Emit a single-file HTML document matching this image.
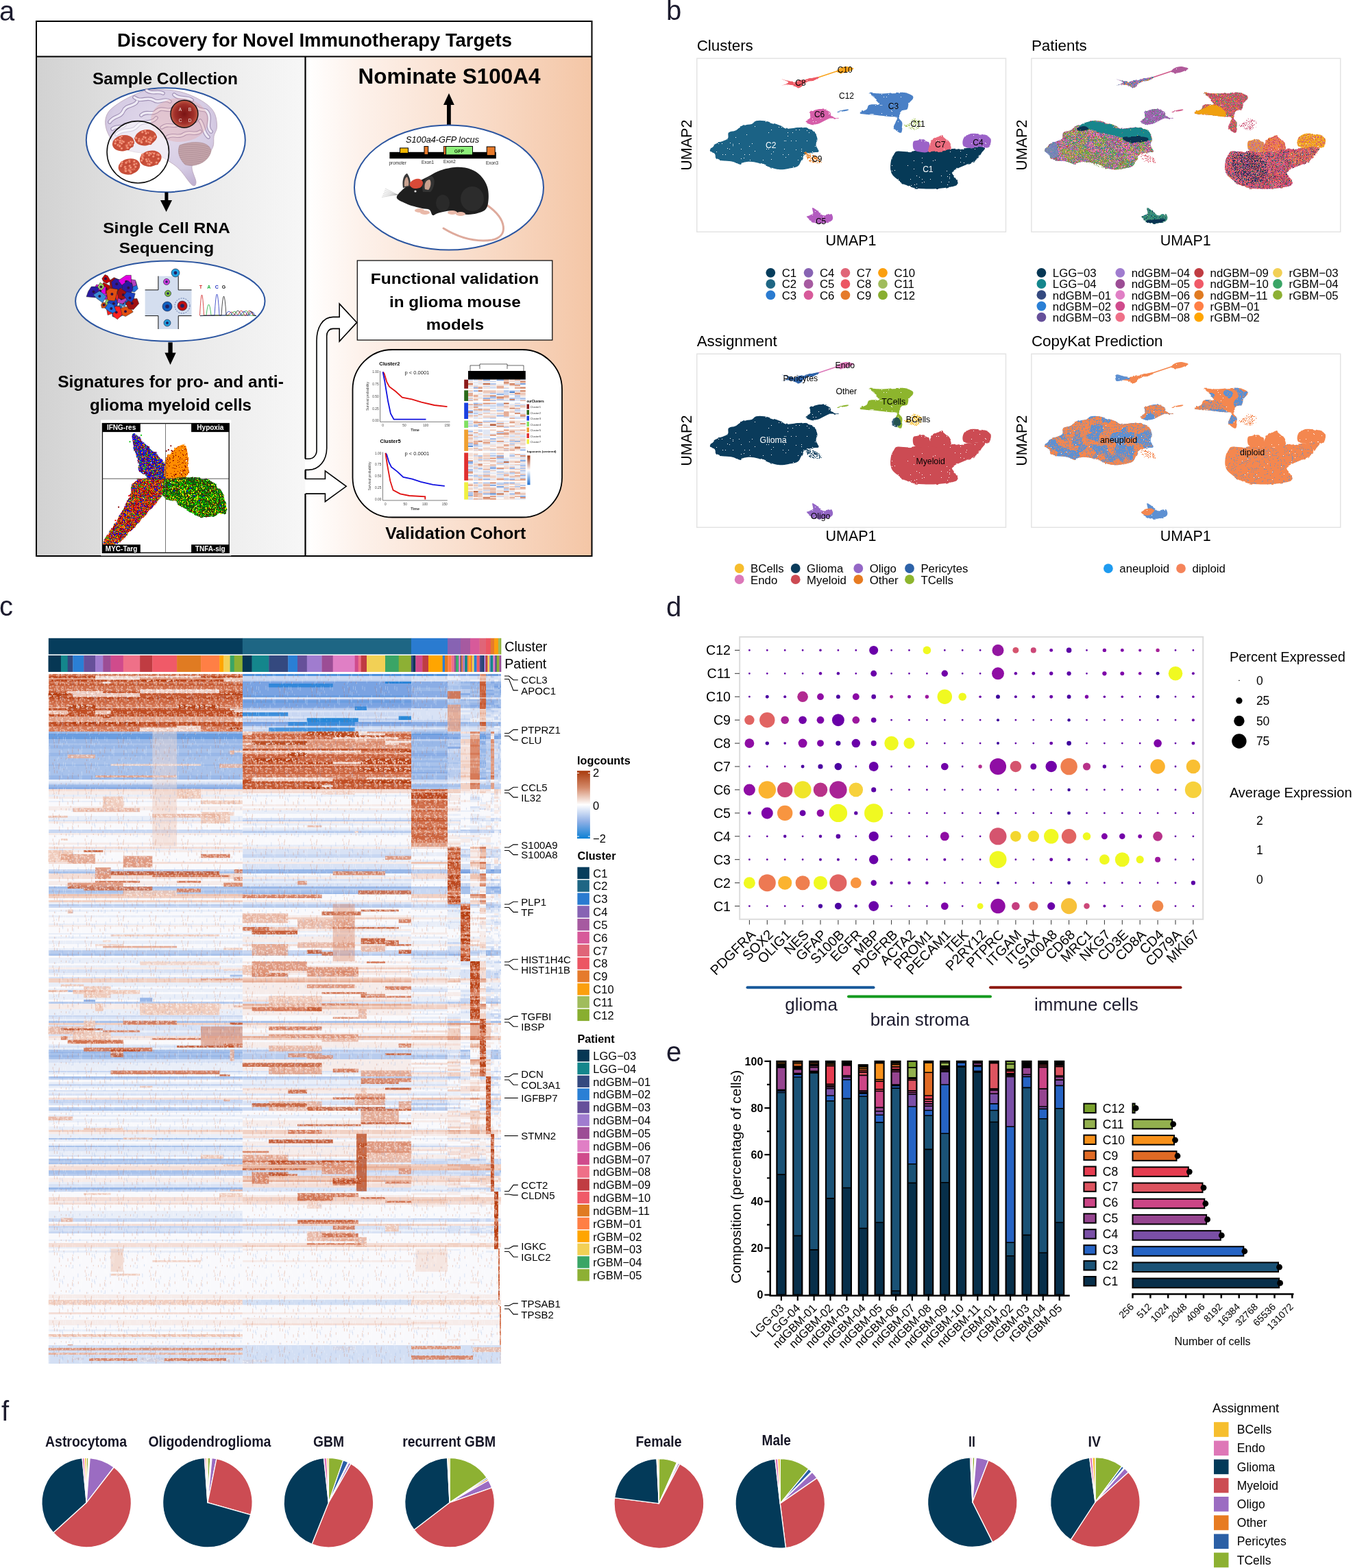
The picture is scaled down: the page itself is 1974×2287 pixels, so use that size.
<!DOCTYPE html>
<html><head><meta charset="utf-8"><title>Figure</title>
<style>
html,body{margin:0;padding:0;background:#fff;width:1974px;height:2287px;overflow:hidden}
svg{display:block;font-family:'Liberation Sans', Arial, Helvetica, sans-serif}
</style></head><body>
<svg xmlns="http://www.w3.org/2000/svg" width="1974" height="2287" viewBox="0 0 1974 2287">
<defs>
<linearGradient id="gL" x1="0" x2="1" y1="0" y2="0"><stop offset="0" stop-color="#d2d2d2"/><stop offset="0.45" stop-color="#e6e6e6"/><stop offset="1" stop-color="#f7f7f7"/></linearGradient>
<linearGradient id="gR" x1="0" x2="1" y1="0" y2="0"><stop offset="0" stop-color="#ffffff"/><stop offset="0.2" stop-color="#fdf1ea"/><stop offset="0.6" stop-color="#f9dcc9"/><stop offset="1" stop-color="#f4c6a6"/></linearGradient>
<radialGradient id="gTum" cx="0.5" cy="0.5" r="0.5"><stop offset="0" stop-color="#7a1414"/><stop offset="0.7" stop-color="#a1302a"/><stop offset="1" stop-color="#c25a45"/></radialGradient>
<radialGradient id="gBrain" cx="0.5" cy="0.4" r="0.65"><stop offset="0" stop-color="#e4dcec"/><stop offset="0.7" stop-color="#d6cce4"/><stop offset="1" stop-color="#bfb0d0"/></radialGradient>
<pattern id="pClus" width="6" height="6" patternUnits="userSpaceOnUse"><rect width="6" height="6" fill="#d9593f"/><circle cx="3" cy="3" r="1.6" fill="#f3a083"/></pattern>
</defs>
<text x="-1" y="30" font-size="40" fill="#1c1b2e">a</text>
<rect x="54" y="83" width="391.5" height="728" fill="url(#gL)"/>
<rect x="446" y="83" width="417" height="728" fill="url(#gR)"/>
<rect x="53" y="31" width="810.5" height="780" fill="none" stroke="#000" stroke-width="2"/>
<line x1="53" y1="82.5" x2="863.5" y2="82.5" stroke="#000" stroke-width="2"/>
<line x1="445.5" y1="82.5" x2="445.5" y2="669" stroke="#000" stroke-width="2.2"/>
<line x1="445.5" y1="720" x2="445.5" y2="811" stroke="#000" stroke-width="2.2"/>
<line x1="445.5" y1="685.5" x2="445.5" y2="698.5" stroke="#000" stroke-width="2.2"/>
<text x="459" y="67.5" font-size="27" text-anchor="middle" font-weight="bold" textLength="576" lengthAdjust="spacingAndGlyphs">Discovery for Novel Immunotherapy Targets</text>
<text x="241" y="122.8" font-size="24" text-anchor="middle" font-weight="bold" textLength="212" lengthAdjust="spacingAndGlyphs">Sample Collection</text>
<ellipse cx="241.8" cy="204.2" rx="116" ry="76" fill="#fff" stroke="#2b55a0" stroke-width="2"/>
<path d="M153.6 178.2C153.6 172.9 155.1 168 158 163.6C160.9 159.2 165.5 155.9 171.1 152C176.7 148.1 184.1 143.8 191.4 140.4C198.7 137 206.4 133.2 214.7 131.6C222.9 130 232.9 130.5 240.9 130.9C248.9 131.3 255.4 132 262.7 133.8C270 135.6 277.7 138.5 284.5 141.8C291.3 145.1 298.5 149.3 303.4 153.4C308.2 157.5 311.4 161.2 313.6 166.5C315.8 171.8 316.8 180.1 316.5 185.4C316.2 190.7 313.1 193.7 312.1 198.5C311.1 203.3 312.8 209.2 310.6 214.5C308.4 219.8 304.1 226 299 230.5C293.9 235 282.5 235.8 280.3 241.6C278.1 247.4 286 260.7 286 265.4C286 270.1 284.1 272.7 280.2 269.8C276.3 266.9 268.1 253.6 262.7 248C257.3 242.4 254.2 240.2 248.1 236.3C242 232.4 234.8 227.1 226.3 224.7C217.8 222.3 206.4 223.7 197.2 221.8C188 219.9 177.6 217.5 171.1 213.1C164.6 208.7 160.9 201.4 158 195.6C155.1 189.8 153.6 183.5 153.6 178.2Z" fill="url(#gBrain)" stroke="#b9a3b8" stroke-width="0.8"/>
<path d="M160 178 C166 168 176 172 180 162 C184 152 196 156 200 148" fill="none" stroke="#9f8fb4" stroke-width="5.6" stroke-linecap="round"/>
<path d="M170 196 C180 186 192 194 200 184 C208 174 220 182 228 172" fill="none" stroke="#9f8fb4" stroke-width="5.6" stroke-linecap="round"/>
<path d="M196 142 C206 150 214 140 224 146 C232 152 240 142 248 148" fill="none" stroke="#9f8fb4" stroke-width="5.6" stroke-linecap="round"/>
<path d="M228 162 C238 154 246 166 256 156 C262 150 270 156 276 150" fill="none" stroke="#9f8fb4" stroke-width="5.6" stroke-linecap="round"/>
<path d="M254 138 C262 146 272 140 280 146" fill="none" stroke="#9f8fb4" stroke-width="5.6" stroke-linecap="round"/>
<path d="M286 156 C294 164 300 156 304 166 C308 176 300 184 308 192" fill="none" stroke="#9f8fb4" stroke-width="5.6" stroke-linecap="round"/>
<path d="M292 176 C298 184 296 194 304 200" fill="none" stroke="#9f8fb4" stroke-width="5.6" stroke-linecap="round"/>
<path d="M206 168 C214 160 222 170 232 160" fill="none" stroke="#9f8fb4" stroke-width="5.6" stroke-linecap="round"/>
<path d="M180 206 C190 200 198 208 208 200" fill="none" stroke="#9f8fb4" stroke-width="5.6" stroke-linecap="round"/>
<path d="M236 186 C246 178 254 188 262 180 C270 172 278 182 286 176" fill="none" stroke="#9f8fb4" stroke-width="5.6" stroke-linecap="round"/>
<path d="M214 132 C222 138 230 132 238 136" fill="none" stroke="#9f8fb4" stroke-width="5.6" stroke-linecap="round"/>
<path d="M164 188 C170 182 176 188 182 182" fill="none" stroke="#9f8fb4" stroke-width="5.6" stroke-linecap="round"/>
<path d="M268 196 C276 190 284 198 292 192" fill="none" stroke="#9f8fb4" stroke-width="5.6" stroke-linecap="round"/>
<path d="M244 200 C252 194 260 202 268 196" fill="none" stroke="#9f8fb4" stroke-width="5.6" stroke-linecap="round"/>
<path d="M160 178 C166 168 176 172 180 162 C184 152 196 156 200 148" fill="none" stroke="#eeeaf5" stroke-width="3.4" stroke-linecap="round"/>
<path d="M170 196 C180 186 192 194 200 184 C208 174 220 182 228 172" fill="none" stroke="#eeeaf5" stroke-width="3.4" stroke-linecap="round"/>
<path d="M196 142 C206 150 214 140 224 146 C232 152 240 142 248 148" fill="none" stroke="#eeeaf5" stroke-width="3.4" stroke-linecap="round"/>
<path d="M228 162 C238 154 246 166 256 156 C262 150 270 156 276 150" fill="none" stroke="#eeeaf5" stroke-width="3.4" stroke-linecap="round"/>
<path d="M254 138 C262 146 272 140 280 146" fill="none" stroke="#eeeaf5" stroke-width="3.4" stroke-linecap="round"/>
<path d="M286 156 C294 164 300 156 304 166 C308 176 300 184 308 192" fill="none" stroke="#eeeaf5" stroke-width="3.4" stroke-linecap="round"/>
<path d="M292 176 C298 184 296 194 304 200" fill="none" stroke="#eeeaf5" stroke-width="3.4" stroke-linecap="round"/>
<path d="M206 168 C214 160 222 170 232 160" fill="none" stroke="#eeeaf5" stroke-width="3.4" stroke-linecap="round"/>
<path d="M180 206 C190 200 198 208 208 200" fill="none" stroke="#eeeaf5" stroke-width="3.4" stroke-linecap="round"/>
<path d="M236 186 C246 178 254 188 262 180 C270 172 278 182 286 176" fill="none" stroke="#eeeaf5" stroke-width="3.4" stroke-linecap="round"/>
<path d="M214 132 C222 138 230 132 238 136" fill="none" stroke="#eeeaf5" stroke-width="3.4" stroke-linecap="round"/>
<path d="M164 188 C170 182 176 188 182 182" fill="none" stroke="#eeeaf5" stroke-width="3.4" stroke-linecap="round"/>
<path d="M268 196 C276 190 284 198 292 192" fill="none" stroke="#eeeaf5" stroke-width="3.4" stroke-linecap="round"/>
<path d="M244 200 C252 194 260 202 268 196" fill="none" stroke="#eeeaf5" stroke-width="3.4" stroke-linecap="round"/>
<defs><clipPath id="cCb"><path d="M262 212 C280 205 305 205 308 220 C305 236 285 245 270 240 C262 232 258 222 262 212Z"/></clipPath></defs>
<path d="M262 212 C280 205 305 205 308 220 C305 236 285 245 270 240 C262 232 258 222 262 212Z" fill="#c4a4aa" stroke="#a98a92" stroke-width="0.6"/>
<g clip-path="url(#cCb)"><path d="M260 212 C280 209 296 211 310 216" fill="none" stroke="#a88890" stroke-width="0.6"/><path d="M260 215 C280 212 296 214 310 219" fill="none" stroke="#a88890" stroke-width="0.6"/><path d="M260 218 C280 215 296 217 310 222" fill="none" stroke="#a88890" stroke-width="0.6"/><path d="M260 221 C280 218 296 220 310 225" fill="none" stroke="#a88890" stroke-width="0.6"/><path d="M260 224 C280 221 296 223 310 228" fill="none" stroke="#a88890" stroke-width="0.6"/><path d="M260 227 C280 224 296 226 310 231" fill="none" stroke="#a88890" stroke-width="0.6"/><path d="M260 230 C280 227 296 229 310 234" fill="none" stroke="#a88890" stroke-width="0.6"/><path d="M260 233 C280 230 296 232 310 237" fill="none" stroke="#a88890" stroke-width="0.6"/><path d="M260 236 C280 233 296 235 310 240" fill="none" stroke="#a88890" stroke-width="0.6"/><path d="M260 239 C280 236 296 238 310 243" fill="none" stroke="#a88890" stroke-width="0.6"/><path d="M260 242 C280 239 296 241 310 246" fill="none" stroke="#a88890" stroke-width="0.6"/></g>
<ellipse cx="262" cy="175" rx="42" ry="32" fill="#e6a4a4" opacity="0.35"/>
<circle cx="268.9" cy="166.2" r="20" fill="url(#gTum)" stroke="#111" stroke-width="1.4"/>
<text x="263" y="162" font-size="6.5" text-anchor="middle" fill="#f4e6e0">A</text>
<text x="277" y="162" font-size="6.5" text-anchor="middle" fill="#f4e6e0">B</text>
<text x="263" y="178" font-size="6.5" text-anchor="middle" fill="#f4e6e0">C</text>
<text x="277" y="178" font-size="6.5" text-anchor="middle" fill="#f4e6e0">D</text>
<circle cx="201.3" cy="221.8" r="45.2" fill="#fff" fill-opacity="0.55" stroke="#111" stroke-width="1.6"/>
<defs><radialGradient id="gSph" cx="0.4" cy="0.35" r="0.6"><stop offset="0" stop-color="#f7c0a4"/><stop offset="0.5" stop-color="#e36a52"/><stop offset="1" stop-color="#b8402e"/></radialGradient></defs>
<ellipse cx="179.8" cy="208.7" rx="16" ry="11.5" fill="#c8503a" transform="rotate(-12 179.8 208.7)"/>
<ellipse cx="212.5" cy="200.7" rx="16" ry="11.5" fill="#c8503a" transform="rotate(-12 212.5 200.7)"/>
<ellipse cx="219.8" cy="231.2" rx="16" ry="11.5" fill="#c8503a" transform="rotate(-12 219.8 231.2)"/>
<ellipse cx="188.5" cy="242.9" rx="16" ry="11.5" fill="#c8503a" transform="rotate(-12 188.5 242.9)"/>
<circle cx="212.4" cy="191.6" r="2.6" fill="url(#gSph)"/>
<circle cx="208.3" cy="193.4" r="2.6" fill="url(#gSph)"/>
<circle cx="216.1" cy="194.5" r="2.6" fill="url(#gSph)"/>
<circle cx="213.6" cy="195.2" r="2.6" fill="url(#gSph)"/>
<circle cx="177.8" cy="199.5" r="2.6" fill="url(#gSph)"/>
<circle cx="226.4" cy="199.7" r="2.6" fill="url(#gSph)"/>
<circle cx="210.3" cy="200.7" r="2.6" fill="url(#gSph)"/>
<circle cx="219.7" cy="200.9" r="2.6" fill="url(#gSph)"/>
<circle cx="212.6" cy="201.6" r="2.6" fill="url(#gSph)"/>
<circle cx="198.9" cy="201.8" r="2.6" fill="url(#gSph)"/>
<circle cx="175.8" cy="201.8" r="2.6" fill="url(#gSph)"/>
<circle cx="219.7" cy="201.8" r="2.6" fill="url(#gSph)"/>
<circle cx="198.9" cy="202.1" r="2.6" fill="url(#gSph)"/>
<circle cx="225" cy="202.2" r="2.6" fill="url(#gSph)"/>
<circle cx="223.2" cy="202.6" r="2.6" fill="url(#gSph)"/>
<circle cx="221.5" cy="202.8" r="2.6" fill="url(#gSph)"/>
<circle cx="203.4" cy="203.6" r="2.6" fill="url(#gSph)"/>
<circle cx="217.6" cy="203.7" r="2.6" fill="url(#gSph)"/>
<circle cx="208.5" cy="203.8" r="2.6" fill="url(#gSph)"/>
<circle cx="220.8" cy="204.9" r="2.6" fill="url(#gSph)"/>
<circle cx="171.8" cy="205" r="2.6" fill="url(#gSph)"/>
<circle cx="214.4" cy="205.6" r="2.6" fill="url(#gSph)"/>
<circle cx="177.1" cy="205.6" r="2.6" fill="url(#gSph)"/>
<circle cx="206" cy="205.8" r="2.6" fill="url(#gSph)"/>
<circle cx="169.2" cy="205.9" r="2.6" fill="url(#gSph)"/>
<circle cx="175.7" cy="206" r="2.6" fill="url(#gSph)"/>
<circle cx="203.1" cy="206.1" r="2.6" fill="url(#gSph)"/>
<circle cx="178.8" cy="206.7" r="2.6" fill="url(#gSph)"/>
<circle cx="214.1" cy="206.8" r="2.6" fill="url(#gSph)"/>
<circle cx="206.3" cy="207" r="2.6" fill="url(#gSph)"/>
<circle cx="191.1" cy="207.6" r="2.6" fill="url(#gSph)"/>
<circle cx="180.8" cy="207.6" r="2.6" fill="url(#gSph)"/>
<circle cx="217.6" cy="207.8" r="2.6" fill="url(#gSph)"/>
<circle cx="193.4" cy="208" r="2.6" fill="url(#gSph)"/>
<circle cx="207" cy="208.3" r="2.6" fill="url(#gSph)"/>
<circle cx="175.6" cy="208.5" r="2.6" fill="url(#gSph)"/>
<circle cx="219.2" cy="208.6" r="2.6" fill="url(#gSph)"/>
<circle cx="188.4" cy="209.1" r="2.6" fill="url(#gSph)"/>
<circle cx="178" cy="209.8" r="2.6" fill="url(#gSph)"/>
<circle cx="168.6" cy="209.9" r="2.6" fill="url(#gSph)"/>
<circle cx="191.6" cy="211.8" r="2.6" fill="url(#gSph)"/>
<circle cx="192.2" cy="212.1" r="2.6" fill="url(#gSph)"/>
<circle cx="190.2" cy="212.3" r="2.6" fill="url(#gSph)"/>
<circle cx="172.5" cy="212.3" r="2.6" fill="url(#gSph)"/>
<circle cx="185" cy="212.7" r="2.6" fill="url(#gSph)"/>
<circle cx="186.7" cy="212.7" r="2.6" fill="url(#gSph)"/>
<circle cx="174.6" cy="213.2" r="2.6" fill="url(#gSph)"/>
<circle cx="185.5" cy="213.7" r="2.6" fill="url(#gSph)"/>
<circle cx="175.2" cy="213.9" r="2.6" fill="url(#gSph)"/>
<circle cx="185.8" cy="216.2" r="2.6" fill="url(#gSph)"/>
<circle cx="186.8" cy="216.4" r="2.6" fill="url(#gSph)"/>
<circle cx="177.9" cy="217.2" r="2.6" fill="url(#gSph)"/>
<circle cx="215.1" cy="224" r="2.6" fill="url(#gSph)"/>
<circle cx="218.9" cy="224.1" r="2.6" fill="url(#gSph)"/>
<circle cx="222.4" cy="224.2" r="2.6" fill="url(#gSph)"/>
<circle cx="225.3" cy="224.6" r="2.6" fill="url(#gSph)"/>
<circle cx="220.4" cy="225.1" r="2.6" fill="url(#gSph)"/>
<circle cx="230.5" cy="225.8" r="2.6" fill="url(#gSph)"/>
<circle cx="230.1" cy="226.4" r="2.6" fill="url(#gSph)"/>
<circle cx="208.5" cy="226.4" r="2.6" fill="url(#gSph)"/>
<circle cx="231.8" cy="226.7" r="2.6" fill="url(#gSph)"/>
<circle cx="218" cy="227" r="2.6" fill="url(#gSph)"/>
<circle cx="209.5" cy="228.4" r="2.6" fill="url(#gSph)"/>
<circle cx="224.2" cy="228.8" r="2.6" fill="url(#gSph)"/>
<circle cx="207.7" cy="229.4" r="2.6" fill="url(#gSph)"/>
<circle cx="208.2" cy="230.4" r="2.6" fill="url(#gSph)"/>
<circle cx="231.5" cy="232.1" r="2.6" fill="url(#gSph)"/>
<circle cx="208.8" cy="232.3" r="2.6" fill="url(#gSph)"/>
<circle cx="216.6" cy="233.2" r="2.6" fill="url(#gSph)"/>
<circle cx="213.8" cy="233.4" r="2.6" fill="url(#gSph)"/>
<circle cx="207.1" cy="234.9" r="2.6" fill="url(#gSph)"/>
<circle cx="189.2" cy="235.2" r="2.6" fill="url(#gSph)"/>
<circle cx="218.3" cy="235.9" r="2.6" fill="url(#gSph)"/>
<circle cx="214.9" cy="235.9" r="2.6" fill="url(#gSph)"/>
<circle cx="196.3" cy="236" r="2.6" fill="url(#gSph)"/>
<circle cx="189.1" cy="236.9" r="2.6" fill="url(#gSph)"/>
<circle cx="185.8" cy="237.2" r="2.6" fill="url(#gSph)"/>
<circle cx="178.4" cy="237.5" r="2.6" fill="url(#gSph)"/>
<circle cx="228.7" cy="237.8" r="2.6" fill="url(#gSph)"/>
<circle cx="221.1" cy="238" r="2.6" fill="url(#gSph)"/>
<circle cx="184.4" cy="238.1" r="2.6" fill="url(#gSph)"/>
<circle cx="199.1" cy="239.7" r="2.6" fill="url(#gSph)"/>
<circle cx="216.4" cy="239.8" r="2.6" fill="url(#gSph)"/>
<circle cx="217.4" cy="240.3" r="2.6" fill="url(#gSph)"/>
<circle cx="218.7" cy="240.4" r="2.6" fill="url(#gSph)"/>
<circle cx="196.3" cy="240.6" r="2.6" fill="url(#gSph)"/>
<circle cx="177.8" cy="241" r="2.6" fill="url(#gSph)"/>
<circle cx="189.7" cy="242.6" r="2.6" fill="url(#gSph)"/>
<circle cx="176.8" cy="242.8" r="2.6" fill="url(#gSph)"/>
<circle cx="198.1" cy="244.1" r="2.6" fill="url(#gSph)"/>
<circle cx="182.9" cy="244.3" r="2.6" fill="url(#gSph)"/>
<circle cx="191.1" cy="245.1" r="2.6" fill="url(#gSph)"/>
<circle cx="183.8" cy="246.8" r="2.6" fill="url(#gSph)"/>
<circle cx="183.8" cy="247.1" r="2.6" fill="url(#gSph)"/>
<circle cx="195.7" cy="247.8" r="2.6" fill="url(#gSph)"/>
<circle cx="189.1" cy="248.3" r="2.6" fill="url(#gSph)"/>
<circle cx="193.5" cy="248.4" r="2.6" fill="url(#gSph)"/>
<circle cx="191.3" cy="248.9" r="2.6" fill="url(#gSph)"/>
<circle cx="188.7" cy="249" r="2.6" fill="url(#gSph)"/>
<circle cx="188.5" cy="249.3" r="2.6" fill="url(#gSph)"/>
<circle cx="189.9" cy="249.8" r="2.6" fill="url(#gSph)"/>
<circle cx="183.3" cy="249.9" r="2.6" fill="url(#gSph)"/>
<circle cx="184" cy="250.2" r="2.6" fill="url(#gSph)"/>
<circle cx="191" cy="251.8" r="2.6" fill="url(#gSph)"/>
<rect x="240.4" y="280.5" width="5" height="13" fill="#000"/>
<path d="M234 292 251 292 242.6 309Z" fill="#000"/>
<text x="243" y="340.3" font-size="22" text-anchor="middle" font-weight="bold" textLength="185.5" lengthAdjust="spacingAndGlyphs">Single Cell RNA</text>
<text x="243" y="368.7" font-size="22" text-anchor="middle" font-weight="bold" textLength="138.4" lengthAdjust="spacingAndGlyphs">Sequencing</text>
<ellipse cx="248.3" cy="439.2" rx="138.2" ry="58.6" fill="#fff" stroke="#2b55a0" stroke-width="2"/>
<path d="M171.2 443 164.1 448.6 157.7 447 155.8 441.3 158.1 435.1 167.4 438.7Z" fill="#1a3fbf" stroke="#222" stroke-width="0.5"/>
<circle cx="162" cy="442.6" r="2" fill="#301040"/>
<path d="M180.8 459.1 171.6 463.7 164 461.6 163.5 455.8 166.8 444.5 177.8 447.3Z" fill="#1e6ee0" stroke="#222" stroke-width="0.5"/>
<circle cx="171.4" cy="456.4" r="2" fill="#301040"/>
<path d="M160.6 421.5 158.6 429.8 149.8 426.7 147 419 151.1 412 160.1 416.8Z" fill="#c00000" stroke="#222" stroke-width="0.5"/>
<circle cx="154.7" cy="421.3" r="2" fill="#301040"/>
<path d="M154.2 427.9 146.3 432.4 138.1 433.6 136.1 424.1 140.6 415 154.4 418.3Z" fill="#e000e0" stroke="#222" stroke-width="0.5"/>
<circle cx="146.1" cy="424.8" r="2" fill="#301040"/>
<path d="M188.4 426.3 182.5 434.2 171.7 428.3 173.1 421.3 177.5 413.5 188.7 417.6Z" fill="#7b2fbe" stroke="#222" stroke-width="0.5"/>
<circle cx="179.2" cy="423.4" r="2" fill="#301040"/>
<path d="M171.6 450.6 165.7 456.6 157.2 459.6 155.3 450.1 159.2 439.9 167.5 443.2Z" fill="#ff2020" stroke="#222" stroke-width="0.5"/>
<circle cx="162.8" cy="450.5" r="2" fill="#301040"/>
<path d="M144.1 429 139.3 433.9 126 432.8 128.8 424.9 133.3 418.1 143.7 418Z" fill="#2a1aa0" stroke="#222" stroke-width="0.5"/>
<circle cx="136.5" cy="425.5" r="2" fill="#301040"/>
<path d="M174.8 436.6 167.3 443.7 161.1 441 161.8 433.3 166.2 426 174.4 429.8Z" fill="#b040c0" stroke="#222" stroke-width="0.5"/>
<circle cx="166.9" cy="435.1" r="2" fill="#301040"/>
<path d="M155.5 446.1 153.8 449.1 148.5 449.2 147.5 444.7 149.6 440.9 154.1 441.7Z" fill="#e05010" stroke="#222" stroke-width="0.5"/>
<circle cx="151.5" cy="444.8" r="2" fill="#301040"/>
<path d="M190.7 418.8 186.7 422.5 178.4 422.9 179.2 416.7 183 414.1 188.5 414.1Z" fill="#9ad060" stroke="#222" stroke-width="0.5"/>
<circle cx="185.1" cy="418.1" r="2" fill="#301040"/>
<path d="M177.5 427.7 175 430.3 169.6 430 166.4 421.9 171.7 420.6 175.3 421.9Z" fill="#3a8ad8" stroke="#222" stroke-width="0.5"/>
<circle cx="172.5" cy="425.2" r="2" fill="#301040"/>
<path d="M178 414.9 171.7 426.3 160.8 420.4 160 409.2 166.4 404.7 174.5 408.6Z" fill="#a01010" stroke="#222" stroke-width="0.5"/>
<circle cx="170.2" cy="413.6" r="2" fill="#301040"/>
<path d="M191.1 439.4 185.4 444.8 175.3 441.1 177.4 435.4 180.6 431.5 187.1 430.5Z" fill="#1a3fbf" stroke="#222" stroke-width="0.5"/>
<circle cx="182.8" cy="436.4" r="2" fill="#301040"/>
<path d="M201.3 421.2 196.3 426 184.3 423.5 184.9 415.3 188.2 409.5 198.3 410.8Z" fill="#1e6ee0" stroke="#222" stroke-width="0.5"/>
<circle cx="192.2" cy="418.2" r="2" fill="#301040"/>
<path d="M194.2 434.9 188.9 436.1 181.1 438.9 181.2 428.7 185.4 421 191.6 426.5Z" fill="#c00000" stroke="#222" stroke-width="0.5"/>
<circle cx="186.5" cy="430.9" r="2" fill="#301040"/>
<path d="M162.6 434.1 159.1 438.2 152.7 436.4 153.2 429.6 155.5 427 160.8 426.7Z" fill="#e000e0" stroke="#222" stroke-width="0.5"/>
<circle cx="157.3" cy="431.3" r="2" fill="#301040"/>
<path d="M170.7 454.2 167.7 457.9 161 455 160.3 449.1 164.2 445.8 168.8 446.7Z" fill="#7b2fbe" stroke="#222" stroke-width="0.5"/>
<circle cx="165.8" cy="451.8" r="2" fill="#301040"/>
<path d="M177 435.8 169.1 444.9 161.3 442.6 156.4 431.8 162.9 426 172.5 428.4Z" fill="#ff2020" stroke="#222" stroke-width="0.5"/>
<circle cx="167.5" cy="435" r="2" fill="#301040"/>
<path d="M180.2 418.2 172.9 422.9 164.2 420.3 162.5 411.4 168.1 406.2 178.2 409Z" fill="#2a1aa0" stroke="#222" stroke-width="0.5"/>
<circle cx="170.2" cy="414.2" r="2" fill="#301040"/>
<path d="M199.2 416.2 191.3 418.9 187.2 419.2 185.1 413.5 187.2 407 197.6 408.5Z" fill="#b040c0" stroke="#222" stroke-width="0.5"/>
<circle cx="190.8" cy="413.7" r="2" fill="#301040"/>
<path d="M194.2 455.1 183.2 461.5 175.9 458.8 171.4 451.4 182.2 447.4 189.1 447.6Z" fill="#e05010" stroke="#222" stroke-width="0.5"/>
<circle cx="183" cy="454.3" r="2" fill="#301040"/>
<path d="M164.6 445.3 161.8 450.2 156.9 449 153.3 441.4 155.7 435.2 167.5 437.9Z" fill="#9ad060" stroke="#222" stroke-width="0.5"/>
<circle cx="160.1" cy="443.6" r="2" fill="#301040"/>
<path d="M183.7 444.1 181.7 447.1 173.7 446.1 175.1 441.7 178.9 436.4 182.4 439.7Z" fill="#3a8ad8" stroke="#222" stroke-width="0.5"/>
<circle cx="179.3" cy="442.3" r="2" fill="#301040"/>
<path d="M202.7 442.8 194.7 451.5 187.7 450.5 183.2 442.2 190.8 435.9 199.9 435.6Z" fill="#a01010" stroke="#222" stroke-width="0.5"/>
<circle cx="192.8" cy="442.5" r="2" fill="#301040"/>
<path d="M171.9 443.5 168.3 448 161.7 448.6 156.3 441.3 162.8 435.1 170.1 436.7Z" fill="#1a3fbf" stroke="#222" stroke-width="0.5"/>
<circle cx="165.9" cy="442.7" r="2" fill="#301040"/>
<path d="M187.2 437.5 184.2 440.4 178.6 437.7 177.1 433.4 180.1 429 185.6 431.3Z" fill="#1e6ee0" stroke="#222" stroke-width="0.5"/>
<circle cx="181.9" cy="435.5" r="2" fill="#301040"/>
<path d="M161.5 409.9 155.4 413.2 150.7 410.5 148.8 406.2 153.1 400.6 157 402.2Z" fill="#c00000" stroke="#222" stroke-width="0.5"/>
<circle cx="154" cy="406.6" r="2" fill="#301040"/>
<path d="M191.6 411.9 187.5 419 179.3 418 172.5 409.3 183.9 401.5 191.3 401.4Z" fill="#e000e0" stroke="#222" stroke-width="0.5"/>
<circle cx="184.2" cy="410.8" r="2" fill="#301040"/>
<path d="M165.4 450 161.4 453.2 157.7 451.6 156.3 448.5 159 445.5 162.6 445Z" fill="#7b2fbe" stroke="#222" stroke-width="0.5"/>
<circle cx="160.2" cy="449" r="2" fill="#301040"/>
<path d="M178.2 459 171.4 465.8 164.9 461.1 164.1 452.6 168.2 446.7 174.9 447Z" fill="#ff2020" stroke="#222" stroke-width="0.5"/>
<circle cx="169.7" cy="455.6" r="2" fill="#301040"/>
<path d="M193.8 422.6 189.7 428.8 178.2 426.4 178.2 415.8 186.5 409.3 193.2 414.8Z" fill="#2a1aa0" stroke="#222" stroke-width="0.5"/>
<circle cx="187.3" cy="419.8" r="2" fill="#301040"/>
<path d="M186.1 436.2 179 443.5 171 441.3 172.3 434.6 176 427.2 182.4 430.4Z" fill="#b040c0" stroke="#222" stroke-width="0.5"/>
<circle cx="177.1" cy="435.7" r="2" fill="#301040"/>
<path d="M170 429.9 167.5 439.1 157 437.9 155.1 424.7 160.3 420.3 171.8 421.9Z" fill="#e05010" stroke="#222" stroke-width="0.5"/>
<circle cx="163.4" cy="429.1" r="2" fill="#301040"/>
<path d="M152.2 418.9 148.1 423.6 144.5 421.3 142.4 418.4 146.1 412.1 151.2 415.3Z" fill="#9ad060" stroke="#222" stroke-width="0.5"/>
<circle cx="147.4" cy="418.6" r="2" fill="#301040"/>
<path d="M155.3 432.6 149.6 441.6 140.8 435 136 429.9 145 424.4 149.2 427Z" fill="#3a8ad8" stroke="#222" stroke-width="0.5"/>
<circle cx="145.3" cy="432" r="2" fill="#301040"/>
<path d="M188.4 430.7 180.1 436.5 172.9 435.2 171 425.9 175.5 420.1 183.8 425.8Z" fill="#a01010" stroke="#222" stroke-width="0.5"/>
<circle cx="179.8" cy="430" r="2" fill="#301040"/>
<path d="M195.4 435.3 191.9 440.9 185.3 437.5 180.6 430.9 185 425.4 197.2 428.1Z" fill="#1a3fbf" stroke="#222" stroke-width="0.5"/>
<circle cx="189.5" cy="434.4" r="2" fill="#301040"/>
<path d="M169.3 453.9 164.7 456.8 159.1 454.2 153.1 449.6 158.7 441.1 166.1 445Z" fill="#1e6ee0" stroke="#222" stroke-width="0.5"/>
<circle cx="162.3" cy="450.1" r="2" fill="#301040"/>
<path d="M230.9 402.7H260.2V422.9H279.5V460.6H260.2V480H230.9V460.6H211.6V422.9H230.9Z" fill="#d4deef"/>
<path d="M230.9 402.7V422.9H211.6M260.2 402.7V422.9H279.5M211.6 460.6H230.9V480M279.5 460.6H260.2V480" fill="none" stroke="#111" stroke-width="1"/>
<circle cx="243" cy="411" r="4.5" fill="#d040e0" stroke="#113" stroke-width="0.6"/><circle cx="243" cy="411" r="1.8" fill="#202060"/>
<circle cx="245" cy="428" r="4.5" fill="#80c040" stroke="#113" stroke-width="0.6"/><circle cx="245" cy="428" r="1.8" fill="#202060"/>
<circle cx="244" cy="447" r="7" fill="#1060c0" stroke="#113" stroke-width="0.6"/><circle cx="244" cy="447" r="2.8000000000000003" fill="#202060"/>
<circle cx="266" cy="446" r="7" fill="#c01010" stroke="#113" stroke-width="0.6"/><circle cx="266" cy="446" r="2.8000000000000003" fill="#202060"/>
<circle cx="244" cy="471" r="5" fill="#20a0e0" stroke="#113" stroke-width="0.6"/><circle cx="244" cy="471" r="2.0" fill="#202060"/>
<circle cx="256" cy="398" r="6" fill="#20a0e0" stroke="#113" stroke-width="0.6"/><circle cx="256" cy="398" r="2.4000000000000004" fill="#202060"/>
<circle cx="266" cy="446" r="11" fill="none" stroke="#2b4a90" stroke-width="0.7" stroke-dasharray="2 1.5"/>
<text x="293" y="420.5" font-size="7" text-anchor="middle" font-weight="bold" fill="#d02020">T</text>
<text x="304.7" y="420.5" font-size="7" text-anchor="middle" font-weight="bold" fill="#20b040">A</text>
<text x="316.4" y="420.5" font-size="7" text-anchor="middle" font-weight="bold" fill="#2030c0">C</text>
<text x="326.5" y="420.5" font-size="7" text-anchor="middle" font-weight="bold" fill="#222">G</text>
<path d="M292 460.6 L291.5 460 Q294.5 400 297.5 460 L333 460 Q338 450 343 460 L347 460 Q352 446 357 460 L359 460 Q364 446 369 460 L374 460.6" fill="none" stroke="#d02020" stroke-width="0.8"/>
<path d="M292 460.6 L301 460 Q304.5 428 308 460 L337 460 Q342 448 347 460 L354 460 Q359 446 364 460 L374 460.6" fill="none" stroke="#20b040" stroke-width="0.8"/>
<path d="M292 460.6 L313 460 Q316.5 398 320 460 L329 460 Q334 448 339 460 L351 460 Q356 448 361 460 L364 460 Q368 450 372 460 L374 460.6" fill="none" stroke="#2030c0" stroke-width="0.8"/>
<path d="M292 460.6 L323 460 Q326.5 404 330 460 L342 460 Q347 446 352 460 L362 460 Q366 448 370 460 L374 460.6" fill="none" stroke="#222" stroke-width="0.8"/>
<rect x="245.4" y="499.4" width="6.3" height="16" fill="#000"/>
<path d="M240.4 514.5 256.7 514.5 248.5 532.1Z" fill="#000"/>
<text x="249" y="564.9" font-size="23" text-anchor="middle" font-weight="bold" textLength="329.7" lengthAdjust="spacingAndGlyphs">Signatures for pro- and anti-</text>
<text x="249" y="598.8" font-size="23" text-anchor="middle" font-weight="bold" textLength="236" lengthAdjust="spacingAndGlyphs">glioma myeloid cells</text>
<rect x="147.2" y="612.5" width="190" height="198" fill="#fff"/>
<rect x="149.4" y="617.6" width="184.8" height="188.7" fill="#fff" stroke="#111" stroke-width="1.4"/>
<defs><filter id="aB" x="-5%" y="-5%" width="110%" height="110%" color-interpolation-filters="sRGB"><feTurbulence type="fractalNoise" baseFrequency="0.12" numOctaves="2" seed="3" result="t"/><feDisplacementMap in="SourceGraphic" in2="t" scale="5" xChannelSelector="R" yChannelSelector="G" result="d"/><feTurbulence type="fractalNoise" baseFrequency="0.35" numOctaves="1" seed="4" result="n"/><feColorMatrix in="n" type="matrix" values="0 0 0 0 0 0 0 0 0 0 0 0 0 0 0 1 0 0 0 0" result="r"/><feComponentTransfer in="r" result="m"><feFuncA type="discrete" tableValues="0 0 0 0 0 1 1 1 1 1 1 1 1 1 1 0 0 0 0 0"/></feComponentTransfer><feComposite in="d" in2="m" operator="in"/></filter><filter id="aM1" x="-5%" y="-5%" width="110%" height="110%" color-interpolation-filters="sRGB"><feTurbulence type="fractalNoise" baseFrequency="0.12" numOctaves="2" seed="3" result="t"/><feDisplacementMap in="SourceGraphic" in2="t" scale="5" xChannelSelector="R" yChannelSelector="G" result="d"/><feTurbulence type="fractalNoise" baseFrequency="0.35" numOctaves="1" seed="41" result="n"/><feColorMatrix in="n" type="matrix" values="0 0 0 0 0 0 0 0 0 0 0 0 0 0 0 1 0 0 0 0" result="r"/><feComponentTransfer in="r" result="m"><feFuncA type="discrete" tableValues="0 0 0 0 0 0 0 0 1 1 0 0 0 0 0 0 0 0 0 0"/></feComponentTransfer><feComposite in="d" in2="m" operator="in"/></filter><filter id="aS1" x="-5%" y="-5%" width="110%" height="110%" color-interpolation-filters="sRGB"><feTurbulence type="fractalNoise" baseFrequency="0.12" numOctaves="2" seed="3" result="t"/><feDisplacementMap in="SourceGraphic" in2="t" scale="5" xChannelSelector="R" yChannelSelector="G" result="d"/><feTurbulence type="fractalNoise" baseFrequency="0.35" numOctaves="1" seed="83" result="n"/><feColorMatrix in="n" type="matrix" values="0 0 0 0 0 0 0 0 0 0 0 0 0 0 0 1 0 0 0 0" result="r"/><feComponentTransfer in="r" result="m"><feFuncA type="discrete" tableValues="0 0 0 0 0 0 0 0 0 0 0 1 0 0 0 0 0 0 0 0"/></feComponentTransfer><feComposite in="d" in2="m" operator="in"/></filter><filter id="aM2" x="-5%" y="-5%" width="110%" height="110%" color-interpolation-filters="sRGB"><feTurbulence type="fractalNoise" baseFrequency="0.12" numOctaves="2" seed="3" result="t"/><feDisplacementMap in="SourceGraphic" in2="t" scale="5" xChannelSelector="R" yChannelSelector="G" result="d"/><feTurbulence type="fractalNoise" baseFrequency="0.35" numOctaves="1" seed="52" result="n"/><feColorMatrix in="n" type="matrix" values="0 0 0 0 0 0 0 0 0 0 0 0 0 0 0 1 0 0 0 0" result="r"/><feComponentTransfer in="r" result="m"><feFuncA type="discrete" tableValues="0 0 0 0 0 0 0 0 1 1 0 0 0 0 0 0 0 0 0 0"/></feComponentTransfer><feComposite in="d" in2="m" operator="in"/></filter><filter id="aS2" x="-5%" y="-5%" width="110%" height="110%" color-interpolation-filters="sRGB"><feTurbulence type="fractalNoise" baseFrequency="0.12" numOctaves="2" seed="3" result="t"/><feDisplacementMap in="SourceGraphic" in2="t" scale="5" xChannelSelector="R" yChannelSelector="G" result="d"/><feTurbulence type="fractalNoise" baseFrequency="0.35" numOctaves="1" seed="96" result="n"/><feColorMatrix in="n" type="matrix" values="0 0 0 0 0 0 0 0 0 0 0 0 0 0 0 1 0 0 0 0" result="r"/><feComponentTransfer in="r" result="m"><feFuncA type="discrete" tableValues="0 0 0 0 0 0 0 0 0 0 0 1 0 0 0 0 0 0 0 0"/></feComponentTransfer><feComposite in="d" in2="m" operator="in"/></filter><filter id="aM3" x="-5%" y="-5%" width="110%" height="110%" color-interpolation-filters="sRGB"><feTurbulence type="fractalNoise" baseFrequency="0.12" numOctaves="2" seed="3" result="t"/><feDisplacementMap in="SourceGraphic" in2="t" scale="5" xChannelSelector="R" yChannelSelector="G" result="d"/><feTurbulence type="fractalNoise" baseFrequency="0.35" numOctaves="1" seed="63" result="n"/><feColorMatrix in="n" type="matrix" values="0 0 0 0 0 0 0 0 0 0 0 0 0 0 0 1 0 0 0 0" result="r"/><feComponentTransfer in="r" result="m"><feFuncA type="discrete" tableValues="0 0 0 0 0 0 0 0 1 1 0 0 0 0 0 0 0 0 0 0"/></feComponentTransfer><feComposite in="d" in2="m" operator="in"/></filter><filter id="aS3" x="-5%" y="-5%" width="110%" height="110%" color-interpolation-filters="sRGB"><feTurbulence type="fractalNoise" baseFrequency="0.12" numOctaves="2" seed="3" result="t"/><feDisplacementMap in="SourceGraphic" in2="t" scale="5" xChannelSelector="R" yChannelSelector="G" result="d"/><feTurbulence type="fractalNoise" baseFrequency="0.35" numOctaves="1" seed="109" result="n"/><feColorMatrix in="n" type="matrix" values="0 0 0 0 0 0 0 0 0 0 0 0 0 0 0 1 0 0 0 0" result="r"/><feComponentTransfer in="r" result="m"><feFuncA type="discrete" tableValues="0 0 0 0 0 0 0 0 0 0 0 1 0 0 0 0 0 0 0 0"/></feComponentTransfer><feComposite in="d" in2="m" operator="in"/></filter><filter id="aM4" x="-5%" y="-5%" width="110%" height="110%" color-interpolation-filters="sRGB"><feTurbulence type="fractalNoise" baseFrequency="0.12" numOctaves="2" seed="3" result="t"/><feDisplacementMap in="SourceGraphic" in2="t" scale="5" xChannelSelector="R" yChannelSelector="G" result="d"/><feTurbulence type="fractalNoise" baseFrequency="0.35" numOctaves="1" seed="74" result="n"/><feColorMatrix in="n" type="matrix" values="0 0 0 0 0 0 0 0 0 0 0 0 0 0 0 1 0 0 0 0" result="r"/><feComponentTransfer in="r" result="m"><feFuncA type="discrete" tableValues="0 0 0 0 0 0 0 0 1 1 0 0 0 0 0 0 0 0 0 0"/></feComponentTransfer><feComposite in="d" in2="m" operator="in"/></filter><filter id="aS4" x="-5%" y="-5%" width="110%" height="110%" color-interpolation-filters="sRGB"><feTurbulence type="fractalNoise" baseFrequency="0.12" numOctaves="2" seed="3" result="t"/><feDisplacementMap in="SourceGraphic" in2="t" scale="5" xChannelSelector="R" yChannelSelector="G" result="d"/><feTurbulence type="fractalNoise" baseFrequency="0.35" numOctaves="1" seed="122" result="n"/><feColorMatrix in="n" type="matrix" values="0 0 0 0 0 0 0 0 0 0 0 0 0 0 0 1 0 0 0 0" result="r"/><feComponentTransfer in="r" result="m"><feFuncA type="discrete" tableValues="0 0 0 0 0 0 0 0 0 0 0 1 0 0 0 0 0 0 0 0"/></feComponentTransfer><feComposite in="d" in2="m" operator="in"/></filter><filter id="aM5" x="-5%" y="-5%" width="110%" height="110%" color-interpolation-filters="sRGB"><feTurbulence type="fractalNoise" baseFrequency="0.12" numOctaves="2" seed="3" result="t"/><feDisplacementMap in="SourceGraphic" in2="t" scale="5" xChannelSelector="R" yChannelSelector="G" result="d"/><feTurbulence type="fractalNoise" baseFrequency="0.35" numOctaves="1" seed="85" result="n"/><feColorMatrix in="n" type="matrix" values="0 0 0 0 0 0 0 0 0 0 0 0 0 0 0 1 0 0 0 0" result="r"/><feComponentTransfer in="r" result="m"><feFuncA type="discrete" tableValues="0 0 0 0 0 0 0 0 1 1 0 0 0 0 0 0 0 0 0 0"/></feComponentTransfer><feComposite in="d" in2="m" operator="in"/></filter><filter id="aS5" x="-5%" y="-5%" width="110%" height="110%" color-interpolation-filters="sRGB"><feTurbulence type="fractalNoise" baseFrequency="0.12" numOctaves="2" seed="3" result="t"/><feDisplacementMap in="SourceGraphic" in2="t" scale="5" xChannelSelector="R" yChannelSelector="G" result="d"/><feTurbulence type="fractalNoise" baseFrequency="0.35" numOctaves="1" seed="135" result="n"/><feColorMatrix in="n" type="matrix" values="0 0 0 0 0 0 0 0 0 0 0 0 0 0 0 1 0 0 0 0" result="r"/><feComponentTransfer in="r" result="m"><feFuncA type="discrete" tableValues="0 0 0 0 0 0 0 0 0 0 0 1 0 0 0 0 0 0 0 0"/></feComponentTransfer><feComposite in="d" in2="m" operator="in"/></filter><filter id="aM6" x="-5%" y="-5%" width="110%" height="110%" color-interpolation-filters="sRGB"><feTurbulence type="fractalNoise" baseFrequency="0.12" numOctaves="2" seed="3" result="t"/><feDisplacementMap in="SourceGraphic" in2="t" scale="5" xChannelSelector="R" yChannelSelector="G" result="d"/><feTurbulence type="fractalNoise" baseFrequency="0.35" numOctaves="1" seed="96" result="n"/><feColorMatrix in="n" type="matrix" values="0 0 0 0 0 0 0 0 0 0 0 0 0 0 0 1 0 0 0 0" result="r"/><feComponentTransfer in="r" result="m"><feFuncA type="discrete" tableValues="0 0 0 0 0 0 0 0 1 1 0 0 0 0 0 0 0 0 0 0"/></feComponentTransfer><feComposite in="d" in2="m" operator="in"/></filter><filter id="aS6" x="-5%" y="-5%" width="110%" height="110%" color-interpolation-filters="sRGB"><feTurbulence type="fractalNoise" baseFrequency="0.12" numOctaves="2" seed="3" result="t"/><feDisplacementMap in="SourceGraphic" in2="t" scale="5" xChannelSelector="R" yChannelSelector="G" result="d"/><feTurbulence type="fractalNoise" baseFrequency="0.35" numOctaves="1" seed="148" result="n"/><feColorMatrix in="n" type="matrix" values="0 0 0 0 0 0 0 0 0 0 0 0 0 0 0 1 0 0 0 0" result="r"/><feComponentTransfer in="r" result="m"><feFuncA type="discrete" tableValues="0 0 0 0 0 0 0 0 0 0 0 1 0 0 0 0 0 0 0 0"/></feComponentTransfer><feComposite in="d" in2="m" operator="in"/></filter></defs>
<path d="M150.5 794.3C150.5 790.7 156.9 781.6 161.4 773.6C165.9 765.6 172.8 755.4 177.7 746.3C182.6 737.2 187.5 726.7 190.8 719.1C194.1 711.5 188.9 704 197.3 700.5C205.7 697 233.9 695.2 241 698.3C248.1 701.4 243.2 712 239.9 719.1C236.6 726.2 226.9 734.5 221.3 740.9C215.7 747.2 211 751.8 206.1 757.2C201.2 762.7 197 768.1 191.9 773.6C186.8 779.1 180.6 786.4 175.5 790C170.4 793.6 165.6 794.7 161.4 795.4C157.2 796.1 150.5 797.9 150.5 794.3Z" fill="#d02418" filter="url(#aB)"/>
<path d="M150.5 794.3C150.5 790.7 156.9 781.6 161.4 773.6C165.9 765.6 172.8 755.4 177.7 746.3C182.6 737.2 187.5 726.7 190.8 719.1C194.1 711.5 188.9 704 197.3 700.5C205.7 697 233.9 695.2 241 698.3C248.1 701.4 243.2 712 239.9 719.1C236.6 726.2 226.9 734.5 221.3 740.9C215.7 747.2 211 751.8 206.1 757.2C201.2 762.7 197 768.1 191.9 773.6C186.8 779.1 180.6 786.4 175.5 790C170.4 793.6 165.6 794.7 161.4 795.4C157.2 796.1 150.5 797.9 150.5 794.3Z" fill="#0000ff" filter="url(#aM1)"/>
<path d="M150.5 794.3C150.5 790.7 156.9 781.6 161.4 773.6C165.9 765.6 172.8 755.4 177.7 746.3C182.6 737.2 187.5 726.7 190.8 719.1C194.1 711.5 188.9 704 197.3 700.5C205.7 697 233.9 695.2 241 698.3C248.1 701.4 243.2 712 239.9 719.1C236.6 726.2 226.9 734.5 221.3 740.9C215.7 747.2 211 751.8 206.1 757.2C201.2 762.7 197 768.1 191.9 773.6C186.8 779.1 180.6 786.4 175.5 790C170.4 793.6 165.6 794.7 161.4 795.4C157.2 796.1 150.5 797.9 150.5 794.3Z" fill="#ff8c00" filter="url(#aS2)"/>
<path d="M150.5 794.3C150.5 790.7 156.9 781.6 161.4 773.6C165.9 765.6 172.8 755.4 177.7 746.3C182.6 737.2 187.5 726.7 190.8 719.1C194.1 711.5 188.9 704 197.3 700.5C205.7 697 233.9 695.2 241 698.3C248.1 701.4 243.2 712 239.9 719.1C236.6 726.2 226.9 734.5 221.3 740.9C215.7 747.2 211 751.8 206.1 757.2C201.2 762.7 197 768.1 191.9 773.6C186.8 779.1 180.6 786.4 175.5 790C170.4 793.6 165.6 794.7 161.4 795.4C157.2 796.1 150.5 797.9 150.5 794.3Z" fill="#8b0000" filter="url(#aM3)"/>
<path d="M150.5 794.3C150.5 790.7 156.9 781.6 161.4 773.6C165.9 765.6 172.8 755.4 177.7 746.3C182.6 737.2 187.5 726.7 190.8 719.1C194.1 711.5 188.9 704 197.3 700.5C205.7 697 233.9 695.2 241 698.3C248.1 701.4 243.2 712 239.9 719.1C236.6 726.2 226.9 734.5 221.3 740.9C215.7 747.2 211 751.8 206.1 757.2C201.2 762.7 197 768.1 191.9 773.6C186.8 779.1 180.6 786.4 175.5 790C170.4 793.6 165.6 794.7 161.4 795.4C157.2 796.1 150.5 797.9 150.5 794.3Z" fill="#00d000" filter="url(#aS4)"/>
<path d="M150.5 794.3C150.5 790.7 156.9 781.6 161.4 773.6C165.9 765.6 172.8 755.4 177.7 746.3C182.6 737.2 187.5 726.7 190.8 719.1C194.1 711.5 188.9 704 197.3 700.5C205.7 697 233.9 695.2 241 698.3C248.1 701.4 243.2 712 239.9 719.1C236.6 726.2 226.9 734.5 221.3 740.9C215.7 747.2 211 751.8 206.1 757.2C201.2 762.7 197 768.1 191.9 773.6C186.8 779.1 180.6 786.4 175.5 790C170.4 793.6 165.6 794.7 161.4 795.4C157.2 796.1 150.5 797.9 150.5 794.3Z" fill="#ff8c00" filter="url(#aS5)"/>
<path d="M241 698.3C248.6 693.2 275.5 696.6 286.8 697.3C298.1 698 302.4 699.1 308.6 702.7C314.8 706.3 320.3 711.8 323.9 719.1C327.5 726.4 331.1 741.2 330.4 746.3C329.7 751.4 324.1 748.1 319.5 749.6C314.9 751.1 310.4 755.5 303.1 755C295.8 754.5 284.1 750.5 275.9 746.3C267.7 742.1 259.9 733 254.1 729.9C248.3 726.8 243.2 733.1 241 727.8C238.8 722.5 233.4 703.4 241 698.3Z" fill="#0c5c0c" filter="url(#aB)"/>
<path d="M241 698.3C248.6 693.2 275.5 696.6 286.8 697.3C298.1 698 302.4 699.1 308.6 702.7C314.8 706.3 320.3 711.8 323.9 719.1C327.5 726.4 331.1 741.2 330.4 746.3C329.7 751.4 324.1 748.1 319.5 749.6C314.9 751.1 310.4 755.5 303.1 755C295.8 754.5 284.1 750.5 275.9 746.3C267.7 742.1 259.9 733 254.1 729.9C248.3 726.8 243.2 733.1 241 727.8C238.8 722.5 233.4 703.4 241 698.3Z" fill="#00e000" filter="url(#aS1)"/>
<path d="M241 698.3C248.6 693.2 275.5 696.6 286.8 697.3C298.1 698 302.4 699.1 308.6 702.7C314.8 706.3 320.3 711.8 323.9 719.1C327.5 726.4 331.1 741.2 330.4 746.3C329.7 751.4 324.1 748.1 319.5 749.6C314.9 751.1 310.4 755.5 303.1 755C295.8 754.5 284.1 750.5 275.9 746.3C267.7 742.1 259.9 733 254.1 729.9C248.3 726.8 243.2 733.1 241 727.8C238.8 722.5 233.4 703.4 241 698.3Z" fill="#00e000" filter="url(#aS2)"/>
<path d="M241 698.3C248.6 693.2 275.5 696.6 286.8 697.3C298.1 698 302.4 699.1 308.6 702.7C314.8 706.3 320.3 711.8 323.9 719.1C327.5 726.4 331.1 741.2 330.4 746.3C329.7 751.4 324.1 748.1 319.5 749.6C314.9 751.1 310.4 755.5 303.1 755C295.8 754.5 284.1 750.5 275.9 746.3C267.7 742.1 259.9 733 254.1 729.9C248.3 726.8 243.2 733.1 241 727.8C238.8 722.5 233.4 703.4 241 698.3Z" fill="#ffff00" filter="url(#aS3)"/>
<path d="M241 698.3C248.6 693.2 275.5 696.6 286.8 697.3C298.1 698 302.4 699.1 308.6 702.7C314.8 706.3 320.3 711.8 323.9 719.1C327.5 726.4 331.1 741.2 330.4 746.3C329.7 751.4 324.1 748.1 319.5 749.6C314.9 751.1 310.4 755.5 303.1 755C295.8 754.5 284.1 750.5 275.9 746.3C267.7 742.1 259.9 733 254.1 729.9C248.3 726.8 243.2 733.1 241 727.8C238.8 722.5 233.4 703.4 241 698.3Z" fill="#8b0000" filter="url(#aS4)"/>
<path d="M188.1 750.3h0M195.3 732.5h0M205.4 716.4h0M184 748.9h0M209.1 699.4h0M195.9 728.9h0M179.6 785.9h0M176.6 759.2h0M195.6 760.7h0M203 720.5h0M203.4 738.4h0M193.7 732.2h0M178.8 768.8h0M179.8 766.8h0M161.7 773.5h0M263 674.9h0M252.8 665h0M255.3 655h0M255.1 653.8h0M252.7 664.1h0M260.5 675.9h0M253.5 671.5h0M255.5 662.3h0M263.8 669.9h0M252.8 680.6h0M262.8 677.2h0" stroke="#ff8c00" stroke-width="2.2" stroke-linecap="round" fill="none"/>
<path d="M175.9 771.4h0M178.7 775.4h0M196.1 709.7h0M196.2 723.8h0M195 739.6h0M213.3 714.3h0M173.1 739.7h0M213.3 734.8h0M186.8 753.4h0M198.6 749.7h0M162.2 784.9h0M176.1 754.9h0M182.8 750.3h0M180.4 749.3h0M221.8 679.7h0M226.5 680.9h0M209.7 651.7h0M203.6 637.9h0M211.9 663.5h0M195.8 646.5h0M231.1 673.6h0M215.8 666.1h0M229.8 669.7h0M259.1 693.1h0M261.2 665.8h0M271.7 688.5h0M268.9 679.9h0M245.8 656.2h0M252.2 674.6h0M252.2 658.7h0M242.7 657.8h0M259.9 684.9h0M270.5 704.3h0M253.8 668.8h0M258.8 660.4h0M249.3 650.3h0M261.3 687.2h0M250.4 657.3h0M256.4 662.6h0M269.5 683.7h0M257.7 661.8h0M267 692.2h0" stroke="#8b0000" stroke-width="2.2" stroke-linecap="round" fill="none"/>
<path d="M171 792.3h0M182.5 751.8h0M170.9 778.1h0M166.8 779.5h0M186.7 745h0M198.6 712.6h0M211.4 711.1h0M183.9 738.9h0M196.4 733.6h0M203.8 719.7h0M175.5 778.4h0M168.9 769.6h0M182.4 750.2h0M204.7 727.7h0M190.3 741.5h0M180.3 758.4h0M162.9 781.3h0M198 659.4h0M215.7 658.6h0M205.5 672.7h0M209 652h0M225.6 689.9h0M226.9 673.5h0M216.6 652.6h0M222 668.9h0M224.4 672.1h0M206.6 659.3h0M197.8 647.9h0M209.4 646h0M196.1 633.1h0M219.1 664.4h0M213.9 677.1h0M218.5 672.2h0M208.2 659h0M221.8 678.5h0M206.6 644.1h0M218.6 663.8h0M237.1 675h0M230.1 673.5h0M197.5 646.5h0M227.6 660.1h0M254.2 716h0M283.6 722.9h0M321.5 737.9h0M273.3 716.1h0M241.1 708.8h0M291 730h0M296.8 724h0M278.1 711.9h0M246.2 694.6h0M247.6 706.7h0" stroke="#0000ff" stroke-width="2.2" stroke-linecap="round" fill="none"/>
<path d="M190.6 738.3h0M199.3 732h0M199.1 713.9h0M205 714h0M200 733.9h0M168.5 759.2h0M198.9 740.6h0M185.6 760.5h0M170.3 772.8h0M197.1 741h0M188.2 723.2h0M208.8 708.3h0M177.9 757h0" stroke="#ff0000" stroke-width="2.2" stroke-linecap="round" fill="none"/>
<path d="M200.8 665.5h0M220.5 693h0M211.8 650.4h0M227.6 669h0M206.4 663.5h0M230.4 666.2h0M225.3 682.5h0M206 634.8h0M220.2 659.8h0M205.5 643.9h0M189.5 644.3h0" stroke="#00c000" stroke-width="2.2" stroke-linecap="round" fill="none"/>
<path d="M276.6 722.7h0M266.9 721.7h0M253.5 704.5h0M264.5 714.6h0M266 709.8h0M263.5 716.9h0M287.6 728.2h0M294.7 736h0M237.1 706h0M273.6 708.2h0M287.9 725.2h0M251.8 712.5h0M264.6 701.5h0M302.9 728.1h0M281.9 718.2h0M269.2 713.4h0M284.2 728.2h0M300.5 740.8h0M258.7 700.5h0M266.6 720.8h0M287 714.2h0M286.6 725.5h0M252.3 725.7h0M322.4 749.1h0M270.3 715.6h0" stroke="#ffff00" stroke-width="2.2" stroke-linecap="round" fill="none"/>
<path d="M297.2 725.7h0M297.9 733.5h0M279.3 705.4h0M276.3 715.2h0M287.4 707h0M276.7 703.1h0M291.1 724.2h0M286 725.7h0M255.8 701.4h0M318.1 748.5h0M284.9 734.2h0M253.6 727.2h0M303.7 736.9h0M299.6 738.1h0M266.9 710.2h0M258.4 707.2h0M259.3 729.4h0M264.1 706.6h0M291.8 725.5h0M297.5 731.1h0M277.7 713.9h0" stroke="#00e000" stroke-width="2.2" stroke-linecap="round" fill="none"/>
<path d="M260.2 715.7h0M306.6 734.2h0M302.9 739.2h0M293.9 743.5h0M310.4 727h0M308.2 724.3h0M306.9 730.1h0M247.6 705h0M317.1 735.9h0M303.9 721.3h0M252 717.4h0M282.3 709.8h0M297.4 732.8h0" stroke="#006400" stroke-width="2.2" stroke-linecap="round" fill="none"/>
<path d="M193 633.4C194.1 630.9 198.8 634.1 201.7 636.2C204.6 638.3 207.1 642.7 210.4 646C213.7 649.3 217.7 652.3 221.3 655.8C225 659.2 229.2 663.4 232.3 666.7C235.4 670 238.5 670.3 239.9 675.4C241.3 680.5 244.1 693.6 241 697.3C237.9 700.9 226.4 698 221.3 697.3C216.2 696.6 213.3 694.7 210.4 692.9C207.5 691.1 205.4 689.2 203.9 686.3C202.4 683.4 203.1 681.2 201.7 675.4C200.2 669.6 196.6 658.4 195.2 651.4C193.8 644.4 191.9 635.9 193 633.4Z" fill="#1010f0" filter="url(#aB)"/>
<path d="M193 633.4C194.1 630.9 198.8 634.1 201.7 636.2C204.6 638.3 207.1 642.7 210.4 646C213.7 649.3 217.7 652.3 221.3 655.8C225 659.2 229.2 663.4 232.3 666.7C235.4 670 238.5 670.3 239.9 675.4C241.3 680.5 244.1 693.6 241 697.3C237.9 700.9 226.4 698 221.3 697.3C216.2 696.6 213.3 694.7 210.4 692.9C207.5 691.1 205.4 689.2 203.9 686.3C202.4 683.4 203.1 681.2 201.7 675.4C200.2 669.6 196.6 658.4 195.2 651.4C193.8 644.4 191.9 635.9 193 633.4Z" fill="#8b0000" filter="url(#aM1)"/>
<path d="M193 633.4C194.1 630.9 198.8 634.1 201.7 636.2C204.6 638.3 207.1 642.7 210.4 646C213.7 649.3 217.7 652.3 221.3 655.8C225 659.2 229.2 663.4 232.3 666.7C235.4 670 238.5 670.3 239.9 675.4C241.3 680.5 244.1 693.6 241 697.3C237.9 700.9 226.4 698 221.3 697.3C216.2 696.6 213.3 694.7 210.4 692.9C207.5 691.1 205.4 689.2 203.9 686.3C202.4 683.4 203.1 681.2 201.7 675.4C200.2 669.6 196.6 658.4 195.2 651.4C193.8 644.4 191.9 635.9 193 633.4Z" fill="#00d000" filter="url(#aS2)"/>
<path d="M193 633.4C194.1 630.9 198.8 634.1 201.7 636.2C204.6 638.3 207.1 642.7 210.4 646C213.7 649.3 217.7 652.3 221.3 655.8C225 659.2 229.2 663.4 232.3 666.7C235.4 670 238.5 670.3 239.9 675.4C241.3 680.5 244.1 693.6 241 697.3C237.9 700.9 226.4 698 221.3 697.3C216.2 696.6 213.3 694.7 210.4 692.9C207.5 691.1 205.4 689.2 203.9 686.3C202.4 683.4 203.1 681.2 201.7 675.4C200.2 669.6 196.6 658.4 195.2 651.4C193.8 644.4 191.9 635.9 193 633.4Z" fill="#ff8c00" filter="url(#aS3)"/>
<path d="M241 671.1C242.3 665.1 245.7 664.4 248.6 661.3C251.5 658.2 255.1 654.7 258.4 652.5C261.7 650.3 265.8 647.7 268.2 648.2C270.6 648.8 271.5 651.3 272.6 655.8C273.7 660.3 274.8 668.8 274.8 675.4C274.8 682 276.1 691.5 272.6 695.1C269.2 698.8 259.4 696.9 254.1 697.3C248.8 697.7 243.2 701.7 241 697.3C238.8 692.9 239.7 677.1 241 671.1Z" fill="#ff8c00" filter="url(#aB)"/>
<path d="M241 671.1C242.3 665.1 245.7 664.4 248.6 661.3C251.5 658.2 255.1 654.7 258.4 652.5C261.7 650.3 265.8 647.7 268.2 648.2C270.6 648.8 271.5 651.3 272.6 655.8C273.7 660.3 274.8 668.8 274.8 675.4C274.8 682 276.1 691.5 272.6 695.1C269.2 698.8 259.4 696.9 254.1 697.3C248.8 697.7 243.2 701.7 241 697.3C238.8 692.9 239.7 677.1 241 671.1Z" fill="#8b0000" filter="url(#aS1)"/>
<path d="M241 671.1C242.3 665.1 245.7 664.4 248.6 661.3C251.5 658.2 255.1 654.7 258.4 652.5C261.7 650.3 265.8 647.7 268.2 648.2C270.6 648.8 271.5 651.3 272.6 655.8C273.7 660.3 274.8 668.8 274.8 675.4C274.8 682 276.1 691.5 272.6 695.1C269.2 698.8 259.4 696.9 254.1 697.3C248.8 697.7 243.2 701.7 241 697.3C238.8 692.9 239.7 677.1 241 671.1Z" fill="#ff8c00" filter="url(#aS2)"/>
<line x1="241.5" y1="617.6" x2="241.5" y2="806.3" stroke="#555" stroke-width="0.8"/>
<line x1="149.4" y1="698.2" x2="334.2" y2="698.2" stroke="#333" stroke-width="0.8"/>
<rect x="149.4" y="617.6" width="55.4" height="12.5" fill="#000"/>
<text x="177.1" y="627.4" font-size="10" text-anchor="middle" font-weight="bold" fill="#fff">IFNG-res</text>
<rect x="279.1" y="617.6" width="55.4" height="12.5" fill="#000"/>
<text x="306.8" y="627.4" font-size="10" text-anchor="middle" font-weight="bold" fill="#fff">Hypoxia</text>
<rect x="149.4" y="794.3" width="55.4" height="12.5" fill="#000"/>
<text x="177.1" y="804.1" font-size="10" text-anchor="middle" font-weight="bold" fill="#fff">MYC-Targ</text>
<rect x="279.1" y="794.3" width="55.4" height="12.5" fill="#000"/>
<text x="306.8" y="804.1" font-size="10" text-anchor="middle" font-weight="bold" fill="#fff">TNFA-sig</text>
<text x="655.6" y="122" font-size="31" text-anchor="middle" font-weight="bold" textLength="266" lengthAdjust="spacingAndGlyphs">Nominate S100A4</text>
<rect x="652" y="150" width="5.8" height="33" fill="#000"/>
<path d="M647 153 662.8 153 655 136Z" fill="#000"/>
<ellipse cx="655" cy="273.6" rx="138" ry="91" fill="#fff" stroke="#2b55a0" stroke-width="2"/>
<text x="645.5" y="207.9" font-size="12.3" text-anchor="middle" font-style="italic" textLength="107" lengthAdjust="spacingAndGlyphs">S100a4-GFP  locus</text>
<rect x="568.4" y="221.8" width="155.4" height="9.5" fill="#000"/>
<rect x="583.5" y="215.9" width="12" height="7.5" fill="#f5b800" stroke="#000" stroke-width="1"/>
<rect x="619" y="213.5" width="5.7" height="12" fill="#e87a2a" stroke="#000" stroke-width="1"/>
<rect x="647.3" y="213.5" width="3.2" height="12" fill="#e87a2a" stroke="#000" stroke-width="0.8"/>
<rect x="650.5" y="213.5" width="39" height="12.4" fill="#8ef07a" stroke="#000" stroke-width="1"/>
<text x="670" y="222.8" font-size="7" text-anchor="middle" font-weight="bold" fill="#1a3a10">GFP</text>
<rect x="710.2" y="214" width="12" height="12.7" fill="#e87a2a" stroke="#000" stroke-width="1"/>
<text x="567.6" y="239.8" font-size="6.3" fill="#222">promoter</text>
<text x="615.1" y="239" font-size="6.3" fill="#222">Exon1</text>
<text x="647" y="238.2" font-size="6.3" fill="#222">Exon2</text>
<text x="709.1" y="239.8" font-size="6.3" fill="#222">Exon3</text>
<path d="M711 299.5 C740 320 742 345 718 350 C690 354 665 344 647 333" fill="none" stroke="#deaa9c" stroke-width="3" stroke-linecap="round"/>
<path d="M578.8 288.4C578 285.2 583.5 280.4 586.7 277.2C589.9 274 593.4 271.7 597.9 269.3C602.4 266.9 609 265 613.8 262.9C618.6 260.8 621.8 258.9 626.6 256.5C631.4 254.1 635.9 250.6 642.5 248.5C649.1 246.4 659 244.1 666.4 243.8C673.8 243.5 681.2 244.8 687.1 246.9C693 249 697.5 252.2 701.5 256.5C705.5 260.8 709.1 266.5 711 272.4C712.9 278.2 713.1 286 712.6 291.6C712.1 297.2 711.6 302.4 707.9 305.9C704.2 309.3 695.9 311.2 690.3 312.3C684.7 313.4 679.7 313.1 674.4 312.3C669.1 311.5 664.4 307.8 658.5 307.5C652.6 307.2 643.8 309.6 639.3 310.7C634.8 311.8 633.5 314.7 631.4 313.9C629.3 313.1 629 307.5 626.6 305.9C624.2 304.3 620.7 305.1 617 304.3C613.3 303.5 608.5 302.4 604.3 301.1C600 299.8 595.8 298.5 591.5 296.4C587.2 294.3 579.6 291.6 578.8 288.4Z" fill="#1f1f1f"/>
<ellipse cx="689" cy="290" rx="17" ry="18" fill="#2c2c2c"/>
<ellipse cx="646" cy="296" rx="10" ry="12" fill="#2a2a2a"/>
<path d="M588 274 C586 262 590 254 594 253 C598 258 600 266 598 272Z" fill="#3a3a3a"/><path d="M590 272 C589 263 592 258 594 258 C596 262 597 267 596 271Z" fill="#c9a290"/>
<path d="M617 280 C614 268 620 257 630 257 C636 260 634 274 628 280Z" fill="#333"/><path d="M620 276 C618 268 622 262 627 262 C630 266 628 274 625 277Z" fill="#c9a290"/>
<path d="M598 267C598.8 265.3 601.7 263 604 262C606.3 261 609.8 260.3 612 261C614.2 261.7 616.7 264 617 266C617.3 268 616 271.5 614 273C612 274.5 607.5 275.2 605 275C602.5 274.8 600.2 273.3 599 272C597.8 270.7 597.2 268.7 598 267Z" fill="#d84a38"/>
<circle cx="606" cy="279" r="1.6" fill="#ddd"/>
<ellipse cx="612" cy="307" rx="7" ry="3" fill="#e9b9a9"/>
<ellipse cx="620" cy="310" rx="7" ry="3" fill="#e9b9a9"/>
<ellipse cx="660" cy="310" rx="7" ry="3" fill="#e9b9a9"/>
<ellipse cx="672" cy="312" rx="7" ry="3" fill="#e9b9a9"/>
<line x1="580" y1="284" x2="562" y2="275" stroke="#999" stroke-width="0.4"/>
<line x1="580" y1="284" x2="561" y2="277.5" stroke="#999" stroke-width="0.4"/>
<line x1="580" y1="284" x2="560" y2="280" stroke="#999" stroke-width="0.4"/>
<line x1="580" y1="284" x2="559" y2="282.5" stroke="#999" stroke-width="0.4"/>
<line x1="580" y1="284" x2="558" y2="285" stroke="#999" stroke-width="0.4"/>
<line x1="580" y1="284" x2="557" y2="287.5" stroke="#999" stroke-width="0.4"/>
<rect x="521.3" y="380" width="284.5" height="116" fill="#fff" stroke="#111" stroke-width="1.3"/>
<text x="663.5" y="414" font-size="22.5" text-anchor="middle" font-weight="bold" textLength="245.5" lengthAdjust="spacingAndGlyphs">Functional validation</text>
<text x="663.8" y="448" font-size="22.5" text-anchor="middle" font-weight="bold" textLength="191.8" lengthAdjust="spacingAndGlyphs">in glioma mouse</text>
<text x="664" y="480.7" font-size="22.5" text-anchor="middle" font-weight="bold" textLength="84.3" lengthAdjust="spacingAndGlyphs">models</text>
<path d="M445 669.2H450.4C457 669.2 462 664 462 657V497C462 479 470 462.4 486 462.4H495.2V443.1L520.6 470.4L495.2 497.9V479.4H486C480 479.4 476.7 484 476.7 490V653.8C476.7 671 466 685.4 450 685.4H445.8V698.5H474.4V686.9L505.2 709.3L474.4 731.7V720.1H445.8" fill="#fff" stroke="#000" stroke-width="1.6" stroke-linejoin="miter"/>
<rect x="514.5" y="510" width="305.5" height="244.5" rx="58" ry="58" fill="#fff" stroke="#000" stroke-width="1.8"/>
<text x="664.7" y="786" font-size="24" text-anchor="middle" font-weight="bold" textLength="205" lengthAdjust="spacingAndGlyphs">Validation Cohort</text>
<text x="553.3" y="533" font-size="7.5" font-weight="bold">Cluster2</text>
<text x="590.6" y="546" font-size="7.5" fill="#222">p &lt; 0.0001</text>
<path d="M554.6 541V615.3H656.5" fill="none" stroke="#444" stroke-width="0.7"/>
<text x="552.6" y="544.1" font-size="4.8" text-anchor="end" fill="#444">1.00</text>
<text x="552.6" y="561.9" font-size="4.8" text-anchor="end" fill="#444">0.75</text>
<text x="552.6" y="579.8" font-size="4.8" text-anchor="end" fill="#444">0.50</text>
<text x="552.6" y="597.6" font-size="4.8" text-anchor="end" fill="#444">0.25</text>
<text x="552.6" y="615.4" font-size="4.8" text-anchor="end" fill="#444">0.00</text>
<text x="558.6" y="622.3" font-size="4.8" text-anchor="middle" fill="#444">0</text>
<text x="589.9" y="622.3" font-size="4.8" text-anchor="middle" fill="#444">50</text>
<text x="621.2" y="622.3" font-size="4.8" text-anchor="middle" fill="#444">100</text>
<text x="652.5" y="622.3" font-size="4.8" text-anchor="middle" fill="#444">150</text>
<text x="605.5" y="629.3" font-size="5.5" text-anchor="middle" font-weight="bold" fill="#333">Time</text>
<text transform="translate(537.6 578.1) rotate(-90)" font-size="5" text-anchor="middle" fill="#444">Survival probability</text>
<path d="M558.6 542.5 560.5 544.6 564.2 556.8 568 563.9 577.4 571 586.8 579.6 600.9 582.4 614.9 586.7 633.7 591 652.5 593.1" fill="none" stroke="#e01010" stroke-width="1.8"/>
<path d="M558.6 542.5 561.4 556.8 566.1 585.3 569.9 603.1 574.6 611.7 621.5 611.7" fill="none" stroke="#1010e0" stroke-width="1.8"/>
<text x="554.6" y="645.5" font-size="7.5" font-weight="bold">Cluster5</text>
<text x="590.6" y="664.4" font-size="7.5" fill="#222">p &lt; 0.0001</text>
<path d="M558.4 659.4V729.9H652.8" fill="none" stroke="#444" stroke-width="0.7"/>
<text x="556.4" y="662.5" font-size="4.8" text-anchor="end" fill="#444">1.00</text>
<text x="556.4" y="679.4" font-size="4.8" text-anchor="end" fill="#444">0.75</text>
<text x="556.4" y="696.2" font-size="4.8" text-anchor="end" fill="#444">0.50</text>
<text x="556.4" y="713.1" font-size="4.8" text-anchor="end" fill="#444">0.25</text>
<text x="556.4" y="730" font-size="4.8" text-anchor="end" fill="#444">0.00</text>
<text x="562.4" y="736.9" font-size="4.8" text-anchor="middle" fill="#444">0</text>
<text x="591.2" y="736.9" font-size="4.8" text-anchor="middle" fill="#444">50</text>
<text x="620" y="736.9" font-size="4.8" text-anchor="middle" fill="#444">100</text>
<text x="648.8" y="736.9" font-size="4.8" text-anchor="middle" fill="#444">150</text>
<text x="605.6" y="743.9" font-size="5.5" text-anchor="middle" font-weight="bold" fill="#333">Time</text>
<text transform="translate(541.4 694.6) rotate(-90)" font-size="5" text-anchor="middle" fill="#444">Survival probability</text>
<path d="M562.4 660.9 564.1 662.9 567.6 674.4 571 681.1 579.7 687.9 588.3 696 601.3 698.7 614.2 702.8 631.5 706.8 648.8 708.8" fill="none" stroke="#1010e0" stroke-width="1.8"/>
<path d="M562.4 660.9 565 677.8 569.3 701.4 573.6 714.9 584 720.3 597 723 620.3 724.4 620.3 728.4" fill="none" stroke="#e01010" stroke-width="1.8"/>
<rect x="683" y="541" width="83.8" height="12.7" fill="#000"/>
<path d="M686 541V533H700V531H740V533H764V541M700 533V538M740 533V538" fill="none" stroke="#000" stroke-width="0.6"/>
<rect x="677.2" y="553.7" width="5.8" height="13.1" fill="#8b1a1a"/>
<rect x="677.2" y="569.3" width="5.8" height="15.6" fill="#2a6a1a"/>
<rect x="677.2" y="587.5" width="5.8" height="23.5" fill="#1a40e0"/>
<rect x="677.2" y="613.5" width="5.8" height="10.5" fill="#80e060"/>
<rect x="677.2" y="626.6" width="5.8" height="31.2" fill="#f0a030"/>
<rect x="677.2" y="660.4" width="5.8" height="40.4" fill="#e03030"/>
<rect x="677.2" y="703.4" width="5.8" height="25.2" fill="#f0f040"/>
<path d="M683 553.7h7v1.9h-7zM690 553.7h7.5v1.9h-7.5zM715 555.5h9v1.9h-9zM751 559.1h8v1.9h-8zM704 562.7h11v1.9h-11zM715 564.5h9v1.9h-9zM704 566.3h11v0.6h-11zM751 569.3h8v1.9h-8zM735 571.1h8v1.9h-8zM724 572.9h11v1.9h-11zM735 572.9h8v1.9h-8zM735 574.7h8v1.9h-8zM743 574.7h8v1.9h-8zM751 578.3h8v1.9h-8zM715 580.1h9v1.9h-9zM751 580.1h8v1.9h-8zM683 581.9h7v1.9h-7zM759 581.9h7.8v1.9h-7.8zM735 583.7h8v1.3h-8zM697.5 587.5h6.5v1.9h-6.5zM724 587.5h11v1.9h-11zM751 587.5h8v1.9h-8zM759 589.3h7.8v1.9h-7.8zM690 591.1h7.5v1.9h-7.5zM697.5 591.1h6.5v1.9h-6.5zM704 591.1h11v1.9h-11zM715 591.1h9v1.9h-9zM724 591.1h11v1.9h-11zM697.5 594.7h6.5v1.9h-6.5zM715 594.7h9v1.9h-9zM751 596.5h8v1.9h-8zM690 598.3h7.5v1.9h-7.5zM704 598.3h11v1.9h-11zM751 598.3h8v1.9h-8zM735 607.3h8v1.9h-8zM759 607.3h7.8v1.9h-7.8zM715 609.1h9v1.9h-9zM751 609.1h8v1.9h-8zM683 613.5h7v1.9h-7zM724 615.3h11v1.9h-11zM683 617.1h7v1.9h-7zM697.5 617.1h6.5v1.9h-6.5zM697.5 626.6h6.5v1.9h-6.5zM697.5 628.4h6.5v1.9h-6.5zM743 635.6h8v1.9h-8zM759 635.6h7.8v1.9h-7.8zM690 637.4h7.5v1.9h-7.5zM697.5 637.4h6.5v1.9h-6.5zM724 637.4h11v1.9h-11zM683 648.2h7v1.9h-7zM690 650h7.5v1.9h-7.5zM697.5 650h6.5v1.9h-6.5zM697.5 653.6h6.5v1.9h-6.5zM715 655.4h9v1.9h-9zM735 655.4h8v1.9h-8zM715 660.4h9v1.9h-9zM743 662.2h8v1.9h-8zM759 662.2h7.8v1.9h-7.8zM690 664h7.5v1.9h-7.5zM759 665.8h7.8v1.9h-7.8zM704 669.4h11v1.9h-11zM759 669.4h7.8v1.9h-7.8zM735 671.2h8v1.9h-8zM724 673h11v1.9h-11zM735 674.8h8v1.9h-8zM724 676.6h11v1.9h-11zM759 676.6h7.8v1.9h-7.8zM683 680.2h7v1.9h-7zM690 680.2h7.5v1.9h-7.5zM697.5 683.8h6.5v1.9h-6.5zM724 683.8h11v1.9h-11zM735 689.2h8v1.9h-8zM704 691h11v1.9h-11zM724 691h11v1.9h-11zM690 694.6h7.5v1.9h-7.5zM697.5 694.6h6.5v1.9h-6.5zM697.5 696.4h6.5v1.9h-6.5zM735 696.4h8v1.9h-8zM690 700h7.5v0.9h-7.5zM724 703.4h11v1.9h-11zM751 705.2h8v1.9h-8zM697.5 707h6.5v1.9h-6.5zM697.5 708.8h6.5v1.9h-6.5zM690 710.6h7.5v1.9h-7.5zM724 710.6h11v1.9h-11zM704 714.2h11v1.9h-11zM735 714.2h8v1.9h-8zM697.5 716h6.5v1.9h-6.5zM697.5 717.8h6.5v1.9h-6.5zM724 723.2h11v1.9h-11zM683 726.8h7v1.9h-7zM704 728.6h11v0.1h-11z" fill="#c8d6f0"/>
<path d="M697.5 553.7h6.5v1.9h-6.5zM735 555.5h8v1.9h-8zM759 557.3h7.8v1.9h-7.8zM735 559.1h8v1.9h-8zM683 560.9h7v1.9h-7zM690 562.7h7.5v1.9h-7.5zM683 566.3h7v0.6h-7zM724 566.3h11v0.6h-11zM683 569.3h7v1.9h-7zM704 569.3h11v1.9h-11zM715 569.3h9v1.9h-9zM704 571.1h11v1.9h-11zM715 571.1h9v1.9h-9zM759 572.9h7.8v1.9h-7.8zM751 574.7h8v1.9h-8zM759 574.7h7.8v1.9h-7.8zM683 580.1h7v1.9h-7zM735 591.1h8v1.9h-8zM759 591.1h7.8v1.9h-7.8zM735 592.9h8v1.9h-8zM759 592.9h7.8v1.9h-7.8zM715 598.3h9v1.9h-9zM743 600.1h8v1.9h-8zM704 601.9h11v1.9h-11zM724 601.9h11v1.9h-11zM704 607.3h11v1.9h-11zM715 607.3h9v1.9h-9zM697.5 610.9h6.5v0.2h-6.5zM724 610.9h11v0.2h-11zM690 613.5h7.5v1.9h-7.5zM743 613.5h8v1.9h-8zM704 615.3h11v1.9h-11zM715 617.1h9v1.9h-9zM735 620.7h8v1.9h-8zM697.5 622.5h6.5v1.6h-6.5zM704 622.5h11v1.6h-11zM715 626.6h9v1.9h-9zM743 626.6h8v1.9h-8zM751 626.6h8v1.9h-8zM743 630.2h8v1.9h-8zM697.5 632h6.5v1.9h-6.5zM751 632h8v1.9h-8zM690 635.6h7.5v1.9h-7.5zM735 635.6h8v1.9h-8zM683 637.4h7v1.9h-7zM683 639.2h7v1.9h-7zM704 641h11v1.9h-11zM743 641h8v1.9h-8zM759 641h7.8v1.9h-7.8zM704 646.4h11v1.9h-11zM759 646.4h7.8v1.9h-7.8zM743 648.2h8v1.9h-8zM735 650h8v1.9h-8zM759 651.8h7.8v1.9h-7.8zM683 653.6h7v1.9h-7zM704 653.6h11v1.9h-11zM715 653.6h9v1.9h-9zM743 653.6h8v1.9h-8zM715 657.2h9v0.7h-9zM724 657.2h11v0.7h-11zM743 657.2h8v0.7h-8zM724 660.4h11v1.9h-11zM690 662.2h7.5v1.9h-7.5zM704 664h11v1.9h-11zM697.5 665.8h6.5v1.9h-6.5zM697.5 667.6h6.5v1.9h-6.5zM704 667.6h11v1.9h-11zM697.5 671.2h6.5v1.9h-6.5zM704 671.2h11v1.9h-11zM743 673h8v1.9h-8zM724 674.8h11v1.9h-11zM690 676.6h7.5v1.9h-7.5zM715 676.6h9v1.9h-9zM751 676.6h8v1.9h-8zM683 678.4h7v1.9h-7zM704 678.4h11v1.9h-11zM715 678.4h9v1.9h-9zM743 680.2h8v1.9h-8zM690 682h7.5v1.9h-7.5zM735 682h8v1.9h-8zM751 683.8h8v1.9h-8zM715 685.6h9v1.9h-9zM751 687.4h8v1.9h-8zM735 691h8v1.9h-8zM759 691h7.8v1.9h-7.8zM697.5 692.8h6.5v1.9h-6.5zM704 694.6h11v1.9h-11zM715 694.6h9v1.9h-9zM751 694.6h8v1.9h-8zM724 696.4h11v1.9h-11zM683 700h7v0.9h-7zM697.5 700h6.5v0.9h-6.5zM735 700h8v0.9h-8zM697.5 703.4h6.5v1.9h-6.5zM683 705.2h7v1.9h-7zM704 705.2h11v1.9h-11zM735 705.2h8v1.9h-8zM743 705.2h8v1.9h-8zM690 707h7.5v1.9h-7.5zM743 708.8h8v1.9h-8zM704 710.6h11v1.9h-11zM715 710.6h9v1.9h-9zM683 712.4h7v1.9h-7zM697.5 712.4h6.5v1.9h-6.5zM704 712.4h11v1.9h-11zM751 712.4h8v1.9h-8zM759 712.4h7.8v1.9h-7.8zM715 714.2h9v1.9h-9zM683 716h7v1.9h-7zM715 716h9v1.9h-9zM704 717.8h11v1.9h-11zM697.5 721.4h6.5v1.9h-6.5zM683 723.2h7v1.9h-7zM697.5 723.2h6.5v1.9h-6.5zM697.5 726.8h6.5v1.9h-6.5zM690 728.6h7.5v0.1h-7.5z" fill="#ecc7b8"/>
<path d="M704 553.7h11v1.9h-11zM724 553.7h11v1.9h-11zM759 559.1h7.8v1.9h-7.8zM724 574.7h11v1.9h-11zM751 642.8h8v1.9h-8zM759 671.2h7.8v1.9h-7.8zM683 673h7v1.9h-7zM715 682h9v1.9h-9zM715 707h9v1.9h-9zM724 708.8h11v1.9h-11zM683 721.4h7v1.9h-7zM759 723.2h7.8v1.9h-7.8zM697.5 728.6h6.5v0.1h-6.5z" fill="#7aa2e0"/>
<path d="M715 553.7h9v1.9h-9zM690 555.5h7.5v1.9h-7.5zM724 555.5h11v1.9h-11zM715 557.3h9v1.9h-9zM724 557.3h11v1.9h-11zM743 557.3h8v1.9h-8zM690 559.1h7.5v1.9h-7.5zM724 559.1h11v1.9h-11zM697.5 560.9h6.5v1.9h-6.5zM759 560.9h7.8v1.9h-7.8zM735 562.7h8v1.9h-8zM743 562.7h8v1.9h-8zM759 562.7h7.8v1.9h-7.8zM683 564.5h7v1.9h-7zM743 564.5h8v1.9h-8zM743 566.3h8v0.6h-8zM690 571.1h7.5v1.9h-7.5zM697.5 571.1h6.5v1.9h-6.5zM690 572.9h7.5v1.9h-7.5zM715 574.7h9v1.9h-9zM697.5 576.5h6.5v1.9h-6.5zM724 576.5h11v1.9h-11zM743 576.5h8v1.9h-8zM743 578.3h8v1.9h-8zM759 578.3h7.8v1.9h-7.8zM697.5 581.9h6.5v1.9h-6.5zM697.5 583.7h6.5v1.3h-6.5zM683 587.5h7v1.9h-7zM743 587.5h8v1.9h-8zM759 587.5h7.8v1.9h-7.8zM735 589.3h8v1.9h-8zM697.5 592.9h6.5v1.9h-6.5zM704 592.9h11v1.9h-11zM751 592.9h8v1.9h-8zM759 594.7h7.8v1.9h-7.8zM683 596.5h7v1.9h-7zM715 596.5h9v1.9h-9zM735 596.5h8v1.9h-8zM743 596.5h8v1.9h-8zM759 596.5h7.8v1.9h-7.8zM735 598.3h8v1.9h-8zM715 600.1h9v1.9h-9zM724 600.1h11v1.9h-11zM759 600.1h7.8v1.9h-7.8zM743 601.9h8v1.9h-8zM704 603.7h11v1.9h-11zM743 603.7h8v1.9h-8zM751 603.7h8v1.9h-8zM751 605.5h8v1.9h-8zM697.5 607.3h6.5v1.9h-6.5zM724 607.3h11v1.9h-11zM683 609.1h7v1.9h-7zM724 609.1h11v1.9h-11zM735 609.1h8v1.9h-8zM683 610.9h7v0.2h-7zM697.5 613.5h6.5v1.9h-6.5zM715 615.3h9v1.9h-9zM735 615.3h8v1.9h-8zM759 615.3h7.8v1.9h-7.8zM704 617.1h11v1.9h-11zM743 617.1h8v1.9h-8zM735 618.9h8v1.9h-8zM743 618.9h8v1.9h-8zM697.5 620.7h6.5v1.9h-6.5zM683 622.5h7v1.6h-7zM690 622.5h7.5v1.6h-7.5zM759 622.5h7.8v1.6h-7.8zM724 626.6h11v1.9h-11zM690 628.4h7.5v1.9h-7.5zM715 628.4h9v1.9h-9zM735 628.4h8v1.9h-8zM759 628.4h7.8v1.9h-7.8zM697.5 630.2h6.5v1.9h-6.5zM715 630.2h9v1.9h-9zM724 633.8h11v1.9h-11zM715 635.6h9v1.9h-9zM715 637.4h9v1.9h-9zM697.5 639.2h6.5v1.9h-6.5zM704 639.2h11v1.9h-11zM724 641h11v1.9h-11zM735 641h8v1.9h-8zM697.5 644.6h6.5v1.9h-6.5zM715 644.6h9v1.9h-9zM735 646.4h8v1.9h-8zM724 648.2h11v1.9h-11zM751 648.2h8v1.9h-8zM704 650h11v1.9h-11zM759 650h7.8v1.9h-7.8zM683 651.8h7v1.9h-7zM697.5 651.8h6.5v1.9h-6.5zM715 651.8h9v1.9h-9zM735 651.8h8v1.9h-8zM751 655.4h8v1.9h-8zM683 657.2h7v0.7h-7zM697.5 660.4h6.5v1.9h-6.5zM735 660.4h8v1.9h-8zM751 660.4h8v1.9h-8zM759 660.4h7.8v1.9h-7.8zM697.5 662.2h6.5v1.9h-6.5zM735 662.2h8v1.9h-8zM735 664h8v1.9h-8zM751 664h8v1.9h-8zM683 665.8h7v1.9h-7zM715 665.8h9v1.9h-9zM735 665.8h8v1.9h-8zM683 669.4h7v1.9h-7zM715 669.4h9v1.9h-9zM743 669.4h8v1.9h-8zM751 669.4h8v1.9h-8zM697.5 673h6.5v1.9h-6.5zM704 673h11v1.9h-11zM715 674.8h9v1.9h-9zM743 674.8h8v1.9h-8zM751 674.8h8v1.9h-8zM704 676.6h11v1.9h-11zM724 678.4h11v1.9h-11zM697.5 680.2h6.5v1.9h-6.5zM724 680.2h11v1.9h-11zM751 680.2h8v1.9h-8zM683 682h7v1.9h-7zM735 683.8h8v1.9h-8zM697.5 685.6h6.5v1.9h-6.5zM724 685.6h11v1.9h-11zM735 685.6h8v1.9h-8zM743 685.6h8v1.9h-8zM751 685.6h8v1.9h-8zM715 687.4h9v1.9h-9zM690 689.2h7.5v1.9h-7.5zM697.5 689.2h6.5v1.9h-6.5zM683 691h7v1.9h-7zM715 691h9v1.9h-9zM751 691h8v1.9h-8zM683 694.6h7v1.9h-7zM735 694.6h8v1.9h-8zM759 694.6h7.8v1.9h-7.8zM683 703.4h7v1.9h-7zM759 705.2h7.8v1.9h-7.8zM743 707h8v1.9h-8zM683 708.8h7v1.9h-7zM715 708.8h9v1.9h-9zM759 708.8h7.8v1.9h-7.8zM697.5 710.6h6.5v1.9h-6.5zM724 712.4h11v1.9h-11zM683 714.2h7v1.9h-7zM690 714.2h7.5v1.9h-7.5zM751 714.2h8v1.9h-8zM759 714.2h7.8v1.9h-7.8zM751 716h8v1.9h-8zM759 716h7.8v1.9h-7.8zM735 717.8h8v1.9h-8zM743 717.8h8v1.9h-8zM704 721.4h11v1.9h-11zM751 721.4h8v1.9h-8zM690 725h7.5v1.9h-7.5zM724 725h11v1.9h-11zM751 725h8v1.9h-8zM724 726.8h11v1.9h-11zM735 728.6h8v0.1h-8zM751 728.6h8v0.1h-8z" fill="#faf8f8"/>
<path d="M735 553.7h8v1.9h-8zM751 553.7h8v1.9h-8zM743 560.9h8v1.9h-8zM724 562.7h11v1.9h-11zM724 564.5h11v1.9h-11zM751 564.5h8v1.9h-8zM751 566.3h8v0.6h-8zM759 566.3h7.8v0.6h-7.8zM683 572.9h7v1.9h-7zM683 574.7h7v1.9h-7zM683 576.5h7v1.9h-7zM704 576.5h11v1.9h-11zM735 576.5h8v1.9h-8zM735 578.3h8v1.9h-8zM724 580.1h11v1.9h-11zM690 581.9h7.5v1.9h-7.5zM704 581.9h11v1.9h-11zM683 583.7h7v1.3h-7zM759 583.7h7.8v1.3h-7.8zM715 587.5h9v1.9h-9zM683 589.3h7v1.9h-7zM697.5 589.3h6.5v1.9h-6.5zM751 594.7h8v1.9h-8zM690 596.5h7.5v1.9h-7.5zM704 596.5h11v1.9h-11zM735 600.1h8v1.9h-8zM735 601.9h8v1.9h-8zM697.5 603.7h6.5v1.9h-6.5zM735 603.7h8v1.9h-8zM759 603.7h7.8v1.9h-7.8zM683 605.5h7v1.9h-7zM690 605.5h7.5v1.9h-7.5zM735 605.5h8v1.9h-8zM743 609.1h8v1.9h-8zM735 610.9h8v0.2h-8zM724 617.1h11v1.9h-11zM743 620.7h8v1.9h-8zM759 626.6h7.8v1.9h-7.8zM724 628.4h11v1.9h-11zM690 630.2h7.5v1.9h-7.5zM735 630.2h8v1.9h-8zM690 642.8h7.5v1.9h-7.5zM683 644.6h7v1.9h-7zM690 644.6h7.5v1.9h-7.5zM724 651.8h11v1.9h-11zM690 653.6h7.5v1.9h-7.5zM735 653.6h8v1.9h-8zM751 653.6h8v1.9h-8zM697.5 655.4h6.5v1.9h-6.5zM743 655.4h8v1.9h-8zM690 657.2h7.5v0.7h-7.5zM751 662.2h8v1.9h-8zM715 671.2h9v1.9h-9zM751 673h8v1.9h-8zM697.5 678.4h6.5v1.9h-6.5zM704 683.8h11v1.9h-11zM743 687.4h8v1.9h-8zM683 689.2h7v1.9h-7zM751 689.2h8v1.9h-8zM704 692.8h11v1.9h-11zM735 692.8h8v1.9h-8zM751 692.8h8v1.9h-8zM743 694.6h8v1.9h-8zM683 698.2h7v1.9h-7zM697.5 698.2h6.5v1.9h-6.5zM743 700h8v0.9h-8zM751 700h8v0.9h-8zM759 700h7.8v0.9h-7.8zM683 707h7v1.9h-7zM704 707h11v1.9h-11zM735 710.6h8v1.9h-8zM715 712.4h9v1.9h-9zM690 717.8h7.5v1.9h-7.5zM715 717.8h9v1.9h-9zM690 719.6h7.5v1.9h-7.5zM697.5 719.6h6.5v1.9h-6.5zM751 719.6h8v1.9h-8zM759 719.6h7.8v1.9h-7.8zM690 721.4h7.5v1.9h-7.5zM690 723.2h7.5v1.9h-7.5zM751 723.2h8v1.9h-8zM743 725h8v1.9h-8zM690 726.8h7.5v1.9h-7.5zM704 726.8h11v1.9h-11zM724 728.6h11v0.1h-11zM743 728.6h8v0.1h-8z" fill="#e5ae98"/>
<path d="M743 553.7h8v1.9h-8zM683 555.5h7v1.9h-7zM704 555.5h11v1.9h-11zM743 555.5h8v1.9h-8zM683 557.3h7v1.9h-7zM697.5 557.3h6.5v1.9h-6.5zM751 557.3h8v1.9h-8zM704 560.9h11v1.9h-11zM715 560.9h9v1.9h-9zM724 560.9h11v1.9h-11zM697.5 562.7h6.5v1.9h-6.5zM751 562.7h8v1.9h-8zM704 564.5h11v1.9h-11zM735 564.5h8v1.9h-8zM724 569.3h11v1.9h-11zM724 571.1h11v1.9h-11zM751 571.1h8v1.9h-8zM759 571.1h7.8v1.9h-7.8zM704 572.9h11v1.9h-11zM743 572.9h8v1.9h-8zM690 574.7h7.5v1.9h-7.5zM697.5 574.7h6.5v1.9h-6.5zM759 576.5h7.8v1.9h-7.8zM690 578.3h7.5v1.9h-7.5zM704 578.3h11v1.9h-11zM690 580.1h7.5v1.9h-7.5zM697.5 580.1h6.5v1.9h-6.5zM735 580.1h8v1.9h-8zM715 581.9h9v1.9h-9zM690 583.7h7.5v1.3h-7.5zM724 583.7h11v1.3h-11zM751 589.3h8v1.9h-8zM743 591.1h8v1.9h-8zM683 592.9h7v1.9h-7zM724 592.9h11v1.9h-11zM743 592.9h8v1.9h-8zM683 594.7h7v1.9h-7zM690 594.7h7.5v1.9h-7.5zM704 594.7h11v1.9h-11zM735 594.7h8v1.9h-8zM724 596.5h11v1.9h-11zM697.5 598.3h6.5v1.9h-6.5zM743 598.3h8v1.9h-8zM715 601.9h9v1.9h-9zM724 603.7h11v1.9h-11zM704 605.5h11v1.9h-11zM715 605.5h9v1.9h-9zM743 605.5h8v1.9h-8zM683 607.3h7v1.9h-7zM697.5 609.1h6.5v1.9h-6.5zM759 609.1h7.8v1.9h-7.8zM704 610.9h11v0.2h-11zM759 610.9h7.8v0.2h-7.8zM724 613.5h11v1.9h-11zM751 613.5h8v1.9h-8zM751 615.3h8v1.9h-8zM690 617.1h7.5v1.9h-7.5zM735 617.1h8v1.9h-8zM751 617.1h8v1.9h-8zM683 618.9h7v1.9h-7zM704 618.9h11v1.9h-11zM751 618.9h8v1.9h-8zM759 620.7h7.8v1.9h-7.8zM715 622.5h9v1.6h-9zM724 622.5h11v1.6h-11zM751 622.5h8v1.6h-8zM690 626.6h7.5v1.9h-7.5zM683 630.2h7v1.9h-7zM751 630.2h8v1.9h-8zM759 630.2h7.8v1.9h-7.8zM743 632h8v1.9h-8zM759 632h7.8v1.9h-7.8zM697.5 633.8h6.5v1.9h-6.5zM704 633.8h11v1.9h-11zM735 633.8h8v1.9h-8zM683 635.6h7v1.9h-7zM724 635.6h11v1.9h-11zM751 635.6h8v1.9h-8zM735 637.4h8v1.9h-8zM743 637.4h8v1.9h-8zM751 637.4h8v1.9h-8zM759 637.4h7.8v1.9h-7.8zM724 639.2h11v1.9h-11zM759 639.2h7.8v1.9h-7.8zM683 641h7v1.9h-7zM690 641h7.5v1.9h-7.5zM715 641h9v1.9h-9zM751 641h8v1.9h-8zM683 642.8h7v1.9h-7zM704 642.8h11v1.9h-11zM759 642.8h7.8v1.9h-7.8zM735 644.6h8v1.9h-8zM743 644.6h8v1.9h-8zM751 644.6h8v1.9h-8zM759 644.6h7.8v1.9h-7.8zM724 646.4h11v1.9h-11zM751 646.4h8v1.9h-8zM715 648.2h9v1.9h-9zM759 648.2h7.8v1.9h-7.8zM715 650h9v1.9h-9zM724 650h11v1.9h-11zM751 650h8v1.9h-8zM690 651.8h7.5v1.9h-7.5zM704 651.8h11v1.9h-11zM743 651.8h8v1.9h-8zM724 653.6h11v1.9h-11zM683 655.4h7v1.9h-7zM704 655.4h11v1.9h-11zM724 655.4h11v1.9h-11zM697.5 657.2h6.5v0.7h-6.5zM751 657.2h8v0.7h-8zM683 660.4h7v1.9h-7zM690 660.4h7.5v1.9h-7.5zM704 660.4h11v1.9h-11zM743 660.4h8v1.9h-8zM683 662.2h7v1.9h-7zM704 662.2h11v1.9h-11zM724 662.2h11v1.9h-11zM683 664h7v1.9h-7zM690 665.8h7.5v1.9h-7.5zM704 665.8h11v1.9h-11zM743 665.8h8v1.9h-8zM751 665.8h8v1.9h-8zM683 667.6h7v1.9h-7zM690 667.6h7.5v1.9h-7.5zM759 667.6h7.8v1.9h-7.8zM690 669.4h7.5v1.9h-7.5zM743 671.2h8v1.9h-8zM751 671.2h8v1.9h-8zM715 673h9v1.9h-9zM759 673h7.8v1.9h-7.8zM690 674.8h7.5v1.9h-7.5zM704 674.8h11v1.9h-11zM743 676.6h8v1.9h-8zM690 678.4h7.5v1.9h-7.5zM735 678.4h8v1.9h-8zM704 680.2h11v1.9h-11zM735 680.2h8v1.9h-8zM759 680.2h7.8v1.9h-7.8zM704 682h11v1.9h-11zM743 683.8h8v1.9h-8zM759 683.8h7.8v1.9h-7.8zM735 687.4h8v1.9h-8zM704 689.2h11v1.9h-11zM724 689.2h11v1.9h-11zM690 691h7.5v1.9h-7.5zM715 692.8h9v1.9h-9zM743 692.8h8v1.9h-8zM683 696.4h7v1.9h-7zM690 696.4h7.5v1.9h-7.5zM715 696.4h9v1.9h-9zM690 698.2h7.5v1.9h-7.5zM751 698.2h8v1.9h-8zM704 700h11v0.9h-11zM715 700h9v0.9h-9zM724 700h11v0.9h-11zM751 703.4h8v1.9h-8zM759 703.4h7.8v1.9h-7.8zM690 705.2h7.5v1.9h-7.5zM724 707h11v1.9h-11zM735 707h8v1.9h-8zM751 707h8v1.9h-8zM690 708.8h7.5v1.9h-7.5zM704 708.8h11v1.9h-11zM683 710.6h7v1.9h-7zM743 710.6h8v1.9h-8zM751 710.6h8v1.9h-8zM690 712.4h7.5v1.9h-7.5zM697.5 714.2h6.5v1.9h-6.5zM724 714.2h11v1.9h-11zM743 714.2h8v1.9h-8zM704 716h11v1.9h-11zM724 716h11v1.9h-11zM759 717.8h7.8v1.9h-7.8zM735 719.6h8v1.9h-8zM724 721.4h11v1.9h-11zM743 721.4h8v1.9h-8zM704 723.2h11v1.9h-11zM735 723.2h8v1.9h-8zM743 723.2h8v1.9h-8zM697.5 725h6.5v1.9h-6.5zM715 725h9v1.9h-9zM735 725h8v1.9h-8zM735 726.8h8v1.9h-8zM743 726.8h8v1.9h-8zM715 728.6h9v0.1h-9z" fill="#f3e0d8"/>
<path d="M759 553.7h7.8v1.9h-7.8zM697.5 555.5h6.5v1.9h-6.5zM751 555.5h8v1.9h-8zM690 557.3h7.5v1.9h-7.5zM704 557.3h11v1.9h-11zM697.5 559.1h6.5v1.9h-6.5zM690 560.9h7.5v1.9h-7.5zM735 560.9h8v1.9h-8zM683 562.7h7v1.9h-7zM715 562.7h9v1.9h-9zM715 566.3h9v0.6h-9zM683 571.1h7v1.9h-7zM697.5 572.9h6.5v1.9h-6.5zM704 574.7h11v1.9h-11zM683 578.3h7v1.9h-7zM697.5 578.3h6.5v1.9h-6.5zM735 581.9h8v1.9h-8zM751 581.9h8v1.9h-8zM751 583.7h8v1.3h-8zM704 589.3h11v1.9h-11zM715 589.3h9v1.9h-9zM743 589.3h8v1.9h-8zM683 591.1h7v1.9h-7zM715 592.9h9v1.9h-9zM724 594.7h11v1.9h-11zM759 598.3h7.8v1.9h-7.8zM690 600.1h7.5v1.9h-7.5zM697.5 600.1h6.5v1.9h-6.5zM704 600.1h11v1.9h-11zM751 600.1h8v1.9h-8zM697.5 601.9h6.5v1.9h-6.5zM759 601.9h7.8v1.9h-7.8zM683 603.7h7v1.9h-7zM690 603.7h7.5v1.9h-7.5zM715 603.7h9v1.9h-9zM697.5 605.5h6.5v1.9h-6.5zM690 607.3h7.5v1.9h-7.5zM743 607.3h8v1.9h-8zM751 607.3h8v1.9h-8zM690 609.1h7.5v1.9h-7.5zM704 609.1h11v1.9h-11zM743 610.9h8v0.2h-8zM735 613.5h8v1.9h-8zM759 613.5h7.8v1.9h-7.8zM683 615.3h7v1.9h-7zM724 618.9h11v1.9h-11zM759 618.9h7.8v1.9h-7.8zM704 620.7h11v1.9h-11zM715 620.7h9v1.9h-9zM751 620.7h8v1.9h-8zM743 622.5h8v1.6h-8zM683 626.6h7v1.9h-7zM704 626.6h11v1.9h-11zM704 628.4h11v1.9h-11zM751 628.4h8v1.9h-8zM704 630.2h11v1.9h-11zM683 632h7v1.9h-7zM690 632h7.5v1.9h-7.5zM704 632h11v1.9h-11zM715 632h9v1.9h-9zM690 633.8h7.5v1.9h-7.5zM743 633.8h8v1.9h-8zM751 633.8h8v1.9h-8zM759 633.8h7.8v1.9h-7.8zM697.5 635.6h6.5v1.9h-6.5zM704 635.6h11v1.9h-11zM704 637.4h11v1.9h-11zM690 639.2h7.5v1.9h-7.5zM735 639.2h8v1.9h-8zM743 639.2h8v1.9h-8zM751 639.2h8v1.9h-8zM697.5 641h6.5v1.9h-6.5zM735 642.8h8v1.9h-8zM724 644.6h11v1.9h-11zM697.5 646.4h6.5v1.9h-6.5zM715 646.4h9v1.9h-9zM697.5 648.2h6.5v1.9h-6.5zM704 648.2h11v1.9h-11zM743 650h8v1.9h-8zM759 653.6h7.8v1.9h-7.8zM690 655.4h7.5v1.9h-7.5zM704 657.2h11v0.7h-11zM759 657.2h7.8v0.7h-7.8zM715 662.2h9v1.9h-9zM735 667.6h8v1.9h-8zM743 667.6h8v1.9h-8zM751 667.6h8v1.9h-8zM724 669.4h11v1.9h-11zM735 669.4h8v1.9h-8zM690 671.2h7.5v1.9h-7.5zM724 671.2h11v1.9h-11zM690 673h7.5v1.9h-7.5zM697.5 674.8h6.5v1.9h-6.5zM759 674.8h7.8v1.9h-7.8zM683 676.6h7v1.9h-7zM735 676.6h8v1.9h-8zM743 678.4h8v1.9h-8zM751 678.4h8v1.9h-8zM751 682h8v1.9h-8zM690 683.8h7.5v1.9h-7.5zM715 683.8h9v1.9h-9zM690 685.6h7.5v1.9h-7.5zM704 685.6h11v1.9h-11zM690 687.4h7.5v1.9h-7.5zM697.5 687.4h6.5v1.9h-6.5zM759 687.4h7.8v1.9h-7.8zM715 689.2h9v1.9h-9zM759 689.2h7.8v1.9h-7.8zM697.5 691h6.5v1.9h-6.5zM743 691h8v1.9h-8zM724 692.8h11v1.9h-11zM724 694.6h11v1.9h-11zM704 696.4h11v1.9h-11zM743 696.4h8v1.9h-8zM751 696.4h8v1.9h-8zM715 698.2h9v1.9h-9zM697.5 705.2h6.5v1.9h-6.5zM715 705.2h9v1.9h-9zM735 708.8h8v1.9h-8zM743 716h8v1.9h-8zM724 717.8h11v1.9h-11zM715 721.4h9v1.9h-9zM735 721.4h8v1.9h-8zM759 721.4h7.8v1.9h-7.8zM683 725h7v1.9h-7zM751 726.8h8v1.9h-8zM759 726.8h7.8v1.9h-7.8zM683 728.6h7v0.1h-7zM759 728.6h7.8v0.1h-7.8z" fill="#e1e7f4"/>
<path d="M759 555.5h7.8v1.9h-7.8zM735 557.3h8v1.9h-8zM683 559.1h7v1.9h-7zM743 559.1h8v1.9h-8zM759 564.5h7.8v1.9h-7.8zM697.5 566.3h6.5v0.6h-6.5zM759 569.3h7.8v1.9h-7.8zM751 572.9h8v1.9h-8zM715 576.5h9v1.9h-9zM724 578.3h11v1.9h-11zM743 594.7h8v1.9h-8zM751 601.9h8v1.9h-8zM759 605.5h7.8v1.9h-7.8zM724 620.7h11v1.9h-11zM697.5 642.8h6.5v1.9h-6.5zM697.5 676.6h6.5v1.9h-6.5zM683 687.4h7v1.9h-7zM715 703.4h9v1.9h-9zM704 725h11v1.9h-11z" fill="#d18262"/>
<path d="M704 559.1h11v1.9h-11zM697.5 569.3h6.5v1.9h-6.5zM743 581.9h8v1.9h-8zM735 587.5h8v1.9h-8zM683 600.1h7v1.9h-7zM751 651.8h8v1.9h-8zM735 673h8v1.9h-8zM690 716h7.5v1.9h-7.5zM724 719.6h11v1.9h-11z" fill="#c46e4b"/>
<path d="M715 559.1h9v1.9h-9zM735 566.3h8v0.6h-8zM735 569.3h8v1.9h-8zM743 569.3h8v1.9h-8zM715 572.9h9v1.9h-9zM751 576.5h8v1.9h-8zM743 580.1h8v1.9h-8zM759 580.1h7.8v1.9h-7.8zM724 581.9h11v1.9h-11zM743 583.7h8v1.3h-8zM724 589.3h11v1.9h-11zM751 591.1h8v1.9h-8zM724 598.3h11v1.9h-11zM683 601.9h7v1.9h-7zM690 601.9h7.5v1.9h-7.5zM690 610.9h7.5v0.2h-7.5zM704 613.5h11v1.9h-11zM690 618.9h7.5v1.9h-7.5zM683 620.7h7v1.9h-7zM735 622.5h8v1.6h-8zM724 630.2h11v1.9h-11zM715 642.8h9v1.9h-9zM743 642.8h8v1.9h-8zM743 646.4h8v1.9h-8zM697.5 664h6.5v1.9h-6.5zM715 664h9v1.9h-9zM743 664h8v1.9h-8zM697.5 669.4h6.5v1.9h-6.5zM715 680.2h9v1.9h-9zM697.5 682h6.5v1.9h-6.5zM759 682h7.8v1.9h-7.8zM683 683.8h7v1.9h-7zM683 685.6h7v1.9h-7zM759 685.6h7.8v1.9h-7.8zM704 687.4h11v1.9h-11zM724 687.4h11v1.9h-11zM743 689.2h8v1.9h-8zM683 692.8h7v1.9h-7zM690 692.8h7.5v1.9h-7.5zM759 696.4h7.8v1.9h-7.8zM735 698.2h8v1.9h-8zM704 703.4h11v1.9h-11zM724 705.2h11v1.9h-11zM759 707h7.8v1.9h-7.8zM751 708.8h8v1.9h-8zM735 712.4h8v1.9h-8zM683 717.8h7v1.9h-7zM683 719.6h7v1.9h-7z" fill="#afc5ec"/>
<path d="M751 560.9h8v1.9h-8zM697.5 564.5h6.5v1.9h-6.5zM690 566.3h7.5v0.6h-7.5zM690 576.5h7.5v1.9h-7.5zM704 583.7h11v1.3h-11zM704 587.5h11v1.9h-11zM690 589.3h7.5v1.9h-7.5zM690 592.9h7.5v1.9h-7.5zM697.5 596.5h6.5v1.9h-6.5zM751 610.9h8v0.2h-8zM690 615.3h7.5v1.9h-7.5zM697.5 615.3h6.5v1.9h-6.5zM743 615.3h8v1.9h-8zM759 617.1h7.8v1.9h-7.8zM697.5 618.9h6.5v1.9h-6.5zM735 626.6h8v1.9h-8zM743 628.4h8v1.9h-8zM724 632h11v1.9h-11zM735 632h8v1.9h-8zM683 633.8h7v1.9h-7zM715 633.8h9v1.9h-9zM724 642.8h11v1.9h-11zM704 644.6h11v1.9h-11zM690 646.4h7.5v1.9h-7.5zM735 648.2h8v1.9h-8zM735 657.2h8v0.7h-8zM759 664h7.8v1.9h-7.8zM724 665.8h11v1.9h-11zM715 667.6h9v1.9h-9zM683 671.2h7v1.9h-7zM724 682h11v1.9h-11zM724 698.2h11v1.9h-11zM759 698.2h7.8v1.9h-7.8zM759 710.6h7.8v1.9h-7.8zM743 712.4h8v1.9h-8zM735 716h8v1.9h-8zM751 717.8h8v1.9h-8zM715 723.2h9v1.9h-9zM759 725h7.8v1.9h-7.8zM715 726.8h9v1.9h-9z" fill="#de9678"/>
<path d="M690 564.5h7.5v1.9h-7.5zM690 569.3h7.5v1.9h-7.5zM715 578.3h9v1.9h-9zM704 580.1h11v1.9h-11zM715 583.7h9v1.3h-9zM690 587.5h7.5v1.9h-7.5zM683 598.3h7v1.9h-7zM724 605.5h11v1.9h-11zM715 610.9h9v0.2h-9zM715 613.5h9v1.9h-9zM690 620.7h7.5v1.9h-7.5zM683 628.4h7v1.9h-7zM715 639.2h9v1.9h-9zM683 646.4h7v1.9h-7zM690 648.2h7.5v1.9h-7.5zM759 655.4h7.8v1.9h-7.8zM724 664h11v1.9h-11zM724 667.6h11v1.9h-11zM683 674.8h7v1.9h-7zM759 678.4h7.8v1.9h-7.8zM743 682h8v1.9h-8zM759 692.8h7.8v1.9h-7.8zM704 698.2h11v1.9h-11zM743 698.2h8v1.9h-8zM690 703.4h7.5v1.9h-7.5zM735 703.4h8v1.9h-8zM743 703.4h8v1.9h-8zM704 719.6h11v1.9h-11zM743 719.6h8v1.9h-8z" fill="#96b4e8"/>
<path d="M743 571.1h8v1.9h-8z" fill="#4480d0"/>
<path d="M715 618.9h9v1.9h-9z" fill="#aa461e"/>
<path d="M683 650h7v1.9h-7zM715 719.6h9v1.9h-9z" fill="#5f91d8"/>
<line x1="690.5" y1="553.7" x2="690.5" y2="728.6" stroke="#fff" stroke-width="0.8"/>
<line x1="704.3" y1="553.7" x2="704.3" y2="728.6" stroke="#fff" stroke-width="0.8"/>
<line x1="724.2" y1="553.7" x2="724.2" y2="728.6" stroke="#fff" stroke-width="0.8"/>
<line x1="743" y1="553.7" x2="743" y2="728.6" stroke="#fff" stroke-width="0.8"/>
<text x="768.5" y="587" font-size="4.5" font-weight="bold">ourClusters</text>
<rect x="768.5" y="589.5" width="3.5" height="7" fill="#8b1a1a"/>
<text x="773.5" y="595" font-size="4.2" fill="#333">Cluster1</text>
<rect x="768.5" y="598" width="3.5" height="7" fill="#2a6a1a"/>
<text x="773.5" y="603.5" font-size="4.2" fill="#333">Cluster2</text>
<rect x="768.5" y="606.5" width="3.5" height="7" fill="#1a40e0"/>
<text x="773.5" y="612" font-size="4.2" fill="#333">Cluster3</text>
<rect x="768.5" y="615" width="3.5" height="7" fill="#80e060"/>
<text x="773.5" y="620.5" font-size="4.2" fill="#333">Cluster4</text>
<rect x="768.5" y="623.5" width="3.5" height="7" fill="#f0a030"/>
<text x="773.5" y="629" font-size="4.2" fill="#333">Cluster5</text>
<rect x="768.5" y="632" width="3.5" height="7" fill="#e03030"/>
<text x="773.5" y="637.5" font-size="4.2" fill="#333">Cluster6</text>
<rect x="768.5" y="640.5" width="3.5" height="7" fill="#f0f040"/>
<text x="773.5" y="646" font-size="4.2" fill="#333">Cluster7</text>
<text x="769" y="660" font-size="4.3" font-weight="bold">logcounts (centered)</text>
<defs><linearGradient id="gLC" x1="0" y1="0" x2="0" y2="1"><stop offset="0" stop-color="#a0300a"/><stop offset="0.5" stop-color="#fff"/><stop offset="1" stop-color="#2070d0"/></linearGradient></defs>
<rect x="769.3" y="664.4" width="4.2" height="42.8" fill="url(#gLC)"/>
<text x="972" y="29" font-size="40" fill="#1c1b2e">b</text>
<defs><path id="sC2" d="M1036.8 219.8C1036.7 217.5 1040.1 213.1 1042.2 211.1C1044.3 209.1 1046.4 209.2 1049.6 207.7C1052.8 206.2 1059.4 204.7 1061.6 202.3C1063.8 200 1061.2 195.6 1063 193.6C1064.8 191.6 1068.8 192.1 1072.4 190.3C1076 188.5 1080.5 184.5 1084.5 182.9C1088.5 181.3 1093.4 182 1096.5 180.9C1099.6 179.8 1100.1 177 1103.2 176.2C1106.3 175.4 1110.8 175.5 1115.3 176.2C1119.8 176.9 1126.1 179 1130.1 180.2C1134.1 181.4 1136.8 182.4 1139.5 183.6C1142.2 184.8 1143.3 187 1146.2 187.6C1149.1 188.2 1152.5 187.2 1157 186.9C1161.5 186.6 1168.5 185.3 1173 185.6C1177.5 185.9 1180.9 187.2 1183.8 188.9C1186.7 190.6 1189 193.1 1190.5 195.6C1192 198.1 1192.5 201 1192.5 203.7C1192.5 206.4 1190.2 208.8 1190.5 211.7C1190.8 214.6 1195.4 219.3 1194.5 221.1C1193.6 222.9 1188.4 221.8 1185.1 222.5C1181.8 223.2 1177.1 223.2 1174.4 225.2C1171.7 227.2 1170.8 231.7 1169 234.6C1167.2 237.5 1166.8 240.7 1163.7 242.6C1160.6 244.5 1154.7 245.2 1150.2 246C1145.7 246.8 1141.3 247.6 1136.8 247.3C1132.3 247 1127.9 245.4 1123.4 244C1118.9 242.6 1114.5 239.9 1110 238.6C1105.5 237.2 1101 236.1 1096.5 235.9C1092 235.7 1085.8 236.5 1083.1 237.2C1080.4 237.9 1082.6 240.1 1080.4 239.9C1078.2 239.7 1073.7 236.8 1069.7 235.9C1065.7 235 1060.3 235.3 1056.3 234.6C1052.3 233.9 1047.8 233.5 1045.5 231.9C1043.2 230.3 1044.2 227.2 1042.8 225.2C1041.3 223.2 1036.9 222.2 1036.8 219.8Z"/><path id="sC1" d="M1304 225.7C1305.4 223.6 1305.2 221.4 1308.9 220.7C1312.6 220 1321.2 221.6 1326.1 221.4C1331 221.2 1333.3 219.6 1338.4 219.5C1343.5 219.4 1350.7 220.9 1356.9 220.7C1363.1 220.5 1369.2 218.8 1375.4 218.3C1381.6 217.8 1387.7 218.1 1393.8 217.7C1399.9 217.3 1407.2 216.3 1412.3 215.8C1417.4 215.3 1420.5 214.6 1424.6 214.6C1428.7 214.6 1435.7 214.4 1436.9 215.8C1438.1 217.2 1433.7 220.7 1432 223.2C1430.3 225.7 1429.3 228.3 1427 230.6C1424.7 232.8 1421.9 234.8 1418.4 236.7C1414.9 238.5 1410 240 1406.1 241.7C1402.2 243.3 1397.9 245 1395 246.6C1392.1 248.2 1389.3 249.7 1388.9 251.5C1388.5 253.3 1391.2 255 1392.6 257.7C1394 260.4 1398.3 265.1 1397.5 267.5C1396.7 269.9 1392.4 271.2 1387.7 272.4C1383 273.6 1375.4 274.4 1369.2 274.9C1363 275.4 1356.9 275.7 1350.7 275.5C1344.5 275.3 1337.4 274.8 1332.3 273.7C1327.2 272.6 1323.9 270.8 1320 268.7C1316.1 266.6 1312 263.8 1308.9 261.3C1305.8 258.9 1303.1 256.6 1301.5 254C1299.9 251.3 1299.3 248.9 1299.1 245.4C1298.9 241.9 1299.5 236.3 1300.3 233C1301.1 229.7 1302.6 227.8 1304 225.7Z"/><path id="sC7" d="M1354.4 220.7C1353.6 218.3 1356.7 210.3 1358.1 207.2C1359.5 204.1 1360.5 203.9 1363 202.3C1365.5 200.7 1370.4 197.6 1372.9 197.4C1375.4 197.2 1375.8 199.3 1377.8 201.1C1379.8 202.9 1383.5 205.8 1385.2 208.4C1386.9 211.1 1388.3 215.2 1387.7 217C1387.1 218.8 1385.6 218.8 1381.5 219.5C1377.4 220.2 1367.5 221.2 1363 221.4C1358.5 221.6 1355.2 223.1 1354.4 220.7Z"/><path id="sC4a" d="M1332.3 207.2C1333.1 204.9 1335.7 205.3 1338.4 204.7C1341.1 204.1 1345.4 202.9 1348.3 203.5C1351.2 204.1 1354.7 205.5 1355.7 208.4C1356.7 211.3 1356.2 218.4 1354.4 220.7C1352.6 223 1348.1 222.4 1344.6 222C1341.1 221.6 1335.5 220.8 1333.5 218.3C1331.5 215.8 1331.5 209.5 1332.3 207.2Z"/><path id="sC4" d="M1406.1 203.5C1407.1 200.8 1409.2 197.5 1412.3 196.1C1415.4 194.7 1420.1 194.7 1424.6 194.9C1429.1 195.1 1435.8 196 1439.3 197.4C1442.8 198.8 1444.7 201.1 1445.5 203.5C1446.3 205.9 1445.7 210 1444.3 212.1C1442.9 214.2 1440.2 215.4 1436.9 215.8C1433.6 216.2 1428.7 214.6 1424.6 214.6C1420.5 214.6 1415.4 216.2 1412.3 215.8C1409.2 215.4 1407.1 214.2 1406.1 212.1C1405.1 210 1405.1 206.2 1406.1 203.5Z"/><path id="sC3" d="M1268.9 135.8C1272 135.5 1283.4 136.6 1289.2 136.5C1295 136.4 1298.9 135.4 1304 135.2C1309.1 135 1315.5 134.5 1320 135.2C1324.5 135.9 1329.1 137.9 1331.1 139.5C1333 141.1 1332.5 142.7 1331.7 144.5C1330.9 146.3 1327.4 148.2 1326.1 150.6C1324.8 153 1325.3 157.3 1323.7 159.2C1322.1 161 1318.3 159.6 1316.3 161.7C1314.2 163.8 1311.4 168.6 1311.4 171.5C1311.4 174.4 1315.7 175.8 1316.3 178.9C1316.9 182 1315.7 187.5 1315.1 190C1314.5 192.5 1314.4 194.3 1312.6 193.7C1310.8 193.1 1305 188.8 1304 186.3C1303 183.8 1305.6 181.4 1306.4 178.9C1307.2 176.4 1310.1 172.9 1308.9 171.5C1307.7 170.1 1304.4 170.9 1299.1 170.3C1293.8 169.7 1284.3 168.6 1276.9 167.8C1269.5 167 1256.8 166.8 1254.8 165.4C1252.8 164 1262.3 161.2 1264.6 159.2C1266.8 157.1 1265.2 154.5 1268.3 153.1C1271.4 151.7 1282.7 153.1 1283.1 150.6C1283.5 148.1 1273.2 140.8 1270.8 138.3C1268.4 135.8 1265.8 136.1 1268.9 135.8Z"/><path id="sC8" d="M1140.5 115.5C1140.2 115 1146 117 1149 117.6C1152 118.2 1154.1 119.2 1158.5 119C1162.9 118.8 1170.8 117.5 1175.6 116.6C1180.3 115.6 1183.8 114 1187 113.3C1190.2 112.6 1193.7 112 1194.7 112.3C1195.7 112.6 1194.1 114.2 1192.8 115.2C1191.5 116.2 1189.9 117.6 1187 118.5C1184.1 119.4 1178.4 119.1 1175.6 120.4C1172.8 121.7 1171.6 124.8 1169.9 126.1C1168.2 127.4 1166.8 128.2 1165.2 128C1163.6 127.8 1163.1 126 1160.4 125.2C1157.7 124.4 1152.3 123.4 1149 123.3C1145.7 123.2 1140.2 125.2 1140.5 124.7C1140.8 124.2 1150.9 121.9 1150.9 120.4C1150.9 118.9 1140.8 116 1140.5 115.5Z"/><path id="sC10" d="M1220.3 104.3C1220.6 103.3 1222.7 100.7 1225.1 99.5C1227.5 98.3 1231.3 97.1 1234.6 97.1C1237.9 97.1 1243.7 98.6 1245 99.5C1246.3 100.4 1244.6 101.3 1242.2 102.4C1239.8 103.5 1234 105.7 1230.8 106.2C1227.6 106.8 1225 106 1223.2 105.7C1221.5 105.4 1220 105.3 1220.3 104.3Z"/><path id="sC6" d="M1182.3 163.2C1183.2 161.8 1186.2 160.3 1188.9 159.4C1191.6 158.5 1195.6 157.7 1198.5 158C1201.4 158.3 1203.9 160.1 1206.1 161.3C1208.3 162.5 1210.7 163.8 1211.8 165.1C1212.9 166.4 1210.7 167.6 1212.7 168.9C1214.8 170.2 1224.4 172.1 1224.1 172.7C1223.8 173.3 1214.4 172.1 1210.8 172.7C1207.2 173.3 1205 175.2 1202.3 176.5C1199.6 177.8 1197.2 179.5 1194.7 180.3C1192.2 181.1 1190.2 181.8 1187 181.3C1183.8 180.8 1176.5 178.8 1175.6 177.5C1174.6 176.2 1180 175.3 1181.3 173.7C1182.6 172.1 1183 169.8 1183.2 168C1183.4 166.2 1181.3 164.6 1182.3 163.2Z"/><path id="sC5" d="M1176.9 316C1177.4 315.1 1180.4 314.8 1182 314.1C1183.6 313.4 1185.8 313.4 1186.3 311.6C1186.8 309.8 1184.7 304.6 1185.1 303.5C1185.5 302.4 1187.2 303.8 1188.9 304.7C1190.6 305.6 1193.1 307.5 1195.1 309.1C1197.1 310.7 1198.3 313.5 1200.8 314.1C1203.3 314.7 1208.1 313.2 1210.2 312.9C1212.3 312.6 1212.5 311.5 1213.3 312.3C1214.1 313.1 1215.3 316.2 1215.2 317.9C1215.1 319.6 1214.4 321.1 1212.7 322.3C1211 323.6 1207.7 324.7 1205.2 325.4C1202.7 326.1 1200.1 326.7 1197.6 326.7C1195.1 326.7 1192.5 326.1 1190.1 325.4C1187.7 324.7 1185.1 323.3 1183.2 322.3C1181.3 321.3 1179.8 320.2 1178.8 319.2C1177.8 318.1 1176.4 316.9 1176.9 316Z"/><path id="sC11" d="M1320 183C1319.3 181.5 1324 180.7 1326 179C1328 177.3 1330 173.8 1332 173C1334 172.2 1335.8 173.2 1338 174C1340.2 174.8 1344 176 1345 178C1346 180 1345.2 184 1344 186C1342.8 188 1340.3 189.7 1338 190C1335.7 190.3 1333 189.2 1330 188C1327 186.8 1320.7 184.5 1320 183Z"/><path id="sC9" d="M1174 221C1174.7 219.7 1179 222.7 1182 224C1185 225.3 1189.1 227 1192 229C1194.9 231 1198.8 234.5 1199.5 236C1200.2 237.5 1198.2 238 1196 238C1193.8 238 1189 237 1186 236C1183 235 1180 234.5 1178 232C1176 229.5 1173.3 222.3 1174 221Z"/><path id="sC3s" d="M1222 163C1223.2 162.4 1227.4 161.1 1230 160.5C1232.6 159.9 1236.3 159.4 1237.5 159.5C1238.7 159.6 1238.4 160.5 1237 161C1235.6 161.5 1231.4 162 1229 162.5C1226.6 163 1223.7 163.9 1222.5 164C1221.3 164.1 1220.8 163.6 1222 163Z"/><path id="sLine" d="M1192 113.5L1222 103.5" stroke-width="1.6"/><filter id="fB" x="-5%" y="-10%" width="110%" height="120%" color-interpolation-filters="sRGB"><feTurbulence type="fractalNoise" baseFrequency="0.09" numOctaves="2" seed="7" result="t"/><feDisplacementMap in="SourceGraphic" in2="t" scale="3.5" xChannelSelector="R" yChannelSelector="G" result="d"/><feTurbulence type="fractalNoise" baseFrequency="0.75" numOctaves="1" seed="2" result="n"/><feColorMatrix in="n" type="matrix" values="0 0 0 0 0 0 0 0 0 0 0 0 0 0 0 1 0 0 0 0" result="r"/><feComponentTransfer in="r" result="m"><feFuncA type="discrete" tableValues="0 0 0 0 0 1 1 1 1 1 1 1 1 1 1 0 0 0 0 0"/></feComponentTransfer><feComposite in="d" in2="m" operator="in" result="c1"/></filter><filter id="fM1" x="-5%" y="-10%" width="110%" height="120%" color-interpolation-filters="sRGB"><feTurbulence type="fractalNoise" baseFrequency="0.09" numOctaves="2" seed="7" result="t"/><feDisplacementMap in="SourceGraphic" in2="t" scale="3.5" xChannelSelector="R" yChannelSelector="G" result="d"/><feTurbulence type="fractalNoise" baseFrequency="0.75" numOctaves="1" seed="27" result="n"/><feColorMatrix in="n" type="matrix" values="0 0 0 0 0 0 0 0 0 0 0 0 0 0 0 1 0 0 0 0" result="r"/><feComponentTransfer in="r" result="m"><feFuncA type="discrete" tableValues="0 0 0 0 0 0 0 0 1 1 0 0 0 0 0 0 0 0 0 0"/></feComponentTransfer><feComposite in="d" in2="m" operator="in" result="c1"/></filter><filter id="fS1" x="-5%" y="-10%" width="110%" height="120%" color-interpolation-filters="sRGB"><feTurbulence type="fractalNoise" baseFrequency="0.09" numOctaves="2" seed="7" result="t"/><feDisplacementMap in="SourceGraphic" in2="t" scale="3.5" xChannelSelector="R" yChannelSelector="G" result="d"/><feTurbulence type="fractalNoise" baseFrequency="0.75" numOctaves="1" seed="95" result="n"/><feColorMatrix in="n" type="matrix" values="0 0 0 0 0 0 0 0 0 0 0 0 0 0 0 1 0 0 0 0" result="r"/><feComponentTransfer in="r" result="m"><feFuncA type="discrete" tableValues="0 0 0 0 0 0 0 0 0 0 0 1 0 0 0 0 0 0 0 0"/></feComponentTransfer><feComposite in="d" in2="m" operator="in" result="c1"/></filter><filter id="fT1" x="-5%" y="-10%" width="110%" height="120%" color-interpolation-filters="sRGB"><feTurbulence type="fractalNoise" baseFrequency="0.09" numOctaves="2" seed="7" result="t"/><feDisplacementMap in="SourceGraphic" in2="t" scale="3.5" xChannelSelector="R" yChannelSelector="G" result="d"/><feTurbulence type="fractalNoise" baseFrequency="0.75" numOctaves="1" seed="143" result="n"/><feColorMatrix in="n" type="matrix" values="0 0 0 0 0 0 0 0 0 0 0 0 0 0 0 1 0 0 0 0" result="r"/><feComponentTransfer in="r" result="m"><feFuncA type="discrete" tableValues="0 0 0 0 0 0 1 0 0 0 0 0 0 0 0 0 0 0 0 0"/></feComponentTransfer><feComposite in="d" in2="m" operator="in" result="c1"/></filter><filter id="fL1" x="-5%" y="-10%" width="110%" height="120%" color-interpolation-filters="sRGB"><feTurbulence type="fractalNoise" baseFrequency="0.09" numOctaves="2" seed="7" result="t"/><feDisplacementMap in="SourceGraphic" in2="t" scale="3.5" xChannelSelector="R" yChannelSelector="G" result="d"/><feTurbulence type="fractalNoise" baseFrequency="0.06" numOctaves="2" seed="209" result="n"/><feColorMatrix in="n" type="matrix" values="0 0 0 0 0 0 0 0 0 0 0 0 0 0 0 1 0 0 0 0" result="r"/><feComponentTransfer in="r" result="m"><feFuncA type="discrete" tableValues="0 0 0 0 0 0 0 0 0 0 0 1 1 1 1 1 1 1 1 1"/></feComponentTransfer><feComposite in="d" in2="m" operator="in" result="c1"/><feTurbulence type="fractalNoise" baseFrequency="0.8" numOctaves="1" seed="210" result="n2"/><feColorMatrix in="n2" type="matrix" values="0 0 0 0 0 0 0 0 0 0 0 0 0 0 0 1 0 0 0 0" result="r2"/><feComponentTransfer in="r2" result="m2"><feFuncA type="discrete" tableValues="0 0 0 0 0 0 0 1 1 1 1 1 1 1 1 1 1 1 1 1"/></feComponentTransfer><feComposite in="c1" in2="m2" operator="in"/></filter><filter id="fK1" x="-5%" y="-10%" width="110%" height="120%" color-interpolation-filters="sRGB"><feTurbulence type="fractalNoise" baseFrequency="0.09" numOctaves="2" seed="7" result="t"/><feDisplacementMap in="SourceGraphic" in2="t" scale="3.5" xChannelSelector="R" yChannelSelector="G" result="d"/><feTurbulence type="fractalNoise" baseFrequency="0.05" numOctaves="2" seed="269" result="n"/><feColorMatrix in="n" type="matrix" values="0 0 0 0 0 0 0 0 0 0 0 0 0 0 0 1 0 0 0 0" result="r"/><feComponentTransfer in="r" result="m"><feFuncA type="discrete" tableValues="0 0 0 0 0 0 0 0 0 0 1 1 1 1 1 1 1 1 1 1"/></feComponentTransfer><feComposite in="d" in2="m" operator="in" result="c1"/><feTurbulence type="fractalNoise" baseFrequency="0.8" numOctaves="1" seed="270" result="n2"/><feColorMatrix in="n2" type="matrix" values="0 0 0 0 0 0 0 0 0 0 0 0 0 0 0 1 0 0 0 0" result="r2"/><feComponentTransfer in="r2" result="m2"><feFuncA type="discrete" tableValues="0 0 0 0 0 0 0 0 1 1 1 1 1 1 1 1 1 1 1 1"/></feComponentTransfer><feComposite in="c1" in2="m2" operator="in"/></filter><filter id="fM2" x="-5%" y="-10%" width="110%" height="120%" color-interpolation-filters="sRGB"><feTurbulence type="fractalNoise" baseFrequency="0.09" numOctaves="2" seed="7" result="t"/><feDisplacementMap in="SourceGraphic" in2="t" scale="3.5" xChannelSelector="R" yChannelSelector="G" result="d"/><feTurbulence type="fractalNoise" baseFrequency="0.75" numOctaves="1" seed="34" result="n"/><feColorMatrix in="n" type="matrix" values="0 0 0 0 0 0 0 0 0 0 0 0 0 0 0 1 0 0 0 0" result="r"/><feComponentTransfer in="r" result="m"><feFuncA type="discrete" tableValues="0 0 0 0 0 0 0 0 1 1 0 0 0 0 0 0 0 0 0 0"/></feComponentTransfer><feComposite in="d" in2="m" operator="in" result="c1"/></filter><filter id="fS2" x="-5%" y="-10%" width="110%" height="120%" color-interpolation-filters="sRGB"><feTurbulence type="fractalNoise" baseFrequency="0.09" numOctaves="2" seed="7" result="t"/><feDisplacementMap in="SourceGraphic" in2="t" scale="3.5" xChannelSelector="R" yChannelSelector="G" result="d"/><feTurbulence type="fractalNoise" baseFrequency="0.75" numOctaves="1" seed="100" result="n"/><feColorMatrix in="n" type="matrix" values="0 0 0 0 0 0 0 0 0 0 0 0 0 0 0 1 0 0 0 0" result="r"/><feComponentTransfer in="r" result="m"><feFuncA type="discrete" tableValues="0 0 0 0 0 0 0 0 0 0 0 1 0 0 0 0 0 0 0 0"/></feComponentTransfer><feComposite in="d" in2="m" operator="in" result="c1"/></filter><filter id="fT2" x="-5%" y="-10%" width="110%" height="120%" color-interpolation-filters="sRGB"><feTurbulence type="fractalNoise" baseFrequency="0.09" numOctaves="2" seed="7" result="t"/><feDisplacementMap in="SourceGraphic" in2="t" scale="3.5" xChannelSelector="R" yChannelSelector="G" result="d"/><feTurbulence type="fractalNoise" baseFrequency="0.75" numOctaves="1" seed="146" result="n"/><feColorMatrix in="n" type="matrix" values="0 0 0 0 0 0 0 0 0 0 0 0 0 0 0 1 0 0 0 0" result="r"/><feComponentTransfer in="r" result="m"><feFuncA type="discrete" tableValues="0 0 0 0 0 0 1 0 0 0 0 0 0 0 0 0 0 0 0 0"/></feComponentTransfer><feComposite in="d" in2="m" operator="in" result="c1"/></filter><filter id="fL2" x="-5%" y="-10%" width="110%" height="120%" color-interpolation-filters="sRGB"><feTurbulence type="fractalNoise" baseFrequency="0.09" numOctaves="2" seed="7" result="t"/><feDisplacementMap in="SourceGraphic" in2="t" scale="3.5" xChannelSelector="R" yChannelSelector="G" result="d"/><feTurbulence type="fractalNoise" baseFrequency="0.06" numOctaves="2" seed="218" result="n"/><feColorMatrix in="n" type="matrix" values="0 0 0 0 0 0 0 0 0 0 0 0 0 0 0 1 0 0 0 0" result="r"/><feComponentTransfer in="r" result="m"><feFuncA type="discrete" tableValues="0 0 0 0 0 0 0 0 0 0 0 1 1 1 1 1 1 1 1 1"/></feComponentTransfer><feComposite in="d" in2="m" operator="in" result="c1"/><feTurbulence type="fractalNoise" baseFrequency="0.8" numOctaves="1" seed="219" result="n2"/><feColorMatrix in="n2" type="matrix" values="0 0 0 0 0 0 0 0 0 0 0 0 0 0 0 1 0 0 0 0" result="r2"/><feComponentTransfer in="r2" result="m2"><feFuncA type="discrete" tableValues="0 0 0 0 0 0 0 1 1 1 1 1 1 1 1 1 1 1 1 1"/></feComponentTransfer><feComposite in="c1" in2="m2" operator="in"/></filter><filter id="fK2" x="-5%" y="-10%" width="110%" height="120%" color-interpolation-filters="sRGB"><feTurbulence type="fractalNoise" baseFrequency="0.09" numOctaves="2" seed="7" result="t"/><feDisplacementMap in="SourceGraphic" in2="t" scale="3.5" xChannelSelector="R" yChannelSelector="G" result="d"/><feTurbulence type="fractalNoise" baseFrequency="0.05" numOctaves="2" seed="278" result="n"/><feColorMatrix in="n" type="matrix" values="0 0 0 0 0 0 0 0 0 0 0 0 0 0 0 1 0 0 0 0" result="r"/><feComponentTransfer in="r" result="m"><feFuncA type="discrete" tableValues="0 0 0 0 0 0 0 0 0 0 1 1 1 1 1 1 1 1 1 1"/></feComponentTransfer><feComposite in="d" in2="m" operator="in" result="c1"/><feTurbulence type="fractalNoise" baseFrequency="0.8" numOctaves="1" seed="279" result="n2"/><feColorMatrix in="n2" type="matrix" values="0 0 0 0 0 0 0 0 0 0 0 0 0 0 0 1 0 0 0 0" result="r2"/><feComponentTransfer in="r2" result="m2"><feFuncA type="discrete" tableValues="0 0 0 0 0 0 0 0 1 1 1 1 1 1 1 1 1 1 1 1"/></feComponentTransfer><feComposite in="c1" in2="m2" operator="in"/></filter><filter id="fM3" x="-5%" y="-10%" width="110%" height="120%" color-interpolation-filters="sRGB"><feTurbulence type="fractalNoise" baseFrequency="0.09" numOctaves="2" seed="7" result="t"/><feDisplacementMap in="SourceGraphic" in2="t" scale="3.5" xChannelSelector="R" yChannelSelector="G" result="d"/><feTurbulence type="fractalNoise" baseFrequency="0.75" numOctaves="1" seed="41" result="n"/><feColorMatrix in="n" type="matrix" values="0 0 0 0 0 0 0 0 0 0 0 0 0 0 0 1 0 0 0 0" result="r"/><feComponentTransfer in="r" result="m"><feFuncA type="discrete" tableValues="0 0 0 0 0 0 0 0 1 1 0 0 0 0 0 0 0 0 0 0"/></feComponentTransfer><feComposite in="d" in2="m" operator="in" result="c1"/></filter><filter id="fS3" x="-5%" y="-10%" width="110%" height="120%" color-interpolation-filters="sRGB"><feTurbulence type="fractalNoise" baseFrequency="0.09" numOctaves="2" seed="7" result="t"/><feDisplacementMap in="SourceGraphic" in2="t" scale="3.5" xChannelSelector="R" yChannelSelector="G" result="d"/><feTurbulence type="fractalNoise" baseFrequency="0.75" numOctaves="1" seed="105" result="n"/><feColorMatrix in="n" type="matrix" values="0 0 0 0 0 0 0 0 0 0 0 0 0 0 0 1 0 0 0 0" result="r"/><feComponentTransfer in="r" result="m"><feFuncA type="discrete" tableValues="0 0 0 0 0 0 0 0 0 0 0 1 0 0 0 0 0 0 0 0"/></feComponentTransfer><feComposite in="d" in2="m" operator="in" result="c1"/></filter><filter id="fT3" x="-5%" y="-10%" width="110%" height="120%" color-interpolation-filters="sRGB"><feTurbulence type="fractalNoise" baseFrequency="0.09" numOctaves="2" seed="7" result="t"/><feDisplacementMap in="SourceGraphic" in2="t" scale="3.5" xChannelSelector="R" yChannelSelector="G" result="d"/><feTurbulence type="fractalNoise" baseFrequency="0.75" numOctaves="1" seed="149" result="n"/><feColorMatrix in="n" type="matrix" values="0 0 0 0 0 0 0 0 0 0 0 0 0 0 0 1 0 0 0 0" result="r"/><feComponentTransfer in="r" result="m"><feFuncA type="discrete" tableValues="0 0 0 0 0 0 1 0 0 0 0 0 0 0 0 0 0 0 0 0"/></feComponentTransfer><feComposite in="d" in2="m" operator="in" result="c1"/></filter><filter id="fL3" x="-5%" y="-10%" width="110%" height="120%" color-interpolation-filters="sRGB"><feTurbulence type="fractalNoise" baseFrequency="0.09" numOctaves="2" seed="7" result="t"/><feDisplacementMap in="SourceGraphic" in2="t" scale="3.5" xChannelSelector="R" yChannelSelector="G" result="d"/><feTurbulence type="fractalNoise" baseFrequency="0.06" numOctaves="2" seed="227" result="n"/><feColorMatrix in="n" type="matrix" values="0 0 0 0 0 0 0 0 0 0 0 0 0 0 0 1 0 0 0 0" result="r"/><feComponentTransfer in="r" result="m"><feFuncA type="discrete" tableValues="0 0 0 0 0 0 0 0 0 0 0 1 1 1 1 1 1 1 1 1"/></feComponentTransfer><feComposite in="d" in2="m" operator="in" result="c1"/><feTurbulence type="fractalNoise" baseFrequency="0.8" numOctaves="1" seed="228" result="n2"/><feColorMatrix in="n2" type="matrix" values="0 0 0 0 0 0 0 0 0 0 0 0 0 0 0 1 0 0 0 0" result="r2"/><feComponentTransfer in="r2" result="m2"><feFuncA type="discrete" tableValues="0 0 0 0 0 0 0 1 1 1 1 1 1 1 1 1 1 1 1 1"/></feComponentTransfer><feComposite in="c1" in2="m2" operator="in"/></filter><filter id="fK3" x="-5%" y="-10%" width="110%" height="120%" color-interpolation-filters="sRGB"><feTurbulence type="fractalNoise" baseFrequency="0.09" numOctaves="2" seed="7" result="t"/><feDisplacementMap in="SourceGraphic" in2="t" scale="3.5" xChannelSelector="R" yChannelSelector="G" result="d"/><feTurbulence type="fractalNoise" baseFrequency="0.05" numOctaves="2" seed="287" result="n"/><feColorMatrix in="n" type="matrix" values="0 0 0 0 0 0 0 0 0 0 0 0 0 0 0 1 0 0 0 0" result="r"/><feComponentTransfer in="r" result="m"><feFuncA type="discrete" tableValues="0 0 0 0 0 0 0 0 0 0 1 1 1 1 1 1 1 1 1 1"/></feComponentTransfer><feComposite in="d" in2="m" operator="in" result="c1"/><feTurbulence type="fractalNoise" baseFrequency="0.8" numOctaves="1" seed="288" result="n2"/><feColorMatrix in="n2" type="matrix" values="0 0 0 0 0 0 0 0 0 0 0 0 0 0 0 1 0 0 0 0" result="r2"/><feComponentTransfer in="r2" result="m2"><feFuncA type="discrete" tableValues="0 0 0 0 0 0 0 0 1 1 1 1 1 1 1 1 1 1 1 1"/></feComponentTransfer><feComposite in="c1" in2="m2" operator="in"/></filter><filter id="fM4" x="-5%" y="-10%" width="110%" height="120%" color-interpolation-filters="sRGB"><feTurbulence type="fractalNoise" baseFrequency="0.09" numOctaves="2" seed="7" result="t"/><feDisplacementMap in="SourceGraphic" in2="t" scale="3.5" xChannelSelector="R" yChannelSelector="G" result="d"/><feTurbulence type="fractalNoise" baseFrequency="0.75" numOctaves="1" seed="48" result="n"/><feColorMatrix in="n" type="matrix" values="0 0 0 0 0 0 0 0 0 0 0 0 0 0 0 1 0 0 0 0" result="r"/><feComponentTransfer in="r" result="m"><feFuncA type="discrete" tableValues="0 0 0 0 0 0 0 0 1 1 0 0 0 0 0 0 0 0 0 0"/></feComponentTransfer><feComposite in="d" in2="m" operator="in" result="c1"/></filter><filter id="fS4" x="-5%" y="-10%" width="110%" height="120%" color-interpolation-filters="sRGB"><feTurbulence type="fractalNoise" baseFrequency="0.09" numOctaves="2" seed="7" result="t"/><feDisplacementMap in="SourceGraphic" in2="t" scale="3.5" xChannelSelector="R" yChannelSelector="G" result="d"/><feTurbulence type="fractalNoise" baseFrequency="0.75" numOctaves="1" seed="110" result="n"/><feColorMatrix in="n" type="matrix" values="0 0 0 0 0 0 0 0 0 0 0 0 0 0 0 1 0 0 0 0" result="r"/><feComponentTransfer in="r" result="m"><feFuncA type="discrete" tableValues="0 0 0 0 0 0 0 0 0 0 0 1 0 0 0 0 0 0 0 0"/></feComponentTransfer><feComposite in="d" in2="m" operator="in" result="c1"/></filter><filter id="fT4" x="-5%" y="-10%" width="110%" height="120%" color-interpolation-filters="sRGB"><feTurbulence type="fractalNoise" baseFrequency="0.09" numOctaves="2" seed="7" result="t"/><feDisplacementMap in="SourceGraphic" in2="t" scale="3.5" xChannelSelector="R" yChannelSelector="G" result="d"/><feTurbulence type="fractalNoise" baseFrequency="0.75" numOctaves="1" seed="152" result="n"/><feColorMatrix in="n" type="matrix" values="0 0 0 0 0 0 0 0 0 0 0 0 0 0 0 1 0 0 0 0" result="r"/><feComponentTransfer in="r" result="m"><feFuncA type="discrete" tableValues="0 0 0 0 0 0 1 0 0 0 0 0 0 0 0 0 0 0 0 0"/></feComponentTransfer><feComposite in="d" in2="m" operator="in" result="c1"/></filter><filter id="fL4" x="-5%" y="-10%" width="110%" height="120%" color-interpolation-filters="sRGB"><feTurbulence type="fractalNoise" baseFrequency="0.09" numOctaves="2" seed="7" result="t"/><feDisplacementMap in="SourceGraphic" in2="t" scale="3.5" xChannelSelector="R" yChannelSelector="G" result="d"/><feTurbulence type="fractalNoise" baseFrequency="0.06" numOctaves="2" seed="236" result="n"/><feColorMatrix in="n" type="matrix" values="0 0 0 0 0 0 0 0 0 0 0 0 0 0 0 1 0 0 0 0" result="r"/><feComponentTransfer in="r" result="m"><feFuncA type="discrete" tableValues="0 0 0 0 0 0 0 0 0 0 0 1 1 1 1 1 1 1 1 1"/></feComponentTransfer><feComposite in="d" in2="m" operator="in" result="c1"/><feTurbulence type="fractalNoise" baseFrequency="0.8" numOctaves="1" seed="237" result="n2"/><feColorMatrix in="n2" type="matrix" values="0 0 0 0 0 0 0 0 0 0 0 0 0 0 0 1 0 0 0 0" result="r2"/><feComponentTransfer in="r2" result="m2"><feFuncA type="discrete" tableValues="0 0 0 0 0 0 0 1 1 1 1 1 1 1 1 1 1 1 1 1"/></feComponentTransfer><feComposite in="c1" in2="m2" operator="in"/></filter><filter id="fK4" x="-5%" y="-10%" width="110%" height="120%" color-interpolation-filters="sRGB"><feTurbulence type="fractalNoise" baseFrequency="0.09" numOctaves="2" seed="7" result="t"/><feDisplacementMap in="SourceGraphic" in2="t" scale="3.5" xChannelSelector="R" yChannelSelector="G" result="d"/><feTurbulence type="fractalNoise" baseFrequency="0.05" numOctaves="2" seed="296" result="n"/><feColorMatrix in="n" type="matrix" values="0 0 0 0 0 0 0 0 0 0 0 0 0 0 0 1 0 0 0 0" result="r"/><feComponentTransfer in="r" result="m"><feFuncA type="discrete" tableValues="0 0 0 0 0 0 0 0 0 0 1 1 1 1 1 1 1 1 1 1"/></feComponentTransfer><feComposite in="d" in2="m" operator="in" result="c1"/><feTurbulence type="fractalNoise" baseFrequency="0.8" numOctaves="1" seed="297" result="n2"/><feColorMatrix in="n2" type="matrix" values="0 0 0 0 0 0 0 0 0 0 0 0 0 0 0 1 0 0 0 0" result="r2"/><feComponentTransfer in="r2" result="m2"><feFuncA type="discrete" tableValues="0 0 0 0 0 0 0 0 1 1 1 1 1 1 1 1 1 1 1 1"/></feComponentTransfer><feComposite in="c1" in2="m2" operator="in"/></filter><filter id="fM5" x="-5%" y="-10%" width="110%" height="120%" color-interpolation-filters="sRGB"><feTurbulence type="fractalNoise" baseFrequency="0.09" numOctaves="2" seed="7" result="t"/><feDisplacementMap in="SourceGraphic" in2="t" scale="3.5" xChannelSelector="R" yChannelSelector="G" result="d"/><feTurbulence type="fractalNoise" baseFrequency="0.75" numOctaves="1" seed="55" result="n"/><feColorMatrix in="n" type="matrix" values="0 0 0 0 0 0 0 0 0 0 0 0 0 0 0 1 0 0 0 0" result="r"/><feComponentTransfer in="r" result="m"><feFuncA type="discrete" tableValues="0 0 0 0 0 0 0 0 1 1 0 0 0 0 0 0 0 0 0 0"/></feComponentTransfer><feComposite in="d" in2="m" operator="in" result="c1"/></filter><filter id="fS5" x="-5%" y="-10%" width="110%" height="120%" color-interpolation-filters="sRGB"><feTurbulence type="fractalNoise" baseFrequency="0.09" numOctaves="2" seed="7" result="t"/><feDisplacementMap in="SourceGraphic" in2="t" scale="3.5" xChannelSelector="R" yChannelSelector="G" result="d"/><feTurbulence type="fractalNoise" baseFrequency="0.75" numOctaves="1" seed="115" result="n"/><feColorMatrix in="n" type="matrix" values="0 0 0 0 0 0 0 0 0 0 0 0 0 0 0 1 0 0 0 0" result="r"/><feComponentTransfer in="r" result="m"><feFuncA type="discrete" tableValues="0 0 0 0 0 0 0 0 0 0 0 1 0 0 0 0 0 0 0 0"/></feComponentTransfer><feComposite in="d" in2="m" operator="in" result="c1"/></filter><filter id="fT5" x="-5%" y="-10%" width="110%" height="120%" color-interpolation-filters="sRGB"><feTurbulence type="fractalNoise" baseFrequency="0.09" numOctaves="2" seed="7" result="t"/><feDisplacementMap in="SourceGraphic" in2="t" scale="3.5" xChannelSelector="R" yChannelSelector="G" result="d"/><feTurbulence type="fractalNoise" baseFrequency="0.75" numOctaves="1" seed="155" result="n"/><feColorMatrix in="n" type="matrix" values="0 0 0 0 0 0 0 0 0 0 0 0 0 0 0 1 0 0 0 0" result="r"/><feComponentTransfer in="r" result="m"><feFuncA type="discrete" tableValues="0 0 0 0 0 0 1 0 0 0 0 0 0 0 0 0 0 0 0 0"/></feComponentTransfer><feComposite in="d" in2="m" operator="in" result="c1"/></filter><filter id="fL5" x="-5%" y="-10%" width="110%" height="120%" color-interpolation-filters="sRGB"><feTurbulence type="fractalNoise" baseFrequency="0.09" numOctaves="2" seed="7" result="t"/><feDisplacementMap in="SourceGraphic" in2="t" scale="3.5" xChannelSelector="R" yChannelSelector="G" result="d"/><feTurbulence type="fractalNoise" baseFrequency="0.06" numOctaves="2" seed="245" result="n"/><feColorMatrix in="n" type="matrix" values="0 0 0 0 0 0 0 0 0 0 0 0 0 0 0 1 0 0 0 0" result="r"/><feComponentTransfer in="r" result="m"><feFuncA type="discrete" tableValues="0 0 0 0 0 0 0 0 0 0 0 1 1 1 1 1 1 1 1 1"/></feComponentTransfer><feComposite in="d" in2="m" operator="in" result="c1"/><feTurbulence type="fractalNoise" baseFrequency="0.8" numOctaves="1" seed="246" result="n2"/><feColorMatrix in="n2" type="matrix" values="0 0 0 0 0 0 0 0 0 0 0 0 0 0 0 1 0 0 0 0" result="r2"/><feComponentTransfer in="r2" result="m2"><feFuncA type="discrete" tableValues="0 0 0 0 0 0 0 1 1 1 1 1 1 1 1 1 1 1 1 1"/></feComponentTransfer><feComposite in="c1" in2="m2" operator="in"/></filter><filter id="fK5" x="-5%" y="-10%" width="110%" height="120%" color-interpolation-filters="sRGB"><feTurbulence type="fractalNoise" baseFrequency="0.09" numOctaves="2" seed="7" result="t"/><feDisplacementMap in="SourceGraphic" in2="t" scale="3.5" xChannelSelector="R" yChannelSelector="G" result="d"/><feTurbulence type="fractalNoise" baseFrequency="0.05" numOctaves="2" seed="305" result="n"/><feColorMatrix in="n" type="matrix" values="0 0 0 0 0 0 0 0 0 0 0 0 0 0 0 1 0 0 0 0" result="r"/><feComponentTransfer in="r" result="m"><feFuncA type="discrete" tableValues="0 0 0 0 0 0 0 0 0 0 1 1 1 1 1 1 1 1 1 1"/></feComponentTransfer><feComposite in="d" in2="m" operator="in" result="c1"/><feTurbulence type="fractalNoise" baseFrequency="0.8" numOctaves="1" seed="306" result="n2"/><feColorMatrix in="n2" type="matrix" values="0 0 0 0 0 0 0 0 0 0 0 0 0 0 0 1 0 0 0 0" result="r2"/><feComponentTransfer in="r2" result="m2"><feFuncA type="discrete" tableValues="0 0 0 0 0 0 0 0 1 1 1 1 1 1 1 1 1 1 1 1"/></feComponentTransfer><feComposite in="c1" in2="m2" operator="in"/></filter><filter id="fM6" x="-5%" y="-10%" width="110%" height="120%" color-interpolation-filters="sRGB"><feTurbulence type="fractalNoise" baseFrequency="0.09" numOctaves="2" seed="7" result="t"/><feDisplacementMap in="SourceGraphic" in2="t" scale="3.5" xChannelSelector="R" yChannelSelector="G" result="d"/><feTurbulence type="fractalNoise" baseFrequency="0.75" numOctaves="1" seed="62" result="n"/><feColorMatrix in="n" type="matrix" values="0 0 0 0 0 0 0 0 0 0 0 0 0 0 0 1 0 0 0 0" result="r"/><feComponentTransfer in="r" result="m"><feFuncA type="discrete" tableValues="0 0 0 0 0 0 0 0 1 1 0 0 0 0 0 0 0 0 0 0"/></feComponentTransfer><feComposite in="d" in2="m" operator="in" result="c1"/></filter><filter id="fS6" x="-5%" y="-10%" width="110%" height="120%" color-interpolation-filters="sRGB"><feTurbulence type="fractalNoise" baseFrequency="0.09" numOctaves="2" seed="7" result="t"/><feDisplacementMap in="SourceGraphic" in2="t" scale="3.5" xChannelSelector="R" yChannelSelector="G" result="d"/><feTurbulence type="fractalNoise" baseFrequency="0.75" numOctaves="1" seed="120" result="n"/><feColorMatrix in="n" type="matrix" values="0 0 0 0 0 0 0 0 0 0 0 0 0 0 0 1 0 0 0 0" result="r"/><feComponentTransfer in="r" result="m"><feFuncA type="discrete" tableValues="0 0 0 0 0 0 0 0 0 0 0 1 0 0 0 0 0 0 0 0"/></feComponentTransfer><feComposite in="d" in2="m" operator="in" result="c1"/></filter><filter id="fT6" x="-5%" y="-10%" width="110%" height="120%" color-interpolation-filters="sRGB"><feTurbulence type="fractalNoise" baseFrequency="0.09" numOctaves="2" seed="7" result="t"/><feDisplacementMap in="SourceGraphic" in2="t" scale="3.5" xChannelSelector="R" yChannelSelector="G" result="d"/><feTurbulence type="fractalNoise" baseFrequency="0.75" numOctaves="1" seed="158" result="n"/><feColorMatrix in="n" type="matrix" values="0 0 0 0 0 0 0 0 0 0 0 0 0 0 0 1 0 0 0 0" result="r"/><feComponentTransfer in="r" result="m"><feFuncA type="discrete" tableValues="0 0 0 0 0 0 1 0 0 0 0 0 0 0 0 0 0 0 0 0"/></feComponentTransfer><feComposite in="d" in2="m" operator="in" result="c1"/></filter><filter id="fL6" x="-5%" y="-10%" width="110%" height="120%" color-interpolation-filters="sRGB"><feTurbulence type="fractalNoise" baseFrequency="0.09" numOctaves="2" seed="7" result="t"/><feDisplacementMap in="SourceGraphic" in2="t" scale="3.5" xChannelSelector="R" yChannelSelector="G" result="d"/><feTurbulence type="fractalNoise" baseFrequency="0.06" numOctaves="2" seed="254" result="n"/><feColorMatrix in="n" type="matrix" values="0 0 0 0 0 0 0 0 0 0 0 0 0 0 0 1 0 0 0 0" result="r"/><feComponentTransfer in="r" result="m"><feFuncA type="discrete" tableValues="0 0 0 0 0 0 0 0 0 0 0 1 1 1 1 1 1 1 1 1"/></feComponentTransfer><feComposite in="d" in2="m" operator="in" result="c1"/><feTurbulence type="fractalNoise" baseFrequency="0.8" numOctaves="1" seed="255" result="n2"/><feColorMatrix in="n2" type="matrix" values="0 0 0 0 0 0 0 0 0 0 0 0 0 0 0 1 0 0 0 0" result="r2"/><feComponentTransfer in="r2" result="m2"><feFuncA type="discrete" tableValues="0 0 0 0 0 0 0 1 1 1 1 1 1 1 1 1 1 1 1 1"/></feComponentTransfer><feComposite in="c1" in2="m2" operator="in"/></filter><filter id="fK6" x="-5%" y="-10%" width="110%" height="120%" color-interpolation-filters="sRGB"><feTurbulence type="fractalNoise" baseFrequency="0.09" numOctaves="2" seed="7" result="t"/><feDisplacementMap in="SourceGraphic" in2="t" scale="3.5" xChannelSelector="R" yChannelSelector="G" result="d"/><feTurbulence type="fractalNoise" baseFrequency="0.05" numOctaves="2" seed="314" result="n"/><feColorMatrix in="n" type="matrix" values="0 0 0 0 0 0 0 0 0 0 0 0 0 0 0 1 0 0 0 0" result="r"/><feComponentTransfer in="r" result="m"><feFuncA type="discrete" tableValues="0 0 0 0 0 0 0 0 0 0 1 1 1 1 1 1 1 1 1 1"/></feComponentTransfer><feComposite in="d" in2="m" operator="in" result="c1"/><feTurbulence type="fractalNoise" baseFrequency="0.8" numOctaves="1" seed="315" result="n2"/><feColorMatrix in="n2" type="matrix" values="0 0 0 0 0 0 0 0 0 0 0 0 0 0 0 1 0 0 0 0" result="r2"/><feComponentTransfer in="r2" result="m2"><feFuncA type="discrete" tableValues="0 0 0 0 0 0 0 0 1 1 1 1 1 1 1 1 1 1 1 1"/></feComponentTransfer><feComposite in="c1" in2="m2" operator="in"/></filter><filter id="fM7" x="-5%" y="-10%" width="110%" height="120%" color-interpolation-filters="sRGB"><feTurbulence type="fractalNoise" baseFrequency="0.09" numOctaves="2" seed="7" result="t"/><feDisplacementMap in="SourceGraphic" in2="t" scale="3.5" xChannelSelector="R" yChannelSelector="G" result="d"/><feTurbulence type="fractalNoise" baseFrequency="0.75" numOctaves="1" seed="69" result="n"/><feColorMatrix in="n" type="matrix" values="0 0 0 0 0 0 0 0 0 0 0 0 0 0 0 1 0 0 0 0" result="r"/><feComponentTransfer in="r" result="m"><feFuncA type="discrete" tableValues="0 0 0 0 0 0 0 0 1 1 0 0 0 0 0 0 0 0 0 0"/></feComponentTransfer><feComposite in="d" in2="m" operator="in" result="c1"/></filter><filter id="fS7" x="-5%" y="-10%" width="110%" height="120%" color-interpolation-filters="sRGB"><feTurbulence type="fractalNoise" baseFrequency="0.09" numOctaves="2" seed="7" result="t"/><feDisplacementMap in="SourceGraphic" in2="t" scale="3.5" xChannelSelector="R" yChannelSelector="G" result="d"/><feTurbulence type="fractalNoise" baseFrequency="0.75" numOctaves="1" seed="125" result="n"/><feColorMatrix in="n" type="matrix" values="0 0 0 0 0 0 0 0 0 0 0 0 0 0 0 1 0 0 0 0" result="r"/><feComponentTransfer in="r" result="m"><feFuncA type="discrete" tableValues="0 0 0 0 0 0 0 0 0 0 0 1 0 0 0 0 0 0 0 0"/></feComponentTransfer><feComposite in="d" in2="m" operator="in" result="c1"/></filter><filter id="fT7" x="-5%" y="-10%" width="110%" height="120%" color-interpolation-filters="sRGB"><feTurbulence type="fractalNoise" baseFrequency="0.09" numOctaves="2" seed="7" result="t"/><feDisplacementMap in="SourceGraphic" in2="t" scale="3.5" xChannelSelector="R" yChannelSelector="G" result="d"/><feTurbulence type="fractalNoise" baseFrequency="0.75" numOctaves="1" seed="161" result="n"/><feColorMatrix in="n" type="matrix" values="0 0 0 0 0 0 0 0 0 0 0 0 0 0 0 1 0 0 0 0" result="r"/><feComponentTransfer in="r" result="m"><feFuncA type="discrete" tableValues="0 0 0 0 0 0 1 0 0 0 0 0 0 0 0 0 0 0 0 0"/></feComponentTransfer><feComposite in="d" in2="m" operator="in" result="c1"/></filter><filter id="fL7" x="-5%" y="-10%" width="110%" height="120%" color-interpolation-filters="sRGB"><feTurbulence type="fractalNoise" baseFrequency="0.09" numOctaves="2" seed="7" result="t"/><feDisplacementMap in="SourceGraphic" in2="t" scale="3.5" xChannelSelector="R" yChannelSelector="G" result="d"/><feTurbulence type="fractalNoise" baseFrequency="0.06" numOctaves="2" seed="263" result="n"/><feColorMatrix in="n" type="matrix" values="0 0 0 0 0 0 0 0 0 0 0 0 0 0 0 1 0 0 0 0" result="r"/><feComponentTransfer in="r" result="m"><feFuncA type="discrete" tableValues="0 0 0 0 0 0 0 0 0 0 0 1 1 1 1 1 1 1 1 1"/></feComponentTransfer><feComposite in="d" in2="m" operator="in" result="c1"/><feTurbulence type="fractalNoise" baseFrequency="0.8" numOctaves="1" seed="264" result="n2"/><feColorMatrix in="n2" type="matrix" values="0 0 0 0 0 0 0 0 0 0 0 0 0 0 0 1 0 0 0 0" result="r2"/><feComponentTransfer in="r2" result="m2"><feFuncA type="discrete" tableValues="0 0 0 0 0 0 0 1 1 1 1 1 1 1 1 1 1 1 1 1"/></feComponentTransfer><feComposite in="c1" in2="m2" operator="in"/></filter><filter id="fK7" x="-5%" y="-10%" width="110%" height="120%" color-interpolation-filters="sRGB"><feTurbulence type="fractalNoise" baseFrequency="0.09" numOctaves="2" seed="7" result="t"/><feDisplacementMap in="SourceGraphic" in2="t" scale="3.5" xChannelSelector="R" yChannelSelector="G" result="d"/><feTurbulence type="fractalNoise" baseFrequency="0.05" numOctaves="2" seed="323" result="n"/><feColorMatrix in="n" type="matrix" values="0 0 0 0 0 0 0 0 0 0 0 0 0 0 0 1 0 0 0 0" result="r"/><feComponentTransfer in="r" result="m"><feFuncA type="discrete" tableValues="0 0 0 0 0 0 0 0 0 0 1 1 1 1 1 1 1 1 1 1"/></feComponentTransfer><feComposite in="d" in2="m" operator="in" result="c1"/><feTurbulence type="fractalNoise" baseFrequency="0.8" numOctaves="1" seed="324" result="n2"/><feColorMatrix in="n2" type="matrix" values="0 0 0 0 0 0 0 0 0 0 0 0 0 0 0 1 0 0 0 0" result="r2"/><feComponentTransfer in="r2" result="m2"><feFuncA type="discrete" tableValues="0 0 0 0 0 0 0 0 1 1 1 1 1 1 1 1 1 1 1 1"/></feComponentTransfer><feComposite in="c1" in2="m2" operator="in"/></filter><filter id="fM8" x="-5%" y="-10%" width="110%" height="120%" color-interpolation-filters="sRGB"><feTurbulence type="fractalNoise" baseFrequency="0.09" numOctaves="2" seed="7" result="t"/><feDisplacementMap in="SourceGraphic" in2="t" scale="3.5" xChannelSelector="R" yChannelSelector="G" result="d"/><feTurbulence type="fractalNoise" baseFrequency="0.75" numOctaves="1" seed="76" result="n"/><feColorMatrix in="n" type="matrix" values="0 0 0 0 0 0 0 0 0 0 0 0 0 0 0 1 0 0 0 0" result="r"/><feComponentTransfer in="r" result="m"><feFuncA type="discrete" tableValues="0 0 0 0 0 0 0 0 1 1 0 0 0 0 0 0 0 0 0 0"/></feComponentTransfer><feComposite in="d" in2="m" operator="in" result="c1"/></filter><filter id="fS8" x="-5%" y="-10%" width="110%" height="120%" color-interpolation-filters="sRGB"><feTurbulence type="fractalNoise" baseFrequency="0.09" numOctaves="2" seed="7" result="t"/><feDisplacementMap in="SourceGraphic" in2="t" scale="3.5" xChannelSelector="R" yChannelSelector="G" result="d"/><feTurbulence type="fractalNoise" baseFrequency="0.75" numOctaves="1" seed="130" result="n"/><feColorMatrix in="n" type="matrix" values="0 0 0 0 0 0 0 0 0 0 0 0 0 0 0 1 0 0 0 0" result="r"/><feComponentTransfer in="r" result="m"><feFuncA type="discrete" tableValues="0 0 0 0 0 0 0 0 0 0 0 1 0 0 0 0 0 0 0 0"/></feComponentTransfer><feComposite in="d" in2="m" operator="in" result="c1"/></filter><filter id="fT8" x="-5%" y="-10%" width="110%" height="120%" color-interpolation-filters="sRGB"><feTurbulence type="fractalNoise" baseFrequency="0.09" numOctaves="2" seed="7" result="t"/><feDisplacementMap in="SourceGraphic" in2="t" scale="3.5" xChannelSelector="R" yChannelSelector="G" result="d"/><feTurbulence type="fractalNoise" baseFrequency="0.75" numOctaves="1" seed="164" result="n"/><feColorMatrix in="n" type="matrix" values="0 0 0 0 0 0 0 0 0 0 0 0 0 0 0 1 0 0 0 0" result="r"/><feComponentTransfer in="r" result="m"><feFuncA type="discrete" tableValues="0 0 0 0 0 0 1 0 0 0 0 0 0 0 0 0 0 0 0 0"/></feComponentTransfer><feComposite in="d" in2="m" operator="in" result="c1"/></filter><filter id="fL8" x="-5%" y="-10%" width="110%" height="120%" color-interpolation-filters="sRGB"><feTurbulence type="fractalNoise" baseFrequency="0.09" numOctaves="2" seed="7" result="t"/><feDisplacementMap in="SourceGraphic" in2="t" scale="3.5" xChannelSelector="R" yChannelSelector="G" result="d"/><feTurbulence type="fractalNoise" baseFrequency="0.06" numOctaves="2" seed="272" result="n"/><feColorMatrix in="n" type="matrix" values="0 0 0 0 0 0 0 0 0 0 0 0 0 0 0 1 0 0 0 0" result="r"/><feComponentTransfer in="r" result="m"><feFuncA type="discrete" tableValues="0 0 0 0 0 0 0 0 0 0 0 1 1 1 1 1 1 1 1 1"/></feComponentTransfer><feComposite in="d" in2="m" operator="in" result="c1"/><feTurbulence type="fractalNoise" baseFrequency="0.8" numOctaves="1" seed="273" result="n2"/><feColorMatrix in="n2" type="matrix" values="0 0 0 0 0 0 0 0 0 0 0 0 0 0 0 1 0 0 0 0" result="r2"/><feComponentTransfer in="r2" result="m2"><feFuncA type="discrete" tableValues="0 0 0 0 0 0 0 1 1 1 1 1 1 1 1 1 1 1 1 1"/></feComponentTransfer><feComposite in="c1" in2="m2" operator="in"/></filter><filter id="fK8" x="-5%" y="-10%" width="110%" height="120%" color-interpolation-filters="sRGB"><feTurbulence type="fractalNoise" baseFrequency="0.09" numOctaves="2" seed="7" result="t"/><feDisplacementMap in="SourceGraphic" in2="t" scale="3.5" xChannelSelector="R" yChannelSelector="G" result="d"/><feTurbulence type="fractalNoise" baseFrequency="0.05" numOctaves="2" seed="332" result="n"/><feColorMatrix in="n" type="matrix" values="0 0 0 0 0 0 0 0 0 0 0 0 0 0 0 1 0 0 0 0" result="r"/><feComponentTransfer in="r" result="m"><feFuncA type="discrete" tableValues="0 0 0 0 0 0 0 0 0 0 1 1 1 1 1 1 1 1 1 1"/></feComponentTransfer><feComposite in="d" in2="m" operator="in" result="c1"/><feTurbulence type="fractalNoise" baseFrequency="0.8" numOctaves="1" seed="333" result="n2"/><feColorMatrix in="n2" type="matrix" values="0 0 0 0 0 0 0 0 0 0 0 0 0 0 0 1 0 0 0 0" result="r2"/><feComponentTransfer in="r2" result="m2"><feFuncA type="discrete" tableValues="0 0 0 0 0 0 0 0 1 1 1 1 1 1 1 1 1 1 1 1"/></feComponentTransfer><feComposite in="c1" in2="m2" operator="in"/></filter><filter id="fM9" x="-5%" y="-10%" width="110%" height="120%" color-interpolation-filters="sRGB"><feTurbulence type="fractalNoise" baseFrequency="0.09" numOctaves="2" seed="7" result="t"/><feDisplacementMap in="SourceGraphic" in2="t" scale="3.5" xChannelSelector="R" yChannelSelector="G" result="d"/><feTurbulence type="fractalNoise" baseFrequency="0.75" numOctaves="1" seed="83" result="n"/><feColorMatrix in="n" type="matrix" values="0 0 0 0 0 0 0 0 0 0 0 0 0 0 0 1 0 0 0 0" result="r"/><feComponentTransfer in="r" result="m"><feFuncA type="discrete" tableValues="0 0 0 0 0 0 0 0 1 1 0 0 0 0 0 0 0 0 0 0"/></feComponentTransfer><feComposite in="d" in2="m" operator="in" result="c1"/></filter><filter id="fS9" x="-5%" y="-10%" width="110%" height="120%" color-interpolation-filters="sRGB"><feTurbulence type="fractalNoise" baseFrequency="0.09" numOctaves="2" seed="7" result="t"/><feDisplacementMap in="SourceGraphic" in2="t" scale="3.5" xChannelSelector="R" yChannelSelector="G" result="d"/><feTurbulence type="fractalNoise" baseFrequency="0.75" numOctaves="1" seed="135" result="n"/><feColorMatrix in="n" type="matrix" values="0 0 0 0 0 0 0 0 0 0 0 0 0 0 0 1 0 0 0 0" result="r"/><feComponentTransfer in="r" result="m"><feFuncA type="discrete" tableValues="0 0 0 0 0 0 0 0 0 0 0 1 0 0 0 0 0 0 0 0"/></feComponentTransfer><feComposite in="d" in2="m" operator="in" result="c1"/></filter><filter id="fT9" x="-5%" y="-10%" width="110%" height="120%" color-interpolation-filters="sRGB"><feTurbulence type="fractalNoise" baseFrequency="0.09" numOctaves="2" seed="7" result="t"/><feDisplacementMap in="SourceGraphic" in2="t" scale="3.5" xChannelSelector="R" yChannelSelector="G" result="d"/><feTurbulence type="fractalNoise" baseFrequency="0.75" numOctaves="1" seed="167" result="n"/><feColorMatrix in="n" type="matrix" values="0 0 0 0 0 0 0 0 0 0 0 0 0 0 0 1 0 0 0 0" result="r"/><feComponentTransfer in="r" result="m"><feFuncA type="discrete" tableValues="0 0 0 0 0 0 1 0 0 0 0 0 0 0 0 0 0 0 0 0"/></feComponentTransfer><feComposite in="d" in2="m" operator="in" result="c1"/></filter><filter id="fL9" x="-5%" y="-10%" width="110%" height="120%" color-interpolation-filters="sRGB"><feTurbulence type="fractalNoise" baseFrequency="0.09" numOctaves="2" seed="7" result="t"/><feDisplacementMap in="SourceGraphic" in2="t" scale="3.5" xChannelSelector="R" yChannelSelector="G" result="d"/><feTurbulence type="fractalNoise" baseFrequency="0.06" numOctaves="2" seed="281" result="n"/><feColorMatrix in="n" type="matrix" values="0 0 0 0 0 0 0 0 0 0 0 0 0 0 0 1 0 0 0 0" result="r"/><feComponentTransfer in="r" result="m"><feFuncA type="discrete" tableValues="0 0 0 0 0 0 0 0 0 0 0 1 1 1 1 1 1 1 1 1"/></feComponentTransfer><feComposite in="d" in2="m" operator="in" result="c1"/><feTurbulence type="fractalNoise" baseFrequency="0.8" numOctaves="1" seed="282" result="n2"/><feColorMatrix in="n2" type="matrix" values="0 0 0 0 0 0 0 0 0 0 0 0 0 0 0 1 0 0 0 0" result="r2"/><feComponentTransfer in="r2" result="m2"><feFuncA type="discrete" tableValues="0 0 0 0 0 0 0 1 1 1 1 1 1 1 1 1 1 1 1 1"/></feComponentTransfer><feComposite in="c1" in2="m2" operator="in"/></filter><filter id="fK9" x="-5%" y="-10%" width="110%" height="120%" color-interpolation-filters="sRGB"><feTurbulence type="fractalNoise" baseFrequency="0.09" numOctaves="2" seed="7" result="t"/><feDisplacementMap in="SourceGraphic" in2="t" scale="3.5" xChannelSelector="R" yChannelSelector="G" result="d"/><feTurbulence type="fractalNoise" baseFrequency="0.05" numOctaves="2" seed="341" result="n"/><feColorMatrix in="n" type="matrix" values="0 0 0 0 0 0 0 0 0 0 0 0 0 0 0 1 0 0 0 0" result="r"/><feComponentTransfer in="r" result="m"><feFuncA type="discrete" tableValues="0 0 0 0 0 0 0 0 0 0 1 1 1 1 1 1 1 1 1 1"/></feComponentTransfer><feComposite in="d" in2="m" operator="in" result="c1"/><feTurbulence type="fractalNoise" baseFrequency="0.8" numOctaves="1" seed="342" result="n2"/><feColorMatrix in="n2" type="matrix" values="0 0 0 0 0 0 0 0 0 0 0 0 0 0 0 1 0 0 0 0" result="r2"/><feComponentTransfer in="r2" result="m2"><feFuncA type="discrete" tableValues="0 0 0 0 0 0 0 0 1 1 1 1 1 1 1 1 1 1 1 1"/></feComponentTransfer><feComposite in="c1" in2="m2" operator="in"/></filter></defs>
<rect x="1016.7" y="85.2" width="450.8" height="253" fill="#fff" stroke="#e2e2e2" stroke-width="1.4"/>
<text x="1241.5" y="357.7" font-size="21.5" text-anchor="middle">UMAP1</text>
<text transform="translate(1009.4 211.7) rotate(-90)" font-size="21.5" text-anchor="middle">UMAP2</text>
<rect x="1504.9" y="85.2" width="450.8" height="253" fill="#fff" stroke="#e2e2e2" stroke-width="1.4"/>
<text x="1729.7" y="357.7" font-size="21.5" text-anchor="middle">UMAP1</text>
<text transform="translate(1497.6 211.7) rotate(-90)" font-size="21.5" text-anchor="middle">UMAP2</text>
<rect x="1016.7" y="516.2" width="450.8" height="253" fill="#fff" stroke="#e2e2e2" stroke-width="1.4"/>
<text x="1241.5" y="788.7" font-size="21.5" text-anchor="middle">UMAP1</text>
<text transform="translate(1009.4 642.7) rotate(-90)" font-size="21.5" text-anchor="middle">UMAP2</text>
<rect x="1504.9" y="516.2" width="450.8" height="253" fill="#fff" stroke="#e2e2e2" stroke-width="1.4"/>
<text x="1729.7" y="788.7" font-size="21.5" text-anchor="middle">UMAP1</text>
<text transform="translate(1497.6 642.7) rotate(-90)" font-size="21.5" text-anchor="middle">UMAP2</text>
<text x="1016.7" y="74" font-size="22.4">Clusters</text>
<text x="1504.9" y="74" font-size="22.4">Patients</text>
<text x="1016.7" y="505.4" font-size="22.4">Assignment</text>
<text x="1504.9" y="505.4" font-size="22.4">CopyKat Prediction</text>
<g>
<use href="#sLine" stroke="#f9a41c"/>
<use href="#sC2" fill="#1b6285" filter="url(#fB)"/>
<use href="#sC1" fill="#063a57" filter="url(#fB)"/>
<use href="#sC3" fill="#4a80c6" filter="url(#fB)"/>
<use href="#sC4a" fill="#9b62c8" filter="url(#fB)"/>
<use href="#sC4" fill="#9b62c8" filter="url(#fB)"/>
<use href="#sC7" fill="#ea6b7d" filter="url(#fB)"/>
<use href="#sC8" fill="#ee5b66" filter="url(#fB)"/>
<use href="#sC10" fill="#f9a41c" filter="url(#fB)"/>
<use href="#sC6" fill="#d65ea9" filter="url(#fB)"/>
<use href="#sC5" fill="#b35bbf" filter="url(#fB)"/>
<use href="#sC3s" fill="#4a80c6" filter="url(#fB)"/>
<use href="#sC11" fill="#a6c45f" filter="url(#fM1)"/>
<use href="#sC9" fill="#ea8020" filter="url(#fM2)"/>
<use href="#sC9" fill="#ea8020" filter="url(#fM3)"/>
<text x="1232.7" y="105.5" font-size="12" text-anchor="middle">C10</text>
<text x="1168" y="124.5" font-size="12" text-anchor="middle">C8</text>
<text x="1235" y="143.5" font-size="12" text-anchor="middle">C12</text>
<text x="1195.6" y="171.2" font-size="12" text-anchor="middle">C6</text>
<text x="1303.4" y="159" font-size="12" text-anchor="middle">C3</text>
<text x="1339" y="185" font-size="12" text-anchor="middle">C11</text>
<text x="1371.7" y="214.5" font-size="12" text-anchor="middle">C7</text>
<text x="1427" y="212" font-size="12" text-anchor="middle">C4</text>
<text x="1353.8" y="250.8" font-size="12" text-anchor="middle" fill="#fff">C1</text>
<text x="1124.7" y="216" font-size="12" text-anchor="middle" fill="#fff">C2</text>
<text x="1191.8" y="236.2" font-size="12" text-anchor="middle">C9</text>
<text x="1197.6" y="326.5" font-size="12" text-anchor="middle">C5</text>
</g>
<g transform="translate(488.2 0)">
<use href="#sLine" stroke="#d05a8a"/>
<use href="#sC2" fill="#a25aa9" filter="url(#fB)"/>
<use href="#sC2" fill="#5aa060" filter="url(#fL1)"/>
<use href="#sC2" fill="#d870b8" filter="url(#fL2)"/>
<use href="#sC2" fill="#8db034" filter="url(#fL3)"/>
<use href="#sC2" fill="#3aa566" filter="url(#fS1)"/>
<use href="#sC2" fill="#e07fc5" filter="url(#fS2)"/>
<use href="#sC2" fill="#8db034" filter="url(#fS3)"/>
<use href="#sC2" fill="#9c4d95" filter="url(#fS4)"/>
<use href="#sC2" fill="#c03c42" filter="url(#fS5)"/>
<use href="#sC2" fill="#3aa566" filter="url(#fS6)"/>
<use href="#sC2" fill="#e07fc5" filter="url(#fS7)"/>
<use href="#sC2" fill="#f2d055" filter="url(#fT1)"/>
<use href="#sC2" fill="#2a7fd5" filter="url(#fT2)"/>
<use href="#sC2" fill="#ef7088" filter="url(#fT3)"/>
<path d="M1103 177C1110.5 176.3 1122.8 179.2 1130 181C1137.2 182.8 1139 187.2 1146 188C1153 188.8 1165.3 185.7 1172 186C1178.7 186.3 1182.8 187.7 1186 190C1189.2 192.3 1190.7 197.3 1191 200C1191.3 202.7 1193.2 205.5 1188 206C1182.8 206.5 1169.7 204.7 1160 203C1150.3 201.3 1140 198.5 1130 196C1120 193.5 1107.5 189.8 1100 188C1092.5 186.2 1084.5 186.8 1085 185C1085.5 183.2 1095.5 177.7 1103 177Z" fill="#17868c" filter="url(#fB)"/>
<path d="M1150 200C1153 199 1164 198.8 1170 199C1176 199.2 1183.7 199.7 1186 201C1188.3 202.3 1187.5 205.8 1184 207C1180.5 208.2 1170.3 208.3 1165 208C1159.7 207.7 1154.5 206.3 1152 205C1149.5 203.7 1147 201 1150 200Z" fill="#0a3352" filter="url(#fB)"/>
<path d="M1084 186C1085.7 185 1091.3 183.7 1094 184C1096.7 184.3 1100.3 186.8 1100 188C1099.7 189.2 1094.7 190.7 1092 191C1089.3 191.3 1085.3 190.8 1084 190C1082.7 189.2 1082.3 187 1084 186Z" fill="#0a3352" filter="url(#fB)"/>
<path d="M1037 220C1037.2 217.2 1041.5 213 1044 211C1046.5 209 1050 206.2 1052 208C1054 209.8 1056.3 218 1056 222C1055.7 226 1052.2 231 1050 232C1047.8 233 1045.2 230 1043 228C1040.8 226 1036.8 222.8 1037 220Z" fill="#6f86c4" filter="url(#fB)" opacity="0.8"/>
<path d="M1080 225C1084.7 223 1100 221.5 1110 222C1120 222.5 1131.7 225.7 1140 228C1148.3 230.3 1158.3 233 1160 236C1161.7 239 1155.8 244.3 1150 246C1144.2 247.7 1133.3 247.3 1125 246C1116.7 244.7 1107.2 240 1100 238C1092.8 236 1085.3 236.2 1082 234C1078.7 231.8 1075.3 227 1080 225Z" fill="#7a9a50" filter="url(#fM1)" opacity="0.9"/>
<path d="M1060 215C1063.7 212 1075 208.8 1080 210C1085 211.2 1090.8 218.3 1090 222C1089.2 225.7 1080.3 231 1075 232C1069.7 233 1060.5 230.8 1058 228C1055.5 225.2 1056.3 218 1060 215Z" fill="#b8b040" filter="url(#fS1)" opacity="0.8"/>
<use href="#sC1" fill="#cd4f6e" filter="url(#fB)"/>
<use href="#sC1" fill="#e8687e" filter="url(#fL1)"/>
<use href="#sC1" fill="#b04060" filter="url(#fL2)"/>
<use href="#sC1" fill="#ef7088" filter="url(#fS1)"/>
<use href="#sC1" fill="#063754" filter="url(#fS2)"/>
<use href="#sC1" fill="#f05a68" filter="url(#fS3)"/>
<use href="#sC1" fill="#c03c42" filter="url(#fS4)"/>
<use href="#sC1" fill="#ff7f45" filter="url(#fS5)"/>
<use href="#sC1" fill="#d04b8c" filter="url(#fS6)"/>
<use href="#sC1" fill="#a07ccf" filter="url(#fT1)"/>
<use href="#sC1" fill="#34497f" filter="url(#fT2)"/>
<use href="#sC1" fill="#3aa566" filter="url(#fT3)"/>
<path d="M1312 228C1315.7 223.3 1327.7 223.3 1335 224C1342.3 224.7 1351.5 227.7 1356 232C1360.5 236.3 1363 244.3 1362 250C1361 255.7 1355.7 263.3 1350 266C1344.3 268.7 1334.2 268.3 1328 266C1321.8 263.7 1315.7 258.3 1313 252C1310.3 245.7 1308.3 232.7 1312 228Z" fill="#1c2f55" filter="url(#fM1)" opacity="0.9"/>
<path d="M1395 222C1399.7 219 1413.2 216.8 1420 216C1426.8 215.2 1435 214.3 1436 217C1437 219.7 1431.2 228.2 1426 232C1420.8 235.8 1410.7 239.7 1405 240C1399.3 240.3 1393.7 237 1392 234C1390.3 231 1390.3 225 1395 222Z" fill="#ef8a4a" filter="url(#fM3)" opacity="0.8"/>
<use href="#sC3" fill="#c8536e" filter="url(#fB)"/>
<use href="#sC3" fill="#ffa500" filter="url(#fS1)"/>
<use href="#sC3" fill="#d04b8c" filter="url(#fS2)"/>
<use href="#sC3" fill="#ef7088" filter="url(#fS3)"/>
<use href="#sC3" fill="#c03c42" filter="url(#fS4)"/>
<use href="#sC3" fill="#3aa566" filter="url(#fS5)"/>
<path d="M1255 165.4C1252.7 163.9 1261.5 161.2 1266 159C1270.5 156.8 1277 151.8 1282 152C1287 152.2 1293 157 1296 160C1299 163 1302.7 168.7 1300 170C1297.3 171.3 1287.5 168.8 1280 168C1272.5 167.2 1257.3 166.9 1255 165.4Z" fill="#f0a010" filter="url(#fB)"/>
<use href="#sC4" fill="#f0a42a" filter="url(#fB)"/>
<use href="#sC4" fill="#ffa500" filter="url(#fS1)"/>
<use href="#sC4" fill="#e07b22" filter="url(#fS2)"/>
<use href="#sC4" fill="#f2d055" filter="url(#fS3)"/>
<use href="#sC4" fill="#d04b8c" filter="url(#fS4)"/>
<use href="#sC4a" fill="#e28a50" filter="url(#fB)"/>
<use href="#sC4a" fill="#d04b8c" filter="url(#fS1)"/>
<use href="#sC4a" fill="#ffa500" filter="url(#fS2)"/>
<use href="#sC4a" fill="#a07ccf" filter="url(#fS3)"/>
<use href="#sC7" fill="#e97c5a" filter="url(#fB)"/>
<use href="#sC7" fill="#ffa500" filter="url(#fS1)"/>
<use href="#sC7" fill="#d04b8c" filter="url(#fS2)"/>
<use href="#sC7" fill="#ef7088" filter="url(#fS3)"/>
<use href="#sC7" fill="#c03c42" filter="url(#fS4)"/>
<use href="#sC8" fill="#9a78b8" filter="url(#fB)"/>
<use href="#sC8" fill="#2a7fd5" filter="url(#fS1)"/>
<use href="#sC8" fill="#ffa500" filter="url(#fS2)"/>
<use href="#sC8" fill="#d04b8c" filter="url(#fS3)"/>
<use href="#sC8" fill="#14868c" filter="url(#fS4)"/>
<use href="#sC10" fill="#b05a9a" filter="url(#fB)"/>
<use href="#sC6" fill="#a064b0" filter="url(#fB)"/>
<use href="#sC6" fill="#3aa566" filter="url(#fS1)"/>
<use href="#sC6" fill="#9c4d95" filter="url(#fS2)"/>
<use href="#sC6" fill="#a07ccf" filter="url(#fS3)"/>
<use href="#sC5" fill="#3f8a78" filter="url(#fB)"/>
<use href="#sC5" fill="#14868c" filter="url(#fS1)"/>
<use href="#sC5" fill="#3aa566" filter="url(#fS2)"/>
<use href="#sC5" fill="#063754" filter="url(#fS3)"/>
<path d="M1185 321C1187.3 320.3 1195.5 320.2 1200 320C1204.5 319.8 1211.2 319.1 1212 320C1212.8 320.9 1207.8 324.4 1205 325.5C1202.2 326.6 1198.2 326.8 1195 326.5C1191.8 326.2 1187.7 324.9 1186 324C1184.3 323.1 1182.7 321.7 1185 321Z" fill="#0a3352" filter="url(#fB)"/>
<use href="#sC11" fill="#d06080" filter="url(#fM4)"/>
<use href="#sC9" fill="#e07080" filter="url(#fM5)"/>
<use href="#sC3s" fill="#d05a8a" filter="url(#fB)"/>
</g>
<g transform="translate(0 431)">
<use href="#sLine" stroke="#dc77b8"/>
<use href="#sC2" fill="#0a3b5b" filter="url(#fB)"/>
<use href="#sC1" fill="#cc4b53" filter="url(#fB)"/>
<use href="#sC3" fill="#8db52d" filter="url(#fB)"/>
<use href="#sC4a" fill="#cc4b53" filter="url(#fB)"/>
<use href="#sC4" fill="#cc4b53" filter="url(#fB)"/>
<use href="#sC7" fill="#cc4b53" filter="url(#fB)"/>
<use href="#sC8" fill="#2d62a8" filter="url(#fB)"/>
<use href="#sC10" fill="#dc77b8" filter="url(#fB)"/>
<use href="#sC6" fill="#0a3b5b" filter="url(#fB)"/>
<use href="#sC5" fill="#9467c6" filter="url(#fB)"/>
<use href="#sC3s" fill="#8db52d" filter="url(#fB)"/>
<use href="#sC9" fill="#0a3b5b" filter="url(#fM2)"/>
<use href="#sC9" fill="#0a3b5b" filter="url(#fM3)"/>
<use href="#sC11" fill="#f6bd2d" filter="url(#fM1)"/>
<use href="#sC11" fill="#f6bd2d" filter="url(#fM4)"/>
<path d="M1302 180C1303.3 178.3 1308 177 1310 178C1312 179 1314.3 183.7 1314 186C1313.7 188.3 1310 191.7 1308 192C1306 192.3 1303 190 1302 188C1301 186 1300.7 181.7 1302 180Z" fill="#0a3b5b" filter="url(#fB)" opacity="0.8"/>
</g>
<text x="1232.8" y="536.7" font-size="12.3" text-anchor="middle">Endo</text>
<text x="1167.9" y="555.6" font-size="12.3" text-anchor="middle">Pericytes</text>
<text x="1234.8" y="574.8" font-size="12.3" text-anchor="middle">Other</text>
<text x="1303.7" y="589.6" font-size="12.3" text-anchor="middle">TCells</text>
<text x="1339.5" y="615.8" font-size="12.3" text-anchor="middle">BCells</text>
<text x="1128.1" y="646.3" font-size="12.3" text-anchor="middle" fill="#fff">Glioma</text>
<text x="1357.6" y="677.4" font-size="12.3" text-anchor="middle">Myeloid</text>
<text x="1197" y="757.4" font-size="12.3" text-anchor="middle">Oligo</text>
<g transform="translate(488.2 431)">
<use href="#sLine" stroke="#f4874f"/>
<use href="#sC2" fill="#5d90d2" filter="url(#fB)"/>
<use href="#sC2" fill="#f4874f" filter="url(#fK1)"/>
<use href="#sC2" fill="#f4874f" filter="url(#fS1)"/>
<path d="M1090 228C1091.7 225.7 1110 225.3 1120 226C1130 226.7 1143.3 229 1150 232C1156.7 235 1162.3 241.5 1160 244C1157.7 246.5 1144.3 247.7 1136 247C1127.7 246.3 1117.7 243.2 1110 240C1102.3 236.8 1088.3 230.3 1090 228Z" fill="#f4874f" filter="url(#fM4)" opacity="0.6"/>
<path d="M1060 205C1062.5 201.2 1073.3 195.8 1080 195C1086.7 194.2 1098.3 196.7 1100 200C1101.7 203.3 1095.8 212 1090 215C1084.2 218 1070 219.7 1065 218C1060 216.3 1057.5 208.8 1060 205Z" fill="#f4874f" filter="url(#fM5)" opacity="0.6"/>
<use href="#sC1" fill="#f4874f" filter="url(#fB)"/>
<use href="#sC1" fill="#5d90d2" filter="url(#fT1)"/>
<use href="#sC4a" fill="#f4874f" filter="url(#fB)"/>
<use href="#sC4" fill="#f4874f" filter="url(#fB)"/>
<use href="#sC7" fill="#f4874f" filter="url(#fB)"/>
<use href="#sC3" fill="#f4874f" filter="url(#fB)"/>
<use href="#sC10" fill="#f4874f" filter="url(#fB)"/>
<use href="#sC8" fill="#f4874f" filter="url(#fB)"/>
<path d="M1255 165.4C1252.7 163.9 1261.5 161.2 1266 159C1270.5 156.8 1277 151.8 1282 152C1287 152.2 1293 157 1296 160C1299 163 1302.7 168.7 1300 170C1297.3 171.3 1287.5 168.8 1280 168C1272.5 167.2 1257.3 166.9 1255 165.4Z" fill="#5d90d2" filter="url(#fM6)" opacity="0.8"/>
<use href="#sC3" fill="#5d90d2" filter="url(#fL1)"/>
<path d="M1140.5 115.5C1142.4 114.4 1148.8 117.2 1152 118C1155.2 118.8 1160 119.2 1160 120C1160 120.8 1155.2 122.2 1152 123C1148.8 123.8 1142.4 126 1140.5 124.7C1138.6 123.5 1138.6 116.6 1140.5 115.5Z" fill="#5d90d2" filter="url(#fB)"/>
<use href="#sC6" fill="#5d90d2" filter="url(#fB)"/>
<use href="#sC6" fill="#f4874f" filter="url(#fK1)"/>
<use href="#sC5" fill="#5d90d2" filter="url(#fB)"/>
<path d="M1177 316C1178 314.5 1182.8 311.7 1186 311C1189.2 310.3 1195.3 310.5 1196 312C1196.7 313.5 1192.7 318.7 1190 320C1187.3 321.3 1182.2 320.7 1180 320C1177.8 319.3 1176 317.5 1177 316Z" fill="#f4874f" filter="url(#fB)"/>
<use href="#sC11" fill="#f4874f" filter="url(#fM4)"/>
<use href="#sC9" fill="#f4874f" filter="url(#fM5)"/>
<use href="#sC3s" fill="#f4874f" filter="url(#fB)"/>
</g>
<text x="1632" y="645.7" font-size="12.5" text-anchor="middle">aneuploid</text>
<text x="1827.1" y="664.4" font-size="12.5" text-anchor="middle">diploid</text>
<circle cx="1124.3" cy="397.8" r="6.9" fill="#063d5c"/>
<text x="1140.7" y="404.1" font-size="16.8">C1</text>
<circle cx="1124.3" cy="414.1" r="6.9" fill="#1e6684"/>
<text x="1140.7" y="420.4" font-size="16.8">C2</text>
<circle cx="1124.3" cy="430.4" r="6.9" fill="#2a7bd0"/>
<text x="1140.7" y="436.7" font-size="16.8">C3</text>
<circle cx="1179.6" cy="397.8" r="6.9" fill="#8763b3"/>
<text x="1196" y="404.1" font-size="16.8">C4</text>
<circle cx="1179.6" cy="414.1" r="6.9" fill="#a65aa0"/>
<text x="1196" y="420.4" font-size="16.8">C5</text>
<circle cx="1179.6" cy="430.4" r="6.9" fill="#d75a9a"/>
<text x="1196" y="436.7" font-size="16.8">C6</text>
<circle cx="1233.4" cy="397.8" r="6.9" fill="#e06578"/>
<text x="1249.8" y="404.1" font-size="16.8">C7</text>
<circle cx="1233.4" cy="414.1" r="6.9" fill="#ec5663"/>
<text x="1249.8" y="420.4" font-size="16.8">C8</text>
<circle cx="1233.4" cy="430.4" r="6.9" fill="#e57b2c"/>
<text x="1249.8" y="436.7" font-size="16.8">C9</text>
<circle cx="1288" cy="397.8" r="6.9" fill="#fb9f0e"/>
<text x="1304.4" y="404.1" font-size="16.8">C10</text>
<circle cx="1288" cy="414.1" r="6.9" fill="#a0bc5c"/>
<text x="1304.4" y="420.4" font-size="16.8">C11</text>
<circle cx="1288" cy="430.4" r="6.9" fill="#88ae30"/>
<text x="1304.4" y="436.7" font-size="16.8">C12</text>
<circle cx="1519.4" cy="397.8" r="6.9" fill="#063754"/>
<text x="1535.8" y="404.1" font-size="16.8">LGG−03</text>
<circle cx="1519.4" cy="414" r="6.9" fill="#14868c"/>
<text x="1535.8" y="420.3" font-size="16.8">LGG−04</text>
<circle cx="1519.4" cy="430.2" r="6.9" fill="#34497f"/>
<text x="1535.8" y="436.5" font-size="16.8">ndGBM−01</text>
<circle cx="1519.4" cy="446.5" r="6.9" fill="#2a7fd5"/>
<text x="1535.8" y="452.8" font-size="16.8">ndGBM−02</text>
<circle cx="1519.4" cy="462.7" r="6.9" fill="#66509a"/>
<text x="1535.8" y="469" font-size="16.8">ndGBM−03</text>
<circle cx="1634.3" cy="397.8" r="6.9" fill="#a07ccf"/>
<text x="1650.7" y="404.1" font-size="16.8">ndGBM−04</text>
<circle cx="1634.3" cy="414" r="6.9" fill="#9c4d95"/>
<text x="1650.7" y="420.3" font-size="16.8">ndGBM−05</text>
<circle cx="1634.3" cy="430.2" r="6.9" fill="#e07fc5"/>
<text x="1650.7" y="436.5" font-size="16.8">ndGBM−06</text>
<circle cx="1634.3" cy="446.5" r="6.9" fill="#d04b8c"/>
<text x="1650.7" y="452.8" font-size="16.8">ndGBM−07</text>
<circle cx="1634.3" cy="462.7" r="6.9" fill="#ef7088"/>
<text x="1650.7" y="469" font-size="16.8">ndGBM−08</text>
<circle cx="1749.2" cy="397.8" r="6.9" fill="#c03c42"/>
<text x="1765.6" y="404.1" font-size="16.8">ndGBM−09</text>
<circle cx="1749.2" cy="414" r="6.9" fill="#f05a68"/>
<text x="1765.6" y="420.3" font-size="16.8">ndGBM−10</text>
<circle cx="1749.2" cy="430.2" r="6.9" fill="#e07b22"/>
<text x="1765.6" y="436.5" font-size="16.8">ndGBM−11</text>
<circle cx="1749.2" cy="446.5" r="6.9" fill="#ff7f45"/>
<text x="1765.6" y="452.8" font-size="16.8">rGBM−01</text>
<circle cx="1749.2" cy="462.7" r="6.9" fill="#ffa500"/>
<text x="1765.6" y="469" font-size="16.8">rGBM−02</text>
<circle cx="1864" cy="397.8" r="6.9" fill="#f2d055"/>
<text x="1880.4" y="404.1" font-size="16.8">rGBM−03</text>
<circle cx="1864" cy="414" r="6.9" fill="#3aa566"/>
<text x="1880.4" y="420.3" font-size="16.8">rGBM−04</text>
<circle cx="1864" cy="430.2" r="6.9" fill="#8db034"/>
<text x="1880.4" y="436.5" font-size="16.8">rGBM−05</text>
<circle cx="1078.7" cy="829" r="6.9" fill="#f6bd2d"/>
<text x="1095.1" y="835.3" font-size="16.8">BCells</text>
<circle cx="1078.7" cy="845.2" r="6.9" fill="#dc77b8"/>
<text x="1095.1" y="851.5" font-size="16.8">Endo</text>
<circle cx="1160.7" cy="829" r="6.9" fill="#0a3b5b"/>
<text x="1177.1" y="835.3" font-size="16.8">Glioma</text>
<circle cx="1160.7" cy="845.2" r="6.9" fill="#cc4b53"/>
<text x="1177.1" y="851.5" font-size="16.8">Myeloid</text>
<circle cx="1252.3" cy="829" r="6.9" fill="#9467c6"/>
<text x="1268.7" y="835.3" font-size="16.8">Oligo</text>
<circle cx="1252.3" cy="845.2" r="6.9" fill="#e77b21"/>
<text x="1268.7" y="851.5" font-size="16.8">Other</text>
<circle cx="1327" cy="829" r="6.9" fill="#2d62a8"/>
<text x="1343.4" y="835.3" font-size="16.8">Pericytes</text>
<circle cx="1327" cy="845.2" r="6.9" fill="#8db52d"/>
<text x="1343.4" y="851.5" font-size="16.8">TCells</text>
<circle cx="1616.9" cy="829.1" r="6.9" fill="#1e9bf0"/>
<text x="1633.3" y="835.4" font-size="16.8">aneuploid</text>
<circle cx="1723" cy="829.1" r="6.9" fill="#f5845a"/>
<text x="1739.4" y="835.4" font-size="16.8">diploid</text>
<text x="-1" y="897.8" font-size="40" fill="#1c1b2e">c</text>
<rect x="70.8" y="930.8" width="283.3" height="23.6" fill="#063d5c"/>
<rect x="353.8" y="930.8" width="246.4" height="23.6" fill="#1e6684"/>
<rect x="599.9" y="930.8" width="53.4" height="23.6" fill="#2a7bd0"/>
<rect x="653" y="930.8" width="19.3" height="23.6" fill="#8763b3"/>
<rect x="672" y="930.8" width="14.3" height="23.6" fill="#a65aa0"/>
<rect x="686" y="930.8" width="13.9" height="23.6" fill="#d75a9a"/>
<rect x="699.6" y="930.8" width="9.7" height="23.6" fill="#e06578"/>
<rect x="709" y="930.8" width="7.1" height="23.6" fill="#ec5663"/>
<rect x="715.8" y="930.8" width="5.5" height="23.6" fill="#e57b2c"/>
<rect x="721" y="930.8" width="6.2" height="23.6" fill="#fb9f0e"/>
<rect x="726.9" y="930.8" width="2.8" height="23.6" fill="#a0bc5c"/>
<rect x="729.4" y="930.8" width="1.9" height="23.6" fill="#88ae30"/>
<rect x="70.5" y="956" width="18.7" height="24" fill="#063754"/>
<rect x="88.9" y="956" width="10.1" height="24" fill="#14868c"/>
<rect x="98.7" y="956" width="7.9" height="24" fill="#34497f"/>
<rect x="106.3" y="956" width="16.2" height="24" fill="#2a7fd5"/>
<rect x="122.2" y="956" width="17.1" height="24" fill="#66509a"/>
<rect x="139" y="956" width="11.5" height="24" fill="#a07ccf"/>
<rect x="150.2" y="956" width="11.7" height="24" fill="#9c4d95"/>
<rect x="161.6" y="956" width="18.5" height="24" fill="#d04b8c"/>
<rect x="179.8" y="956" width="24.6" height="24" fill="#ef7088"/>
<rect x="204.1" y="956" width="18.5" height="24" fill="#c03c42"/>
<rect x="222.3" y="956" width="36.1" height="24" fill="#f05a68"/>
<rect x="258.1" y="956" width="35.3" height="24" fill="#e07b22"/>
<rect x="293.1" y="956" width="27.4" height="24" fill="#ff7f45"/>
<rect x="320.2" y="956" width="6.4" height="24" fill="#ffa500"/>
<rect x="326.3" y="956" width="9.6" height="24" fill="#f2d055"/>
<rect x="335.6" y="956" width="6.4" height="24" fill="#3aa566"/>
<rect x="341.7" y="956" width="12.4" height="24" fill="#8db034"/>
<rect x="353.8" y="956" width="14.1" height="24" fill="#063754"/>
<rect x="367.6" y="956" width="24.9" height="24" fill="#14868c"/>
<rect x="392.2" y="956" width="28.4" height="24" fill="#34497f"/>
<rect x="420.3" y="956" width="14" height="24" fill="#2a7fd5"/>
<rect x="434" y="956" width="14.1" height="24" fill="#66509a"/>
<rect x="447.8" y="956" width="22" height="24" fill="#a07ccf"/>
<rect x="469.5" y="956" width="16.5" height="24" fill="#9c4d95"/>
<rect x="485.7" y="956" width="32.3" height="24" fill="#e07fc5"/>
<rect x="517.7" y="956" width="5.3" height="24" fill="#d04b8c"/>
<rect x="522.7" y="956" width="4.2" height="24" fill="#ef7088"/>
<rect x="526.6" y="956" width="8.7" height="24" fill="#c03c42"/>
<rect x="535" y="956" width="27.3" height="24" fill="#f2d055"/>
<rect x="562" y="956" width="20" height="24" fill="#3aa566"/>
<rect x="581.7" y="956" width="18.5" height="24" fill="#8db034"/>
<rect x="599.9" y="956" width="3.4" height="24" fill="#34497f"/>
<rect x="603" y="956" width="3.6" height="24" fill="#063754"/>
<rect x="606.3" y="956" width="10.2" height="24" fill="#d04b8c"/>
<rect x="616.2" y="956" width="9.1" height="24" fill="#c03c42"/>
<rect x="625" y="956" width="21" height="24" fill="#ffa500"/>
<rect x="645.7" y="956" width="3.6" height="24" fill="#2a7fd5"/>
<rect x="649" y="956" width="4.3" height="24" fill="#e07b22"/>
<rect x="653" y="956" width="1.7" height="24" fill="#ff7f45"/>
<rect x="654.5" y="956" width="4.2" height="24" fill="#ff7f45"/>
<rect x="658.5" y="956" width="4.2" height="24" fill="#ef7088"/>
<rect x="662.5" y="956" width="2.7" height="24" fill="#9c4d95"/>
<rect x="665" y="956" width="2.7" height="24" fill="#3aa566"/>
<rect x="667.5" y="956" width="1.7" height="24" fill="#3aa566"/>
<rect x="669" y="956" width="3.2" height="24" fill="#e07fc5"/>
<rect x="672" y="956" width="1.4" height="24" fill="#063754"/>
<rect x="673.2" y="956" width="2.2" height="24" fill="#ff7f45"/>
<rect x="675.2" y="956" width="1.4" height="24" fill="#66509a"/>
<rect x="676.4" y="956" width="1.7" height="24" fill="#e07fc5"/>
<rect x="677.9" y="956" width="4.2" height="24" fill="#14868c"/>
<rect x="681.9" y="956" width="2.7" height="24" fill="#ff7f45"/>
<rect x="684.4" y="956" width="3.2" height="24" fill="#ffa500"/>
<rect x="687.4" y="956" width="1.4" height="24" fill="#c03c42"/>
<rect x="688.6" y="956" width="3.2" height="24" fill="#f2d055"/>
<rect x="691.6" y="956" width="4.2" height="24" fill="#2a7fd5"/>
<rect x="695.6" y="956" width="4.2" height="24" fill="#f05a68"/>
<rect x="699.6" y="956" width="1.4" height="24" fill="#66509a"/>
<rect x="700.8" y="956" width="4.2" height="24" fill="#34497f"/>
<rect x="704.8" y="956" width="1.4" height="24" fill="#063754"/>
<rect x="706" y="956" width="2.7" height="24" fill="#a07ccf"/>
<rect x="708.5" y="956" width="3.2" height="24" fill="#c03c42"/>
<rect x="711.5" y="956" width="2.7" height="24" fill="#f2d055"/>
<rect x="714" y="956" width="1.7" height="24" fill="#a07ccf"/>
<rect x="715.5" y="956" width="4.2" height="24" fill="#14868c"/>
<rect x="719.5" y="956" width="2.7" height="24" fill="#e07fc5"/>
<rect x="722" y="956" width="1.4" height="24" fill="#9c4d95"/>
<rect x="723.2" y="956" width="1.7" height="24" fill="#34497f"/>
<rect x="724.7" y="956" width="1.4" height="24" fill="#8db034"/>
<rect x="725.9" y="956" width="2.7" height="24" fill="#8db034"/>
<rect x="728.4" y="956" width="2.7" height="24" fill="#9c4d95"/>
<rect x="730.9" y="956" width="0.3" height="24" fill="#66509a"/>
<text x="736.3" y="949.9" font-size="19.6">Cluster</text>
<text x="736.3" y="974.8" font-size="19.6">Patient</text>
<g shape-rendering="crispEdges"><path d="M353.8 983h299.2v3h-299.2z" fill="#4c92de"/><path d="M709 983h17.9v3h-17.9zM729.4 983h1.6v3h-1.6zM353.8 1013.7h246.1v3h-246.1zM353.8 1022.1h246.1v3h-246.1zM70.8 1069.6h283v3h-283zM599.9 1069.6h53.1v3h-53.1zM70.8 1072.4h283v3h-283zM699.6 1072.4h9.4v3h-9.4zM70.8 1075.2h283v3h-283zM699.6 1075.2h9.4v3h-9.4z" fill="#6a9de0"/><path d="M672 983h27.6v3h-27.6zM726.9 983h2.5v3h-2.5zM353.8 994.2h246.1v3h-246.1zM353.8 997h246.1v3h-246.1zM353.8 999.8h246.1v3h-246.1zM721 999.8h5.9v3h-5.9zM729.4 999.8h1.6v3h-1.6zM353.8 1002.6h246.1v3h-246.1zM726.9 1002.6h2.5v3h-2.5zM353.8 1005.4h246.1v3h-246.1zM353.8 1008.1h246.1v3h-246.1zM353.8 1010.9h246.1v3h-246.1zM353.8 1019.3h246.1v3h-246.1zM353.8 1024.9h246.1v3h-246.1zM353.8 1027.7h246.1v3h-246.1zM353.8 1052.9h246.1v3h-246.1zM699.6 1069.6h9.4v3h-9.4zM599.9 1072.4h53.1v3h-53.1zM721 1072.4h5.9v3h-5.9zM729.4 1072.4h1.6v3h-1.6zM599.9 1075.2h72.1v3h-72.1zM721 1075.2h5.9v3h-5.9zM715.8 1268h5.2v3h-5.2zM672 1270.8h14v3h-14z" fill="#7aa3e2"/><path d="M653 983h19v3h-19zM599.9 994.2h53.1v3h-53.1zM686 994.2h13.6v3h-13.6zM715.8 994.2h5.2v3h-5.2zM599.9 997h53.1v3h-53.1zM721 997h5.9v3h-5.9zM729.4 997h1.6v3h-1.6zM599.9 999.8h53.1v3h-53.1zM709 1005.4h12v3h-12zM729.4 1005.4h1.6v3h-1.6zM599.9 1008.1h53.1v3h-53.1zM729.4 1008.1h1.6v3h-1.6zM599.9 1010.9h53.1v3h-53.1zM672 1010.9h14v3h-14zM709 1010.9h12v3h-12zM599.9 1013.7h53.1v3h-53.1zM709 1019.3h6.8v3h-6.8zM599.9 1022.1h53.1v3h-53.1zM715.8 1022.1h5.2v3h-5.2zM599.9 1024.9h53.1v3h-53.1zM709 1024.9h12v3h-12zM599.9 1027.7h53.1v3h-53.1zM686 1027.7h13.6v3h-13.6zM721 1027.7h5.9v3h-5.9zM353.8 1030.5h299.2v3h-299.2zM726.9 1030.5h2.5v3h-2.5zM599.9 1052.9h53.1v3h-53.1zM726.9 1052.9h4.1v3h-4.1zM353.8 1055.7h299.2v3h-299.2zM726.9 1055.7h2.5v3h-2.5zM653 1069.6h19v3h-19zM709 1069.6h6.8v3h-6.8zM726.9 1069.6h4.1v3h-4.1zM653 1072.4h19v3h-19zM726.9 1072.4h2.5v3h-2.5zM709 1075.2h6.8v3h-6.8zM726.9 1075.2h4.1v3h-4.1zM699.6 1080.8h9.4v3h-9.4zM699.6 1083.6h9.4v3h-9.4zM653 1089.2h19v3h-19zM599.9 1097.6h53.1v3h-53.1zM599.9 1100.4h53.1v3h-53.1zM699.6 1111.5h9.4v3h-9.4zM599.9 1125.5h53.1v3h-53.1zM699.6 1133.9h9.4v3h-9.4zM70.8 1147.9h283v3h-283zM672 1268h14v3h-14zM729.4 1268h1.6v3h-1.6zM709 1270.8h12v3h-12zM729.4 1270.8h1.6v3h-1.6zM715.8 1293.2h13.6v3h-13.6z" fill="#8aade5"/><path d="M672 994.2h14v3h-14zM721 994.2h10v3h-10zM686 997h13.6v3h-13.6zM709 997h12v3h-12zM726.9 997h2.5v3h-2.5zM672 999.8h27.6v3h-27.6zM709 999.8h12v3h-12zM599.9 1002.6h53.1v3h-53.1zM672 1002.6h27.6v3h-27.6zM721 1002.6h5.9v3h-5.9zM729.4 1002.6h1.6v3h-1.6zM599.9 1005.4h53.1v3h-53.1zM686 1008.1h13.6v3h-13.6zM709 1008.1h20.4v3h-20.4zM653 1010.9h19v3h-19zM726.9 1010.9h4.1v3h-4.1zM686 1013.7h13.6v3h-13.6zM709 1013.7h6.8v3h-6.8zM721 1013.7h10v3h-10zM599.9 1019.3h53.1v3h-53.1zM672 1019.3h27.6v3h-27.6zM715.8 1019.3h15.2v3h-15.2zM709 1022.1h6.8v3h-6.8zM721 1022.1h10v3h-10zM686 1024.9h13.6v3h-13.6zM729.4 1024.9h1.6v3h-1.6zM672 1027.7h14v3h-14zM715.8 1027.7h5.2v3h-5.2zM726.9 1027.7h2.5v3h-2.5zM686 1030.5h13.6v3h-13.6zM709 1030.5h6.8v3h-6.8zM721 1030.5h5.9v3h-5.9zM729.4 1030.5h1.6v3h-1.6zM672 1052.9h14v3h-14zM709 1052.9h12v3h-12zM709 1055.7h17.9v3h-17.9zM729.4 1055.7h1.6v3h-1.6zM70.8 1066.8h283v3h-283zM599.9 1066.8h53.1v3h-53.1zM709 1072.4h6.8v3h-6.8zM70.8 1078h283v3h-283zM70.8 1080.8h283v3h-283zM599.9 1080.8h53.1v3h-53.1zM599.9 1083.6h53.1v3h-53.1zM70.8 1086.4h283v3h-283zM599.9 1086.4h53.1v3h-53.1zM70.8 1089.2h283v3h-283zM699.6 1092h9.4v3h-9.4zM599.9 1094.8h53.1v3h-53.1zM699.6 1094.8h9.4v3h-9.4zM70.8 1097.6h283v3h-283zM70.8 1100.4h283v3h-283zM699.6 1100.4h9.4v3h-9.4zM599.9 1103.2h53.1v3h-53.1zM599.9 1108.8h53.1v3h-53.1zM699.6 1108.8h9.4v3h-9.4zM70.8 1114.3h283v3h-283zM699.6 1114.3h9.4v3h-9.4zM599.9 1117.1h53.1v3h-53.1zM699.6 1117.1h9.4v3h-9.4zM599.9 1122.7h53.1v3h-53.1zM699.6 1125.5h9.4v3h-9.4zM70.8 1131.1h283v3h-283zM599.9 1131.1h53.1v3h-53.1zM70.8 1133.9h283v3h-283zM599.9 1133.9h53.1v3h-53.1zM70.8 1145.1h283v3h-283zM599.9 1145.1h53.1v3h-53.1zM353.8 1268h246.1v3h-246.1zM709 1268h6.8v3h-6.8zM721 1268h8.4v3h-8.4zM353.8 1270.8h246.1v3h-246.1zM721 1270.8h8.4v3h-8.4zM353.8 1293.2h246.1v3h-246.1zM672 1293.2h14v3h-14zM709 1293.2h6.8v3h-6.8zM715.8 1296h5.2v3h-5.2zM729.4 1296h1.6v3h-1.6zM721 1298.8h10v3h-10zM353.8 1301.6h246.1v3h-246.1zM709 1301.6h6.8v3h-6.8zM653 1318.3h19v3h-19zM709 1385.4h6.8v3h-6.8zM709 1388.2h6.8v3h-6.8zM653 1391h19v3h-19zM709 1391h6.8v3h-6.8zM729.4 1488.8h1.6v3h-1.6zM70.8 1533.5h283v3h-283zM70.8 1539.1h283v3h-283zM70.8 1731.9h283v3h-283z" fill="#99b8e8"/><path d="M709 994.2h6.8v3h-6.8zM672 997h14v3h-14zM653 999.8h19v3h-19zM726.9 999.8h2.5v3h-2.5zM653 1002.6h19v3h-19zM709 1002.6h12v3h-12zM686 1005.4h13.6v3h-13.6zM721 1005.4h8.4v3h-8.4zM686 1010.9h13.6v3h-13.6zM721 1010.9h5.9v3h-5.9zM653 1013.7h33v3h-33zM715.8 1013.7h5.2v3h-5.2zM672 1022.1h27.6v3h-27.6zM653 1024.9h33v3h-33zM721 1024.9h8.4v3h-8.4zM709 1027.7h6.8v3h-6.8zM729.4 1027.7h1.6v3h-1.6zM653 1030.5h33v3h-33zM715.8 1030.5h5.2v3h-5.2zM686 1052.9h13.6v3h-13.6zM721 1052.9h5.9v3h-5.9zM653 1055.7h46.6v3h-46.6zM699.6 1066.8h9.4v3h-9.4zM721 1069.6h5.9v3h-5.9zM699.6 1078h9.4v3h-9.4zM70.8 1083.6h283v3h-283zM653 1083.6h19v3h-19zM729.4 1083.6h1.6v3h-1.6zM699.6 1086.4h9.4v3h-9.4zM599.9 1089.2h53.1v3h-53.1zM699.6 1089.2h9.4v3h-9.4zM726.9 1089.2h2.5v3h-2.5zM70.8 1092h283v3h-283zM599.9 1092h53.1v3h-53.1zM709 1092h6.8v3h-6.8zM70.8 1094.8h283v3h-283zM699.6 1097.6h9.4v3h-9.4zM70.8 1103.2h283v3h-283zM699.6 1103.2h9.4v3h-9.4zM70.8 1106h283v3h-283zM599.9 1106h53.1v3h-53.1zM699.6 1106h9.4v3h-9.4zM70.8 1108.8h283v3h-283zM70.8 1111.5h283v3h-283zM599.9 1111.5h72.1v3h-72.1zM599.9 1114.3h53.1v3h-53.1zM70.8 1117.1h283v3h-283zM726.9 1117.1h2.5v3h-2.5zM70.8 1119.9h283v3h-283zM599.9 1119.9h53.1v3h-53.1zM709 1119.9h6.8v3h-6.8zM70.8 1122.7h283v3h-283zM699.6 1122.7h9.4v3h-9.4zM70.8 1125.5h283v3h-283zM709 1125.5h6.8v3h-6.8zM70.8 1128.3h283v3h-283zM599.9 1128.3h53.1v3h-53.1zM699.6 1128.3h9.4v3h-9.4zM699.6 1131.1h16.2v3h-16.2zM709 1133.9h6.8v3h-6.8zM599.9 1142.3h53.1v3h-53.1zM653 1145.1h19v3h-19zM699.6 1145.1h16.2v3h-16.2zM599.9 1147.9h53.1v3h-53.1zM699.6 1147.9h16.2v3h-16.2zM70.8 1270.8h283v3h-283zM70.8 1293.2h283v3h-283zM729.4 1293.2h1.6v3h-1.6zM672 1296h14v3h-14zM709 1296h6.8v3h-6.8zM721 1296h5.9v3h-5.9zM70.8 1298.8h529.1v3h-529.1zM672 1298.8h14v3h-14zM709 1298.8h6.8v3h-6.8zM672 1301.6h14v3h-14zM715.8 1301.6h5.2v3h-5.2zM726.9 1301.6h4.1v3h-4.1zM709 1318.3h6.8v3h-6.8zM715.8 1321.1h5.2v3h-5.2zM726.9 1321.1h2.5v3h-2.5zM715.8 1385.4h11.1v3h-11.1zM729.4 1385.4h1.6v3h-1.6zM721 1388.2h10v3h-10zM70.8 1391h283v3h-283zM599.9 1391h53.1v3h-53.1zM715.8 1391h13.6v3h-13.6zM709 1460.8h17.9v3h-17.9zM70.8 1488.8h529.1v3h-529.1zM653 1488.8h19v3h-19zM715.8 1488.8h13.6v3h-13.6zM70.8 1530.7h283v3h-283zM672 1530.7h14v3h-14zM721 1530.7h5.9v3h-5.9zM70.8 1536.3h283v3h-283zM599.9 1539.1h53.1v3h-53.1zM672 1539.1h14v3h-14zM721 1539.1h5.9v3h-5.9zM70.8 1541.9h283v3h-283zM721 1541.9h5.9v3h-5.9zM729.4 1541.9h1.6v3h-1.6zM70.8 1569.8h283v3h-283zM70.8 1617.3h283v3h-283zM729.4 1617.3h1.6v3h-1.6zM70.8 1659.3h283v3h-283zM70.8 1670.4h283v3h-283zM70.8 1690h283v3h-283zM70.8 1695.6h283v3h-283zM70.8 1706.8h283v3h-283zM729.4 1706.8h1.6v3h-1.6zM70.8 1709.6h283v3h-283z" fill="#a8c2eb"/><path d="M353.8 991.4h246.1v3h-246.1zM653 994.2h19v3h-19zM653 997h19v3h-19zM653 1005.4h33v3h-33zM653 1008.1h33v3h-33zM653 1019.3h19v3h-19zM653 1022.1h19v3h-19zM653 1027.7h19v3h-19zM353.8 1033.3h246.1v3h-246.1zM709 1033.3h6.8v3h-6.8zM715.8 1036.1h5.2v3h-5.2zM353.8 1047.3h246.1v3h-246.1zM653 1052.9h19v3h-19zM599.9 1058.5h53.1v3h-53.1zM715.8 1058.5h5.2v3h-5.2zM599.9 1064h53.1v3h-53.1zM653 1066.8h19v3h-19zM709 1066.8h6.8v3h-6.8zM599.9 1078h72.1v3h-72.1zM709 1078h6.8v3h-6.8zM653 1080.8h19v3h-19zM721 1080.8h5.9v3h-5.9zM729.4 1080.8h1.6v3h-1.6zM709 1083.6h6.8v3h-6.8zM726.9 1083.6h2.5v3h-2.5zM653 1086.4h19v3h-19zM709 1086.4h6.8v3h-6.8zM726.9 1086.4h2.5v3h-2.5zM709 1089.2h6.8v3h-6.8zM729.4 1092h1.6v3h-1.6zM709 1094.8h6.8v3h-6.8zM653 1097.6h19v3h-19zM709 1097.6h6.8v3h-6.8zM726.9 1097.6h2.5v3h-2.5zM653 1100.4h19v3h-19zM709 1100.4h6.8v3h-6.8zM726.9 1100.4h2.5v3h-2.5zM653 1103.2h19v3h-19zM709 1103.2h6.8v3h-6.8zM726.9 1103.2h2.5v3h-2.5zM653 1106h19v3h-19zM709 1106h6.8v3h-6.8zM653 1108.8h19v3h-19zM729.4 1108.8h1.6v3h-1.6zM709 1111.5h6.8v3h-6.8zM721 1111.5h5.9v3h-5.9zM653 1114.3h19v3h-19zM709 1114.3h6.8v3h-6.8zM726.9 1114.3h2.5v3h-2.5zM653 1117.1h19v3h-19zM709 1117.1h6.8v3h-6.8zM699.6 1119.9h9.4v3h-9.4zM726.9 1119.9h4.1v3h-4.1zM653 1122.7h19v3h-19zM721 1122.7h5.9v3h-5.9zM653 1125.5h19v3h-19zM726.9 1125.5h2.5v3h-2.5zM653 1128.3h19v3h-19zM709 1128.3h6.8v3h-6.8zM721 1128.3h5.9v3h-5.9zM653 1131.1h19v3h-19zM721 1131.1h5.9v3h-5.9zM729.4 1131.1h1.6v3h-1.6zM70.8 1142.3h283v3h-283zM653 1142.3h19v3h-19zM699.6 1142.3h9.4v3h-9.4zM653 1147.9h19v3h-19zM721 1147.9h8.4v3h-8.4zM353.8 1195.4h246.1v3h-246.1zM672 1209.4h27.6v3h-27.6zM729.4 1209.4h1.6v3h-1.6zM353.8 1212.1h246.1v3h-246.1zM686 1212.1h13.6v3h-13.6zM715.8 1212.1h5.2v3h-5.2zM729.4 1212.1h1.6v3h-1.6zM672 1245.7h14v3h-14zM709 1248.5h6.8v3h-6.8zM709 1259.7h6.8v3h-6.8zM599.9 1268h53.1v3h-53.1zM599.9 1270.8h53.1v3h-53.1zM686 1270.8h13.6v3h-13.6zM715.8 1282h5.2v3h-5.2zM599.9 1293.2h53.1v3h-53.1zM70.8 1296h529.1v3h-529.1zM726.9 1296h2.5v3h-2.5zM715.8 1298.8h5.2v3h-5.2zM70.8 1301.6h283v3h-283zM721 1301.6h5.9v3h-5.9zM70.8 1318.3h529.1v3h-529.1zM686 1318.3h13.6v3h-13.6zM715.8 1318.3h15.2v3h-15.2zM353.8 1321.1h246.1v3h-246.1zM653 1321.1h19v3h-19zM709 1321.1h6.8v3h-6.8zM729.4 1321.1h1.6v3h-1.6zM70.8 1385.4h283v3h-283zM726.9 1385.4h2.5v3h-2.5zM70.8 1388.2h283v3h-283zM599.9 1388.2h72.1v3h-72.1zM686 1388.2h13.6v3h-13.6zM715.8 1388.2h5.2v3h-5.2zM353.8 1391h246.1v3h-246.1zM729.4 1391h1.6v3h-1.6zM729.4 1402.2h1.6v3h-1.6zM729.4 1413.3h1.6v3h-1.6zM721 1418.9h5.9v3h-5.9zM70.8 1460.8h283v3h-283zM653 1460.8h33v3h-33zM726.9 1460.8h4.1v3h-4.1zM726.9 1480.4h2.5v3h-2.5zM672 1488.8h14v3h-14zM353.8 1530.7h246.1v3h-246.1zM715.8 1530.7h5.2v3h-5.2zM715.8 1533.5h15.2v3h-15.2zM353.8 1536.3h246.1v3h-246.1zM715.8 1536.3h13.6v3h-13.6zM353.8 1539.1h246.1v3h-246.1zM715.8 1539.1h5.2v3h-5.2zM726.9 1539.1h4.1v3h-4.1zM353.8 1541.9h299.2v3h-299.2zM672 1541.9h14v3h-14zM715.8 1541.9h5.2v3h-5.2zM726.9 1541.9h2.5v3h-2.5zM353.8 1569.8h246.1v3h-246.1zM653 1569.8h19v3h-19zM715.8 1569.8h11.1v3h-11.1zM715.8 1595h5.2v3h-5.2zM729.4 1603.4h1.6v3h-1.6zM599.9 1609h53.1v3h-53.1zM70.8 1614.5h283v3h-283zM599.9 1614.5h53.1v3h-53.1zM715.8 1614.5h5.2v3h-5.2zM729.4 1614.5h1.6v3h-1.6zM599.9 1617.3h53.1v3h-53.1zM729.4 1670.4h1.6v3h-1.6zM686 1690h13.6v3h-13.6zM729.4 1690h1.6v3h-1.6zM70.8 1692.8h283v3h-283zM721 1709.6h8.4v3h-8.4zM70.8 1712.3h283v3h-283zM686 1712.3h13.6v3h-13.6zM709 1712.3h6.8v3h-6.8zM721 1712.3h8.4v3h-8.4zM726.9 1731.9h2.5v3h-2.5z" fill="#b8ccee"/><path d="M353.8 985.8h246.1v3h-246.1zM715.8 985.8h5.2v3h-5.2zM353.8 988.6h246.1v3h-246.1zM729.4 988.6h1.6v3h-1.6zM653 991.4h19v3h-19zM715.8 991.4h5.2v3h-5.2zM729.4 991.4h1.6v3h-1.6zM709 1016.5h6.8v3h-6.8zM726.9 1016.5h2.5v3h-2.5zM653 1036.1h19v3h-19zM709 1036.1h6.8v3h-6.8zM721 1036.1h5.9v3h-5.9zM353.8 1038.9h246.1v3h-246.1zM715.8 1038.9h5.2v3h-5.2zM729.4 1038.9h1.6v3h-1.6zM353.8 1041.7h246.1v3h-246.1zM709 1041.7h6.8v3h-6.8zM726.9 1041.7h2.5v3h-2.5zM721 1044.5h5.9v3h-5.9zM653 1047.3h33v3h-33zM721 1047.3h5.9v3h-5.9zM729.4 1047.3h1.6v3h-1.6zM353.8 1050.1h299.2v3h-299.2zM353.8 1058.5h246.1v3h-246.1zM672 1058.5h27.6v3h-27.6zM709 1058.5h6.8v3h-6.8zM729.4 1058.5h1.6v3h-1.6zM653 1061.2h19v3h-19zM726.9 1061.2h2.5v3h-2.5zM353.8 1064h246.1v3h-246.1zM709 1064h6.8v3h-6.8zM729.4 1064h1.6v3h-1.6zM726.9 1066.8h4.1v3h-4.1zM672 1072.4h14v3h-14zM721 1078h10v3h-10zM709 1080.8h6.8v3h-6.8zM726.9 1080.8h2.5v3h-2.5zM721 1086.4h5.9v3h-5.9zM721 1089.2h5.9v3h-5.9zM729.4 1089.2h1.6v3h-1.6zM653 1092h19v3h-19zM726.9 1092h2.5v3h-2.5zM653 1094.8h19v3h-19zM726.9 1094.8h4.1v3h-4.1zM721 1097.6h5.9v3h-5.9zM721 1106h10v3h-10zM709 1108.8h6.8v3h-6.8zM721 1108.8h8.4v3h-8.4zM726.9 1111.5h4.1v3h-4.1zM721 1114.3h5.9v3h-5.9zM729.4 1114.3h1.6v3h-1.6zM721 1117.1h5.9v3h-5.9zM729.4 1117.1h1.6v3h-1.6zM653 1119.9h19v3h-19zM709 1122.7h6.8v3h-6.8zM726.9 1122.7h4.1v3h-4.1zM721 1125.5h5.9v3h-5.9zM729.4 1125.5h1.6v3h-1.6zM726.9 1128.3h4.1v3h-4.1zM726.9 1131.1h2.5v3h-2.5zM653 1133.9h19v3h-19zM721 1133.9h10v3h-10zM599.9 1136.7h53.1v3h-53.1zM709 1139.5h6.8v3h-6.8zM709 1142.3h6.8v3h-6.8zM721 1142.3h10v3h-10zM721 1145.1h10v3h-10zM729.4 1147.9h1.6v3h-1.6zM686 1192.6h13.6v3h-13.6zM715.8 1192.6h5.2v3h-5.2zM715.8 1195.4h5.2v3h-5.2zM729.4 1195.4h1.6v3h-1.6zM70.8 1209.4h283v3h-283zM699.6 1209.4h21.4v3h-21.4zM726.9 1209.4h2.5v3h-2.5zM70.8 1212.1h283v3h-283zM653 1212.1h33v3h-33zM699.6 1212.1h16.2v3h-16.2zM672 1237.3h14v3h-14zM709 1237.3h6.8v3h-6.8zM726.9 1237.3h2.5v3h-2.5zM715.8 1240.1h15.2v3h-15.2zM353.8 1245.7h246.1v3h-246.1zM715.8 1245.7h5.2v3h-5.2zM726.9 1245.7h2.5v3h-2.5zM353.8 1248.5h246.1v3h-246.1zM672 1248.5h14v3h-14zM715.8 1248.5h11.1v3h-11.1zM726.9 1259.7h4.1v3h-4.1zM709 1262.4h6.8v3h-6.8zM721 1262.4h8.4v3h-8.4zM709 1265.2h6.8v3h-6.8zM721 1265.2h8.4v3h-8.4zM70.8 1268h283v3h-283zM686 1268h13.6v3h-13.6zM721 1282h10v3h-10zM672 1287.6h14v3h-14zM715.8 1287.6h5.2v3h-5.2zM726.9 1287.6h2.5v3h-2.5zM672 1290.4h14v3h-14zM721 1290.4h8.4v3h-8.4zM599.9 1296h53.1v3h-53.1zM599.9 1298.8h53.1v3h-53.1zM599.9 1301.6h53.1v3h-53.1zM672 1315.5h14v3h-14zM709 1315.5h12v3h-12zM599.9 1318.3h53.1v3h-53.1zM70.8 1321.1h283v3h-283zM599.9 1321.1h53.1v3h-53.1zM721 1321.1h5.9v3h-5.9zM709 1323.9h6.8v3h-6.8zM721 1343.5h5.9v3h-5.9zM653 1374.2h19v3h-19zM726.9 1379.8h2.5v3h-2.5zM715.8 1382.6h5.2v3h-5.2zM353.8 1385.4h318.2v3h-318.2zM686 1385.4h23v3h-23zM353.8 1388.2h246.1v3h-246.1zM686 1391h13.6v3h-13.6zM721 1402.2h8.4v3h-8.4zM709 1416.1h6.8v3h-6.8zM726.9 1416.1h2.5v3h-2.5zM709 1418.9h6.8v3h-6.8zM709 1421.7h6.8v3h-6.8zM721 1421.7h5.9v3h-5.9zM709 1424.5h6.8v3h-6.8zM721 1424.5h8.4v3h-8.4zM709 1441.3h12v3h-12zM729.4 1441.3h1.6v3h-1.6zM709 1444.1h6.8v3h-6.8zM672 1455.3h14v3h-14zM709 1455.3h20.4v3h-20.4zM672 1458.1h14v3h-14zM709 1458.1h17.9v3h-17.9zM729.4 1458.1h1.6v3h-1.6zM599.9 1460.8h53.1v3h-53.1zM715.8 1477.6h13.6v3h-13.6zM70.8 1480.4h283v3h-283zM715.8 1480.4h5.2v3h-5.2zM729.4 1480.4h1.6v3h-1.6zM721 1483.2h8.4v3h-8.4zM599.9 1488.8h53.1v3h-53.1zM709 1488.8h6.8v3h-6.8zM599.9 1530.7h53.1v3h-53.1zM726.9 1530.7h4.1v3h-4.1zM353.8 1533.5h246.1v3h-246.1zM672 1533.5h14v3h-14zM599.9 1536.3h53.1v3h-53.1zM672 1536.3h14v3h-14zM729.4 1536.3h1.6v3h-1.6zM653 1539.1h19v3h-19zM70.8 1561.5h283v3h-283zM721 1561.5h5.9v3h-5.9zM729.4 1561.5h1.6v3h-1.6zM599.9 1569.8h53.1v3h-53.1zM699.6 1569.8h9.4v3h-9.4zM726.9 1569.8h4.1v3h-4.1zM70.8 1572.6h529.1v3h-529.1zM721 1572.6h10v3h-10zM70.8 1581h283v3h-283zM715.8 1581h5.2v3h-5.2zM721 1595h8.4v3h-8.4zM70.8 1603.4h283v3h-283zM599.9 1603.4h53.1v3h-53.1zM721 1603.4h5.9v3h-5.9zM70.8 1606.2h283v3h-283zM715.8 1606.2h5.2v3h-5.2zM726.9 1606.2h2.5v3h-2.5zM715.8 1609h5.2v3h-5.2zM726.9 1609h2.5v3h-2.5zM353.8 1614.5h246.1v3h-246.1zM653 1614.5h19v3h-19zM699.6 1614.5h9.4v3h-9.4zM721 1614.5h8.4v3h-8.4zM353.8 1617.3h246.1v3h-246.1zM699.6 1617.3h9.4v3h-9.4zM721 1617.3h8.4v3h-8.4zM686 1659.3h13.6v3h-13.6zM721 1659.3h10v3h-10zM599.9 1670.4h53.1v3h-53.1zM686 1670.4h13.6v3h-13.6zM709 1670.4h6.8v3h-6.8zM721 1670.4h5.9v3h-5.9zM653 1690h19v3h-19zM699.6 1690h9.4v3h-9.4zM721 1690h5.9v3h-5.9zM599.9 1692.8h53.1v3h-53.1zM721 1692.8h5.9v3h-5.9zM729.4 1692.8h1.6v3h-1.6zM599.9 1695.6h53.1v3h-53.1zM709 1695.6h6.8v3h-6.8zM721 1695.6h5.9v3h-5.9zM729.4 1695.6h1.6v3h-1.6zM353.8 1706.8h299.2v3h-299.2zM686 1706.8h29.8v3h-29.8zM721 1706.8h8.4v3h-8.4zM599.9 1709.6h109.1v3h-109.1zM729.4 1709.6h1.6v3h-1.6zM672 1712.3h14v3h-14zM699.6 1712.3h9.4v3h-9.4zM672 1731.9h43.8v3h-43.8zM721 1731.9h5.9v3h-5.9zM70.8 1734.7h283v3h-283zM729.4 1734.7h1.6v3h-1.6zM70.8 1776.6h283v3h-283zM599.9 1776.6h72.1v3h-72.1zM686 1776.6h13.6v3h-13.6zM709 1776.6h6.8v3h-6.8zM726.9 1776.6h2.5v3h-2.5zM70.8 1779.4h283v3h-283zM653 1779.4h46.6v3h-46.6zM709 1779.4h12v3h-12zM726.9 1779.4h2.5v3h-2.5zM70.8 1787.8h283v3h-283zM70.8 1796.2h283v3h-283zM686 1796.2h13.6v3h-13.6zM715.8 1796.2h5.2v3h-5.2zM729.4 1796.2h1.6v3h-1.6z" fill="#c8d7f2"/><path d="M599.9 985.8h53.1v3h-53.1zM672 985.8h27.6v3h-27.6zM709 985.8h6.8v3h-6.8zM721 985.8h10v3h-10zM599.9 988.6h53.1v3h-53.1zM672 988.6h27.6v3h-27.6zM709 988.6h20.4v3h-20.4zM599.9 991.4h53.1v3h-53.1zM672 991.4h14v3h-14zM709 991.4h6.8v3h-6.8zM726.9 991.4h2.5v3h-2.5zM353.8 1016.5h332.2v3h-332.2zM715.8 1016.5h11.1v3h-11.1zM729.4 1016.5h1.6v3h-1.6zM599.9 1033.3h72.1v3h-72.1zM686 1033.3h13.6v3h-13.6zM715.8 1033.3h15.2v3h-15.2zM353.8 1036.1h299.2v3h-299.2zM672 1036.1h27.6v3h-27.6zM726.9 1036.1h4.1v3h-4.1zM599.9 1038.9h53.1v3h-53.1zM686 1038.9h13.6v3h-13.6zM709 1038.9h6.8v3h-6.8zM721 1038.9h8.4v3h-8.4zM599.9 1041.7h53.1v3h-53.1zM672 1041.7h27.6v3h-27.6zM715.8 1041.7h5.2v3h-5.2zM729.4 1041.7h1.6v3h-1.6zM353.8 1044.5h299.2v3h-299.2zM672 1044.5h27.6v3h-27.6zM709 1044.5h12v3h-12zM729.4 1044.5h1.6v3h-1.6zM599.9 1047.3h53.1v3h-53.1zM726.9 1047.3h2.5v3h-2.5zM672 1050.1h14v3h-14zM709 1050.1h6.8v3h-6.8zM729.4 1050.1h1.6v3h-1.6zM653 1058.5h19v3h-19zM353.8 1061.2h299.2v3h-299.2zM672 1061.2h27.6v3h-27.6zM709 1061.2h17.9v3h-17.9zM729.4 1061.2h1.6v3h-1.6zM672 1064h27.6v3h-27.6zM715.8 1064h5.2v3h-5.2zM726.9 1064h2.5v3h-2.5zM721 1066.8h5.9v3h-5.9zM672 1069.6h14v3h-14zM672 1075.2h14v3h-14zM721 1083.6h5.9v3h-5.9zM729.4 1086.4h1.6v3h-1.6zM721 1092h5.9v3h-5.9zM721 1094.8h5.9v3h-5.9zM729.4 1097.6h1.6v3h-1.6zM721 1100.4h5.9v3h-5.9zM729.4 1100.4h1.6v3h-1.6zM721 1103.2h5.9v3h-5.9zM729.4 1103.2h1.6v3h-1.6zM721 1119.9h5.9v3h-5.9zM653 1136.7h19v3h-19zM709 1136.7h6.8v3h-6.8zM726.9 1136.7h4.1v3h-4.1zM70.8 1139.5h283v3h-283zM599.9 1139.5h53.1v3h-53.1zM699.6 1139.5h9.4v3h-9.4zM721 1139.5h5.9v3h-5.9zM715.8 1156.3h5.2v3h-5.2zM686 1161.8h13.6v3h-13.6zM686 1164.6h13.6v3h-13.6zM686 1175.8h13.6v3h-13.6zM699.6 1178.6h9.4v3h-9.4zM353.8 1192.6h246.1v3h-246.1zM699.6 1192.6h9.4v3h-9.4zM721 1192.6h10v3h-10zM70.8 1195.4h283v3h-283zM653 1195.4h19v3h-19zM686 1195.4h29.8v3h-29.8zM726.9 1195.4h2.5v3h-2.5zM353.8 1209.4h246.1v3h-246.1zM653 1209.4h19v3h-19zM721 1209.4h5.9v3h-5.9zM726.9 1212.1h2.5v3h-2.5zM353.8 1237.3h246.1v3h-246.1zM715.8 1237.3h11.1v3h-11.1zM729.4 1237.3h1.6v3h-1.6zM353.8 1240.1h246.1v3h-246.1zM672 1240.1h14v3h-14zM709 1240.1h6.8v3h-6.8zM353.8 1242.9h246.1v3h-246.1zM672 1242.9h14v3h-14zM709 1242.9h17.9v3h-17.9zM729.4 1242.9h1.6v3h-1.6zM709 1245.7h6.8v3h-6.8zM721 1245.7h5.9v3h-5.9zM729.4 1245.7h1.6v3h-1.6zM726.9 1248.5h4.1v3h-4.1zM726.9 1251.3h2.5v3h-2.5zM353.8 1259.7h246.1v3h-246.1zM672 1259.7h14v3h-14zM715.8 1259.7h5.2v3h-5.2zM353.8 1262.4h246.1v3h-246.1zM672 1262.4h14v3h-14zM729.4 1262.4h1.6v3h-1.6zM353.8 1265.2h246.1v3h-246.1zM672 1265.2h14v3h-14zM729.4 1265.2h1.6v3h-1.6zM353.8 1282h246.1v3h-246.1zM672 1282h14v3h-14zM709 1282h6.8v3h-6.8zM729.4 1284.8h1.6v3h-1.6zM353.8 1287.6h246.1v3h-246.1zM709 1287.6h6.8v3h-6.8zM721 1287.6h5.9v3h-5.9zM729.4 1287.6h1.6v3h-1.6zM353.8 1290.4h246.1v3h-246.1zM709 1290.4h12v3h-12zM729.4 1290.4h1.6v3h-1.6zM686 1293.2h13.6v3h-13.6zM686 1296h13.6v3h-13.6zM686 1301.6h13.6v3h-13.6zM353.8 1315.5h246.1v3h-246.1zM721 1315.5h10v3h-10zM686 1321.1h13.6v3h-13.6zM715.8 1323.9h13.6v3h-13.6zM653 1326.7h19v3h-19zM715.8 1326.7h5.2v3h-5.2zM726.9 1326.7h2.5v3h-2.5zM715.8 1335.1h11.1v3h-11.1zM715.8 1340.7h5.2v3h-5.2zM653 1343.5h19v3h-19zM726.9 1343.5h4.1v3h-4.1zM709 1346.3h6.8v3h-6.8zM721 1346.3h10v3h-10zM709 1357.5h6.8v3h-6.8zM715.8 1371.4h5.2v3h-5.2zM729.4 1371.4h1.6v3h-1.6zM709 1374.2h12v3h-12zM726.9 1374.2h2.5v3h-2.5zM653 1379.8h19v3h-19zM709 1379.8h12v3h-12zM729.4 1379.8h1.6v3h-1.6zM653 1382.6h19v3h-19zM726.9 1382.6h2.5v3h-2.5zM699.6 1388.2h9.4v3h-9.4zM729.4 1393.8h1.6v3h-1.6zM599.9 1396.6h53.1v3h-53.1zM672 1402.2h14v3h-14zM709 1402.2h6.8v3h-6.8zM672 1405h14v3h-14zM715.8 1407.8h5.2v3h-5.2zM70.8 1413.3h283v3h-283zM599.9 1413.3h53.1v3h-53.1zM672 1413.3h14v3h-14zM709 1413.3h6.8v3h-6.8zM726.9 1413.3h2.5v3h-2.5zM70.8 1416.1h283v3h-283zM672 1416.1h14v3h-14zM715.8 1416.1h11.1v3h-11.1zM729.4 1416.1h1.6v3h-1.6zM672 1418.9h14v3h-14zM715.8 1418.9h5.2v3h-5.2zM726.9 1418.9h4.1v3h-4.1zM672 1421.7h14v3h-14zM715.8 1421.7h5.2v3h-5.2zM726.9 1421.7h2.5v3h-2.5zM70.8 1424.5h283v3h-283zM672 1424.5h14v3h-14zM715.8 1424.5h5.2v3h-5.2zM729.4 1432.9h1.6v3h-1.6zM726.9 1435.7h2.5v3h-2.5zM709 1438.5h6.8v3h-6.8zM599.9 1441.3h53.1v3h-53.1zM721 1441.3h8.4v3h-8.4zM599.9 1444.1h53.1v3h-53.1zM672 1444.1h14v3h-14zM715.8 1444.1h15.2v3h-15.2zM672 1449.7h14v3h-14zM709 1452.5h6.8v3h-6.8zM721 1452.5h5.9v3h-5.9zM729.4 1455.3h1.6v3h-1.6zM353.8 1460.8h246.1v3h-246.1zM721 1472h5.9v3h-5.9zM729.4 1472h1.6v3h-1.6zM672 1474.8h14v3h-14zM709 1477.6h6.8v3h-6.8zM729.4 1477.6h1.6v3h-1.6zM709 1480.4h6.8v3h-6.8zM70.8 1483.2h283v3h-283zM653 1483.2h19v3h-19zM709 1483.2h12v3h-12zM729.4 1483.2h1.6v3h-1.6zM70.8 1494.4h283v3h-283zM70.8 1497.2h283v3h-283zM70.8 1500h283v3h-283zM70.8 1505.6h283v3h-283zM70.8 1508.4h283v3h-283zM70.8 1525.1h283v3h-283zM653 1530.7h19v3h-19zM709 1530.7h6.8v3h-6.8zM599.9 1533.5h72.1v3h-72.1zM709 1533.5h6.8v3h-6.8zM709 1536.3h6.8v3h-6.8zM653 1541.9h19v3h-19zM709 1541.9h6.8v3h-6.8zM70.8 1544.7h283v3h-283zM70.8 1547.5h283v3h-283zM353.8 1561.5h299.2v3h-299.2zM672 1561.5h14v3h-14zM715.8 1561.5h5.2v3h-5.2zM726.9 1561.5h2.5v3h-2.5zM672 1569.8h14v3h-14zM599.9 1572.6h86.1v3h-86.1zM699.6 1572.6h9.4v3h-9.4zM715.8 1572.6h5.2v3h-5.2zM721 1578.2h5.9v3h-5.9zM353.8 1581h299.2v3h-299.2zM721 1581h8.4v3h-8.4zM70.8 1589.4h283v3h-283zM70.8 1595h582.2v3h-582.2zM672 1595h14v3h-14zM729.4 1595h1.6v3h-1.6zM715.8 1603.4h5.2v3h-5.2zM726.9 1603.4h2.5v3h-2.5zM353.8 1606.2h299.2v3h-299.2zM721 1606.2h5.9v3h-5.9zM729.4 1606.2h1.6v3h-1.6zM70.8 1609h529.1v3h-529.1zM653 1609h19v3h-19zM699.6 1609h9.4v3h-9.4zM721 1609h5.9v3h-5.9zM686 1617.3h13.6v3h-13.6zM715.8 1617.3h5.2v3h-5.2zM721 1622.9h5.9v3h-5.9zM653 1659.3h33v3h-33zM709 1659.3h6.8v3h-6.8zM353.8 1670.4h246.1v3h-246.1zM653 1670.4h33v3h-33zM726.9 1670.4h2.5v3h-2.5zM70.8 1673.2h283v3h-283zM70.8 1676h283v3h-283zM70.8 1684.4h283v3h-283zM353.8 1690h299.2v3h-299.2zM726.9 1690h2.5v3h-2.5zM353.8 1692.8h246.1v3h-246.1zM653 1692.8h56v3h-56zM726.9 1692.8h2.5v3h-2.5zM653 1695.6h56v3h-56zM726.9 1695.6h2.5v3h-2.5zM653 1706.8h33v3h-33zM353.8 1709.6h246.1v3h-246.1zM353.8 1712.3h318.2v3h-318.2zM729.4 1712.3h1.6v3h-1.6zM70.8 1726.3h283v3h-283zM70.8 1729.1h283v3h-283zM353.8 1731.9h246.1v3h-246.1zM653 1731.9h19v3h-19zM729.4 1731.9h1.6v3h-1.6zM353.8 1734.7h318.2v3h-318.2zM709 1734.7h6.8v3h-6.8zM721 1734.7h8.4v3h-8.4zM353.8 1776.6h246.1v3h-246.1zM672 1776.6h14v3h-14zM699.6 1776.6h9.4v3h-9.4zM715.8 1776.6h5.2v3h-5.2zM729.4 1776.6h1.6v3h-1.6zM353.8 1779.4h299.2v3h-299.2zM699.6 1779.4h9.4v3h-9.4zM729.4 1779.4h1.6v3h-1.6zM353.8 1787.8h246.1v3h-246.1zM653 1787.8h19v3h-19zM686 1787.8h13.6v3h-13.6zM709 1787.8h12v3h-12zM726.9 1787.8h4.1v3h-4.1zM70.8 1790.6h638.2v3h-638.2zM726.9 1790.6h4.1v3h-4.1zM70.8 1793.4h283v3h-283zM653 1793.4h19v3h-19zM686 1793.4h13.6v3h-13.6zM709 1793.4h6.8v3h-6.8zM729.4 1793.4h1.6v3h-1.6zM353.8 1796.2h332.2v3h-332.2zM699.6 1796.2h16.2v3h-16.2zM726.9 1796.2h2.5v3h-2.5z" fill="#d8e2f5"/><path d="M653 985.8h19v3h-19zM653 988.6h19v3h-19zM686 991.4h13.6v3h-13.6zM721 991.4h5.9v3h-5.9zM686 1016.5h13.6v3h-13.6zM672 1033.3h14v3h-14zM653 1038.9h33v3h-33zM653 1041.7h19v3h-19zM721 1041.7h5.9v3h-5.9zM653 1044.5h19v3h-19zM726.9 1044.5h2.5v3h-2.5zM686 1047.3h13.6v3h-13.6zM709 1047.3h12v3h-12zM653 1050.1h19v3h-19zM686 1050.1h13.6v3h-13.6zM715.8 1050.1h13.6v3h-13.6zM721 1058.5h8.4v3h-8.4zM653 1064h19v3h-19zM721 1064h5.9v3h-5.9zM70.8 1136.7h283v3h-283zM699.6 1136.7h9.4v3h-9.4zM721 1136.7h5.9v3h-5.9zM653 1139.5h19v3h-19zM726.9 1139.5h2.5v3h-2.5zM70.8 1159.1h529.1v3h-529.1zM686 1159.1h13.6v3h-13.6zM715.8 1161.8h5.2v3h-5.2zM715.8 1164.6h5.2v3h-5.2zM726.9 1164.6h2.5v3h-2.5zM70.8 1167.4h283v3h-283zM686 1167.4h13.6v3h-13.6zM709 1167.4h12v3h-12zM699.6 1170.2h9.4v3h-9.4zM729.4 1170.2h1.6v3h-1.6zM699.6 1175.8h9.4v3h-9.4zM729.4 1175.8h1.6v3h-1.6zM686 1178.6h13.6v3h-13.6zM715.8 1178.6h5.2v3h-5.2zM353.8 1181.4h246.1v3h-246.1zM672 1181.4h27.6v3h-27.6zM715.8 1181.4h5.2v3h-5.2zM729.4 1181.4h1.6v3h-1.6zM353.8 1184.2h246.1v3h-246.1zM729.4 1184.2h1.6v3h-1.6zM653 1187h19v3h-19zM686 1187h13.6v3h-13.6zM715.8 1187h5.2v3h-5.2zM70.8 1189.8h283v3h-283zM686 1189.8h23v3h-23zM70.8 1192.6h283v3h-283zM653 1192.6h33v3h-33zM709 1192.6h6.8v3h-6.8zM721 1195.4h5.9v3h-5.9zM686 1198.2h13.6v3h-13.6zM709 1198.2h6.8v3h-6.8zM353.8 1201h246.1v3h-246.1zM653 1201h19v3h-19zM709 1201h6.8v3h-6.8zM721 1201h5.9v3h-5.9zM672 1203.8h37v3h-37zM715.8 1203.8h5.2v3h-5.2zM353.8 1206.6h246.1v3h-246.1zM686 1206.6h13.6v3h-13.6zM715.8 1206.6h5.2v3h-5.2zM721 1212.1h5.9v3h-5.9zM353.8 1214.9h246.1v3h-246.1zM686 1214.9h29.8v3h-29.8zM672 1220.5h27.6v3h-27.6zM726.9 1220.5h2.5v3h-2.5zM686 1223.3h13.6v3h-13.6zM729.4 1226.1h1.6v3h-1.6zM699.6 1228.9h21.4v3h-21.4zM353.8 1231.7h246.1v3h-246.1zM672 1231.7h14v3h-14zM70.8 1237.3h283v3h-283zM599.9 1242.9h53.1v3h-53.1zM726.9 1242.9h2.5v3h-2.5zM599.9 1245.7h53.1v3h-53.1zM353.8 1251.3h246.1v3h-246.1zM672 1251.3h14v3h-14zM729.4 1251.3h1.6v3h-1.6zM353.8 1254.1h299.2v3h-299.2zM672 1254.1h14v3h-14zM726.9 1254.1h2.5v3h-2.5zM599.9 1259.7h53.1v3h-53.1zM721 1259.7h5.9v3h-5.9zM715.8 1262.4h5.2v3h-5.2zM715.8 1265.2h5.2v3h-5.2zM699.6 1270.8h9.4v3h-9.4zM353.8 1276.4h246.1v3h-246.1zM672 1276.4h14v3h-14zM672 1279.2h14v3h-14zM709 1279.2h6.8v3h-6.8zM729.4 1279.2h1.6v3h-1.6zM599.9 1282h53.1v3h-53.1zM353.8 1284.8h246.1v3h-246.1zM715.8 1284.8h5.2v3h-5.2zM699.6 1293.2h9.4v3h-9.4zM686 1298.8h13.6v3h-13.6zM721 1304.4h5.9v3h-5.9zM721 1307.2h5.9v3h-5.9zM672 1310h14v3h-14zM709 1310h6.8v3h-6.8zM721 1310h10v3h-10zM672 1312.7h14v3h-14zM726.9 1312.7h4.1v3h-4.1zM70.8 1315.5h283v3h-283zM599.9 1315.5h53.1v3h-53.1zM699.6 1321.1h9.4v3h-9.4zM599.9 1323.9h72.1v3h-72.1zM729.4 1323.9h1.6v3h-1.6zM70.8 1326.7h283v3h-283zM709 1326.7h6.8v3h-6.8zM721 1326.7h5.9v3h-5.9zM729.4 1326.7h1.6v3h-1.6zM653 1329.5h19v3h-19zM686 1329.5h13.6v3h-13.6zM709 1329.5h20.4v3h-20.4zM653 1332.3h19v3h-19zM726.9 1332.3h4.1v3h-4.1zM70.8 1335.1h283v3h-283zM599.9 1335.1h72.1v3h-72.1zM709 1335.1h6.8v3h-6.8zM726.9 1335.1h4.1v3h-4.1zM653 1340.7h19v3h-19zM709 1340.7h6.8v3h-6.8zM721 1340.7h10v3h-10zM599.9 1343.5h53.1v3h-53.1zM709 1343.5h12v3h-12zM70.8 1346.3h283v3h-283zM599.9 1346.3h72.1v3h-72.1zM715.8 1346.3h5.2v3h-5.2zM353.8 1349.1h318.2v3h-318.2zM721 1349.1h5.9v3h-5.9zM729.4 1349.1h1.6v3h-1.6zM653 1351.9h19v3h-19zM709 1351.9h12v3h-12zM721 1354.7h5.9v3h-5.9zM353.8 1357.5h246.1v3h-246.1zM726.9 1357.5h2.5v3h-2.5zM70.8 1360.2h283v3h-283zM721 1360.2h8.4v3h-8.4zM353.8 1363h246.1v3h-246.1zM726.9 1363h4.1v3h-4.1zM70.8 1365.8h283v3h-283zM599.9 1365.8h53.1v3h-53.1zM686 1365.8h13.6v3h-13.6zM709 1365.8h6.8v3h-6.8zM726.9 1365.8h2.5v3h-2.5zM653 1368.6h19v3h-19zM709 1368.6h12v3h-12zM729.4 1368.6h1.6v3h-1.6zM70.8 1371.4h283v3h-283zM599.9 1371.4h72.1v3h-72.1zM709 1371.4h6.8v3h-6.8zM721 1371.4h8.4v3h-8.4zM70.8 1374.2h582.2v3h-582.2zM721 1374.2h5.9v3h-5.9zM729.4 1374.2h1.6v3h-1.6zM686 1379.8h13.6v3h-13.6zM70.8 1382.6h283v3h-283zM686 1382.6h13.6v3h-13.6zM709 1382.6h6.8v3h-6.8zM721 1382.6h5.9v3h-5.9zM729.4 1382.6h1.6v3h-1.6zM699.6 1391h9.4v3h-9.4zM599.9 1393.8h72.1v3h-72.1zM70.8 1396.6h283v3h-283zM653 1396.6h19v3h-19zM686 1396.6h13.6v3h-13.6zM709 1396.6h6.8v3h-6.8zM729.4 1396.6h1.6v3h-1.6zM70.8 1399.4h283v3h-283zM599.9 1399.4h72.1v3h-72.1zM686 1399.4h43.4v3h-43.4zM70.8 1402.2h283v3h-283zM599.9 1402.2h53.1v3h-53.1zM715.8 1402.2h5.2v3h-5.2zM709 1405h20.4v3h-20.4zM70.8 1407.8h283v3h-283zM599.9 1407.8h86.1v3h-86.1zM709 1407.8h6.8v3h-6.8zM721 1407.8h10v3h-10zM721 1410.5h10v3h-10zM653 1413.3h19v3h-19zM715.8 1413.3h11.1v3h-11.1zM653 1416.1h19v3h-19zM70.8 1418.9h283v3h-283zM599.9 1418.9h72.1v3h-72.1zM599.9 1421.7h72.1v3h-72.1zM729.4 1421.7h1.6v3h-1.6zM729.4 1424.5h1.6v3h-1.6zM70.8 1432.9h283v3h-283zM672 1432.9h14v3h-14zM709 1432.9h20.4v3h-20.4zM70.8 1435.7h283v3h-283zM715.8 1435.7h11.1v3h-11.1zM599.9 1438.5h53.1v3h-53.1zM715.8 1438.5h11.1v3h-11.1zM729.4 1438.5h1.6v3h-1.6zM70.8 1441.3h283v3h-283zM653 1441.3h33v3h-33zM70.8 1444.1h283v3h-283zM672 1446.9h14v3h-14zM709 1446.9h6.8v3h-6.8zM721 1446.9h5.9v3h-5.9zM729.4 1446.9h1.6v3h-1.6zM70.8 1449.7h283v3h-283zM715.8 1449.7h5.2v3h-5.2zM729.4 1449.7h1.6v3h-1.6zM70.8 1452.5h283v3h-283zM599.9 1452.5h53.1v3h-53.1zM672 1452.5h14v3h-14zM726.9 1452.5h4.1v3h-4.1zM70.8 1455.3h283v3h-283zM599.9 1455.3h53.1v3h-53.1zM599.9 1458.1h72.1v3h-72.1zM726.9 1458.1h2.5v3h-2.5zM70.8 1472h283v3h-283zM599.9 1472h53.1v3h-53.1zM672 1472h14v3h-14zM715.8 1472h5.2v3h-5.2zM726.9 1472h2.5v3h-2.5zM70.8 1474.8h283v3h-283zM709 1474.8h6.8v3h-6.8zM729.4 1474.8h1.6v3h-1.6zM70.8 1477.6h283v3h-283zM599.9 1477.6h86.1v3h-86.1zM653 1480.4h33v3h-33zM721 1480.4h5.9v3h-5.9zM599.9 1483.2h53.1v3h-53.1zM672 1483.2h14v3h-14zM70.8 1486h283v3h-283zM726.9 1486h2.5v3h-2.5zM686 1488.8h13.6v3h-13.6zM721 1494.4h5.9v3h-5.9zM70.8 1502.8h283v3h-283zM672 1505.6h14v3h-14zM721 1505.6h5.9v3h-5.9zM353.8 1508.4h246.1v3h-246.1zM729.4 1516.7h1.6v3h-1.6zM672 1519.5h14v3h-14zM70.8 1522.3h283v3h-283zM672 1525.1h14v3h-14zM70.8 1527.9h582.2v3h-582.2zM726.9 1527.9h2.5v3h-2.5zM653 1536.3h19v3h-19zM709 1539.1h6.8v3h-6.8zM686 1541.9h13.6v3h-13.6zM715.8 1544.7h5.2v3h-5.2zM70.8 1550.3h283v3h-283zM715.8 1550.3h5.2v3h-5.2zM726.9 1550.3h2.5v3h-2.5zM70.8 1553.1h283v3h-283zM70.8 1555.9h283v3h-283zM672 1555.9h14v3h-14zM721 1555.9h5.9v3h-5.9zM729.4 1555.9h1.6v3h-1.6zM70.8 1558.7h283v3h-283zM721 1558.7h5.9v3h-5.9zM653 1561.5h19v3h-19zM709 1561.5h6.8v3h-6.8zM70.8 1564.2h529.1v3h-529.1zM715.8 1564.2h5.2v3h-5.2zM729.4 1564.2h1.6v3h-1.6zM686 1569.8h13.6v3h-13.6zM353.8 1575.4h246.1v3h-246.1zM715.8 1575.4h5.2v3h-5.2zM70.8 1578.2h582.2v3h-582.2zM653 1581h19v3h-19zM729.4 1581h1.6v3h-1.6zM70.8 1583.8h529.1v3h-529.1zM599.9 1586.6h53.1v3h-53.1zM726.9 1589.4h4.1v3h-4.1zM70.8 1592.2h283v3h-283zM599.9 1592.2h72.1v3h-72.1zM715.8 1592.2h5.2v3h-5.2zM729.4 1592.2h1.6v3h-1.6zM653 1595h19v3h-19zM686 1595h13.6v3h-13.6zM721 1597.8h5.9v3h-5.9zM353.8 1603.4h246.1v3h-246.1zM653 1603.4h33v3h-33zM699.6 1603.4h9.4v3h-9.4zM653 1606.2h19v3h-19zM699.6 1606.2h9.4v3h-9.4zM672 1609h14v3h-14zM729.4 1609h1.6v3h-1.6zM599.9 1611.8h53.1v3h-53.1zM672 1614.5h14v3h-14zM653 1617.3h33v3h-33zM70.8 1620.1h283v3h-283zM715.8 1620.1h5.2v3h-5.2zM726.9 1620.1h2.5v3h-2.5zM715.8 1622.9h5.2v3h-5.2zM70.8 1625.7h529.1v3h-529.1zM353.8 1628.5h246.1v3h-246.1zM70.8 1631.3h283v3h-283zM70.8 1634.1h283v3h-283zM729.4 1634.1h1.6v3h-1.6zM726.9 1636.9h2.5v3h-2.5zM70.8 1642.5h529.1v3h-529.1zM726.9 1642.5h4.1v3h-4.1zM70.8 1645.3h283v3h-283zM599.9 1645.3h53.1v3h-53.1zM70.8 1653.7h283v3h-283zM70.8 1656.5h283v3h-283zM729.4 1656.5h1.6v3h-1.6zM353.8 1659.3h299.2v3h-299.2zM699.6 1659.3h9.4v3h-9.4zM70.8 1662h283v3h-283zM70.8 1667.6h283v3h-283zM599.9 1667.6h53.1v3h-53.1zM699.6 1670.4h9.4v3h-9.4zM70.8 1678.8h283v3h-283zM729.4 1678.8h1.6v3h-1.6zM70.8 1681.6h283v3h-283zM599.9 1681.6h53.1v3h-53.1zM699.6 1687.2h9.4v3h-9.4zM672 1690h14v3h-14zM709 1690h6.8v3h-6.8zM709 1692.8h6.8v3h-6.8zM353.8 1695.6h246.1v3h-246.1zM709 1709.6h6.8v3h-6.8zM70.8 1723.5h283v3h-283zM721 1726.3h10v3h-10zM599.9 1729.1h53.1v3h-53.1zM726.9 1729.1h2.5v3h-2.5zM599.9 1731.9h53.1v3h-53.1zM672 1734.7h37v3h-37zM726.9 1740.3h2.5v3h-2.5zM70.8 1765.4h283v3h-283zM70.8 1768.2h283v3h-283zM70.8 1771h283v3h-283zM70.8 1773.8h283v3h-283zM599.9 1787.8h53.1v3h-53.1zM672 1787.8h14v3h-14zM699.6 1787.8h9.4v3h-9.4zM709 1790.6h12v3h-12zM353.8 1793.4h299.2v3h-299.2zM672 1793.4h14v3h-14zM699.6 1793.4h9.4v3h-9.4zM715.8 1793.4h5.2v3h-5.2zM726.9 1793.4h2.5v3h-2.5zM70.8 1807.4h283v3h-283zM70.8 1818.5h283v3h-283zM653 1821.3h19v3h-19zM70.8 1824.1h283v3h-283zM709 1824.1h12v3h-12zM726.9 1916.3h2.5v3h-2.5zM721 1919.1h5.9v3h-5.9zM70.8 1938.7h283v3h-283zM715.8 1944.3h5.2v3h-5.2zM70.8 1949.9h283v3h-283zM672 1975h14v3h-14z" fill="#e9eef8"/><path d="M715.8 1136.7h5.2v3h-5.2zM672 1139.5h14v3h-14zM729.4 1139.5h1.6v3h-1.6zM715.8 1150.7h5.2v3h-5.2zM353.8 1156.3h246.1v3h-246.1zM653 1156.3h62.8v3h-62.8zM726.9 1156.3h2.5v3h-2.5zM672 1159.1h14v3h-14zM699.6 1159.1h21.4v3h-21.4zM726.9 1159.1h4.1v3h-4.1zM353.8 1161.8h246.1v3h-246.1zM672 1161.8h14v3h-14zM699.6 1161.8h16.2v3h-16.2zM729.4 1161.8h1.6v3h-1.6zM70.8 1164.6h529.1v3h-529.1zM672 1164.6h14v3h-14zM699.6 1164.6h16.2v3h-16.2zM721 1164.6h5.9v3h-5.9zM729.4 1164.6h1.6v3h-1.6zM353.8 1167.4h246.1v3h-246.1zM653 1167.4h19v3h-19zM699.6 1167.4h9.4v3h-9.4zM726.9 1167.4h2.5v3h-2.5zM70.8 1170.2h529.1v3h-529.1zM672 1170.2h27.6v3h-27.6zM709 1170.2h20.4v3h-20.4zM70.8 1173h283v3h-283zM653 1173h46.6v3h-46.6zM715.8 1173h5.2v3h-5.2zM726.9 1173h2.5v3h-2.5zM353.8 1175.8h246.1v3h-246.1zM672 1175.8h14v3h-14zM715.8 1175.8h5.2v3h-5.2zM672 1178.6h14v3h-14zM721 1178.6h5.9v3h-5.9zM70.8 1181.4h283v3h-283zM699.6 1181.4h16.2v3h-16.2zM70.8 1184.2h283v3h-283zM653 1184.2h68v3h-68zM726.9 1184.2h2.5v3h-2.5zM70.8 1187h529.1v3h-529.1zM672 1187h14v3h-14zM699.6 1187h16.2v3h-16.2zM721 1187h10v3h-10zM353.8 1189.8h246.1v3h-246.1zM653 1189.8h33v3h-33zM715.8 1189.8h13.6v3h-13.6zM672 1195.4h14v3h-14zM672 1198.2h14v3h-14zM699.6 1198.2h9.4v3h-9.4zM715.8 1198.2h5.2v3h-5.2zM726.9 1198.2h4.1v3h-4.1zM70.8 1201h283v3h-283zM672 1201h37v3h-37zM715.8 1201h5.2v3h-5.2zM726.9 1201h4.1v3h-4.1zM70.8 1203.8h529.1v3h-529.1zM653 1203.8h19v3h-19zM721 1203.8h10v3h-10zM70.8 1206.6h283v3h-283zM653 1206.6h33v3h-33zM709 1206.6h6.8v3h-6.8zM721 1206.6h10v3h-10zM653 1214.9h33v3h-33zM715.8 1214.9h13.6v3h-13.6zM70.8 1217.7h529.1v3h-529.1zM699.6 1217.7h31.4v3h-31.4zM70.8 1220.5h529.1v3h-529.1zM715.8 1220.5h11.1v3h-11.1zM729.4 1220.5h1.6v3h-1.6zM70.8 1223.3h529.1v3h-529.1zM653 1223.3h19v3h-19zM699.6 1223.3h9.4v3h-9.4zM715.8 1223.3h15.2v3h-15.2zM70.8 1226.1h529.1v3h-529.1zM686 1226.1h23v3h-23zM715.8 1226.1h11.1v3h-11.1zM353.8 1228.9h246.1v3h-246.1zM672 1228.9h27.6v3h-27.6zM721 1228.9h8.4v3h-8.4zM70.8 1231.7h283v3h-283zM686 1231.7h13.6v3h-13.6zM715.8 1231.7h15.2v3h-15.2zM672 1234.5h14v3h-14zM729.4 1234.5h1.6v3h-1.6zM599.9 1237.3h53.1v3h-53.1zM599.9 1240.1h53.1v3h-53.1zM70.8 1242.9h283v3h-283zM70.8 1245.7h283v3h-283zM70.8 1248.5h283v3h-283zM599.9 1248.5h53.1v3h-53.1zM70.8 1251.3h283v3h-283zM599.9 1251.3h53.1v3h-53.1zM686 1251.3h13.6v3h-13.6zM709 1251.3h12v3h-12zM70.8 1254.1h283v3h-283zM709 1254.1h12v3h-12zM729.4 1254.1h1.6v3h-1.6zM672 1256.9h14v3h-14zM715.8 1256.9h5.2v3h-5.2zM726.9 1256.9h2.5v3h-2.5zM70.8 1259.7h283v3h-283zM70.8 1262.4h283v3h-283zM599.9 1262.4h53.1v3h-53.1zM70.8 1265.2h283v3h-283zM699.6 1268h9.4v3h-9.4zM353.8 1273.6h246.1v3h-246.1zM672 1273.6h14v3h-14zM709 1273.6h6.8v3h-6.8zM721 1273.6h10v3h-10zM709 1276.4h17.9v3h-17.9zM729.4 1276.4h1.6v3h-1.6zM715.8 1279.2h5.2v3h-5.2zM70.8 1282h283v3h-283zM599.9 1284.8h53.1v3h-53.1zM672 1284.8h27.6v3h-27.6zM709 1284.8h6.8v3h-6.8zM721 1284.8h8.4v3h-8.4zM599.9 1287.6h53.1v3h-53.1zM70.8 1290.4h283v3h-283zM599.9 1290.4h53.1v3h-53.1zM699.6 1301.6h9.4v3h-9.4zM353.8 1304.4h246.1v3h-246.1zM672 1304.4h14v3h-14zM709 1304.4h6.8v3h-6.8zM353.8 1307.2h246.1v3h-246.1zM672 1307.2h14v3h-14zM70.8 1310h582.2v3h-582.2zM686 1310h13.6v3h-13.6zM715.8 1310h5.2v3h-5.2zM709 1312.7h17.9v3h-17.9zM699.6 1318.3h9.4v3h-9.4zM70.8 1323.9h529.1v3h-529.1zM686 1323.9h13.6v3h-13.6zM353.8 1326.7h299.2v3h-299.2zM686 1326.7h13.6v3h-13.6zM70.8 1329.5h582.2v3h-582.2zM729.4 1329.5h1.6v3h-1.6zM70.8 1332.3h582.2v3h-582.2zM686 1332.3h35v3h-35zM686 1335.1h23v3h-23zM70.8 1337.9h283v3h-283zM709 1337.9h6.8v3h-6.8zM721 1337.9h5.9v3h-5.9zM729.4 1337.9h1.6v3h-1.6zM70.8 1340.7h582.2v3h-582.2zM686 1340.7h13.6v3h-13.6zM70.8 1343.5h529.1v3h-529.1zM686 1343.5h13.6v3h-13.6zM353.8 1346.3h246.1v3h-246.1zM686 1349.1h13.6v3h-13.6zM709 1349.1h12v3h-12zM726.9 1349.1h2.5v3h-2.5zM70.8 1351.9h582.2v3h-582.2zM686 1351.9h13.6v3h-13.6zM726.9 1351.9h4.1v3h-4.1zM70.8 1354.7h283v3h-283zM599.9 1354.7h72.1v3h-72.1zM686 1354.7h35v3h-35zM726.9 1354.7h2.5v3h-2.5zM70.8 1357.5h283v3h-283zM599.9 1357.5h72.1v3h-72.1zM715.8 1357.5h11.1v3h-11.1zM729.4 1357.5h1.6v3h-1.6zM353.8 1360.2h246.1v3h-246.1zM653 1360.2h19v3h-19zM686 1360.2h13.6v3h-13.6zM709 1360.2h12v3h-12zM729.4 1360.2h1.6v3h-1.6zM70.8 1363h283v3h-283zM599.9 1363h72.1v3h-72.1zM686 1363h13.6v3h-13.6zM709 1363h17.9v3h-17.9zM653 1365.8h19v3h-19zM715.8 1365.8h11.1v3h-11.1zM729.4 1365.8h1.6v3h-1.6zM70.8 1368.6h283v3h-283zM599.9 1368.6h53.1v3h-53.1zM721 1368.6h8.4v3h-8.4zM686 1374.2h13.6v3h-13.6zM70.8 1377h283v3h-283zM709 1377h12v3h-12zM726.9 1377h4.1v3h-4.1zM70.8 1379.8h582.2v3h-582.2zM721 1379.8h5.9v3h-5.9zM353.8 1382.6h299.2v3h-299.2zM70.8 1393.8h529.1v3h-529.1zM686 1393.8h13.6v3h-13.6zM709 1393.8h6.8v3h-6.8zM721 1393.8h8.4v3h-8.4zM353.8 1396.6h246.1v3h-246.1zM699.6 1396.6h9.4v3h-9.4zM715.8 1396.6h13.6v3h-13.6zM353.8 1399.4h246.1v3h-246.1zM729.4 1399.4h1.6v3h-1.6zM653 1402.2h19v3h-19zM70.8 1405h601.2v3h-601.2zM729.4 1405h1.6v3h-1.6zM672 1410.5h14v3h-14zM709 1410.5h12v3h-12zM353.8 1413.3h246.1v3h-246.1zM599.9 1416.1h53.1v3h-53.1zM70.8 1421.7h529.1v3h-529.1zM653 1424.5h19v3h-19zM653 1432.9h19v3h-19zM599.9 1435.7h86.1v3h-86.1zM709 1435.7h6.8v3h-6.8zM729.4 1435.7h1.6v3h-1.6zM70.8 1438.5h283v3h-283zM653 1438.5h33v3h-33zM699.6 1438.5h9.4v3h-9.4zM726.9 1438.5h2.5v3h-2.5zM653 1444.1h19v3h-19zM70.8 1446.9h283v3h-283zM599.9 1446.9h53.1v3h-53.1zM726.9 1446.9h2.5v3h-2.5zM353.8 1449.7h246.1v3h-246.1zM699.6 1449.7h9.4v3h-9.4zM721 1449.7h5.9v3h-5.9zM653 1452.5h19v3h-19zM715.8 1452.5h5.2v3h-5.2zM653 1455.3h19v3h-19zM70.8 1458.1h283v3h-283zM699.6 1460.8h9.4v3h-9.4zM709 1463.6h6.8v3h-6.8zM709 1466.4h6.8v3h-6.8zM721 1469.2h5.9v3h-5.9zM653 1472h19v3h-19zM709 1472h6.8v3h-6.8zM599.9 1474.8h72.1v3h-72.1zM715.8 1474.8h13.6v3h-13.6zM353.8 1480.4h299.2v3h-299.2zM353.8 1483.2h246.1v3h-246.1zM353.8 1486h299.2v3h-299.2zM672 1486h14v3h-14zM715.8 1486h11.1v3h-11.1zM729.4 1486h1.6v3h-1.6zM672 1494.4h14v3h-14zM715.8 1494.4h5.2v3h-5.2zM726.9 1494.4h4.1v3h-4.1zM599.9 1497.2h53.1v3h-53.1zM715.8 1497.2h5.2v3h-5.2zM726.9 1497.2h2.5v3h-2.5zM353.8 1500h299.2v3h-299.2zM672 1500h14v3h-14zM715.8 1500h5.2v3h-5.2zM726.9 1500h2.5v3h-2.5zM353.8 1502.8h246.1v3h-246.1zM672 1502.8h14v3h-14zM726.9 1502.8h2.5v3h-2.5zM599.9 1505.6h53.1v3h-53.1zM715.8 1505.6h5.2v3h-5.2zM729.4 1505.6h1.6v3h-1.6zM672 1508.4h14v3h-14zM715.8 1508.4h15.2v3h-15.2zM70.8 1516.7h582.2v3h-582.2zM672 1516.7h14v3h-14zM709 1516.7h17.9v3h-17.9zM70.8 1519.5h283v3h-283zM721 1519.5h5.9v3h-5.9zM672 1522.3h14v3h-14zM715.8 1522.3h15.2v3h-15.2zM715.8 1525.1h13.6v3h-13.6zM672 1527.9h14v3h-14zM709 1527.9h17.9v3h-17.9zM729.4 1527.9h1.6v3h-1.6zM686 1530.7h13.6v3h-13.6zM686 1533.5h13.6v3h-13.6zM686 1536.3h13.6v3h-13.6zM686 1539.1h13.6v3h-13.6zM599.9 1544.7h53.1v3h-53.1zM672 1544.7h14v3h-14zM721 1544.7h10v3h-10zM599.9 1547.5h53.1v3h-53.1zM672 1547.5h14v3h-14zM721 1547.5h10v3h-10zM721 1550.3h5.9v3h-5.9zM599.9 1553.1h53.1v3h-53.1zM672 1553.1h14v3h-14zM715.8 1553.1h11.1v3h-11.1zM729.4 1553.1h1.6v3h-1.6zM686 1555.9h13.6v3h-13.6zM715.8 1555.9h5.2v3h-5.2zM726.9 1555.9h2.5v3h-2.5zM599.9 1558.7h53.1v3h-53.1zM672 1558.7h14v3h-14zM715.8 1558.7h5.2v3h-5.2zM726.9 1558.7h4.1v3h-4.1zM721 1564.2h8.4v3h-8.4zM70.8 1567h529.1v3h-529.1zM721 1567h5.9v3h-5.9zM729.4 1567h1.6v3h-1.6zM686 1572.6h13.6v3h-13.6zM70.8 1575.4h283v3h-283zM653 1575.4h19v3h-19zM721 1575.4h5.9v3h-5.9zM729.4 1575.4h1.6v3h-1.6zM653 1578.2h19v3h-19zM726.9 1578.2h4.1v3h-4.1zM672 1581h14v3h-14zM699.6 1581h9.4v3h-9.4zM721 1583.8h5.9v3h-5.9zM729.4 1583.8h1.6v3h-1.6zM70.8 1586.6h283v3h-283zM653 1586.6h19v3h-19zM715.8 1586.6h15.2v3h-15.2zM599.9 1589.4h53.1v3h-53.1zM715.8 1589.4h11.1v3h-11.1zM686 1592.2h23v3h-23zM721 1592.2h5.9v3h-5.9zM699.6 1595h9.4v3h-9.4zM70.8 1597.8h582.2v3h-582.2zM672 1597.8h27.6v3h-27.6zM715.8 1597.8h5.2v3h-5.2zM726.9 1597.8h2.5v3h-2.5zM686 1603.4h13.6v3h-13.6zM672 1606.2h27.6v3h-27.6zM686 1609h13.6v3h-13.6zM70.8 1611.8h529.1v3h-529.1zM653 1611.8h33v3h-33zM699.6 1611.8h9.4v3h-9.4zM721 1611.8h10v3h-10zM686 1614.5h13.6v3h-13.6zM353.8 1620.1h299.2v3h-299.2zM70.8 1622.9h529.1v3h-529.1zM726.9 1622.9h2.5v3h-2.5zM715.8 1625.7h5.2v3h-5.2zM726.9 1625.7h2.5v3h-2.5zM70.8 1628.5h283v3h-283zM715.8 1628.5h11.1v3h-11.1zM729.4 1628.5h1.6v3h-1.6zM353.8 1631.3h299.2v3h-299.2zM672 1631.3h14v3h-14zM721 1631.3h8.4v3h-8.4zM672 1634.1h14v3h-14zM699.6 1634.1h9.4v3h-9.4zM715.8 1634.1h13.6v3h-13.6zM70.8 1636.9h283v3h-283zM599.9 1636.9h53.1v3h-53.1zM699.6 1636.9h9.4v3h-9.4zM715.8 1636.9h11.1v3h-11.1zM729.4 1636.9h1.6v3h-1.6zM70.8 1639.7h283v3h-283zM599.9 1639.7h53.1v3h-53.1zM715.8 1639.7h11.1v3h-11.1zM599.9 1642.5h53.1v3h-53.1zM721 1642.5h5.9v3h-5.9zM353.8 1645.3h246.1v3h-246.1zM653 1645.3h33v3h-33zM721 1645.3h10v3h-10zM726.9 1653.7h4.1v3h-4.1zM599.9 1656.5h53.1v3h-53.1zM726.9 1656.5h2.5v3h-2.5zM353.8 1662h299.2v3h-299.2zM672 1662h14v3h-14zM699.6 1662h16.2v3h-16.2zM721 1662h10v3h-10zM70.8 1664.8h283v3h-283zM599.9 1664.8h72.1v3h-72.1zM686 1664.8h13.6v3h-13.6zM709 1664.8h6.8v3h-6.8zM721 1664.8h10v3h-10zM653 1667.6h33v3h-33zM721 1667.6h10v3h-10zM721 1673.2h10v3h-10zM721 1676h8.4v3h-8.4zM599.9 1678.8h53.1v3h-53.1zM709 1681.6h6.8v3h-6.8zM721 1681.6h10v3h-10zM653 1684.4h19v3h-19zM699.6 1684.4h9.4v3h-9.4zM729.4 1684.4h1.6v3h-1.6zM70.8 1687.2h529.1v3h-529.1zM709 1687.2h6.8v3h-6.8zM721 1687.2h5.9v3h-5.9zM70.8 1715.1h283v3h-283zM672 1723.5h14v3h-14zM721 1723.5h5.9v3h-5.9zM729.4 1723.5h1.6v3h-1.6zM686 1726.3h13.6v3h-13.6zM709 1726.3h6.8v3h-6.8zM729.4 1729.1h1.6v3h-1.6zM70.8 1737.5h582.2v3h-582.2zM672 1737.5h27.6v3h-27.6zM709 1737.5h12v3h-12zM726.9 1737.5h4.1v3h-4.1zM70.8 1740.3h529.1v3h-529.1zM672 1740.3h37v3h-37zM729.4 1740.3h1.6v3h-1.6zM70.8 1743.1h283v3h-283zM599.9 1743.1h72.1v3h-72.1zM699.6 1743.1h21.4v3h-21.4zM726.9 1743.1h4.1v3h-4.1zM70.8 1757.1h529.1v3h-529.1zM653 1757.1h46.6v3h-46.6zM709 1757.1h12v3h-12zM726.9 1757.1h4.1v3h-4.1zM70.8 1759.9h650.2v3h-650.2zM726.9 1759.9h4.1v3h-4.1zM70.8 1762.7h650.2v3h-650.2zM726.9 1762.7h4.1v3h-4.1zM353.8 1765.4h367.2v3h-367.2zM726.9 1765.4h4.1v3h-4.1zM353.8 1768.2h332.2v3h-332.2zM699.6 1768.2h9.4v3h-9.4zM715.8 1768.2h5.2v3h-5.2zM726.9 1768.2h4.1v3h-4.1zM353.8 1771h367.2v3h-367.2zM726.9 1771h4.1v3h-4.1zM353.8 1773.8h367.2v3h-367.2zM726.9 1773.8h4.1v3h-4.1zM70.8 1782.2h650.2v3h-650.2zM726.9 1782.2h4.1v3h-4.1zM70.8 1799h615.2v3h-615.2zM699.6 1799h21.4v3h-21.4zM726.9 1799h4.1v3h-4.1zM70.8 1801.8h628.8v3h-628.8zM709 1801.8h12v3h-12zM726.9 1801.8h4.1v3h-4.1zM70.8 1804.6h650.2v3h-650.2zM726.9 1804.6h4.1v3h-4.1zM353.8 1807.4h367.2v3h-367.2zM726.9 1807.4h4.1v3h-4.1zM70.8 1810.2h650.2v3h-650.2zM726.9 1810.2h4.1v3h-4.1zM353.8 1818.5h355.2v3h-355.2zM715.8 1818.5h5.2v3h-5.2zM726.9 1818.5h4.1v3h-4.1zM70.8 1821.3h283v3h-283zM599.9 1821.3h53.1v3h-53.1zM672 1821.3h54.9v3h-54.9zM729.4 1821.3h1.6v3h-1.6zM353.8 1824.1h355.2v3h-355.2zM721 1824.1h5.9v3h-5.9zM729.4 1824.1h1.6v3h-1.6zM70.8 1826.9h529.1v3h-529.1zM653 1826.9h73.9v3h-73.9zM729.4 1826.9h1.6v3h-1.6zM70.8 1829.7h656.1v3h-656.1zM729.4 1829.7h1.6v3h-1.6zM70.8 1832.5h656.1v3h-656.1zM729.4 1832.5h1.6v3h-1.6zM70.8 1835.3h656.1v3h-656.1zM729.4 1835.3h1.6v3h-1.6zM70.8 1838.1h283v3h-283zM599.9 1838.1h127v3h-127zM729.4 1838.1h1.6v3h-1.6zM70.8 1840.9h656.1v3h-656.1zM729.4 1840.9h1.6v3h-1.6zM70.8 1843.7h656.1v3h-656.1zM729.4 1843.7h1.6v3h-1.6zM70.8 1846.5h656.1v3h-656.1zM729.4 1846.5h1.6v3h-1.6zM70.8 1849.3h656.1v3h-656.1zM729.4 1849.3h1.6v3h-1.6zM70.8 1852.1h656.1v3h-656.1zM729.4 1852.1h1.6v3h-1.6zM70.8 1854.9h656.1v3h-656.1zM729.4 1854.9h1.6v3h-1.6zM70.8 1857.7h656.1v3h-656.1zM729.4 1857.7h1.6v3h-1.6zM70.8 1860.5h656.1v3h-656.1zM729.4 1860.5h1.6v3h-1.6zM70.8 1863.2h656.1v3h-656.1zM729.4 1863.2h1.6v3h-1.6zM70.8 1866h656.1v3h-656.1zM729.4 1866h1.6v3h-1.6zM70.8 1868.8h615.2v3h-615.2zM699.6 1868.8h27.3v3h-27.3zM729.4 1868.8h1.6v3h-1.6zM70.8 1871.6h656.1v3h-656.1zM729.4 1871.6h1.6v3h-1.6zM70.8 1874.4h656.1v3h-656.1zM729.4 1874.4h1.6v3h-1.6zM70.8 1877.2h656.1v3h-656.1zM729.4 1877.2h1.6v3h-1.6zM70.8 1880h656.1v3h-656.1zM729.4 1880h1.6v3h-1.6zM70.8 1882.8h529.1v3h-529.1zM653 1882.8h73.9v3h-73.9zM729.4 1882.8h1.6v3h-1.6zM70.8 1885.6h582.2v3h-582.2zM672 1885.6h54.9v3h-54.9zM729.4 1885.6h1.6v3h-1.6zM70.8 1894h656.1v3h-656.1zM729.4 1894h1.6v3h-1.6zM70.8 1896.8h656.1v3h-656.1zM729.4 1896.8h1.6v3h-1.6zM70.8 1899.6h656.1v3h-656.1zM729.4 1899.6h1.6v3h-1.6zM70.8 1902.4h656.1v3h-656.1zM729.4 1902.4h1.6v3h-1.6zM70.8 1905.2h658.6v3h-658.6zM70.8 1908h658.6v3h-658.6zM70.8 1910.8h658.6v3h-658.6zM70.8 1916.3h656.1v3h-656.1zM70.8 1919.1h650.2v3h-650.2zM726.9 1919.1h2.5v3h-2.5zM70.8 1921.9h283v3h-283zM599.9 1921.9h129.5v3h-129.5zM70.8 1933.1h658.6v3h-658.6zM70.8 1935.9h529.1v3h-529.1zM653 1935.9h76.4v3h-76.4zM353.8 1938.7h375.6v3h-375.6zM70.8 1941.5h658.6v3h-658.6zM70.8 1944.3h645v3h-645zM721 1944.3h8.4v3h-8.4zM70.8 1947.1h658.6v3h-658.6zM353.8 1949.9h375.6v3h-375.6zM70.8 1952.7h582.2v3h-582.2zM672 1952.7h14v3h-14zM699.6 1952.7h29.8v3h-29.8zM70.8 1955.5h658.6v3h-658.6zM70.8 1958.3h658.6v3h-658.6zM70.8 1961.1h658.6v3h-658.6zM70.8 1963.8h658.6v3h-658.6zM70.8 1966.6h656.1v3h-656.1zM70.8 1969.4h582.2v3h-582.2zM672 1969.4h57.4v3h-57.4zM70.8 1972.2h658.6v3h-658.6zM70.8 1975h601.2v3h-601.2zM686 1975h43.4v3h-43.4zM70.8 1977.8h658.6v3h-658.6zM70.8 1980.6h529.1v3h-529.1zM653 1980.6h76.4v3h-76.4zM70.8 1983.4h658.6v3h-658.6zM70.8 1986.2h658.6v3h-658.6z" fill="#f9f9fc"/><path d="M715.8 1072.4h5.2v3h-5.2zM715.8 1075.2h5.2v3h-5.2zM672 1086.4h14v3h-14zM672 1136.7h14v3h-14zM686 1150.7h13.6v3h-13.6zM70.8 1153.5h283v3h-283zM672 1153.5h27.6v3h-27.6zM709 1153.5h12v3h-12zM726.9 1153.5h2.5v3h-2.5zM70.8 1156.3h283v3h-283zM729.4 1156.3h1.6v3h-1.6zM653 1159.1h19v3h-19zM721 1159.1h5.9v3h-5.9zM70.8 1161.8h283v3h-283zM653 1161.8h19v3h-19zM726.9 1161.8h2.5v3h-2.5zM653 1164.6h19v3h-19zM672 1167.4h14v3h-14zM721 1167.4h5.9v3h-5.9zM729.4 1167.4h1.6v3h-1.6zM653 1170.2h19v3h-19zM353.8 1173h246.1v3h-246.1zM699.6 1173h16.2v3h-16.2zM721 1173h5.9v3h-5.9zM729.4 1173h1.6v3h-1.6zM70.8 1175.8h283v3h-283zM653 1175.8h19v3h-19zM709 1175.8h6.8v3h-6.8zM721 1175.8h8.4v3h-8.4zM70.8 1178.6h529.1v3h-529.1zM709 1178.6h6.8v3h-6.8zM726.9 1178.6h4.1v3h-4.1zM653 1181.4h19v3h-19zM721 1181.4h8.4v3h-8.4zM721 1184.2h5.9v3h-5.9zM709 1189.8h6.8v3h-6.8zM729.4 1189.8h1.6v3h-1.6zM70.8 1198.2h529.1v3h-529.1zM653 1198.2h19v3h-19zM721 1198.2h5.9v3h-5.9zM699.6 1206.6h9.4v3h-9.4zM70.8 1214.9h283v3h-283zM729.4 1214.9h1.6v3h-1.6zM653 1217.7h46.6v3h-46.6zM653 1220.5h19v3h-19zM699.6 1220.5h16.2v3h-16.2zM672 1223.3h14v3h-14zM709 1223.3h6.8v3h-6.8zM653 1226.1h33v3h-33zM709 1226.1h6.8v3h-6.8zM726.9 1226.1h2.5v3h-2.5zM70.8 1228.9h283v3h-283zM729.4 1228.9h1.6v3h-1.6zM653 1231.7h19v3h-19zM699.6 1231.7h16.2v3h-16.2zM353.8 1234.5h246.1v3h-246.1zM709 1234.5h12v3h-12zM726.9 1234.5h2.5v3h-2.5zM686 1237.3h13.6v3h-13.6zM70.8 1240.1h283v3h-283zM686 1242.9h13.6v3h-13.6zM686 1245.7h13.6v3h-13.6zM699.6 1251.3h9.4v3h-9.4zM721 1251.3h5.9v3h-5.9zM699.6 1254.1h9.4v3h-9.4zM353.8 1256.9h246.1v3h-246.1zM709 1256.9h6.8v3h-6.8zM599.9 1265.2h53.1v3h-53.1zM686 1265.2h13.6v3h-13.6zM715.8 1273.6h5.2v3h-5.2zM726.9 1276.4h2.5v3h-2.5zM353.8 1279.2h246.1v3h-246.1zM721 1279.2h8.4v3h-8.4zM70.8 1284.8h283v3h-283zM70.8 1287.6h283v3h-283zM686 1287.6h13.6v3h-13.6zM686 1290.4h13.6v3h-13.6zM699.6 1296h9.4v3h-9.4zM715.8 1304.4h5.2v3h-5.2zM729.4 1304.4h1.6v3h-1.6zM709 1307.2h6.8v3h-6.8zM726.9 1307.2h4.1v3h-4.1zM353.8 1312.7h246.1v3h-246.1zM721 1332.3h5.9v3h-5.9zM353.8 1335.1h246.1v3h-246.1zM599.9 1337.9h72.1v3h-72.1zM715.8 1337.9h5.2v3h-5.2zM726.9 1337.9h2.5v3h-2.5zM699.6 1340.7h9.4v3h-9.4zM686 1346.3h13.6v3h-13.6zM70.8 1349.1h283v3h-283zM699.6 1349.1h9.4v3h-9.4zM699.6 1351.9h9.4v3h-9.4zM721 1351.9h5.9v3h-5.9zM353.8 1354.7h246.1v3h-246.1zM729.4 1354.7h1.6v3h-1.6zM686 1357.5h23v3h-23zM599.9 1360.2h53.1v3h-53.1zM699.6 1360.2h9.4v3h-9.4zM699.6 1363h9.4v3h-9.4zM353.8 1365.8h246.1v3h-246.1zM699.6 1365.8h9.4v3h-9.4zM353.8 1368.6h246.1v3h-246.1zM686 1368.6h23v3h-23zM353.8 1371.4h246.1v3h-246.1zM699.6 1371.4h9.4v3h-9.4zM599.9 1377h72.1v3h-72.1zM721 1377h5.9v3h-5.9zM699.6 1382.6h9.4v3h-9.4zM699.6 1393.8h9.4v3h-9.4zM715.8 1393.8h5.2v3h-5.2zM353.8 1402.2h246.1v3h-246.1zM353.8 1407.8h246.1v3h-246.1zM70.8 1410.5h283v3h-283zM653 1410.5h19v3h-19zM353.8 1418.9h246.1v3h-246.1zM599.9 1424.5h53.1v3h-53.1zM709 1427.3h6.8v3h-6.8zM729.4 1427.3h1.6v3h-1.6zM672 1430.1h14v3h-14zM709 1430.1h17.9v3h-17.9zM729.4 1430.1h1.6v3h-1.6zM353.8 1432.9h299.2v3h-299.2zM699.6 1432.9h9.4v3h-9.4zM353.8 1435.7h246.1v3h-246.1zM699.6 1435.7h9.4v3h-9.4zM353.8 1438.5h246.1v3h-246.1zM353.8 1441.3h246.1v3h-246.1zM353.8 1444.1h246.1v3h-246.1zM353.8 1446.9h246.1v3h-246.1zM653 1446.9h19v3h-19zM699.6 1446.9h9.4v3h-9.4zM715.8 1446.9h5.2v3h-5.2zM599.9 1449.7h72.1v3h-72.1zM709 1449.7h6.8v3h-6.8zM726.9 1449.7h2.5v3h-2.5zM353.8 1452.5h246.1v3h-246.1zM353.8 1455.3h246.1v3h-246.1zM70.8 1463.6h283v3h-283zM726.9 1463.6h4.1v3h-4.1zM70.8 1466.4h283v3h-283zM715.8 1466.4h15.2v3h-15.2zM70.8 1469.2h283v3h-283zM653 1469.2h19v3h-19zM709 1469.2h12v3h-12zM726.9 1469.2h4.1v3h-4.1zM353.8 1472h246.1v3h-246.1zM699.6 1472h9.4v3h-9.4zM353.8 1474.8h246.1v3h-246.1zM699.6 1474.8h9.4v3h-9.4zM353.8 1477.6h246.1v3h-246.1zM709 1486h6.8v3h-6.8zM353.8 1494.4h299.2v3h-299.2zM709 1494.4h6.8v3h-6.8zM353.8 1497.2h246.1v3h-246.1zM653 1497.2h33v3h-33zM721 1497.2h5.9v3h-5.9zM729.4 1497.2h1.6v3h-1.6zM721 1500h5.9v3h-5.9zM729.4 1500h1.6v3h-1.6zM715.8 1502.8h11.1v3h-11.1zM729.4 1502.8h1.6v3h-1.6zM353.8 1505.6h246.1v3h-246.1zM726.9 1505.6h2.5v3h-2.5zM599.9 1508.4h53.1v3h-53.1zM70.8 1513.9h283v3h-283zM653 1516.7h19v3h-19zM686 1516.7h13.6v3h-13.6zM726.9 1516.7h2.5v3h-2.5zM353.8 1519.5h318.2v3h-318.2zM686 1519.5h13.6v3h-13.6zM709 1519.5h12v3h-12zM726.9 1519.5h4.1v3h-4.1zM353.8 1522.3h246.1v3h-246.1zM709 1522.3h6.8v3h-6.8zM353.8 1525.1h318.2v3h-318.2zM653 1527.9h19v3h-19zM686 1527.9h13.6v3h-13.6zM353.8 1544.7h246.1v3h-246.1zM653 1544.7h19v3h-19zM353.8 1547.5h246.1v3h-246.1zM709 1547.5h12v3h-12zM353.8 1550.3h246.1v3h-246.1zM653 1550.3h33v3h-33zM729.4 1550.3h1.6v3h-1.6zM353.8 1553.1h246.1v3h-246.1zM686 1553.1h13.6v3h-13.6zM709 1553.1h6.8v3h-6.8zM726.9 1553.1h2.5v3h-2.5zM353.8 1555.9h318.2v3h-318.2zM709 1555.9h6.8v3h-6.8zM353.8 1558.7h246.1v3h-246.1zM672 1564.2h14v3h-14zM599.9 1567h53.1v3h-53.1zM672 1567h14v3h-14zM715.8 1567h5.2v3h-5.2zM726.9 1567h2.5v3h-2.5zM599.9 1575.4h53.1v3h-53.1zM672 1575.4h27.6v3h-27.6zM726.9 1575.4h2.5v3h-2.5zM672 1578.2h14v3h-14zM715.8 1578.2h5.2v3h-5.2zM686 1581h13.6v3h-13.6zM599.9 1583.8h72.1v3h-72.1zM715.8 1583.8h5.2v3h-5.2zM726.9 1583.8h2.5v3h-2.5zM699.6 1586.6h9.4v3h-9.4zM353.8 1589.4h246.1v3h-246.1zM353.8 1592.2h246.1v3h-246.1zM672 1592.2h14v3h-14zM726.9 1592.2h2.5v3h-2.5zM653 1597.8h19v3h-19zM699.6 1597.8h9.4v3h-9.4zM686 1611.8h13.6v3h-13.6zM715.8 1611.8h5.2v3h-5.2zM672 1620.1h14v3h-14zM699.6 1620.1h9.4v3h-9.4zM721 1620.1h5.9v3h-5.9zM729.4 1620.1h1.6v3h-1.6zM599.9 1622.9h72.1v3h-72.1zM729.4 1622.9h1.6v3h-1.6zM599.9 1625.7h53.1v3h-53.1zM699.6 1625.7h9.4v3h-9.4zM721 1625.7h5.9v3h-5.9zM729.4 1625.7h1.6v3h-1.6zM599.9 1628.5h86.1v3h-86.1zM726.9 1628.5h2.5v3h-2.5zM653 1631.3h19v3h-19zM699.6 1631.3h9.4v3h-9.4zM715.8 1631.3h5.2v3h-5.2zM729.4 1631.3h1.6v3h-1.6zM353.8 1634.1h299.2v3h-299.2zM686 1634.1h13.6v3h-13.6zM353.8 1636.9h246.1v3h-246.1zM653 1636.9h19v3h-19zM686 1636.9h13.6v3h-13.6zM353.8 1639.7h246.1v3h-246.1zM653 1639.7h33v3h-33zM729.4 1639.7h1.6v3h-1.6zM715.8 1642.5h5.2v3h-5.2zM715.8 1645.3h5.2v3h-5.2zM70.8 1650.9h283v3h-283zM726.9 1650.9h2.5v3h-2.5zM353.8 1653.7h355.2v3h-355.2zM721 1653.7h5.9v3h-5.9zM653 1656.5h62.8v3h-62.8zM721 1656.5h5.9v3h-5.9zM653 1662h19v3h-19zM686 1662h13.6v3h-13.6zM353.8 1664.8h246.1v3h-246.1zM672 1664.8h14v3h-14zM699.6 1664.8h9.4v3h-9.4zM353.8 1667.6h246.1v3h-246.1zM686 1667.6h29.8v3h-29.8zM353.8 1673.2h299.2v3h-299.2zM699.6 1673.2h16.2v3h-16.2zM353.8 1676h246.1v3h-246.1zM653 1676h19v3h-19zM709 1676h6.8v3h-6.8zM729.4 1676h1.6v3h-1.6zM353.8 1678.8h246.1v3h-246.1zM686 1678.8h23v3h-23zM721 1678.8h8.4v3h-8.4zM353.8 1681.6h246.1v3h-246.1zM672 1681.6h14v3h-14zM599.9 1684.4h53.1v3h-53.1zM709 1684.4h6.8v3h-6.8zM721 1684.4h8.4v3h-8.4zM599.9 1687.2h72.1v3h-72.1zM686 1687.2h13.6v3h-13.6zM729.4 1687.2h1.6v3h-1.6zM70.8 1698.4h283v3h-283zM729.4 1715.1h1.6v3h-1.6zM70.8 1717.9h283v3h-283zM721 1717.9h5.9v3h-5.9zM70.8 1720.7h283v3h-283zM353.8 1723.5h318.2v3h-318.2zM686 1723.5h13.6v3h-13.6zM726.9 1723.5h2.5v3h-2.5zM599.9 1726.3h53.1v3h-53.1zM672 1726.3h14v3h-14zM653 1729.1h19v3h-19zM686 1729.1h23v3h-23zM721 1729.1h5.9v3h-5.9zM653 1737.5h19v3h-19zM699.6 1737.5h9.4v3h-9.4zM599.9 1740.3h72.1v3h-72.1zM709 1740.3h12v3h-12zM353.8 1743.1h246.1v3h-246.1zM672 1743.1h27.6v3h-27.6zM70.8 1751.5h283v3h-283zM599.9 1757.1h53.1v3h-53.1zM699.6 1757.1h9.4v3h-9.4zM686 1768.2h13.6v3h-13.6zM709 1768.2h6.8v3h-6.8zM686 1799h13.6v3h-13.6zM699.6 1801.8h9.4v3h-9.4zM709 1818.5h6.8v3h-6.8zM353.8 1821.3h246.1v3h-246.1zM599.9 1826.9h53.1v3h-53.1zM353.8 1838.1h246.1v3h-246.1zM686 1868.8h13.6v3h-13.6zM599.9 1882.8h53.1v3h-53.1zM653 1885.6h19v3h-19zM70.8 1888.4h656.1v3h-656.1zM729.4 1888.4h1.6v3h-1.6zM70.8 1891.2h615.2v3h-615.2zM699.6 1891.2h27.3v3h-27.3zM729.4 1891.2h1.6v3h-1.6zM353.8 1913.5h332.2v3h-332.2zM699.6 1913.5h9.4v3h-9.4zM715.8 1913.5h11.1v3h-11.1zM353.8 1921.9h246.1v3h-246.1zM70.8 1924.7h658.6v3h-658.6zM70.8 1927.5h529.1v3h-529.1zM653 1927.5h76.4v3h-76.4zM70.8 1930.3h283v3h-283zM599.9 1930.3h129.5v3h-129.5zM599.9 1935.9h53.1v3h-53.1zM653 1952.7h19v3h-19zM686 1952.7h13.6v3h-13.6zM726.9 1966.6h2.5v3h-2.5zM653 1969.4h19v3h-19zM599.9 1980.6h53.1v3h-53.1z" fill="#f6ecea"/><path d="M672 1066.8h14v3h-14zM715.8 1069.6h5.2v3h-5.2zM672 1083.6h14v3h-14zM672 1089.2h14v3h-14zM672 1092h14v3h-14zM672 1094.8h14v3h-14zM672 1100.4h14v3h-14zM672 1103.2h14v3h-14zM672 1106h14v3h-14zM672 1111.5h14v3h-14zM672 1119.9h14v3h-14zM672 1122.7h14v3h-14zM672 1128.3h14v3h-14zM672 1133.9h14v3h-14zM715.8 1139.5h5.2v3h-5.2zM70.8 1150.7h529.1v3h-529.1zM672 1150.7h14v3h-14zM699.6 1150.7h16.2v3h-16.2zM726.9 1150.7h4.1v3h-4.1zM353.8 1153.5h246.1v3h-246.1zM729.4 1153.5h1.6v3h-1.6zM721 1156.3h5.9v3h-5.9zM721 1161.8h5.9v3h-5.9zM653 1178.6h19v3h-19zM709 1203.8h6.8v3h-6.8zM653 1228.9h19v3h-19zM70.8 1234.5h283v3h-283zM599.9 1234.5h53.1v3h-53.1zM721 1234.5h5.9v3h-5.9zM686 1240.1h13.6v3h-13.6zM686 1248.5h13.6v3h-13.6zM686 1254.1h13.6v3h-13.6zM721 1254.1h5.9v3h-5.9zM70.8 1256.9h283v3h-283zM721 1256.9h5.9v3h-5.9zM729.4 1256.9h1.6v3h-1.6zM686 1262.4h13.6v3h-13.6zM70.8 1273.6h283v3h-283zM599.9 1273.6h53.1v3h-53.1zM70.8 1276.4h283v3h-283zM599.9 1276.4h53.1v3h-53.1zM70.8 1279.2h283v3h-283zM599.9 1279.2h53.1v3h-53.1zM686 1282h13.6v3h-13.6zM699.6 1284.8h9.4v3h-9.4zM699.6 1298.8h9.4v3h-9.4zM726.9 1304.4h2.5v3h-2.5zM715.8 1307.2h5.2v3h-5.2zM699.6 1310h9.4v3h-9.4zM599.9 1312.7h53.1v3h-53.1zM686 1315.5h13.6v3h-13.6zM699.6 1329.5h9.4v3h-9.4zM686 1337.9h13.6v3h-13.6zM699.6 1343.5h9.4v3h-9.4zM699.6 1346.3h9.4v3h-9.4zM686 1371.4h13.6v3h-13.6zM699.6 1374.2h9.4v3h-9.4zM353.8 1377h246.1v3h-246.1zM699.6 1402.2h9.4v3h-9.4zM699.6 1405h9.4v3h-9.4zM699.6 1407.8h9.4v3h-9.4zM353.8 1416.1h246.1v3h-246.1zM699.6 1416.1h9.4v3h-9.4zM699.6 1418.9h9.4v3h-9.4zM699.6 1421.7h9.4v3h-9.4zM353.8 1424.5h246.1v3h-246.1zM699.6 1424.5h9.4v3h-9.4zM715.8 1427.3h13.6v3h-13.6zM599.9 1430.1h53.1v3h-53.1zM726.9 1430.1h2.5v3h-2.5zM699.6 1444.1h9.4v3h-9.4zM699.6 1452.5h9.4v3h-9.4zM353.8 1458.1h246.1v3h-246.1zM699.6 1458.1h9.4v3h-9.4zM599.9 1463.6h72.1v3h-72.1zM715.8 1463.6h11.1v3h-11.1zM653 1466.4h33v3h-33zM672 1469.2h14v3h-14zM653 1486h19v3h-19zM721 1491.6h5.9v3h-5.9zM599.9 1502.8h53.1v3h-53.1zM709 1508.4h6.8v3h-6.8zM70.8 1511.2h283v3h-283zM599.9 1522.3h72.1v3h-72.1zM709 1525.1h6.8v3h-6.8zM729.4 1525.1h1.6v3h-1.6zM599.9 1550.3h53.1v3h-53.1zM653 1553.1h19v3h-19zM686 1561.5h13.6v3h-13.6zM599.9 1564.2h53.1v3h-53.1zM709 1564.2h6.8v3h-6.8zM709 1567h6.8v3h-6.8zM699.6 1575.4h9.4v3h-9.4zM686 1578.2h23v3h-23zM672 1583.8h14v3h-14zM699.6 1583.8h9.4v3h-9.4zM353.8 1586.6h246.1v3h-246.1zM672 1586.6h14v3h-14zM672 1589.4h14v3h-14zM699.6 1589.4h9.4v3h-9.4zM729.4 1597.8h1.6v3h-1.6zM70.8 1600.6h529.1v3h-529.1zM715.8 1600.6h5.2v3h-5.2zM726.9 1600.6h2.5v3h-2.5zM653 1620.1h19v3h-19zM653 1625.7h33v3h-33zM686 1631.3h13.6v3h-13.6zM653 1634.1h19v3h-19zM672 1636.9h14v3h-14zM699.6 1639.7h9.4v3h-9.4zM726.9 1639.7h2.5v3h-2.5zM672 1642.5h14v3h-14zM699.6 1642.5h9.4v3h-9.4zM699.6 1645.3h9.4v3h-9.4zM726.9 1648.1h2.5v3h-2.5zM599.9 1650.9h53.1v3h-53.1zM721 1650.9h5.9v3h-5.9zM729.4 1650.9h1.6v3h-1.6zM709 1653.7h6.8v3h-6.8zM353.8 1656.5h246.1v3h-246.1zM653 1673.2h46.6v3h-46.6zM599.9 1676h53.1v3h-53.1zM672 1676h37v3h-37zM653 1678.8h33v3h-33zM709 1678.8h6.8v3h-6.8zM653 1681.6h19v3h-19zM686 1681.6h23v3h-23zM353.8 1684.4h246.1v3h-246.1zM672 1684.4h27.6v3h-27.6zM672 1687.2h14v3h-14zM726.9 1687.2h2.5v3h-2.5zM70.8 1701.2h283v3h-283zM726.9 1701.2h2.5v3h-2.5zM70.8 1704h283v3h-283zM599.9 1715.1h109.1v3h-109.1zM721 1715.1h8.4v3h-8.4zM599.9 1717.9h53.1v3h-53.1zM672 1717.9h14v3h-14zM726.9 1720.7h2.5v3h-2.5zM699.6 1723.5h16.2v3h-16.2zM353.8 1726.3h246.1v3h-246.1zM653 1726.3h19v3h-19zM699.6 1726.3h9.4v3h-9.4zM353.8 1729.1h246.1v3h-246.1zM672 1729.1h14v3h-14zM709 1729.1h6.8v3h-6.8zM70.8 1745.9h283v3h-283zM70.8 1748.7h283v3h-283zM353.8 1751.5h246.1v3h-246.1zM653 1751.5h46.6v3h-46.6zM709 1751.5h12v3h-12zM726.9 1751.5h4.1v3h-4.1zM70.8 1754.3h645v3h-645zM726.9 1754.3h4.1v3h-4.1zM70.8 1785h283v3h-283zM653 1785h62.8v3h-62.8zM726.9 1785h4.1v3h-4.1zM70.8 1813h582.2v3h-582.2zM672 1813h27.6v3h-27.6zM709 1813h12v3h-12zM729.4 1813h1.6v3h-1.6zM70.8 1815.7h283v3h-283zM726.9 1815.7h4.1v3h-4.1zM686 1891.2h13.6v3h-13.6zM70.8 1913.5h283v3h-283zM686 1913.5h13.6v3h-13.6zM709 1913.5h6.8v3h-6.8zM726.9 1913.5h2.5v3h-2.5zM599.9 1927.5h53.1v3h-53.1zM353.8 1930.3h246.1v3h-246.1z" fill="#f4ded7"/><path d="M699.6 1033.3h9.4v3h-9.4zM699.6 1044.5h9.4v3h-9.4zM699.6 1050.1h9.4v3h-9.4zM686 1069.6h13.6v3h-13.6zM672 1078h14v3h-14zM672 1080.8h14v3h-14zM672 1097.6h14v3h-14zM672 1108.8h14v3h-14zM672 1114.3h14v3h-14zM672 1117.1h14v3h-14zM672 1125.5h14v3h-14zM686 1136.7h13.6v3h-13.6zM686 1139.5h13.6v3h-13.6zM672 1142.3h14v3h-14zM672 1145.1h14v3h-14zM672 1147.9h14v3h-14zM653 1150.7h19v3h-19zM721 1150.7h5.9v3h-5.9zM653 1153.5h19v3h-19zM699.6 1153.5h9.4v3h-9.4zM721 1153.5h5.9v3h-5.9zM686 1259.7h13.6v3h-13.6zM686 1273.6h13.6v3h-13.6zM599.9 1304.4h53.1v3h-53.1zM70.8 1307.2h283v3h-283zM599.9 1307.2h53.1v3h-53.1zM70.8 1312.7h283v3h-283zM686 1312.7h13.6v3h-13.6zM699.6 1323.9h9.4v3h-9.4zM699.6 1326.7h9.4v3h-9.4zM353.8 1337.9h246.1v3h-246.1zM686 1377h23v3h-23zM699.6 1379.8h9.4v3h-9.4zM353.8 1410.5h299.2v3h-299.2zM699.6 1413.3h9.4v3h-9.4zM70.8 1427.3h283v3h-283zM599.9 1427.3h86.1v3h-86.1zM70.8 1430.1h283v3h-283zM699.6 1441.3h9.4v3h-9.4zM699.6 1455.3h9.4v3h-9.4zM672 1463.6h14v3h-14zM353.8 1466.4h299.2v3h-299.2zM599.9 1469.2h53.1v3h-53.1zM699.6 1477.6h9.4v3h-9.4zM699.6 1480.4h9.4v3h-9.4zM699.6 1483.2h9.4v3h-9.4zM70.8 1491.6h529.1v3h-529.1zM715.8 1491.6h5.2v3h-5.2zM653 1494.4h19v3h-19zM709 1497.2h6.8v3h-6.8zM653 1500h19v3h-19zM709 1500h6.8v3h-6.8zM653 1502.8h19v3h-19zM709 1502.8h6.8v3h-6.8zM653 1505.6h19v3h-19zM709 1505.6h6.8v3h-6.8zM653 1508.4h19v3h-19zM721 1511.2h10v3h-10zM353.8 1513.9h246.1v3h-246.1zM672 1513.9h14v3h-14zM715.8 1513.9h11.1v3h-11.1zM729.4 1513.9h1.6v3h-1.6zM653 1547.5h19v3h-19zM709 1550.3h6.8v3h-6.8zM653 1558.7h19v3h-19zM709 1558.7h6.8v3h-6.8zM653 1564.2h19v3h-19zM653 1567h19v3h-19zM686 1583.8h13.6v3h-13.6zM686 1586.6h13.6v3h-13.6zM653 1589.4h19v3h-19zM653 1600.6h19v3h-19zM721 1600.6h5.9v3h-5.9zM729.4 1600.6h1.6v3h-1.6zM672 1622.9h37v3h-37zM686 1625.7h13.6v3h-13.6zM699.6 1628.5h9.4v3h-9.4zM686 1639.7h13.6v3h-13.6zM653 1642.5h19v3h-19zM686 1642.5h13.6v3h-13.6zM686 1645.3h13.6v3h-13.6zM70.8 1648.1h582.2v3h-582.2zM715.8 1648.1h11.1v3h-11.1zM353.8 1650.9h246.1v3h-246.1zM672 1650.9h14v3h-14zM699.6 1650.9h9.4v3h-9.4zM715.8 1650.9h5.2v3h-5.2zM599.9 1698.4h53.1v3h-53.1zM686 1698.4h13.6v3h-13.6zM721 1698.4h10v3h-10zM721 1701.2h5.9v3h-5.9zM729.4 1701.2h1.6v3h-1.6zM721 1704h5.9v3h-5.9zM709 1715.1h6.8v3h-6.8zM353.8 1717.9h246.1v3h-246.1zM653 1717.9h19v3h-19zM686 1717.9h13.6v3h-13.6zM709 1717.9h6.8v3h-6.8zM726.9 1717.9h4.1v3h-4.1zM599.9 1720.7h53.1v3h-53.1zM672 1720.7h14v3h-14zM699.6 1720.7h16.2v3h-16.2zM721 1720.7h5.9v3h-5.9zM729.4 1720.7h1.6v3h-1.6zM353.8 1745.9h332.2v3h-332.2zM699.6 1745.9h21.4v3h-21.4zM726.9 1745.9h4.1v3h-4.1zM353.8 1748.7h246.1v3h-246.1zM653 1748.7h68v3h-68zM726.9 1748.7h4.1v3h-4.1zM599.9 1751.5h53.1v3h-53.1zM699.6 1751.5h9.4v3h-9.4zM715.8 1754.3h5.2v3h-5.2zM353.8 1785h299.2v3h-299.2zM715.8 1785h5.2v3h-5.2zM653 1813h19v3h-19zM699.6 1813h9.4v3h-9.4zM726.9 1813h2.5v3h-2.5zM353.8 1815.7h367.2v3h-367.2z" fill="#f1d1c4"/><path d="M699.6 985.8h9.4v3h-9.4zM699.6 991.4h9.4v3h-9.4zM699.6 1036.1h9.4v3h-9.4zM699.6 1041.7h9.4v3h-9.4zM699.6 1047.3h9.4v3h-9.4zM699.6 1058.5h9.4v3h-9.4zM699.6 1064h9.4v3h-9.4zM672 1131.1h14v3h-14zM686 1234.5h13.6v3h-13.6zM699.6 1242.9h9.4v3h-9.4zM699.6 1245.7h9.4v3h-9.4zM599.9 1256.9h53.1v3h-53.1zM686 1276.4h13.6v3h-13.6zM686 1279.2h13.6v3h-13.6zM70.8 1304.4h283v3h-283zM699.6 1337.9h9.4v3h-9.4zM699.6 1410.5h9.4v3h-9.4zM353.8 1427.3h246.1v3h-246.1zM653 1430.1h19v3h-19zM353.8 1469.2h246.1v3h-246.1zM599.9 1491.6h53.1v3h-53.1zM726.9 1491.6h4.1v3h-4.1zM672 1511.2h14v3h-14zM715.8 1511.2h5.2v3h-5.2zM599.9 1513.9h53.1v3h-53.1zM686 1522.3h13.6v3h-13.6zM709 1544.7h6.8v3h-6.8zM686 1550.3h13.6v3h-13.6zM686 1558.7h13.6v3h-13.6zM686 1567h13.6v3h-13.6zM686 1589.4h13.6v3h-13.6zM599.9 1600.6h53.1v3h-53.1zM672 1600.6h14v3h-14zM699.6 1600.6h9.4v3h-9.4zM686 1620.1h13.6v3h-13.6zM686 1628.5h13.6v3h-13.6zM672 1648.1h14v3h-14zM699.6 1648.1h9.4v3h-9.4zM729.4 1648.1h1.6v3h-1.6zM653 1650.9h19v3h-19zM353.8 1698.4h246.1v3h-246.1zM699.6 1698.4h9.4v3h-9.4zM599.9 1701.2h72.1v3h-72.1zM699.6 1701.2h16.2v3h-16.2zM353.8 1704h299.2v3h-299.2zM726.9 1704h4.1v3h-4.1zM353.8 1715.1h246.1v3h-246.1zM699.6 1717.9h9.4v3h-9.4zM653 1720.7h19v3h-19zM686 1720.7h13.6v3h-13.6zM686 1745.9h13.6v3h-13.6zM599.9 1748.7h53.1v3h-53.1z" fill="#eec4b2"/><path d="M699.6 988.6h9.4v3h-9.4zM699.6 1016.5h9.4v3h-9.4zM699.6 1038.9h9.4v3h-9.4zM699.6 1061.2h9.4v3h-9.4zM686 1072.4h13.6v3h-13.6zM686 1075.2h13.6v3h-13.6zM715.8 1083.6h5.2v3h-5.2zM715.8 1089.2h5.2v3h-5.2zM715.8 1128.3h5.2v3h-5.2zM699.6 1237.3h9.4v3h-9.4zM699.6 1240.1h9.4v3h-9.4zM686 1256.9h13.6v3h-13.6zM699.6 1259.7h9.4v3h-9.4zM699.6 1262.4h9.4v3h-9.4zM686 1307.2h13.6v3h-13.6zM699.6 1315.5h9.4v3h-9.4zM353.8 1430.1h246.1v3h-246.1zM699.6 1430.1h9.4v3h-9.4zM353.8 1463.6h246.1v3h-246.1zM699.6 1469.2h9.4v3h-9.4zM672 1491.6h14v3h-14zM709 1491.6h6.8v3h-6.8zM686 1494.4h13.6v3h-13.6zM686 1497.2h13.6v3h-13.6zM686 1500h13.6v3h-13.6zM686 1502.8h13.6v3h-13.6zM686 1505.6h13.6v3h-13.6zM686 1508.4h13.6v3h-13.6zM353.8 1511.2h299.2v3h-299.2zM709 1513.9h6.8v3h-6.8zM726.9 1513.9h2.5v3h-2.5zM686 1525.1h13.6v3h-13.6zM686 1547.5h13.6v3h-13.6zM686 1564.2h13.6v3h-13.6zM653 1648.1h19v3h-19zM686 1648.1h13.6v3h-13.6zM686 1650.9h13.6v3h-13.6zM653 1698.4h33v3h-33zM709 1698.4h6.8v3h-6.8zM353.8 1701.2h246.1v3h-246.1zM672 1701.2h27.6v3h-27.6zM653 1704h56v3h-56zM353.8 1720.7h246.1v3h-246.1zM729.4 1969.4h1.6v3h-1.6z" fill="#e8b29c"/><path d="M70.8 988.6h283v3h-283zM70.8 1030.5h283v3h-283zM70.8 1044.5h283v3h-283zM70.8 1047.3h283v3h-283zM70.8 1050.1h283v3h-283zM353.8 1066.8h246.1v3h-246.1zM353.8 1078h246.1v3h-246.1zM715.8 1086.4h5.2v3h-5.2zM353.8 1089.2h246.1v3h-246.1zM715.8 1094.8h5.2v3h-5.2zM353.8 1097.6h246.1v3h-246.1zM715.8 1097.6h5.2v3h-5.2zM715.8 1100.4h5.2v3h-5.2zM686 1106h13.6v3h-13.6zM715.8 1106h5.2v3h-5.2zM715.8 1108.8h5.2v3h-5.2zM686 1111.5h13.6v3h-13.6zM715.8 1111.5h5.2v3h-5.2zM353.8 1114.3h246.1v3h-246.1zM686 1117.1h13.6v3h-13.6zM715.8 1117.1h5.2v3h-5.2zM715.8 1119.9h5.2v3h-5.2zM715.8 1122.7h5.2v3h-5.2zM715.8 1142.3h5.2v3h-5.2zM715.8 1145.1h5.2v3h-5.2zM715.8 1147.9h5.2v3h-5.2zM599.9 1153.5h53.1v3h-53.1zM599.9 1164.6h53.1v3h-53.1zM599.9 1178.6h53.1v3h-53.1zM599.9 1228.9h53.1v3h-53.1zM599.9 1231.7h53.1v3h-53.1zM699.6 1248.5h9.4v3h-9.4zM699.6 1265.2h9.4v3h-9.4zM699.6 1276.4h9.4v3h-9.4zM699.6 1282h9.4v3h-9.4zM699.6 1287.6h9.4v3h-9.4zM699.6 1427.3h9.4v3h-9.4zM699.6 1466.4h9.4v3h-9.4zM686 1486h13.6v3h-13.6zM653 1491.6h19v3h-19zM653 1511.2h19v3h-19zM709 1511.2h6.8v3h-6.8zM653 1513.9h19v3h-19zM686 1544.7h13.6v3h-13.6zM686 1600.6h13.6v3h-13.6zM709 1704h6.8v3h-6.8zM726.9 1843.7h2.5v3h-2.5zM726.9 1880h2.5v3h-2.5zM729.4 1947.1h1.6v3h-1.6zM729.4 1949.9h1.6v3h-1.6z" fill="#e29f85"/><path d="M699.6 983h9.4v3h-9.4zM686 1066.8h13.6v3h-13.6zM715.8 1066.8h5.2v3h-5.2zM686 1078h13.6v3h-13.6zM715.8 1078h5.2v3h-5.2zM353.8 1080.8h246.1v3h-246.1zM686 1080.8h13.6v3h-13.6zM715.8 1080.8h5.2v3h-5.2zM353.8 1083.6h246.1v3h-246.1zM686 1083.6h13.6v3h-13.6zM353.8 1086.4h246.1v3h-246.1zM686 1089.2h13.6v3h-13.6zM686 1092h13.6v3h-13.6zM715.8 1092h5.2v3h-5.2zM686 1094.8h13.6v3h-13.6zM686 1100.4h13.6v3h-13.6zM686 1103.2h13.6v3h-13.6zM715.8 1103.2h5.2v3h-5.2zM686 1108.8h13.6v3h-13.6zM686 1114.3h13.6v3h-13.6zM715.8 1114.3h5.2v3h-5.2zM686 1119.9h13.6v3h-13.6zM686 1122.7h13.6v3h-13.6zM686 1125.5h13.6v3h-13.6zM715.8 1125.5h5.2v3h-5.2zM715.8 1133.9h5.2v3h-5.2zM686 1145.1h13.6v3h-13.6zM686 1147.9h13.6v3h-13.6zM653 1234.5h19v3h-19zM653 1240.1h19v3h-19zM653 1254.1h19v3h-19zM653 1273.6h19v3h-19zM699.6 1279.2h9.4v3h-9.4zM699.6 1290.4h9.4v3h-9.4zM653 1298.8h19v3h-19zM653 1304.4h19v3h-19zM686 1304.4h13.6v3h-13.6zM699.6 1307.2h9.4v3h-9.4zM699.6 1312.7h9.4v3h-9.4zM672 1318.3h14v3h-14zM672 1326.7h14v3h-14zM672 1360.2h14v3h-14zM672 1365.8h14v3h-14zM672 1377h14v3h-14zM672 1379.8h14v3h-14zM672 1388.2h14v3h-14zM686 1416.1h13.6v3h-13.6zM686 1446.9h13.6v3h-13.6zM686 1449.7h13.6v3h-13.6zM686 1455.3h13.6v3h-13.6zM699.6 1463.6h9.4v3h-9.4zM686 1466.4h13.6v3h-13.6zM699.6 1505.6h9.4v3h-9.4zM699.6 1508.4h9.4v3h-9.4zM699.6 1536.3h9.4v3h-9.4zM699.6 1544.7h9.4v3h-9.4zM699.6 1555.9h9.4v3h-9.4zM709 1592.2h6.8v3h-6.8zM709 1617.3h6.8v3h-6.8zM709 1650.9h6.8v3h-6.8zM715.8 1673.2h5.2v3h-5.2zM715.8 1695.6h5.2v3h-5.2zM715.8 1717.9h5.2v3h-5.2zM721 1748.7h5.9v3h-5.9zM721 1776.6h5.9v3h-5.9zM721 1779.4h5.9v3h-5.9zM721 1810.2h5.9v3h-5.9zM729.4 1921.9h1.6v3h-1.6zM729.4 1933.1h1.6v3h-1.6zM729.4 1935.9h1.6v3h-1.6zM729.4 1938.7h1.6v3h-1.6zM729.4 1952.7h1.6v3h-1.6zM729.4 1955.5h1.6v3h-1.6zM729.4 1958.3h1.6v3h-1.6zM729.4 1963.8h1.6v3h-1.6zM729.4 1966.6h1.6v3h-1.6zM729.4 1980.6h1.6v3h-1.6zM729.4 1983.4h1.6v3h-1.6zM729.4 1986.2h1.6v3h-1.6z" fill="#dc8c6e"/><path d="M70.8 1058.5h283v3h-283zM70.8 1061.2h283v3h-283zM70.8 1064h283v3h-283zM686 1086.4h13.6v3h-13.6zM353.8 1094.8h246.1v3h-246.1zM686 1097.6h13.6v3h-13.6zM353.8 1128.3h246.1v3h-246.1zM686 1128.3h13.6v3h-13.6zM353.8 1131.1h246.1v3h-246.1zM686 1131.1h13.6v3h-13.6zM353.8 1133.9h246.1v3h-246.1zM686 1133.9h13.6v3h-13.6zM686 1142.3h13.6v3h-13.6zM599.9 1184.2h53.1v3h-53.1zM599.9 1187h53.1v3h-53.1zM599.9 1189.8h53.1v3h-53.1zM599.9 1209.4h53.1v3h-53.1zM599.9 1212.1h53.1v3h-53.1zM699.6 1234.5h9.4v3h-9.4zM699.6 1256.9h9.4v3h-9.4zM699.6 1273.6h9.4v3h-9.4zM699.6 1304.4h9.4v3h-9.4zM653 1315.5h19v3h-19zM686 1511.2h13.6v3h-13.6zM699.6 1539.1h9.4v3h-9.4zM726.9 1821.3h2.5v3h-2.5zM726.9 1824.1h2.5v3h-2.5zM726.9 1826.9h2.5v3h-2.5zM726.9 1863.2h2.5v3h-2.5zM726.9 1888.4h2.5v3h-2.5zM726.9 1891.2h2.5v3h-2.5zM726.9 1896.8h2.5v3h-2.5zM726.9 1899.6h2.5v3h-2.5zM726.9 1902.4h2.5v3h-2.5zM729.4 1972.2h1.6v3h-1.6zM729.4 1975h1.6v3h-1.6z" fill="#d67a58"/><path d="M70.8 983h283v3h-283zM70.8 994.2h283v3h-283zM70.8 999.8h283v3h-283zM70.8 1002.6h283v3h-283zM70.8 1005.4h283v3h-283zM70.8 1024.9h283v3h-283zM70.8 1027.7h283v3h-283zM715.8 1131.1h5.2v3h-5.2zM599.9 1173h53.1v3h-53.1zM599.9 1175.8h53.1v3h-53.1zM599.9 1198.2h53.1v3h-53.1zM599.9 1201h53.1v3h-53.1zM599.9 1203.8h53.1v3h-53.1zM599.9 1223.3h53.1v3h-53.1zM599.9 1226.1h53.1v3h-53.1zM653 1245.7h19v3h-19zM653 1248.5h19v3h-19zM653 1282h19v3h-19zM653 1310h19v3h-19zM672 1357.5h14v3h-14zM686 1513.9h13.6v3h-13.6zM699.6 1564.2h9.4v3h-9.4zM699.6 1567h9.4v3h-9.4zM709 1600.6h6.8v3h-6.8zM709 1636.9h6.8v3h-6.8zM715.8 1662h5.2v3h-5.2zM715.8 1664.8h5.2v3h-5.2zM715.8 1670.4h5.2v3h-5.2zM715.8 1681.6h5.2v3h-5.2zM715.8 1684.4h5.2v3h-5.2zM715.8 1731.9h5.2v3h-5.2zM715.8 1734.7h5.2v3h-5.2zM726.9 1840.9h2.5v3h-2.5zM726.9 1894h2.5v3h-2.5zM729.4 1910.8h1.6v3h-1.6zM729.4 1913.5h1.6v3h-1.6zM729.4 1916.3h1.6v3h-1.6zM729.4 1919.1h1.6v3h-1.6zM729.4 1924.7h1.6v3h-1.6zM729.4 1927.5h1.6v3h-1.6zM729.4 1930.3h1.6v3h-1.6zM729.4 1944.3h1.6v3h-1.6zM729.4 1961.1h1.6v3h-1.6z" fill="#d16f4b"/><path d="M699.6 994.2h9.4v3h-9.4zM699.6 999.8h9.4v3h-9.4zM699.6 1002.6h9.4v3h-9.4zM699.6 1005.4h9.4v3h-9.4zM699.6 1008.1h9.4v3h-9.4zM699.6 1013.7h9.4v3h-9.4zM70.8 1019.3h283v3h-283zM699.6 1019.3h9.4v3h-9.4zM70.8 1022.1h283v3h-283zM699.6 1022.1h9.4v3h-9.4zM699.6 1027.7h9.4v3h-9.4zM699.6 1030.5h9.4v3h-9.4zM699.6 1055.7h9.4v3h-9.4zM353.8 1069.6h246.1v3h-246.1zM353.8 1072.4h246.1v3h-246.1zM353.8 1075.2h246.1v3h-246.1zM353.8 1100.4h246.1v3h-246.1zM353.8 1103.2h246.1v3h-246.1zM353.8 1106h246.1v3h-246.1zM353.8 1108.8h246.1v3h-246.1zM353.8 1119.9h246.1v3h-246.1zM353.8 1122.7h246.1v3h-246.1zM353.8 1125.5h246.1v3h-246.1zM599.9 1150.7h53.1v3h-53.1zM599.9 1167.4h53.1v3h-53.1zM599.9 1170.2h53.1v3h-53.1zM599.9 1181.4h53.1v3h-53.1zM599.9 1214.9h53.1v3h-53.1zM599.9 1217.7h53.1v3h-53.1zM599.9 1220.5h53.1v3h-53.1zM653 1268h19v3h-19zM653 1270.8h19v3h-19zM653 1296h19v3h-19zM653 1301.6h19v3h-19zM672 1340.7h14v3h-14zM672 1343.5h14v3h-14zM672 1346.3h14v3h-14zM672 1385.4h14v3h-14zM672 1391h14v3h-14zM686 1410.5h13.6v3h-13.6zM686 1427.3h13.6v3h-13.6zM686 1430.1h13.6v3h-13.6zM686 1441.3h13.6v3h-13.6zM686 1444.1h13.6v3h-13.6zM686 1463.6h13.6v3h-13.6zM686 1469.2h13.6v3h-13.6zM686 1491.6h13.6v3h-13.6zM699.6 1511.2h9.4v3h-9.4zM699.6 1513.9h9.4v3h-9.4zM699.6 1558.7h9.4v3h-9.4zM709 1581h6.8v3h-6.8zM709 1614.5h6.8v3h-6.8zM709 1620.1h6.8v3h-6.8zM709 1622.9h6.8v3h-6.8zM715.8 1690h5.2v3h-5.2zM715.8 1692.8h5.2v3h-5.2zM721 1768.2h5.9v3h-5.9zM729.4 1905.2h1.6v3h-1.6zM729.4 1908h1.6v3h-1.6zM729.4 1941.5h1.6v3h-1.6zM729.4 1977.8h1.6v3h-1.6z" fill="#cc643e"/><path d="M70.8 997h283v3h-283zM699.6 997h9.4v3h-9.4zM70.8 1008.1h283v3h-283zM70.8 1010.9h283v3h-283zM699.6 1010.9h9.4v3h-9.4zM70.8 1013.7h283v3h-283zM699.6 1024.9h9.4v3h-9.4zM699.6 1052.9h9.4v3h-9.4zM353.8 1111.5h246.1v3h-246.1zM353.8 1117.1h246.1v3h-246.1zM353.8 1142.3h246.1v3h-246.1zM353.8 1145.1h246.1v3h-246.1zM353.8 1147.9h246.1v3h-246.1zM599.9 1192.6h53.1v3h-53.1zM599.9 1195.4h53.1v3h-53.1zM599.9 1206.6h53.1v3h-53.1zM653 1237.3h19v3h-19zM653 1242.9h19v3h-19zM653 1262.4h19v3h-19zM653 1265.2h19v3h-19zM672 1321.1h14v3h-14zM672 1382.6h14v3h-14zM699.6 1488.8h9.4v3h-9.4zM699.6 1500h9.4v3h-9.4zM699.6 1516.7h9.4v3h-9.4zM699.6 1519.5h9.4v3h-9.4zM699.6 1527.9h9.4v3h-9.4zM709 1595h6.8v3h-6.8zM709 1597.8h6.8v3h-6.8zM709 1603.4h6.8v3h-6.8zM709 1606.2h6.8v3h-6.8zM709 1625.7h6.8v3h-6.8zM709 1628.5h6.8v3h-6.8zM709 1634.1h6.8v3h-6.8zM709 1639.7h6.8v3h-6.8zM709 1642.5h6.8v3h-6.8zM709 1645.3h6.8v3h-6.8zM715.8 1659.3h5.2v3h-5.2zM715.8 1678.8h5.2v3h-5.2zM721 1782.2h5.9v3h-5.9zM721 1785h5.9v3h-5.9zM721 1804.6h5.9v3h-5.9zM721 1807.4h5.9v3h-5.9zM726.9 1829.7h2.5v3h-2.5zM726.9 1832.5h2.5v3h-2.5zM726.9 1846.5h2.5v3h-2.5zM726.9 1849.3h2.5v3h-2.5zM726.9 1852.1h2.5v3h-2.5zM726.9 1854.9h2.5v3h-2.5zM726.9 1857.7h2.5v3h-2.5zM726.9 1866h2.5v3h-2.5zM726.9 1868.8h2.5v3h-2.5zM726.9 1871.6h2.5v3h-2.5zM726.9 1874.4h2.5v3h-2.5zM726.9 1877.2h2.5v3h-2.5z" fill="#c65931"/><path d="M70.8 1033.3h283v3h-283zM70.8 1036.1h283v3h-283zM70.8 1038.9h283v3h-283zM70.8 1041.7h283v3h-283zM70.8 1052.9h283v3h-283zM70.8 1055.7h283v3h-283zM353.8 1092h246.1v3h-246.1zM353.8 1136.7h246.1v3h-246.1zM353.8 1139.5h246.1v3h-246.1zM653 1251.3h19v3h-19zM653 1259.7h19v3h-19zM672 1323.9h14v3h-14zM686 1413.3h13.6v3h-13.6zM686 1483.2h13.6v3h-13.6zM699.6 1486h9.4v3h-9.4zM699.6 1530.7h9.4v3h-9.4zM699.6 1533.5h9.4v3h-9.4zM709 1569.8h6.8v3h-6.8zM709 1572.6h6.8v3h-6.8zM709 1609h6.8v3h-6.8zM709 1648.1h6.8v3h-6.8zM715.8 1653.7h5.2v3h-5.2zM715.8 1656.5h5.2v3h-5.2zM715.8 1687.2h5.2v3h-5.2zM715.8 1698.4h5.2v3h-5.2zM715.8 1701.2h5.2v3h-5.2zM715.8 1704h5.2v3h-5.2zM715.8 1706.8h5.2v3h-5.2zM715.8 1709.6h5.2v3h-5.2zM715.8 1712.3h5.2v3h-5.2zM721 1759.9h5.9v3h-5.9zM721 1762.7h5.9v3h-5.9zM721 1765.4h5.9v3h-5.9zM721 1818.5h5.9v3h-5.9zM726.9 1860.5h2.5v3h-2.5zM726.9 1882.8h2.5v3h-2.5zM726.9 1885.6h2.5v3h-2.5z" fill="#c14e24"/><path d="M70.8 985.8h283v3h-283zM70.8 991.4h283v3h-283zM70.8 1016.5h283v3h-283zM599.9 1156.3h53.1v3h-53.1zM599.9 1159.1h53.1v3h-53.1zM599.9 1161.8h53.1v3h-53.1zM653 1256.9h19v3h-19zM653 1284.8h19v3h-19zM653 1287.6h19v3h-19zM653 1290.4h19v3h-19zM653 1293.2h19v3h-19zM653 1307.2h19v3h-19zM672 1337.9h14v3h-14zM672 1349.1h14v3h-14zM672 1351.9h14v3h-14zM672 1371.4h14v3h-14zM672 1374.2h14v3h-14zM672 1393.8h14v3h-14zM672 1396.6h14v3h-14zM672 1399.4h14v3h-14zM686 1418.9h13.6v3h-13.6zM686 1421.7h13.6v3h-13.6zM686 1424.5h13.6v3h-13.6zM686 1452.5h13.6v3h-13.6zM686 1460.8h13.6v3h-13.6zM686 1477.6h13.6v3h-13.6zM686 1480.4h13.6v3h-13.6zM699.6 1491.6h9.4v3h-9.4zM699.6 1502.8h9.4v3h-9.4zM699.6 1561.5h9.4v3h-9.4zM715.8 1667.6h5.2v3h-5.2zM715.8 1715.1h5.2v3h-5.2zM715.8 1720.7h5.2v3h-5.2zM715.8 1723.5h5.2v3h-5.2zM715.8 1726.3h5.2v3h-5.2zM715.8 1729.1h5.2v3h-5.2zM721 1745.9h5.9v3h-5.9zM721 1813h5.9v3h-5.9zM721 1815.7h5.9v3h-5.9zM726.9 1835.3h2.5v3h-2.5zM726.9 1838.1h2.5v3h-2.5z" fill="#bd481e"/><path d="M653 1276.4h19v3h-19zM653 1279.2h19v3h-19zM653 1312.7h19v3h-19zM672 1354.7h14v3h-14zM686 1432.9h13.6v3h-13.6zM686 1435.7h13.6v3h-13.6zM686 1438.5h13.6v3h-13.6zM686 1458.1h13.6v3h-13.6zM686 1472h13.6v3h-13.6zM686 1474.8h13.6v3h-13.6zM699.6 1494.4h9.4v3h-9.4zM699.6 1497.2h9.4v3h-9.4zM699.6 1522.3h9.4v3h-9.4zM699.6 1525.1h9.4v3h-9.4zM699.6 1541.9h9.4v3h-9.4zM699.6 1547.5h9.4v3h-9.4zM699.6 1550.3h9.4v3h-9.4zM699.6 1553.1h9.4v3h-9.4zM709 1575.4h6.8v3h-6.8zM709 1578.2h6.8v3h-6.8zM709 1611.8h6.8v3h-6.8zM709 1631.3h6.8v3h-6.8zM721 1757.1h5.9v3h-5.9zM721 1796.2h5.9v3h-5.9zM721 1799h5.9v3h-5.9zM721 1801.8h5.9v3h-5.9z" fill="#ba4317"/><path d="M672 1329.5h14v3h-14zM672 1332.3h14v3h-14zM672 1335.1h14v3h-14zM672 1363h14v3h-14zM672 1368.6h14v3h-14zM686 1402.2h13.6v3h-13.6zM686 1405h13.6v3h-13.6zM686 1407.8h13.6v3h-13.6zM709 1583.8h6.8v3h-6.8zM709 1586.6h6.8v3h-6.8zM709 1589.4h6.8v3h-6.8zM715.8 1676h5.2v3h-5.2zM721 1737.5h5.9v3h-5.9zM721 1740.3h5.9v3h-5.9zM721 1743.1h5.9v3h-5.9zM721 1751.5h5.9v3h-5.9zM721 1754.3h5.9v3h-5.9zM721 1771h5.9v3h-5.9zM721 1773.8h5.9v3h-5.9zM721 1787.8h5.9v3h-5.9zM721 1790.6h5.9v3h-5.9zM721 1793.4h5.9v3h-5.9z" fill="#b63e10"/></g>
<path d="M335.6 1033.3h18.2v2.8h-18.2zM326.3 988.6h27.5v5.6h-27.5zM70.5 1036.1h28.2v5.6h-28.2zM139 1036.1h22.6v5.6h-22.6zM341.7 1047.3h12.1v5.6h-12.1zM562 1083.6h19.7v2.8h-19.7zM353.8 1066.8h13.8v5.6h-13.8zM353.8 1083.6h94v2.8h-94zM161.6 1114.3h131.5v2.8h-131.5zM335.6 1094.8h18.2v2.8h-18.2zM326.3 1184.2h15.4v5.6h-15.4zM469.5 1153.5h48.2v5.6h-48.2zM139 1377h40.8v2.8h-40.8zM150.2 1371.4h11.4v2.8h-11.4zM326.3 1413.3h27.5v2.8h-27.5zM204.1 1402.2h116.1v5.6h-116.1zM447.8 1748.7h21.7v14h-21.7zM222.3 1838.1h70.8v2.8h-70.8z" fill="#f1d1c4" opacity="0.85"/>
<path d="M150.2 994.2h11.4v2.8h-11.4zM258.1 1058.5h35v2.8h-35zM204.1 985.8h89v2.8h-89zM139 985.8h65.1v5.6h-65.1zM341.7 1036.1h12.1v2.8h-12.1zM469.5 1145.1h16.2v5.6h-16.2zM485.7 1111.5h40.9v2.8h-40.9zM367.6 1133.9h66.4v2.8h-66.4zM485.7 1066.8h49.3v2.8h-49.3zM434 1094.8h92.6v2.8h-92.6zM367.6 1080.8h66.4v2.8h-66.4zM522.7 1069.6h39.3v5.6h-39.3z" fill="#f6ecea" opacity="0.85"/>
<path d="M204.1 1061.2h89v5.6h-89zM98.7 1008.1h51.5v2.8h-51.5zM106.3 1010.9h97.8v5.6h-97.8zM204.1 1005.4h116.1v5.6h-116.1zM367.6 1136.7h80.2v2.8h-80.2zM535 1133.9h64.9v5.6h-64.9zM353.8 1094.8h115.7v2.8h-115.7zM434 1133.9h51.7v5.6h-51.7zM485.7 1075.2h96v2.8h-96z" fill="#f4ded7" opacity="0.85"/>
<path d="M258.1 1027.7h62.1v5.6h-62.1zM335.6 1061.2h18.2v2.8h-18.2zM106.3 1052.9h97.8v2.8h-97.8zM98.7 1027.7h40.3v5.6h-40.3zM70.5 1010.9h18.4v5.6h-18.4zM70.5 1010.9h28.2v2.8h-28.2zM367.6 1080.8h80.2v5.6h-80.2zM447.8 1147.9h37.9v2.8h-37.9zM485.7 1072.4h76.3v2.8h-76.3zM420.3 1097.6h27.5v5.6h-27.5zM535 1136.7h64.9v5.6h-64.9zM367.6 1106h66.4v5.6h-66.4zM581.7 1094.8h18.2v2.8h-18.2z" fill="#b2380a" opacity="0.85"/>
<path d="M204.1 991.4h54v2.8h-54zM320.2 1010.9h33.6v2.8h-33.6zM150.2 1044.5h11.4v2.8h-11.4zM335.6 1038.9h18.2v2.8h-18.2zM522.7 1119.9h77.2v5.6h-77.2zM535 1106h64.9v2.8h-64.9zM526.6 1108.8h73.3v5.6h-73.3zM447.8 1066.8h74.9v5.6h-74.9zM434 1111.5h51.7v2.8h-51.7z" fill="#b63e10" opacity="0.85"/>
<path d="M392.2 1061.2h125.5v5.6h-125.5zM420.3 1052.9h97.4v5.6h-97.4z" fill="#3088da" opacity="0.85"/>
<path d="M447.8 1047.3h74.9v5.6h-74.9zM581.7 1044.5h18.2v5.6h-18.2z" fill="#0c7ad4" opacity="0.85"/>
<path d="M517.7 1030.5h17.3v5.6h-17.3zM353.8 1038.9h66.5v5.6h-66.5zM392.2 997h93.5v5.6h-93.5z" fill="#2483d8" opacity="0.85"/>
<path d="M562 994.2h37.9v2.8h-37.9z" fill="#187ed6" opacity="0.85"/>
<path d="M517.7 1094.8h8.9v2.8h-8.9zM88.9 1223.3h9.8v2.8h-9.8zM293.1 1167.4h60.7v5.6h-60.7zM517.7 1212.1h5v2.8h-5zM258.1 1150.7h35v14h-35zM293.1 1184.2h42.5v16.8h-42.5zM150.2 1161.8h29.6v16.8h-29.6zM70.5 1240.1h35.8v16.8h-35.8zM179.8 1298.8h78.3v8.4h-78.3zM161.6 1363h158.6v2.8h-158.6zM326.3 1382.6h27.5v2.8h-27.5zM106.3 1444.1h97.8v5.6h-97.8zM88.9 1435.7h33.3v2.8h-33.3zM353.8 1407.8h38.4v14h-38.4zM392.2 1452.5h77.3v11.2h-77.3zM204.1 1463.6h116.1v16.8h-116.1zM122.2 1438.5h39.4v16.8h-39.4zM139 1463.6h11.2v11.2h-11.2zM122.2 1488.8h16.8v16.8h-16.8zM106.3 1505.6h55.3v16.8h-55.3zM204.1 1583.8h18.2v2.8h-18.2zM122.2 1645.3h57.6v2.8h-57.6zM526.6 1586.6h8.4v14h-8.4zM179.8 1659.3h42.5v2.8h-42.5zM326.3 1698.4h27.5v2.8h-27.5zM293.1 1684.4h33.2v5.6h-33.2zM122.2 1740.3h39.4v2.8h-39.4zM320.2 1740.3h33.6v5.6h-33.6zM562 1785h19.7v11.2h-19.7zM161.6 1857.7h42.5v2.8h-42.5z" fill="#eec4b2" opacity="0.85"/>
<path d="M517.7 1078h17.3v5.6h-17.3zM98.7 1100.4h40.3v5.6h-40.3zM320.2 1114.3h33.6v5.6h-33.6zM335.6 1094.8h6.1v5.6h-6.1zM106.3 1178.6h97.8v5.6h-97.8zM70.5 1189.8h28.2v2.8h-28.2zM222.3 1187h97.9v5.6h-97.9zM447.8 1203.8h21.7v2.8h-21.7zM98.7 1326.7h7.6v5.6h-7.6zM526.6 1379.8h35.4v8.4h-35.4zM434 1374.2h83.7v8.4h-83.7zM434 1340.7h83.7v14h-83.7zM367.6 1351.9h66.4v8.4h-66.4zM353.8 1332.3h66.5v14h-66.5zM70.5 1444.1h79.7v2.8h-79.7zM522.7 1472h12.3v8.4h-12.3zM522.7 1472h12.3v14h-12.3zM392.2 1463.6h77.3v11.2h-77.3zM335.6 1530.7h6.1v16.8h-6.1zM70.5 1497.2h51.7v11.2h-51.7zM392.2 1525.1h77.3v8.4h-77.3zM469.5 1511.2h53.2v8.4h-53.2zM70.5 1628.5h35.8v5.6h-35.8zM392.2 1606.2h77.3v14h-77.3zM335.6 1734.7h18.2v2.8h-18.2zM535 1678.8h64.9v16.8h-64.9zM88.9 1776.6h17.4v5.6h-17.4zM517.7 1804.6h5v11.2h-5zM447.8 1796.2h69.9v14h-69.9zM517.7 1804.6h17.3v14h-17.3zM341.7 1972.2h12.1v2.8h-12.1zM485.7 1963.8h32v5.6h-32zM353.8 1986.2h13.8v2.8h-13.8z" fill="#e8b29c" opacity="0.85"/>
<path d="M562 1080.8h37.9v2.8h-37.9z" fill="#f9f9fc" opacity="0.85"/>
<path d="M139 1131.1h119.1v2.8h-119.1zM98.7 1245.7h40.3v14h-40.3zM88.9 1245.7h33.3v8.4h-33.3zM150.2 1379.8h107.9v2.8h-107.9zM367.6 1377h52.7v16.8h-52.7zM293.1 1427.3h60.7v2.8h-60.7zM341.7 1466.4h12.1v2.8h-12.1zM161.6 1527.9h18.2v8.4h-18.2zM392.2 1555.9h77.3v11.2h-77.3zM526.6 1561.5h73.3v8.4h-73.3zM326.3 1603.4h9.3v2.8h-9.3zM581.7 1606.2h18.2v14h-18.2zM526.6 1620.1h55.1v16.8h-55.1zM517.7 1595h44.3v16.8h-44.3zM353.8 1684.4h66.5v14h-66.5zM522.7 1670.4h3.9v11.2h-3.9zM485.7 1807.4h37v2.8h-37zM204.1 1963.8h54v2.8h-54zM353.8 1983.4h38.4v2.8h-38.4z" fill="#e29f85" opacity="0.85"/>
<path d="M293.1 1245.7h42.5v5.6h-42.5zM341.7 1268h12.1v5.6h-12.1zM353.8 1304.4h115.7v5.6h-115.7zM581.7 1340.7h18.2v5.6h-18.2zM367.6 1469.2h101.9v5.6h-101.9zM562 1438.5h37.9v5.6h-37.9zM535 1402.2h27v2.8h-27zM535 1452.5h64.9v2.8h-64.9zM150.2 1502.8h53.9v2.8h-53.9zM122.2 1527.9h100.1v5.6h-100.1zM88.9 1511.2h9.8v5.6h-9.8zM179.8 1488.8h78.3v5.6h-78.3zM326.3 1522.3h27.5v5.6h-27.5zM222.3 1513.9h70.8v2.8h-70.8zM161.6 1561.5h158.6v5.6h-158.6zM392.2 1497.2h77.3v5.6h-77.3zM485.7 1558.7h37v5.6h-37zM420.3 1648.1h49.2v5.6h-49.2zM562 1723.5h37.9v2.8h-37.9zM581.7 1667.6h18.2v2.8h-18.2zM353.8 1692.8h66.5v2.8h-66.5zM522.7 1684.4h12.3v5.6h-12.3zM434 1779.4h88.7v5.6h-88.7zM485.7 1787.8h32v5.6h-32z" fill="#d16f4b" opacity="0.85"/>
<path d="M122.2 1240.1h28v2.8h-28zM98.7 1290.4h23.5v5.6h-23.5zM485.7 1351.9h96v2.8h-96zM469.5 1329.5h57.1v5.6h-57.1zM526.6 1449.7h8.4v5.6h-8.4zM447.8 1469.2h21.7v5.6h-21.7zM161.6 1536.3h18.2v5.6h-18.2zM320.2 1567h15.4v2.8h-15.4zM562 1536.3h37.9v2.8h-37.9zM581.7 1522.3h18.2v2.8h-18.2zM353.8 1550.3h115.7v5.6h-115.7zM434 1639.7h92.6v2.8h-92.6zM526.6 1617.3h73.3v2.8h-73.3zM420.3 1589.4h27.5v5.6h-27.5zM447.8 1614.5h74.9v5.6h-74.9zM367.6 1609h80.2v5.6h-80.2zM447.8 1692.8h37.9v5.6h-37.9zM485.7 1723.5h40.9v2.8h-40.9zM485.7 1717.9h40.9v2.8h-40.9zM353.8 1704h94v2.8h-94zM434 1779.4h83.7v2.8h-83.7z" fill="#c65931" opacity="0.85"/>
<path d="M122.2 1293.2h100.1v5.6h-100.1zM139 1284.8h65.1v2.8h-65.1zM258.1 1284.8h35v2.8h-35zM222.3 1276.4h113.3v2.8h-113.3zM522.7 1298.8h77.2v5.6h-77.2zM562 1377h37.9v2.8h-37.9zM353.8 1351.9h38.4v5.6h-38.4zM469.5 1388.2h16.2v5.6h-16.2zM485.7 1416.1h37v5.6h-37zM367.6 1418.9h52.7v5.6h-52.7zM469.5 1446.9h65.5v2.8h-65.5zM98.7 1516.7h81.1v5.6h-81.1zM526.6 1578.2h55.1v2.8h-55.1zM485.7 1600.6h76.3v2.8h-76.3zM392.2 1712.3h41.8v2.8h-41.8zM562 1751.5h37.9v2.8h-37.9zM434 1740.3h88.7v5.6h-88.7zM434 1745.9h51.7v5.6h-51.7zM526.6 1745.9h35.4v2.8h-35.4zM469.5 1799h53.2v5.6h-53.2z" fill="#cc643e" opacity="0.85"/>
<path d="M122.2 1290.4h16.8v2.8h-16.8zM161.6 1270.8h158.6v5.6h-158.6zM526.6 1368.6h35.4v2.8h-35.4zM447.8 1385.4h21.7v5.6h-21.7zM526.6 1326.7h55.1v2.8h-55.1zM526.6 1371.4h55.1v5.6h-55.1zM367.6 1357.5h66.4v5.6h-66.4zM258.1 1525.1h83.6v2.8h-83.6zM88.9 1500h61.3v2.8h-61.3zM526.6 1636.9h73.3v2.8h-73.3zM562 1586.6h37.9v2.8h-37.9zM392.2 1709.6h28.1v5.6h-28.1z" fill="#c14e24" opacity="0.85"/>
<path d="M326.3 1287.6h27.5v5.6h-27.5zM258.1 1296h35v5.6h-35zM341.7 1279.2h12.1v5.6h-12.1zM485.7 1270.8h76.3v5.6h-76.3zM469.5 1463.6h53.2v2.8h-53.2zM526.6 1572.6h73.3v5.6h-73.3zM353.8 1678.8h38.4v2.8h-38.4zM485.7 1717.9h32v11.2h-32zM367.6 1709.6h24.6v16.8h-24.6zM447.8 1813h78.8v2.8h-78.8zM204.1 1980.6h131.5v5.6h-131.5zM106.3 1966.6h32.7v2.8h-32.7zM106.3 1980.6h15.9v2.8h-15.9z" fill="#d67a58" opacity="0.85"/>
<path d="M98.7 1287.6h81.1v5.6h-81.1zM562 1248.5h37.9v5.6h-37.9zM434 1284.8h13.8v5.6h-13.8zM139 1265.2h22.6v16.8h-22.6zM179.8 1248.5h42.5v16.8h-42.5zM367.6 1410.5h80.2v5.6h-80.2zM485.7 1483.2h37v2.8h-37zM447.8 1435.7h69.9v5.6h-69.9zM526.6 1449.7h35.4v2.8h-35.4zM447.8 1410.5h74.9v14h-74.9zM367.6 1402.2h80.2v11.2h-80.2zM367.6 1416.1h24.6v8.4h-24.6zM420.3 1508.4h102.4v5.6h-102.4zM392.2 1508.4h28.1v2.8h-28.1zM581.7 1522.3h18.2v5.6h-18.2zM447.8 1539.1h37.9v5.6h-37.9zM420.3 1536.3h49.2v5.6h-49.2zM535 1664.8h64.9v16.8h-64.9zM581.7 1704h18.2v8.4h-18.2zM469.5 1692.8h48.2v19.6h-48.2zM98.7 1961.1h7.6v2.8h-7.6z" fill="#dc8c6e" opacity="0.85"/>
<path d="M581.7 1385.4h18.2v5.6h-18.2zM161.6 1530.7h42.5v2.8h-42.5zM335.6 1491.6h18.2v2.8h-18.2zM522.7 1614.5h39.3v2.8h-39.3zM485.7 1720.7h40.9v5.6h-40.9zM392.2 1692.8h55.6v5.6h-55.6zM522.7 1667.6h12.3v5.6h-12.3zM392.2 1662h93.5v5.6h-93.5zM469.5 1692.8h57.1v2.8h-57.1z" fill="#bd481e" opacity="0.85"/>
<path d="M98.7 1444.1h7.6v2.8h-7.6zM335.6 1421.7h18.2v2.8h-18.2zM98.7 1444.1h7.6v2.8h-7.6z" fill="#99b8e8" opacity="0.85"/>
<path d="M122.2 1458.1h16.8v2.8h-16.8z" fill="#7aa3e2" opacity="0.85"/>
<path d="M204.1 1455.3h18.2v5.6h-18.2z" fill="#8aade5" opacity="0.85"/>
<rect x="653" y="1008.1" width="19" height="11.2" fill="#d2714e" opacity="0.9"/>
<rect x="653" y="1027.7" width="19" height="39.1" fill="#e0987c" opacity="0.75"/>
<rect x="222.3" y="1066.8" width="35.8" height="83.8" fill="#f2d9d0" opacity="0.45"/>
<rect x="222.3" y="1150.7" width="35.8" height="83.8" fill="#eec4b2" opacity="0.4"/>
<rect x="293.1" y="1497.2" width="60.7" height="27.9" fill="#ce6843" opacity="0.5"/>
<rect x="485.7" y="1318.3" width="32" height="83.8" fill="#db896a" opacity="0.45"/>
<rect x="520" y="1653.7" width="15" height="83.8" fill="#b84114" opacity="0.75"/>
<rect x="161.6" y="1821.3" width="18.2" height="33.5" fill="#e9b5a0" opacity="0.45"/>
<rect x="606.3" y="1821.3" width="46.7" height="33.5" fill="#f0cfc1" opacity="0.45"/>
<rect x="70.8" y="1895.7" width="283" height="7.6" fill="#efc9b9" opacity="0.9"/>
<rect x="353.8" y="1895.7" width="246.1" height="7.6" fill="#ccdaf2" opacity="0.9"/>
<rect x="599.9" y="1895.7" width="131.1" height="7.6" fill="#f1d4c8" opacity="0.9"/>
<rect x="70.8" y="1946" width="283" height="4" fill="#ecbda9" opacity="0.9"/>
<rect x="70.8" y="1962" width="660.2" height="27" fill="#ccdaf2" opacity="0.85"/>
<rect x="70.8" y="1966" width="283" height="3.5" fill="#db896a" opacity="0.85"/>
<rect x="70.8" y="1973" width="283" height="3" fill="#e7ae97" opacity="0.85"/>
<rect x="130" y="1981" width="70" height="4" fill="#d67a58" opacity="0.85"/>
<rect x="240" y="1981" width="90" height="4" fill="#d2714e" opacity="0.85"/>
<rect x="600" y="1963" width="72" height="5" fill="#db896a" opacity="0.85"/>
<rect x="600" y="1977" width="90" height="6" fill="#d67a58" opacity="0.85"/>
<rect x="690" y="1965" width="41" height="7" fill="#e9b5a0" opacity="0.8"/>
<defs><pattern id="pSpk" width="29" height="23" patternUnits="userSpaceOnUse"><rect x="6.6" y="22.1" width="1" height="1.8" fill="#fff"/><rect x="2.5" y="5.7" width="2.5" height="1.1" fill="#fff"/><rect x="18.6" y="10.6" width="1.6" height="1.5" fill="#fff"/><rect x="5.6" y="19.1" width="1" height="1.1" fill="#fff"/><rect x="0.6" y="6.1" width="1.5" height="2.1" fill="#fff"/><rect x="11" y="2.6" width="1.2" height="2.2" fill="#fff"/><rect x="1.8" y="14.3" width="1.4" height="1.7" fill="#fff"/><rect x="9.8" y="15.9" width="1.6" height="1.7" fill="#fff"/><rect x="26.1" y="13.4" width="1" height="0.9" fill="#fff"/><rect x="27.4" y="11.2" width="1.1" height="2.1" fill="#fff"/><rect x="16.8" y="16.8" width="2.3" height="1.2" fill="#fff"/><rect x="10.3" y="20.2" width="1" height="1.9" fill="#fff"/><rect x="2.8" y="15.9" width="2" height="2.1" fill="#fff"/><rect x="24.5" y="11.6" width="1.1" height="1" fill="#fff"/><rect x="15.3" y="11.7" width="0.9" height="2.1" fill="#fff"/><rect x="14.7" y="16.1" width="1.2" height="1.1" fill="#fff"/><rect x="0.3" y="7.9" width="1.3" height="1.4" fill="#fff"/><rect x="10.9" y="19.2" width="2.3" height="1" fill="#fff"/><rect x="11.5" y="3.8" width="1.9" height="2.2" fill="#fff"/><rect x="5.9" y="17.6" width="1.3" height="0.8" fill="#fff"/><rect x="22.2" y="7.9" width="1.1" height="1.4" fill="#fff"/><rect x="6.7" y="9.4" width="1.6" height="1.4" fill="#fff"/><rect x="17.1" y="6.6" width="1" height="0.9" fill="#fff"/><rect x="3.1" y="12" width="1.4" height="1.9" fill="#fff"/><rect x="14.6" y="16.3" width="2.5" height="0.9" fill="#fff"/><rect x="0.5" y="3.2" width="1.5" height="1.6" fill="#fff"/><rect x="21.6" y="8.1" width="2.4" height="0.8" fill="#fff"/><rect x="24.2" y="4.8" width="2.3" height="0.8" fill="#fff"/><rect x="28" y="17.5" width="2.5" height="1.6" fill="#fff"/><rect x="5.2" y="22.3" width="1.6" height="0.9" fill="#fff"/><rect x="17.6" y="11.4" width="1.6" height="1" fill="#fff"/><rect x="3.5" y="13.4" width="1.6" height="1" fill="#fff"/><rect x="12.7" y="16.7" width="2" height="1.5" fill="#fff"/><rect x="11.4" y="8.3" width="1.2" height="1.1" fill="#fff"/><rect x="12.9" y="2.5" width="2" height="1.8" fill="#fff"/><rect x="17.7" y="0.5" width="1.4" height="1.4" fill="#fff"/><rect x="2.7" y="22.3" width="2.1" height="1.5" fill="#fff"/><rect x="20.4" y="4.6" width="1.2" height="1.5" fill="#fff"/><rect x="21.6" y="14.9" width="0.8" height="1.7" fill="#fff"/><rect x="26.4" y="17.1" width="2.4" height="2.2" fill="#fff"/><rect x="6.5" y="6.8" width="1.7" height="2.2" fill="#fff"/><rect x="10.7" y="21.7" width="2.2" height="1.5" fill="#fff"/><rect x="18.1" y="22" width="2.1" height="1.2" fill="#fff"/><rect x="24.5" y="4.5" width="1.4" height="2.1" fill="#fff"/><rect x="24.6" y="7.2" width="1.3" height="1.7" fill="#fff"/><rect x="24.4" y="15.7" width="2.4" height="1.8" fill="#fff"/><rect x="23.8" y="13.9" width="1.4" height="1.4" fill="#fff"/><rect x="14.2" y="12.2" width="2.2" height="1.2" fill="#fff"/><rect x="2" y="16.9" width="1.3" height="1.4" fill="#fff"/><rect x="3.4" y="19.1" width="1.3" height="1.2" fill="#fff"/><rect x="23.3" y="11.6" width="1.3" height="2" fill="#fff"/><rect x="11.9" y="8.3" width="2.4" height="1.9" fill="#fff"/><rect x="21.7" y="5.7" width="2.2" height="1.6" fill="#fff"/><rect x="24.1" y="8.5" width="2.1" height="1.9" fill="#fff"/><rect x="11.3" y="15.1" width="2.1" height="2.2" fill="#fff"/><rect x="26.7" y="18.1" width="1" height="1.7" fill="#fff"/><rect x="19.9" y="2" width="1.6" height="2" fill="#fff"/><rect x="26.3" y="21.3" width="1" height="1.6" fill="#fff"/><rect x="25.1" y="15" width="1.3" height="0.9" fill="#fff"/><rect x="26.7" y="19.8" width="1.9" height="1.3" fill="#fff"/><rect x="24" y="18.7" width="2" height="1.6" fill="#fff"/><rect x="9.3" y="6.8" width="1.4" height="1.3" fill="#fff"/><rect x="15.1" y="2.6" width="2" height="1.3" fill="#fff"/><rect x="4.6" y="5.9" width="1.5" height="1.4" fill="#fff"/><rect x="22.7" y="2.3" width="1.2" height="1.2" fill="#fff"/><rect x="5.1" y="17.2" width="1" height="0.9" fill="#fff"/><rect x="16.1" y="16.9" width="2.2" height="1.6" fill="#fff"/><rect x="9.5" y="20.3" width="2.1" height="1.5" fill="#fff"/><rect x="16.3" y="21.5" width="2.5" height="2.1" fill="#fff"/><rect x="3.8" y="7.5" width="1.5" height="1" fill="#fff"/></pattern></defs>
<path d="M335.6 1033.3h18.2v2.8h-18.2zM326.3 988.6h27.5v5.6h-27.5zM70.5 1036.1h28.2v5.6h-28.2zM150.2 994.2h11.4v2.8h-11.4zM258.1 1058.5h35v2.8h-35zM204.1 985.8h89v2.8h-89zM139 1036.1h22.6v5.6h-22.6zM139 985.8h65.1v5.6h-65.1zM204.1 1061.2h89v5.6h-89zM98.7 1008.1h51.5v2.8h-51.5zM106.3 1010.9h97.8v5.6h-97.8zM341.7 1036.1h12.1v2.8h-12.1zM341.7 1047.3h12.1v5.6h-12.1zM204.1 1005.4h116.1v5.6h-116.1zM258.1 1027.7h62.1v5.6h-62.1zM335.6 1061.2h18.2v2.8h-18.2zM204.1 991.4h54v2.8h-54zM106.3 1052.9h97.8v2.8h-97.8zM320.2 1010.9h33.6v2.8h-33.6zM150.2 1044.5h11.4v2.8h-11.4zM98.7 1027.7h40.3v5.6h-40.3zM70.5 1010.9h18.4v5.6h-18.4zM70.5 1010.9h28.2v2.8h-28.2zM335.6 1038.9h18.2v2.8h-18.2zM469.5 1145.1h16.2v5.6h-16.2zM485.7 1111.5h40.9v2.8h-40.9zM367.6 1133.9h66.4v2.8h-66.4zM367.6 1136.7h80.2v2.8h-80.2zM517.7 1094.8h8.9v2.8h-8.9zM535 1133.9h64.9v5.6h-64.9zM562 1083.6h19.7v2.8h-19.7zM485.7 1066.8h49.3v2.8h-49.3zM353.8 1094.8h115.7v2.8h-115.7zM353.8 1066.8h13.8v5.6h-13.8zM434 1094.8h92.6v2.8h-92.6zM434 1133.9h51.7v5.6h-51.7zM367.6 1080.8h66.4v2.8h-66.4zM353.8 1083.6h94v2.8h-94zM517.7 1078h17.3v5.6h-17.3zM522.7 1069.6h39.3v5.6h-39.3zM485.7 1075.2h96v2.8h-96zM367.6 1080.8h80.2v5.6h-80.2zM522.7 1119.9h77.2v5.6h-77.2zM447.8 1147.9h37.9v2.8h-37.9zM485.7 1072.4h76.3v2.8h-76.3zM535 1106h64.9v2.8h-64.9zM526.6 1108.8h73.3v5.6h-73.3zM420.3 1097.6h27.5v5.6h-27.5zM535 1136.7h64.9v5.6h-64.9zM447.8 1066.8h74.9v5.6h-74.9zM367.6 1106h66.4v5.6h-66.4zM434 1111.5h51.7v2.8h-51.7zM581.7 1094.8h18.2v2.8h-18.2zM98.7 1100.4h40.3v5.6h-40.3zM161.6 1114.3h131.5v2.8h-131.5zM335.6 1094.8h18.2v2.8h-18.2zM320.2 1114.3h33.6v5.6h-33.6zM139 1131.1h119.1v2.8h-119.1zM335.6 1094.8h6.1v5.6h-6.1zM326.3 1184.2h15.4v5.6h-15.4zM106.3 1178.6h97.8v5.6h-97.8zM88.9 1223.3h9.8v2.8h-9.8zM70.5 1189.8h28.2v2.8h-28.2zM293.1 1167.4h60.7v5.6h-60.7zM222.3 1187h97.9v5.6h-97.9zM447.8 1203.8h21.7v2.8h-21.7zM469.5 1153.5h48.2v5.6h-48.2zM517.7 1212.1h5v2.8h-5zM258.1 1150.7h35v14h-35zM293.1 1184.2h42.5v16.8h-42.5zM150.2 1161.8h29.6v16.8h-29.6zM293.1 1245.7h42.5v5.6h-42.5zM122.2 1240.1h28v2.8h-28zM122.2 1293.2h100.1v5.6h-100.1zM122.2 1290.4h16.8v2.8h-16.8zM326.3 1287.6h27.5v5.6h-27.5zM341.7 1268h12.1v5.6h-12.1zM139 1284.8h65.1v2.8h-65.1zM161.6 1270.8h158.6v5.6h-158.6zM258.1 1284.8h35v2.8h-35zM258.1 1296h35v5.6h-35zM341.7 1279.2h12.1v5.6h-12.1zM98.7 1290.4h23.5v5.6h-23.5zM98.7 1287.6h81.1v5.6h-81.1zM222.3 1276.4h113.3v2.8h-113.3zM485.7 1270.8h76.3v5.6h-76.3zM562 1248.5h37.9v5.6h-37.9zM522.7 1298.8h77.2v5.6h-77.2zM434 1284.8h13.8v5.6h-13.8zM353.8 1304.4h115.7v5.6h-115.7zM70.5 1240.1h35.8v16.8h-35.8zM98.7 1245.7h40.3v14h-40.3zM179.8 1298.8h78.3v8.4h-78.3zM139 1265.2h22.6v16.8h-22.6zM179.8 1248.5h42.5v16.8h-42.5zM88.9 1245.7h33.3v8.4h-33.3zM581.7 1385.4h18.2v5.6h-18.2zM562 1377h37.9v2.8h-37.9zM526.6 1368.6h35.4v2.8h-35.4zM447.8 1385.4h21.7v5.6h-21.7zM353.8 1351.9h38.4v5.6h-38.4zM485.7 1351.9h96v2.8h-96zM469.5 1329.5h57.1v5.6h-57.1zM469.5 1388.2h16.2v5.6h-16.2zM526.6 1326.7h55.1v2.8h-55.1zM526.6 1371.4h55.1v5.6h-55.1zM581.7 1340.7h18.2v5.6h-18.2zM367.6 1357.5h66.4v5.6h-66.4zM161.6 1363h158.6v2.8h-158.6zM139 1377h40.8v2.8h-40.8zM98.7 1326.7h7.6v5.6h-7.6zM326.3 1382.6h27.5v2.8h-27.5zM150.2 1371.4h11.4v2.8h-11.4zM150.2 1379.8h107.9v2.8h-107.9zM367.6 1377h52.7v16.8h-52.7zM526.6 1379.8h35.4v8.4h-35.4zM434 1374.2h83.7v8.4h-83.7zM434 1340.7h83.7v14h-83.7zM367.6 1351.9h66.4v8.4h-66.4zM353.8 1332.3h66.5v14h-66.5zM485.7 1416.1h37v5.6h-37zM367.6 1418.9h52.7v5.6h-52.7zM367.6 1410.5h80.2v5.6h-80.2zM367.6 1469.2h101.9v5.6h-101.9zM485.7 1483.2h37v2.8h-37zM469.5 1463.6h53.2v2.8h-53.2zM469.5 1446.9h65.5v2.8h-65.5zM562 1438.5h37.9v5.6h-37.9zM535 1402.2h27v2.8h-27zM535 1452.5h64.9v2.8h-64.9zM447.8 1435.7h69.9v5.6h-69.9zM526.6 1449.7h8.4v5.6h-8.4zM447.8 1469.2h21.7v5.6h-21.7zM526.6 1449.7h35.4v2.8h-35.4zM293.1 1427.3h60.7v2.8h-60.7zM106.3 1444.1h97.8v5.6h-97.8zM326.3 1413.3h27.5v2.8h-27.5zM70.5 1444.1h79.7v2.8h-79.7zM204.1 1402.2h116.1v5.6h-116.1zM88.9 1435.7h33.3v2.8h-33.3zM341.7 1466.4h12.1v2.8h-12.1zM522.7 1472h12.3v8.4h-12.3zM447.8 1410.5h74.9v14h-74.9zM522.7 1472h12.3v14h-12.3zM353.8 1407.8h38.4v14h-38.4zM392.2 1463.6h77.3v11.2h-77.3zM392.2 1452.5h77.3v11.2h-77.3zM367.6 1402.2h80.2v11.2h-80.2zM367.6 1416.1h24.6v8.4h-24.6zM204.1 1463.6h116.1v16.8h-116.1zM122.2 1438.5h39.4v16.8h-39.4zM139 1463.6h11.2v11.2h-11.2zM98.7 1516.7h81.1v5.6h-81.1zM161.6 1530.7h42.5v2.8h-42.5zM258.1 1525.1h83.6v2.8h-83.6zM150.2 1502.8h53.9v2.8h-53.9zM122.2 1527.9h100.1v5.6h-100.1zM88.9 1511.2h9.8v5.6h-9.8zM179.8 1488.8h78.3v5.6h-78.3zM88.9 1500h61.3v2.8h-61.3zM335.6 1491.6h18.2v2.8h-18.2zM326.3 1522.3h27.5v5.6h-27.5zM222.3 1513.9h70.8v2.8h-70.8zM161.6 1561.5h158.6v5.6h-158.6zM161.6 1536.3h18.2v5.6h-18.2zM320.2 1567h15.4v2.8h-15.4zM392.2 1497.2h77.3v5.6h-77.3zM420.3 1508.4h102.4v5.6h-102.4zM392.2 1508.4h28.1v2.8h-28.1zM581.7 1522.3h18.2v5.6h-18.2zM447.8 1539.1h37.9v5.6h-37.9zM562 1536.3h37.9v2.8h-37.9zM581.7 1522.3h18.2v2.8h-18.2zM485.7 1558.7h37v5.6h-37zM353.8 1550.3h115.7v5.6h-115.7zM420.3 1536.3h49.2v5.6h-49.2zM122.2 1488.8h16.8v16.8h-16.8zM335.6 1530.7h6.1v16.8h-6.1zM106.3 1505.6h55.3v16.8h-55.3zM70.5 1497.2h51.7v11.2h-51.7zM161.6 1527.9h18.2v8.4h-18.2zM392.2 1525.1h77.3v8.4h-77.3zM392.2 1555.9h77.3v11.2h-77.3zM526.6 1561.5h73.3v8.4h-73.3zM469.5 1511.2h53.2v8.4h-53.2zM434 1639.7h92.6v2.8h-92.6zM522.7 1614.5h39.3v2.8h-39.3zM526.6 1578.2h55.1v2.8h-55.1zM485.7 1600.6h76.3v2.8h-76.3zM526.6 1617.3h73.3v2.8h-73.3zM420.3 1589.4h27.5v5.6h-27.5zM526.6 1636.9h73.3v2.8h-73.3zM420.3 1648.1h49.2v5.6h-49.2zM526.6 1572.6h73.3v5.6h-73.3zM447.8 1614.5h74.9v5.6h-74.9zM367.6 1609h80.2v5.6h-80.2zM562 1586.6h37.9v2.8h-37.9zM326.3 1603.4h9.3v2.8h-9.3zM204.1 1583.8h18.2v2.8h-18.2zM122.2 1645.3h57.6v2.8h-57.6zM70.5 1628.5h35.8v5.6h-35.8zM392.2 1606.2h77.3v14h-77.3zM526.6 1586.6h8.4v14h-8.4zM581.7 1606.2h18.2v14h-18.2zM526.6 1620.1h55.1v16.8h-55.1zM517.7 1595h44.3v16.8h-44.3zM562 1723.5h37.9v2.8h-37.9zM485.7 1720.7h40.9v5.6h-40.9zM392.2 1692.8h55.6v5.6h-55.6zM522.7 1667.6h12.3v5.6h-12.3zM581.7 1667.6h18.2v2.8h-18.2zM353.8 1692.8h66.5v2.8h-66.5zM392.2 1712.3h41.8v2.8h-41.8zM447.8 1692.8h37.9v5.6h-37.9zM392.2 1662h93.5v5.6h-93.5zM469.5 1692.8h57.1v2.8h-57.1zM392.2 1709.6h28.1v5.6h-28.1zM485.7 1723.5h40.9v2.8h-40.9zM485.7 1717.9h40.9v2.8h-40.9zM353.8 1678.8h38.4v2.8h-38.4zM522.7 1684.4h12.3v5.6h-12.3zM353.8 1704h94v2.8h-94zM179.8 1659.3h42.5v2.8h-42.5zM326.3 1698.4h27.5v2.8h-27.5zM335.6 1734.7h18.2v2.8h-18.2zM293.1 1684.4h33.2v5.6h-33.2zM353.8 1684.4h66.5v14h-66.5zM485.7 1717.9h32v11.2h-32zM535 1678.8h64.9v16.8h-64.9zM535 1664.8h64.9v16.8h-64.9zM522.7 1670.4h3.9v11.2h-3.9zM581.7 1704h18.2v8.4h-18.2zM367.6 1709.6h24.6v16.8h-24.6zM469.5 1692.8h48.2v19.6h-48.2zM562 1751.5h37.9v2.8h-37.9zM434 1740.3h88.7v5.6h-88.7zM434 1779.4h88.7v5.6h-88.7zM485.7 1807.4h37v2.8h-37zM434 1745.9h51.7v5.6h-51.7zM434 1779.4h83.7v2.8h-83.7zM526.6 1745.9h35.4v2.8h-35.4zM485.7 1787.8h32v5.6h-32zM469.5 1799h53.2v5.6h-53.2zM447.8 1813h78.8v2.8h-78.8zM88.9 1776.6h17.4v5.6h-17.4zM122.2 1740.3h39.4v2.8h-39.4zM320.2 1740.3h33.6v5.6h-33.6zM517.7 1804.6h5v11.2h-5zM562 1785h19.7v11.2h-19.7zM447.8 1796.2h69.9v14h-69.9zM447.8 1748.7h21.7v14h-21.7zM517.7 1804.6h17.3v14h-17.3zM222.3 1838.1h70.8v2.8h-70.8zM161.6 1857.7h42.5v2.8h-42.5zM98.7 1961.1h7.6v2.8h-7.6zM204.1 1980.6h131.5v5.6h-131.5zM341.7 1972.2h12.1v2.8h-12.1zM106.3 1966.6h32.7v2.8h-32.7zM204.1 1963.8h54v2.8h-54zM106.3 1980.6h15.9v2.8h-15.9zM353.8 1983.4h38.4v2.8h-38.4zM485.7 1963.8h32v5.6h-32zM353.8 1986.2h13.8v2.8h-13.8zM70.8 1895.7h283v7.6h-283zM599.9 1895.7h131.1v7.6h-131.1zM70.8 1946h283v4h-283zM70.8 1966h283v3.5h-283zM70.8 1973h283v3h-283zM130 1981h70v4h-70zM240 1981h90v4h-90zM600 1963h72v5h-72zM600 1977h90v6h-90zM690 1965h41v7h-41z" fill="url(#pSpk)" opacity="0.55"/>
<rect x="70.8" y="983" width="283" height="83.8" fill="url(#pSpk)" opacity="0.5"/>
<rect x="353.8" y="1066.8" width="246.1" height="83.8" fill="url(#pSpk)" opacity="0.5"/>
<rect x="599.9" y="1150.7" width="53.1" height="83.8" fill="url(#pSpk)" opacity="0.5"/>
<rect x="653" y="1234.5" width="19" height="83.8" fill="url(#pSpk)" opacity="0.5"/>
<rect x="672" y="1318.3" width="14" height="83.8" fill="url(#pSpk)" opacity="0.5"/>
<rect x="686" y="1402.2" width="13.6" height="83.8" fill="url(#pSpk)" opacity="0.5"/>
<rect x="699.6" y="1486" width="9.4" height="83.8" fill="url(#pSpk)" opacity="0.5"/>
<rect x="709" y="1569.8" width="6.8" height="83.8" fill="url(#pSpk)" opacity="0.5"/>
<rect x="715.8" y="1653.7" width="5.2" height="83.8" fill="url(#pSpk)" opacity="0.5"/>
<rect x="721" y="1737.5" width="5.9" height="83.8" fill="url(#pSpk)" opacity="0.5"/>
<rect x="726.9" y="1821.3" width="2.5" height="83.8" fill="url(#pSpk)" opacity="0.5"/>
<rect x="729.4" y="1905.2" width="1.6" height="83.8" fill="url(#pSpk)" opacity="0.5"/>
<defs><pattern id="pTex" width="47" height="37" patternUnits="userSpaceOnUse"><rect x="11.2" y="20.1" width="0.9" height="5.6" fill="#c8643a"/><rect x="22.3" y="21.5" width="0.9" height="5.6" fill="#ffffff"/><rect x="22.1" y="20.4" width="0.9" height="6" fill="#ffffff"/><rect x="22.1" y="30.9" width="0.9" height="3.3" fill="#7fa4e0"/><rect x="40.5" y="8.6" width="0.9" height="5.4" fill="#ffffff"/><rect x="24.6" y="27.4" width="0.9" height="2.2" fill="#ffffff"/><rect x="45" y="1.6" width="0.9" height="5.2" fill="#ffffff"/><rect x="12.7" y="22" width="0.9" height="4.7" fill="#7fa4e0"/><rect x="43.3" y="14.6" width="0.9" height="5.8" fill="#7fa4e0"/><rect x="6.3" y="13.5" width="0.9" height="2.1" fill="#ffffff"/><rect x="10.2" y="35.7" width="0.9" height="5" fill="#7fa4e0"/><rect x="40.2" y="15.6" width="0.9" height="4.1" fill="#7fa4e0"/><rect x="25.1" y="15.1" width="0.9" height="5.6" fill="#ffffff"/><rect x="32.1" y="34.4" width="0.9" height="6" fill="#c8643a"/><rect x="31.5" y="6" width="0.9" height="5.8" fill="#c8643a"/><rect x="42.5" y="21.1" width="0.9" height="4.3" fill="#ffffff"/><rect x="46.4" y="9.9" width="0.9" height="1.8" fill="#ffffff"/><rect x="40.1" y="36.6" width="0.9" height="3" fill="#ffffff"/><rect x="3.1" y="33.2" width="0.9" height="2.8" fill="#ffffff"/><rect x="36.1" y="32.3" width="0.9" height="4.2" fill="#ffffff"/><rect x="35.8" y="14" width="0.9" height="4" fill="#c8643a"/><rect x="43.3" y="10.3" width="0.9" height="6" fill="#ffffff"/><rect x="14.6" y="2.8" width="0.9" height="5.8" fill="#ffffff"/><rect x="45.7" y="10.8" width="0.9" height="2.2" fill="#c8643a"/><rect x="2" y="32.1" width="0.9" height="3.1" fill="#c8643a"/><rect x="6.5" y="31.9" width="0.9" height="3.6" fill="#7fa4e0"/><rect x="24.4" y="23.8" width="0.9" height="4.3" fill="#ffffff"/><rect x="44.2" y="18.8" width="0.9" height="4.4" fill="#7fa4e0"/><rect x="33.6" y="34.6" width="0.9" height="5.9" fill="#7fa4e0"/><rect x="24.5" y="20.3" width="0.9" height="5" fill="#ffffff"/><rect x="46.4" y="11.7" width="0.9" height="4.3" fill="#7fa4e0"/><rect x="29.7" y="2.2" width="0.9" height="3.6" fill="#c8643a"/><rect x="31.9" y="13" width="0.9" height="4.8" fill="#c8643a"/><rect x="1" y="2.2" width="0.9" height="5.8" fill="#ffffff"/><rect x="11.8" y="16.9" width="0.9" height="2.3" fill="#c8643a"/><rect x="8.7" y="28" width="0.9" height="2.9" fill="#c8643a"/><rect x="17.7" y="28.6" width="0.9" height="5.9" fill="#ffffff"/><rect x="32.1" y="4.9" width="0.9" height="4.4" fill="#ffffff"/><rect x="12.7" y="12.1" width="0.9" height="4.4" fill="#7fa4e0"/><rect x="4.6" y="22.2" width="0.9" height="4.5" fill="#c8643a"/><rect x="10.5" y="30" width="0.9" height="1.9" fill="#ffffff"/><rect x="34.9" y="8.1" width="0.9" height="2.7" fill="#7fa4e0"/><rect x="37" y="1.3" width="0.9" height="2.9" fill="#ffffff"/><rect x="39.3" y="21.3" width="0.9" height="3" fill="#c8643a"/><rect x="38.9" y="3.2" width="0.9" height="4.2" fill="#c8643a"/><rect x="19.8" y="19.2" width="0.9" height="3.6" fill="#c8643a"/><rect x="29.8" y="10.7" width="0.9" height="1.7" fill="#7fa4e0"/><rect x="19.4" y="7.4" width="0.9" height="5.7" fill="#7fa4e0"/><rect x="41.4" y="36.5" width="0.9" height="4" fill="#7fa4e0"/><rect x="46.3" y="26.5" width="0.9" height="4.9" fill="#ffffff"/><rect x="39.3" y="24.5" width="0.9" height="3.9" fill="#c8643a"/><rect x="41.8" y="31.9" width="0.9" height="2" fill="#c8643a"/><rect x="11.5" y="1.3" width="0.9" height="5.5" fill="#ffffff"/><rect x="42.3" y="21.3" width="0.9" height="3.7" fill="#ffffff"/><rect x="5.7" y="18.6" width="0.9" height="4.5" fill="#ffffff"/><rect x="24.7" y="15.3" width="0.9" height="3" fill="#ffffff"/><rect x="11.9" y="31.9" width="0.9" height="5.2" fill="#7fa4e0"/><rect x="2.9" y="8.2" width="0.9" height="3.9" fill="#ffffff"/><rect x="38.4" y="6.3" width="0.9" height="5.6" fill="#c8643a"/><rect x="37.9" y="30.5" width="0.9" height="3.7" fill="#ffffff"/></pattern></defs>
<rect x="70.8" y="983" width="660.2" height="1006" fill="url(#pTex)" opacity="0.3"/>
<text x="760.3" y="997.3" font-size="15">CCL3</text>
<path d="M736 986H742.5L749 991.7H755.8" stroke="#000" stroke-width="1.1" fill="none"/>
<text x="760.3" y="1012.5" font-size="15">APOC1</text>
<path d="M736 990.5H742.5L749 1006.9H755.8" stroke="#000" stroke-width="1.1" fill="none"/>
<text x="760.3" y="1070" font-size="15">PTPRZ1</text>
<path d="M736 1069.5H742.5L749 1064.4H755.8" stroke="#000" stroke-width="1.1" fill="none"/>
<text x="760.3" y="1085" font-size="15">CLU</text>
<path d="M736 1073.5H742.5L749 1079.4H755.8" stroke="#000" stroke-width="1.1" fill="none"/>
<text x="760.3" y="1153.8" font-size="15">CCL5</text>
<path d="M736 1152.5H742.5L749 1148.2H755.8" stroke="#000" stroke-width="1.1" fill="none"/>
<text x="760.3" y="1168.5" font-size="15">IL32</text>
<path d="M736 1156.5H742.5L749 1162.9H755.8" stroke="#000" stroke-width="1.1" fill="none"/>
<text x="760.3" y="1237.5" font-size="15">S100A9</text>
<path d="M736 1236H742.5L749 1231.9H755.8" stroke="#000" stroke-width="1.1" fill="none"/>
<text x="760.3" y="1252.2" font-size="15">S100A8</text>
<path d="M736 1240.5H742.5L749 1246.6H755.8" stroke="#000" stroke-width="1.1" fill="none"/>
<text x="760.3" y="1320.8" font-size="15">PLP1</text>
<path d="M736 1319H742.5L749 1315.2H755.8" stroke="#000" stroke-width="1.1" fill="none"/>
<text x="760.3" y="1336" font-size="15">TF</text>
<path d="M736 1323.5H742.5L749 1330.4H755.8" stroke="#000" stroke-width="1.1" fill="none"/>
<text x="760.3" y="1404.8" font-size="15">HIST1H4C</text>
<path d="M736 1403H742.5L749 1399.2H755.8" stroke="#000" stroke-width="1.1" fill="none"/>
<text x="760.3" y="1419.6" font-size="15">HIST1H1B</text>
<path d="M736 1407.5H742.5L749 1414H755.8" stroke="#000" stroke-width="1.1" fill="none"/>
<text x="760.3" y="1488" font-size="15">TGFBI</text>
<path d="M736 1486.5H742.5L749 1482.4H755.8" stroke="#000" stroke-width="1.1" fill="none"/>
<text x="760.3" y="1502.8" font-size="15">IBSP</text>
<path d="M736 1491H742.5L749 1497.2H755.8" stroke="#000" stroke-width="1.1" fill="none"/>
<text x="760.3" y="1572" font-size="15">DCN</text>
<path d="M736 1570.5H742.5L749 1566.4H755.8" stroke="#000" stroke-width="1.1" fill="none"/>
<text x="760.3" y="1587.8" font-size="15">COL3A1</text>
<path d="M736 1575H742.5L749 1582.2H755.8" stroke="#000" stroke-width="1.1" fill="none"/>
<text x="760.3" y="1606.5" font-size="15">IGFBP7</text>
<path d="M736 1601.5H755.8" stroke="#000" stroke-width="1.1" fill="none"/>
<text x="760.3" y="1661.6" font-size="15">STMN2</text>
<path d="M736 1656.6H755.8" stroke="#000" stroke-width="1.1" fill="none"/>
<text x="760.3" y="1734" font-size="15">CCT2</text>
<path d="M736 1737.5H742.5L749 1728.4H755.8" stroke="#000" stroke-width="1.1" fill="none"/>
<text x="760.3" y="1748.7" font-size="15">CLDN5</text>
<path d="M736 1742H742.5L749 1743.1H755.8" stroke="#000" stroke-width="1.1" fill="none"/>
<text x="760.3" y="1823" font-size="15">IGKC</text>
<path d="M736 1821H742.5L749 1817.4H755.8" stroke="#000" stroke-width="1.1" fill="none"/>
<text x="760.3" y="1838.8" font-size="15">IGLC2</text>
<path d="M736 1825.5H742.5L749 1833.2H755.8" stroke="#000" stroke-width="1.1" fill="none"/>
<text x="760.3" y="1906.7" font-size="15">TPSAB1</text>
<path d="M736 1904.5H742.5L749 1901.1H755.8" stroke="#000" stroke-width="1.1" fill="none"/>
<text x="760.3" y="1922.5" font-size="15">TPSB2</text>
<path d="M736 1909H742.5L749 1916.9H755.8" stroke="#000" stroke-width="1.1" fill="none"/>
<text x="842" y="1115" font-size="16.3" font-weight="bold">logcounts</text>
<defs><linearGradient id="gHC" x1="0" y1="0" x2="0" y2="1"><stop offset="0" stop-color="#a83a0c"/><stop offset="0.25" stop-color="#d48a6a"/><stop offset="0.5" stop-color="#ffffff"/><stop offset="0.75" stop-color="#8fb0e6"/><stop offset="1" stop-color="#0b7fd4"/></linearGradient></defs>
<rect x="842" y="1124.2" width="18.9" height="98.9" fill="url(#gHC)"/>
<path d="M842 1127.5h3M857.9 1127.5h3M842 1220h3M857.9 1220h3" stroke="#fff" stroke-width="1"/>
<text x="865" y="1133" font-size="16.5">2</text>
<text x="865" y="1181" font-size="16.5">0</text>
<text x="865" y="1228.5" font-size="16.5">−2</text>
<text x="842.4" y="1254.2" font-size="16.3" font-weight="bold">Cluster</text>
<rect x="842.4" y="1264.7" width="17.5" height="17.3" fill="#063d5c"/>
<text x="865.3" y="1279.6" font-size="16.5">C1</text>
<rect x="842.4" y="1283.5" width="17.5" height="17.3" fill="#1e6684"/>
<text x="865.3" y="1298.4" font-size="16.5">C2</text>
<rect x="842.4" y="1302.4" width="17.5" height="17.3" fill="#2a7bd0"/>
<text x="865.3" y="1317.3" font-size="16.5">C3</text>
<rect x="842.4" y="1321.2" width="17.5" height="17.3" fill="#8763b3"/>
<text x="865.3" y="1336.1" font-size="16.5">C4</text>
<rect x="842.4" y="1340" width="17.5" height="17.3" fill="#a65aa0"/>
<text x="865.3" y="1354.9" font-size="16.5">C5</text>
<rect x="842.4" y="1358.9" width="17.5" height="17.3" fill="#d75a9a"/>
<text x="865.3" y="1373.8" font-size="16.5">C6</text>
<rect x="842.4" y="1377.7" width="17.5" height="17.3" fill="#e06578"/>
<text x="865.3" y="1392.6" font-size="16.5">C7</text>
<rect x="842.4" y="1396.5" width="17.5" height="17.3" fill="#ec5663"/>
<text x="865.3" y="1411.4" font-size="16.5">C8</text>
<rect x="842.4" y="1415.3" width="17.5" height="17.3" fill="#e57b2c"/>
<text x="865.3" y="1430.2" font-size="16.5">C9</text>
<rect x="842.4" y="1434.2" width="17.5" height="17.3" fill="#fb9f0e"/>
<text x="865.3" y="1449.1" font-size="16.5">C10</text>
<rect x="842.4" y="1453" width="17.5" height="17.3" fill="#a0bc5c"/>
<text x="865.3" y="1467.9" font-size="16.5">C11</text>
<rect x="842.4" y="1471.8" width="17.5" height="17.3" fill="#88ae30"/>
<text x="865.3" y="1486.7" font-size="16.5">C12</text>
<text x="842.4" y="1521" font-size="16.3" font-weight="bold">Patient</text>
<rect x="842.4" y="1531" width="17.5" height="17.3" fill="#063754"/>
<text x="865.3" y="1545.9" font-size="16.5">LGG−03</text>
<rect x="842.4" y="1549.8" width="17.5" height="17.3" fill="#14868c"/>
<text x="865.3" y="1564.7" font-size="16.5">LGG−04</text>
<rect x="842.4" y="1568.7" width="17.5" height="17.3" fill="#34497f"/>
<text x="865.3" y="1583.6" font-size="16.5">ndGBM−01</text>
<rect x="842.4" y="1587.5" width="17.5" height="17.3" fill="#2a7fd5"/>
<text x="865.3" y="1602.4" font-size="16.5">ndGBM−02</text>
<rect x="842.4" y="1606.3" width="17.5" height="17.3" fill="#66509a"/>
<text x="865.3" y="1621.2" font-size="16.5">ndGBM−03</text>
<rect x="842.4" y="1625.2" width="17.5" height="17.3" fill="#a07ccf"/>
<text x="865.3" y="1640.1" font-size="16.5">ndGBM−04</text>
<rect x="842.4" y="1644" width="17.5" height="17.3" fill="#9c4d95"/>
<text x="865.3" y="1658.9" font-size="16.5">ndGBM−05</text>
<rect x="842.4" y="1662.8" width="17.5" height="17.3" fill="#e07fc5"/>
<text x="865.3" y="1677.7" font-size="16.5">ndGBM−06</text>
<rect x="842.4" y="1681.6" width="17.5" height="17.3" fill="#d04b8c"/>
<text x="865.3" y="1696.5" font-size="16.5">ndGBM−07</text>
<rect x="842.4" y="1700.5" width="17.5" height="17.3" fill="#ef7088"/>
<text x="865.3" y="1715.4" font-size="16.5">ndGBM−08</text>
<rect x="842.4" y="1719.3" width="17.5" height="17.3" fill="#c03c42"/>
<text x="865.3" y="1734.2" font-size="16.5">ndGBM−09</text>
<rect x="842.4" y="1738.1" width="17.5" height="17.3" fill="#f05a68"/>
<text x="865.3" y="1753" font-size="16.5">ndGBM−10</text>
<rect x="842.4" y="1757" width="17.5" height="17.3" fill="#e07b22"/>
<text x="865.3" y="1771.9" font-size="16.5">ndGBM−11</text>
<rect x="842.4" y="1775.8" width="17.5" height="17.3" fill="#ff7f45"/>
<text x="865.3" y="1790.7" font-size="16.5">rGBM−01</text>
<rect x="842.4" y="1794.6" width="17.5" height="17.3" fill="#ffa500"/>
<text x="865.3" y="1809.5" font-size="16.5">rGBM−02</text>
<rect x="842.4" y="1813.5" width="17.5" height="17.3" fill="#f2d055"/>
<text x="865.3" y="1828.4" font-size="16.5">rGBM−03</text>
<rect x="842.4" y="1832.3" width="17.5" height="17.3" fill="#3aa566"/>
<text x="865.3" y="1847.2" font-size="16.5">rGBM−04</text>
<rect x="842.4" y="1851.1" width="17.5" height="17.3" fill="#8db034"/>
<text x="865.3" y="1866" font-size="16.5">rGBM−05</text>
<text x="972" y="898.6" font-size="40" fill="#1c1b2e">d</text>
<rect x="1079.2" y="929" width="676" height="411.8" fill="#fff" stroke="#dcdcdc" stroke-width="2"/>
<circle cx="1197" cy="1321.6" r="3.13" fill="#4c02a1"/>
<circle cx="1222.9" cy="1321.6" r="4.92" fill="#4c02a1"/>
<circle cx="1248.8" cy="1321.6" r="2.24" fill="#5c01a6"/>
<circle cx="1274.7" cy="1321.6" r="7.38" fill="#6a00a8"/>
<circle cx="1378.3" cy="1321.6" r="5.37" fill="#7e03a8"/>
<circle cx="1430.1" cy="1321.6" r="4.47" fill="#f0f921"/>
<circle cx="1456" cy="1321.6" r="10.74" fill="#8f0da4"/>
<circle cx="1481.9" cy="1321.6" r="5.82" fill="#c43e7f"/>
<circle cx="1507.8" cy="1321.6" r="6.71" fill="#eb7655"/>
<circle cx="1533.7" cy="1321.6" r="5.59" fill="#6a00a8"/>
<circle cx="1559.6" cy="1321.6" r="11.63" fill="#f7c13a"/>
<circle cx="1585.5" cy="1321.6" r="4.25" fill="#cc4778"/>
<circle cx="1611.4" cy="1321.6" r="2.01" fill="#6a00a8"/>
<circle cx="1689.1" cy="1321.6" r="8.28" fill="#f0874b"/>
<circle cx="1093.4" cy="1287.7" r="8.50" fill="#f0f921"/>
<circle cx="1119.3" cy="1287.7" r="12.53" fill="#ed7953"/>
<circle cx="1145.2" cy="1287.7" r="10.07" fill="#fbb32f"/>
<circle cx="1171.1" cy="1287.7" r="10.51" fill="#ef7f4f"/>
<circle cx="1197" cy="1287.7" r="10.07" fill="#f0f921"/>
<circle cx="1222.9" cy="1287.7" r="12.53" fill="#e16462"/>
<circle cx="1248.8" cy="1287.7" r="7.83" fill="#f89540"/>
<circle cx="1274.7" cy="1287.7" r="4.25" fill="#6a00a8"/>
<circle cx="1300.6" cy="1287.7" r="2.24" fill="#6a00a8"/>
<circle cx="1326.5" cy="1287.7" r="2.24" fill="#6a00a8"/>
<circle cx="1352.4" cy="1287.7" r="2.24" fill="#6a00a8"/>
<circle cx="1456" cy="1287.7" r="2.01" fill="#3e049c"/>
<circle cx="1559.6" cy="1287.7" r="2.46" fill="#3e049c"/>
<circle cx="1740.9" cy="1287.7" r="3.13" fill="#5c01a6"/>
<circle cx="1197" cy="1253.7" r="2.01" fill="#5c01a6"/>
<circle cx="1222.9" cy="1253.7" r="2.01" fill="#5c01a6"/>
<circle cx="1274.7" cy="1253.7" r="6.71" fill="#6a00a8"/>
<circle cx="1326.5" cy="1253.7" r="2.01" fill="#6a00a8"/>
<circle cx="1378.3" cy="1253.7" r="2.01" fill="#6a00a8"/>
<circle cx="1456" cy="1253.7" r="12.53" fill="#f0f921"/>
<circle cx="1533.7" cy="1253.7" r="2.46" fill="#6a00a8"/>
<circle cx="1559.6" cy="1253.7" r="2.24" fill="#5c01a6"/>
<circle cx="1611.4" cy="1253.7" r="7.38" fill="#f0f921"/>
<circle cx="1637.3" cy="1253.7" r="10.51" fill="#f0f921"/>
<circle cx="1663.2" cy="1253.7" r="5.59" fill="#f0f921"/>
<circle cx="1689.1" cy="1253.7" r="4.03" fill="#9c179e"/>
<circle cx="1145.2" cy="1219.8" r="2.24" fill="#5c01a6"/>
<circle cx="1197" cy="1219.8" r="2.24" fill="#5c01a6"/>
<circle cx="1222.9" cy="1219.8" r="3.36" fill="#5c01a6"/>
<circle cx="1274.7" cy="1219.8" r="7.16" fill="#6a00a8"/>
<circle cx="1378.3" cy="1219.8" r="6.49" fill="#8f0da4"/>
<circle cx="1456" cy="1219.8" r="12.53" fill="#d5546e"/>
<circle cx="1481.9" cy="1219.8" r="7.83" fill="#f3d62e"/>
<circle cx="1507.8" cy="1219.8" r="8.28" fill="#f4e22a"/>
<circle cx="1533.7" cy="1219.8" r="10.74" fill="#f0f921"/>
<circle cx="1559.6" cy="1219.8" r="10.74" fill="#e16462"/>
<circle cx="1585.5" cy="1219.8" r="5.82" fill="#f0f921"/>
<circle cx="1611.4" cy="1219.8" r="4.47" fill="#7e03a8"/>
<circle cx="1637.3" cy="1219.8" r="4.25" fill="#7201a8"/>
<circle cx="1663.2" cy="1219.8" r="2.91" fill="#7e03a8"/>
<circle cx="1689.1" cy="1219.8" r="6.94" fill="#b83289"/>
<circle cx="1093.4" cy="1185.9" r="2.46" fill="#6a00a8"/>
<circle cx="1119.3" cy="1185.9" r="8.50" fill="#7e03a8"/>
<circle cx="1145.2" cy="1185.9" r="11.19" fill="#f89540"/>
<circle cx="1171.1" cy="1185.9" r="4.47" fill="#6a00a8"/>
<circle cx="1197" cy="1185.9" r="5.37" fill="#8f0da4"/>
<circle cx="1222.9" cy="1185.9" r="13.20" fill="#f0f921"/>
<circle cx="1248.8" cy="1185.9" r="2.68" fill="#5c01a6"/>
<circle cx="1274.7" cy="1185.9" r="13.65" fill="#f0f921"/>
<circle cx="1456" cy="1185.9" r="2.01" fill="#3e049c"/>
<circle cx="1559.6" cy="1185.9" r="2.46" fill="#3e049c"/>
<circle cx="1093.4" cy="1151.9" r="8.50" fill="#8f0da4"/>
<circle cx="1119.3" cy="1151.9" r="12.75" fill="#fbb32f"/>
<circle cx="1145.2" cy="1151.9" r="11.19" fill="#cc4778"/>
<circle cx="1171.1" cy="1151.9" r="12.53" fill="#f0e52a"/>
<circle cx="1197" cy="1151.9" r="10.29" fill="#b83289"/>
<circle cx="1222.9" cy="1151.9" r="12.75" fill="#a82296"/>
<circle cx="1248.8" cy="1151.9" r="10.29" fill="#f7d13d"/>
<circle cx="1274.7" cy="1151.9" r="3.58" fill="#5c01a6"/>
<circle cx="1559.6" cy="1151.9" r="2.24" fill="#3e049c"/>
<circle cx="1740.9" cy="1151.9" r="12.08" fill="#f7d13d"/>
<circle cx="1171.1" cy="1118" r="2.46" fill="#4c02a1"/>
<circle cx="1197" cy="1118" r="3.58" fill="#4c02a1"/>
<circle cx="1222.9" cy="1118" r="5.37" fill="#4c02a1"/>
<circle cx="1274.7" cy="1118" r="6.94" fill="#6a00a8"/>
<circle cx="1378.3" cy="1118" r="5.37" fill="#7201a8"/>
<circle cx="1430.1" cy="1118" r="2.68" fill="#b12a90"/>
<circle cx="1456" cy="1118" r="12.08" fill="#8f0da4"/>
<circle cx="1481.9" cy="1118" r="8.28" fill="#d5546e"/>
<circle cx="1507.8" cy="1118" r="4.47" fill="#7201a8"/>
<circle cx="1533.7" cy="1118" r="8.28" fill="#7201a8"/>
<circle cx="1559.6" cy="1118" r="12.30" fill="#ef7f4f"/>
<circle cx="1585.5" cy="1118" r="5.59" fill="#b83289"/>
<circle cx="1611.4" cy="1118" r="2.68" fill="#5c01a6"/>
<circle cx="1689.1" cy="1118" r="10.74" fill="#fbb32f"/>
<circle cx="1740.9" cy="1118" r="10.29" fill="#f9bf33"/>
<circle cx="1093.4" cy="1084.1" r="6.94" fill="#8f0da4"/>
<circle cx="1119.3" cy="1084.1" r="2.68" fill="#4c02a1"/>
<circle cx="1145.2" cy="1084.1" r="1.79" fill="#5c01a6"/>
<circle cx="1171.1" cy="1084.1" r="6.49" fill="#8b0aa5"/>
<circle cx="1197" cy="1084.1" r="4.92" fill="#7e03a8"/>
<circle cx="1222.9" cy="1084.1" r="3.58" fill="#4c02a1"/>
<circle cx="1248.8" cy="1084.1" r="6.26" fill="#6a00a8"/>
<circle cx="1274.7" cy="1084.1" r="4.03" fill="#6a00a8"/>
<circle cx="1300.6" cy="1084.1" r="10.29" fill="#f0f921"/>
<circle cx="1326.5" cy="1084.1" r="8.05" fill="#f0f921"/>
<circle cx="1456" cy="1084.1" r="2.01" fill="#3e049c"/>
<circle cx="1533.7" cy="1084.1" r="2.46" fill="#6a00a8"/>
<circle cx="1559.6" cy="1084.1" r="3.36" fill="#3e049c"/>
<circle cx="1689.1" cy="1084.1" r="5.82" fill="#7e03a8"/>
<circle cx="1740.9" cy="1084.1" r="2.46" fill="#6a00a8"/>
<circle cx="1093.4" cy="1050.2" r="7.16" fill="#e16462"/>
<circle cx="1119.3" cy="1050.2" r="11.19" fill="#e16462"/>
<circle cx="1145.2" cy="1050.2" r="5.82" fill="#a82296"/>
<circle cx="1171.1" cy="1050.2" r="5.82" fill="#7201a8"/>
<circle cx="1197" cy="1050.2" r="5.37" fill="#7e03a8"/>
<circle cx="1222.9" cy="1050.2" r="8.95" fill="#6a00a8"/>
<circle cx="1248.8" cy="1050.2" r="5.37" fill="#9c179e"/>
<circle cx="1274.7" cy="1050.2" r="3.80" fill="#6a00a8"/>
<circle cx="1456" cy="1050.2" r="2.01" fill="#3e049c"/>
<circle cx="1559.6" cy="1050.2" r="2.24" fill="#3e049c"/>
<circle cx="1740.9" cy="1050.2" r="2.01" fill="#6a00a8"/>
<circle cx="1119.3" cy="1016.2" r="2.46" fill="#4c02a1"/>
<circle cx="1145.2" cy="1016.2" r="2.01" fill="#5c01a6"/>
<circle cx="1171.1" cy="1016.2" r="7.83" fill="#b12a90"/>
<circle cx="1197" cy="1016.2" r="4.92" fill="#8f0da4"/>
<circle cx="1222.9" cy="1016.2" r="2.91" fill="#4c02a1"/>
<circle cx="1248.8" cy="1016.2" r="4.92" fill="#8b0aa5"/>
<circle cx="1274.7" cy="1016.2" r="3.36" fill="#5c01a6"/>
<circle cx="1300.6" cy="1016.2" r="2.46" fill="#9c179e"/>
<circle cx="1326.5" cy="1016.2" r="2.46" fill="#7e03a8"/>
<circle cx="1352.4" cy="1016.2" r="2.68" fill="#9c179e"/>
<circle cx="1378.3" cy="1016.2" r="10.74" fill="#f0f921"/>
<circle cx="1404.2" cy="1016.2" r="5.82" fill="#f0f921"/>
<circle cx="1430.1" cy="1016.2" r="1.79" fill="#6a00a8"/>
<circle cx="1456" cy="1016.2" r="2.91" fill="#3e049c"/>
<circle cx="1481.9" cy="1016.2" r="2.01" fill="#5c01a6"/>
<circle cx="1507.8" cy="1016.2" r="2.24" fill="#5c01a6"/>
<circle cx="1533.7" cy="1016.2" r="2.46" fill="#6a00a8"/>
<circle cx="1559.6" cy="1016.2" r="2.91" fill="#4c02a1"/>
<circle cx="1585.5" cy="1016.2" r="2.68" fill="#7e03a8"/>
<circle cx="1611.4" cy="1016.2" r="1.79" fill="#6a00a8"/>
<circle cx="1637.3" cy="1016.2" r="1.79" fill="#6a00a8"/>
<circle cx="1689.1" cy="1016.2" r="2.46" fill="#3e049c"/>
<circle cx="1740.9" cy="1016.2" r="1.79" fill="#6a00a8"/>
<circle cx="1197" cy="982.3" r="2.24" fill="#6a00a8"/>
<circle cx="1222.9" cy="982.3" r="2.24" fill="#5c01a6"/>
<circle cx="1274.7" cy="982.3" r="4.47" fill="#6a00a8"/>
<circle cx="1378.3" cy="982.3" r="4.70" fill="#7201a8"/>
<circle cx="1456" cy="982.3" r="8.95" fill="#8f0da4"/>
<circle cx="1481.9" cy="982.3" r="2.24" fill="#6a00a8"/>
<circle cx="1507.8" cy="982.3" r="2.46" fill="#6a00a8"/>
<circle cx="1533.7" cy="982.3" r="2.68" fill="#6a00a8"/>
<circle cx="1559.6" cy="982.3" r="3.13" fill="#5c01a6"/>
<circle cx="1611.4" cy="982.3" r="3.13" fill="#7e03a8"/>
<circle cx="1637.3" cy="982.3" r="2.91" fill="#7e03a8"/>
<circle cx="1663.2" cy="982.3" r="2.24" fill="#7e03a8"/>
<circle cx="1689.1" cy="982.3" r="2.46" fill="#3e049c"/>
<circle cx="1715" cy="982.3" r="10.29" fill="#f0f921"/>
<circle cx="1740.9" cy="982.3" r="2.01" fill="#6a00a8"/>
<circle cx="1197" cy="948.4" r="1.79" fill="#6a00a8"/>
<circle cx="1274.7" cy="948.4" r="6.49" fill="#6a00a8"/>
<circle cx="1352.4" cy="948.4" r="5.82" fill="#f0f921"/>
<circle cx="1456" cy="948.4" r="8.50" fill="#9316a1"/>
<circle cx="1481.9" cy="948.4" r="4.47" fill="#d5546e"/>
<circle cx="1507.8" cy="948.4" r="4.03" fill="#cc4778"/>
<circle cx="1533.7" cy="948.4" r="2.46" fill="#7201a8"/>
<circle cx="1559.6" cy="948.4" r="3.80" fill="#5c01a6"/>
<circle cx="1611.4" cy="948.4" r="2.68" fill="#7e03a8"/>
<circle cx="1637.3" cy="948.4" r="2.46" fill="#7e03a8"/>
<circle cx="1663.2" cy="948.4" r="2.01" fill="#7e03a8"/>
<circle cx="1689.1" cy="948.4" r="2.68" fill="#a62098"/>
<path d="M1093.4 1321.6h0M1119.3 1321.6h0M1145.2 1321.6h0M1171.1 1321.6h0M1300.6 1321.6h0M1326.5 1321.6h0M1352.4 1321.6h0M1404.2 1321.6h0M1637.3 1321.6h0M1663.2 1321.6h0M1715 1321.6h0M1740.9 1321.6h0M1378.3 1287.7h0M1404.2 1287.7h0M1430.1 1287.7h0M1481.9 1287.7h0M1507.8 1287.7h0M1533.7 1287.7h0M1585.5 1287.7h0M1611.4 1287.7h0M1637.3 1287.7h0M1663.2 1287.7h0M1689.1 1287.7h0M1715 1287.7h0M1093.4 1253.7h0M1119.3 1253.7h0M1145.2 1253.7h0M1171.1 1253.7h0M1248.8 1253.7h0M1300.6 1253.7h0M1352.4 1253.7h0M1404.2 1253.7h0M1430.1 1253.7h0M1481.9 1253.7h0M1507.8 1253.7h0M1585.5 1253.7h0M1715 1253.7h0M1740.9 1253.7h0M1093.4 1219.8h0M1119.3 1219.8h0M1171.1 1219.8h0M1248.8 1219.8h0M1300.6 1219.8h0M1326.5 1219.8h0M1352.4 1219.8h0M1404.2 1219.8h0M1430.1 1219.8h0M1715 1219.8h0M1740.9 1219.8h0M1300.6 1185.9h0M1326.5 1185.9h0M1352.4 1185.9h0M1378.3 1185.9h0M1404.2 1185.9h0M1430.1 1185.9h0M1481.9 1185.9h0M1507.8 1185.9h0M1533.7 1185.9h0M1585.5 1185.9h0M1611.4 1185.9h0M1637.3 1185.9h0M1663.2 1185.9h0M1689.1 1185.9h0M1715 1185.9h0M1740.9 1185.9h0M1300.6 1151.9h0M1326.5 1151.9h0M1352.4 1151.9h0M1378.3 1151.9h0M1404.2 1151.9h0M1430.1 1151.9h0M1456 1151.9h0M1481.9 1151.9h0M1507.8 1151.9h0M1533.7 1151.9h0M1585.5 1151.9h0M1611.4 1151.9h0M1637.3 1151.9h0M1663.2 1151.9h0M1689.1 1151.9h0M1715 1151.9h0M1093.4 1118h0M1119.3 1118h0M1145.2 1118h0M1248.8 1118h0M1300.6 1118h0M1326.5 1118h0M1352.4 1118h0M1404.2 1118h0M1637.3 1118h0M1663.2 1118h0M1715 1118h0M1352.4 1084.1h0M1378.3 1084.1h0M1404.2 1084.1h0M1430.1 1084.1h0M1481.9 1084.1h0M1507.8 1084.1h0M1585.5 1084.1h0M1611.4 1084.1h0M1637.3 1084.1h0M1663.2 1084.1h0M1715 1084.1h0M1300.6 1050.2h0M1326.5 1050.2h0M1352.4 1050.2h0M1378.3 1050.2h0M1404.2 1050.2h0M1430.1 1050.2h0M1481.9 1050.2h0M1507.8 1050.2h0M1533.7 1050.2h0M1585.5 1050.2h0M1611.4 1050.2h0M1637.3 1050.2h0M1663.2 1050.2h0M1689.1 1050.2h0M1715 1050.2h0M1093.4 1016.2h0M1663.2 1016.2h0M1715 1016.2h0M1093.4 982.3h0M1119.3 982.3h0M1145.2 982.3h0M1171.1 982.3h0M1248.8 982.3h0M1300.6 982.3h0M1326.5 982.3h0M1352.4 982.3h0M1404.2 982.3h0M1430.1 982.3h0M1585.5 982.3h0M1093.4 948.4h0M1119.3 948.4h0M1145.2 948.4h0M1171.1 948.4h0M1222.9 948.4h0M1248.8 948.4h0M1300.6 948.4h0M1326.5 948.4h0M1378.3 948.4h0M1404.2 948.4h0M1430.1 948.4h0M1585.5 948.4h0M1715 948.4h0M1740.9 948.4h0" stroke="#6300a7" stroke-width="2.8" stroke-linecap="round" fill="none"/>
<text x="1066" y="1328.5" font-size="19.6" text-anchor="end">C1</text>
<text x="1066" y="1294.6" font-size="19.6" text-anchor="end">C2</text>
<text x="1066" y="1260.6" font-size="19.6" text-anchor="end">C3</text>
<text x="1066" y="1226.7" font-size="19.6" text-anchor="end">C4</text>
<text x="1066" y="1192.8" font-size="19.6" text-anchor="end">C5</text>
<text x="1066" y="1158.8" font-size="19.6" text-anchor="end">C6</text>
<text x="1066" y="1124.9" font-size="19.6" text-anchor="end">C7</text>
<text x="1066" y="1091" font-size="19.6" text-anchor="end">C8</text>
<text x="1066" y="1057.1" font-size="19.6" text-anchor="end">C9</text>
<text x="1066" y="1023.1" font-size="19.6" text-anchor="end">C10</text>
<text x="1066" y="989.2" font-size="19.6" text-anchor="end">C11</text>
<text x="1066" y="955.3" font-size="19.6" text-anchor="end">C12</text>
<path d="M1072 1321.6H1079M1072 1287.7H1079M1072 1253.7H1079M1072 1219.8H1079M1072 1185.9H1079M1072 1151.9H1079M1072 1118H1079M1072 1084.1H1079M1072 1050.2H1079M1072 1016.2H1079M1072 982.3H1079M1072 948.4H1079M1093.4 1342V1348.5M1119.3 1342V1348.5M1145.2 1342V1348.5M1171.1 1342V1348.5M1197 1342V1348.5M1222.9 1342V1348.5M1248.8 1342V1348.5M1274.7 1342V1348.5M1300.6 1342V1348.5M1326.5 1342V1348.5M1352.4 1342V1348.5M1378.3 1342V1348.5M1404.2 1342V1348.5M1430.1 1342V1348.5M1456 1342V1348.5M1481.9 1342V1348.5M1507.8 1342V1348.5M1533.7 1342V1348.5M1559.6 1342V1348.5M1585.5 1342V1348.5M1611.4 1342V1348.5M1637.3 1342V1348.5M1663.2 1342V1348.5M1689.1 1342V1348.5M1715 1342V1348.5M1740.9 1342V1348.5" stroke="#333" stroke-width="1" fill="none"/>
<text transform="translate(1103.4 1364.5) rotate(-45)" font-size="20" text-anchor="end">PDGFRA</text>
<text transform="translate(1129.3 1364.5) rotate(-45)" font-size="20" text-anchor="end">SOX2</text>
<text transform="translate(1155.2 1364.5) rotate(-45)" font-size="20" text-anchor="end">OLIG1</text>
<text transform="translate(1181.1 1364.5) rotate(-45)" font-size="20" text-anchor="end">NES</text>
<text transform="translate(1207 1364.5) rotate(-45)" font-size="20" text-anchor="end">GFAP</text>
<text transform="translate(1232.9 1364.5) rotate(-45)" font-size="20" text-anchor="end">S100B</text>
<text transform="translate(1258.8 1364.5) rotate(-45)" font-size="20" text-anchor="end">EGFR</text>
<text transform="translate(1284.7 1364.5) rotate(-45)" font-size="20" text-anchor="end">MBP</text>
<text transform="translate(1310.6 1364.5) rotate(-45)" font-size="20" text-anchor="end">PDGFRB</text>
<text transform="translate(1336.5 1364.5) rotate(-45)" font-size="20" text-anchor="end">ACTA2</text>
<text transform="translate(1362.4 1364.5) rotate(-45)" font-size="20" text-anchor="end">PROM1</text>
<text transform="translate(1388.3 1364.5) rotate(-45)" font-size="20" text-anchor="end">PECAM1</text>
<text transform="translate(1414.2 1364.5) rotate(-45)" font-size="20" text-anchor="end">TEK</text>
<text transform="translate(1440.1 1364.5) rotate(-45)" font-size="20" text-anchor="end">P2RY12</text>
<text transform="translate(1466 1364.5) rotate(-45)" font-size="20" text-anchor="end">PTPRC</text>
<text transform="translate(1491.9 1364.5) rotate(-45)" font-size="20" text-anchor="end">ITGAM</text>
<text transform="translate(1517.8 1364.5) rotate(-45)" font-size="20" text-anchor="end">ITGAX</text>
<text transform="translate(1543.7 1364.5) rotate(-45)" font-size="20" text-anchor="end">S100A8</text>
<text transform="translate(1569.6 1364.5) rotate(-45)" font-size="20" text-anchor="end">CD68</text>
<text transform="translate(1595.5 1364.5) rotate(-45)" font-size="20" text-anchor="end">MRC1</text>
<text transform="translate(1621.4 1364.5) rotate(-45)" font-size="20" text-anchor="end">NKG7</text>
<text transform="translate(1647.3 1364.5) rotate(-45)" font-size="20" text-anchor="end">CD3E</text>
<text transform="translate(1673.2 1364.5) rotate(-45)" font-size="20" text-anchor="end">CD8A</text>
<text transform="translate(1699.1 1364.5) rotate(-45)" font-size="20" text-anchor="end">CD4</text>
<text transform="translate(1725 1364.5) rotate(-45)" font-size="20" text-anchor="end">CD79A</text>
<text transform="translate(1750.9 1364.5) rotate(-45)" font-size="20" text-anchor="end">MKI67</text>
<path d="M1090.5 1440.2H1274.5" stroke="#18599a" stroke-width="4" stroke-linecap="round"/>
<path d="M1238 1453.4H1445" stroke="#149a1f" stroke-width="4" stroke-linecap="round"/>
<path d="M1445 1440.2H1722.5" stroke="#8d1a10" stroke-width="4" stroke-linecap="round"/>
<text x="1183.6" y="1474.2" font-size="26" text-anchor="middle" fill="#1c1b2e">glioma</text>
<text x="1341.9" y="1495.5" font-size="26" text-anchor="middle" fill="#1c1b2e">brain stroma</text>
<text x="1584.9" y="1474.2" font-size="26" text-anchor="middle" fill="#1c1b2e">immune cells</text>
<text x="1793.9" y="965.2" font-size="20">Percent Expressed</text>
<circle cx="1807.9" cy="992.5" r="0.80" fill="#000"/>
<text x="1832.9" y="998.8" font-size="17.5">0</text>
<circle cx="1807.9" cy="1022" r="4.65" fill="#000"/>
<text x="1832.9" y="1028.3" font-size="17.5">25</text>
<circle cx="1807.9" cy="1051.5" r="7.70" fill="#000"/>
<text x="1832.9" y="1057.8" font-size="17.5">50</text>
<circle cx="1807.9" cy="1081" r="10.70" fill="#000"/>
<text x="1832.9" y="1087.3" font-size="17.5">75</text>
<text x="1793.9" y="1162.6" font-size="20">Average Expression</text>
<text x="1832.9" y="1203.3" font-size="17.5">2</text>
<text x="1832.9" y="1246" font-size="17.5">1</text>
<text x="1832.9" y="1289" font-size="17.5">0</text>
<text x="972" y="1548" font-size="40" fill="#1c1b2e">e</text>
<rect x="1133.4" y="1713.14" width="13" height="175.46" fill="#072f4a"/>
<rect x="1133.4" y="1593.55" width="13" height="119.59" fill="#1a5276"/>
<rect x="1133.4" y="1591.17" width="13" height="2.38" fill="#2563c4"/>
<rect x="1133.4" y="1589.47" width="13" height="1.70" fill="#7a4fa6"/>
<rect x="1133.4" y="1557.10" width="13" height="32.37" fill="#964590"/>
<rect x="1133.4" y="1555.40" width="13" height="1.70" fill="#cc4586"/>
<rect x="1133.4" y="1554.03" width="13" height="1.36" fill="#dd5460"/>
<rect x="1133.4" y="1552.67" width="13" height="1.36" fill="#e63c50"/>
<rect x="1133.4" y="1551.31" width="13" height="1.36" fill="#e06a24"/>
<rect x="1133.4" y="1549.26" width="13" height="2.04" fill="#f8911a"/>
<rect x="1133.4" y="1548.58" width="13" height="0.68" fill="#93b04e"/>
<rect x="1133.4" y="1547.90" width="13" height="0.68" fill="#7aa22d"/>
<path d="M1133.4 1713.14h13M1133.4 1593.55h13M1133.4 1591.17h13M1133.4 1589.47h13M1133.4 1557.10h13M1133.4 1555.40h13M1133.4 1554.03h13M1133.4 1552.67h13M1133.4 1551.31h13M1133.4 1549.26h13M1133.4 1548.58h13M1133.4 1547.90h13" stroke="#000" stroke-width="1.6" fill="none"/>
<rect x="1133.4" y="1547.90" width="13" height="340.70" fill="none" stroke="#000" stroke-width="2.2"/>
<rect x="1157.3" y="1802.40" width="13" height="86.20" fill="#072f4a"/>
<rect x="1157.3" y="1571.07" width="13" height="231.34" fill="#1a5276"/>
<rect x="1157.3" y="1567.32" width="13" height="3.75" fill="#2563c4"/>
<rect x="1157.3" y="1565.62" width="13" height="1.70" fill="#7a4fa6"/>
<rect x="1157.3" y="1559.82" width="13" height="5.79" fill="#964590"/>
<rect x="1157.3" y="1558.12" width="13" height="1.70" fill="#cc4586"/>
<rect x="1157.3" y="1556.76" width="13" height="1.36" fill="#dd5460"/>
<rect x="1157.3" y="1555.40" width="13" height="1.36" fill="#e63c50"/>
<rect x="1157.3" y="1551.31" width="13" height="4.09" fill="#e06a24"/>
<rect x="1157.3" y="1549.26" width="13" height="2.04" fill="#f8911a"/>
<rect x="1157.3" y="1548.58" width="13" height="0.68" fill="#93b04e"/>
<rect x="1157.3" y="1547.90" width="13" height="0.68" fill="#7aa22d"/>
<path d="M1157.3 1802.40h13M1157.3 1571.07h13M1157.3 1567.32h13M1157.3 1565.62h13M1157.3 1559.82h13M1157.3 1558.12h13M1157.3 1556.76h13M1157.3 1555.40h13M1157.3 1551.31h13M1157.3 1549.26h13M1157.3 1548.58h13M1157.3 1547.90h13" stroke="#000" stroke-width="1.6" fill="none"/>
<rect x="1157.3" y="1547.90" width="13" height="340.70" fill="none" stroke="#000" stroke-width="2.2"/>
<rect x="1181.1" y="1822.84" width="13" height="65.76" fill="#072f4a"/>
<rect x="1181.1" y="1564.93" width="13" height="257.91" fill="#1a5276"/>
<rect x="1181.1" y="1563.57" width="13" height="1.36" fill="#2563c4"/>
<rect x="1181.1" y="1562.21" width="13" height="1.36" fill="#7a4fa6"/>
<rect x="1181.1" y="1556.76" width="13" height="5.45" fill="#964590"/>
<rect x="1181.1" y="1554.71" width="13" height="2.04" fill="#cc4586"/>
<rect x="1181.1" y="1553.35" width="13" height="1.36" fill="#dd5460"/>
<rect x="1181.1" y="1551.99" width="13" height="1.36" fill="#e63c50"/>
<rect x="1181.1" y="1549.94" width="13" height="2.04" fill="#e06a24"/>
<rect x="1181.1" y="1548.58" width="13" height="1.36" fill="#f8911a"/>
<rect x="1181.1" y="1548.24" width="13" height="0.34" fill="#93b04e"/>
<rect x="1181.1" y="1547.90" width="13" height="0.34" fill="#7aa22d"/>
<path d="M1181.1 1822.84h13M1181.1 1564.93h13M1181.1 1563.57h13M1181.1 1562.21h13M1181.1 1556.76h13M1181.1 1554.71h13M1181.1 1553.35h13M1181.1 1551.99h13M1181.1 1549.94h13M1181.1 1548.58h13M1181.1 1548.24h13M1181.1 1547.90h13" stroke="#000" stroke-width="1.6" fill="none"/>
<rect x="1181.1" y="1547.90" width="13" height="340.70" fill="none" stroke="#000" stroke-width="2.2"/>
<rect x="1205" y="1747.89" width="13" height="140.71" fill="#072f4a"/>
<rect x="1205" y="1605.82" width="13" height="142.07" fill="#1a5276"/>
<rect x="1205" y="1597.98" width="13" height="7.84" fill="#2563c4"/>
<rect x="1205" y="1587.76" width="13" height="10.22" fill="#7a4fa6"/>
<rect x="1205" y="1585.38" width="13" height="2.38" fill="#964590"/>
<rect x="1205" y="1583.33" width="13" height="2.04" fill="#cc4586"/>
<rect x="1205" y="1581.29" width="13" height="2.04" fill="#dd5460"/>
<rect x="1205" y="1554.71" width="13" height="26.57" fill="#e63c50"/>
<rect x="1205" y="1552.67" width="13" height="2.04" fill="#e06a24"/>
<rect x="1205" y="1550.63" width="13" height="2.04" fill="#f8911a"/>
<rect x="1205" y="1549.26" width="13" height="1.36" fill="#93b04e"/>
<rect x="1205" y="1547.90" width="13" height="1.36" fill="#7aa22d"/>
<path d="M1205 1747.89h13M1205 1605.82h13M1205 1597.98h13M1205 1587.76h13M1205 1585.38h13M1205 1583.33h13M1205 1581.29h13M1205 1554.71h13M1205 1552.67h13M1205 1550.63h13M1205 1549.26h13M1205 1547.90h13" stroke="#000" stroke-width="1.6" fill="none"/>
<rect x="1205" y="1547.90" width="13" height="340.70" fill="none" stroke="#000" stroke-width="2.2"/>
<rect x="1228.9" y="1732.56" width="13" height="156.04" fill="#072f4a"/>
<rect x="1228.9" y="1602.41" width="13" height="130.15" fill="#1a5276"/>
<rect x="1228.9" y="1574.82" width="13" height="27.60" fill="#2563c4"/>
<rect x="1228.9" y="1570.73" width="13" height="4.09" fill="#7a4fa6"/>
<rect x="1228.9" y="1568.68" width="13" height="2.04" fill="#964590"/>
<rect x="1228.9" y="1554.03" width="13" height="14.65" fill="#cc4586"/>
<rect x="1228.9" y="1552.33" width="13" height="1.70" fill="#dd5460"/>
<rect x="1228.9" y="1550.97" width="13" height="1.36" fill="#e63c50"/>
<rect x="1228.9" y="1549.94" width="13" height="1.02" fill="#e06a24"/>
<rect x="1228.9" y="1548.92" width="13" height="1.02" fill="#f8911a"/>
<rect x="1228.9" y="1548.24" width="13" height="0.68" fill="#93b04e"/>
<rect x="1228.9" y="1547.90" width="13" height="0.34" fill="#7aa22d"/>
<path d="M1228.9 1732.56h13M1228.9 1602.41h13M1228.9 1574.82h13M1228.9 1570.73h13M1228.9 1568.68h13M1228.9 1554.03h13M1228.9 1552.33h13M1228.9 1550.97h13M1228.9 1549.94h13M1228.9 1548.92h13M1228.9 1548.24h13M1228.9 1547.90h13" stroke="#000" stroke-width="1.6" fill="none"/>
<rect x="1228.9" y="1547.90" width="13" height="340.70" fill="none" stroke="#000" stroke-width="2.2"/>
<rect x="1252.8" y="1791.50" width="13" height="97.10" fill="#072f4a"/>
<rect x="1252.8" y="1599.00" width="13" height="192.50" fill="#1a5276"/>
<rect x="1252.8" y="1594.92" width="13" height="4.09" fill="#2563c4"/>
<rect x="1252.8" y="1593.21" width="13" height="1.70" fill="#7a4fa6"/>
<rect x="1252.8" y="1591.17" width="13" height="2.04" fill="#964590"/>
<rect x="1252.8" y="1568.34" width="13" height="22.83" fill="#cc4586"/>
<rect x="1252.8" y="1563.91" width="13" height="4.43" fill="#dd5460"/>
<rect x="1252.8" y="1561.53" width="13" height="2.38" fill="#e63c50"/>
<rect x="1252.8" y="1558.80" width="13" height="2.73" fill="#e06a24"/>
<rect x="1252.8" y="1556.42" width="13" height="2.38" fill="#f8911a"/>
<rect x="1252.8" y="1554.71" width="13" height="1.70" fill="#93b04e"/>
<rect x="1252.8" y="1553.35" width="13" height="1.36" fill="#7aa22d"/>
<path d="M1252.8 1791.50h13M1252.8 1599.00h13M1252.8 1594.92h13M1252.8 1593.21h13M1252.8 1591.17h13M1252.8 1568.34h13M1252.8 1563.91h13M1252.8 1561.53h13M1252.8 1558.80h13M1252.8 1556.42h13M1252.8 1554.71h13M1252.8 1553.35h13" stroke="#000" stroke-width="1.6" fill="none"/>
<rect x="1252.8" y="1553.35" width="13" height="335.25" fill="none" stroke="#000" stroke-width="2.2"/>
<rect x="1276.6" y="1782.98" width="13" height="105.62" fill="#072f4a"/>
<rect x="1276.6" y="1637.16" width="13" height="145.82" fill="#1a5276"/>
<rect x="1276.6" y="1626.26" width="13" height="10.90" fill="#2563c4"/>
<rect x="1276.6" y="1620.81" width="13" height="5.45" fill="#7a4fa6"/>
<rect x="1276.6" y="1615.36" width="13" height="5.45" fill="#964590"/>
<rect x="1276.6" y="1591.51" width="13" height="23.85" fill="#cc4586"/>
<rect x="1276.6" y="1588.78" width="13" height="2.73" fill="#dd5460"/>
<rect x="1276.6" y="1577.20" width="13" height="11.58" fill="#e63c50"/>
<rect x="1276.6" y="1574.47" width="13" height="2.73" fill="#e06a24"/>
<rect x="1276.6" y="1550.63" width="13" height="23.85" fill="#f8911a"/>
<rect x="1276.6" y="1549.26" width="13" height="1.36" fill="#93b04e"/>
<rect x="1276.6" y="1547.90" width="13" height="1.36" fill="#7aa22d"/>
<path d="M1276.6 1782.98h13M1276.6 1637.16h13M1276.6 1626.26h13M1276.6 1620.81h13M1276.6 1615.36h13M1276.6 1591.51h13M1276.6 1588.78h13M1276.6 1577.20h13M1276.6 1574.47h13M1276.6 1550.63h13M1276.6 1549.26h13M1276.6 1547.90h13" stroke="#000" stroke-width="1.6" fill="none"/>
<rect x="1276.6" y="1547.90" width="13" height="340.70" fill="none" stroke="#000" stroke-width="2.2"/>
<rect x="1300.5" y="1882.81" width="13" height="5.79" fill="#072f4a"/>
<rect x="1300.5" y="1587.08" width="13" height="295.73" fill="#1a5276"/>
<rect x="1300.5" y="1583.67" width="13" height="3.41" fill="#2563c4"/>
<rect x="1300.5" y="1581.97" width="13" height="1.70" fill="#7a4fa6"/>
<rect x="1300.5" y="1563.23" width="13" height="18.74" fill="#964590"/>
<rect x="1300.5" y="1560.85" width="13" height="2.38" fill="#cc4586"/>
<rect x="1300.5" y="1559.48" width="13" height="1.36" fill="#dd5460"/>
<rect x="1300.5" y="1556.08" width="13" height="3.41" fill="#e63c50"/>
<rect x="1300.5" y="1552.67" width="13" height="3.41" fill="#e06a24"/>
<rect x="1300.5" y="1550.63" width="13" height="2.04" fill="#f8911a"/>
<rect x="1300.5" y="1549.26" width="13" height="1.36" fill="#93b04e"/>
<rect x="1300.5" y="1547.90" width="13" height="1.36" fill="#7aa22d"/>
<path d="M1300.5 1882.81h13M1300.5 1587.08h13M1300.5 1583.67h13M1300.5 1581.97h13M1300.5 1563.23h13M1300.5 1560.85h13M1300.5 1559.48h13M1300.5 1556.08h13M1300.5 1552.67h13M1300.5 1550.63h13M1300.5 1549.26h13M1300.5 1547.90h13" stroke="#000" stroke-width="1.6" fill="none"/>
<rect x="1300.5" y="1547.90" width="13" height="340.70" fill="none" stroke="#000" stroke-width="2.2"/>
<rect x="1324.4" y="1725.40" width="13" height="163.20" fill="#072f4a"/>
<rect x="1324.4" y="1697.81" width="13" height="27.60" fill="#1a5276"/>
<rect x="1324.4" y="1614.00" width="13" height="83.81" fill="#2563c4"/>
<rect x="1324.4" y="1596.28" width="13" height="17.72" fill="#7a4fa6"/>
<rect x="1324.4" y="1593.55" width="13" height="2.73" fill="#964590"/>
<rect x="1324.4" y="1590.83" width="13" height="2.73" fill="#cc4586"/>
<rect x="1324.4" y="1575.50" width="13" height="15.33" fill="#dd5460"/>
<rect x="1324.4" y="1573.45" width="13" height="2.04" fill="#e63c50"/>
<rect x="1324.4" y="1572.43" width="13" height="1.02" fill="#e06a24"/>
<rect x="1324.4" y="1571.75" width="13" height="0.68" fill="#f8911a"/>
<rect x="1324.4" y="1557.10" width="13" height="14.65" fill="#93b04e"/>
<rect x="1324.4" y="1547.90" width="13" height="9.20" fill="#7aa22d"/>
<path d="M1324.4 1725.40h13M1324.4 1697.81h13M1324.4 1614.00h13M1324.4 1596.28h13M1324.4 1593.55h13M1324.4 1590.83h13M1324.4 1575.50h13M1324.4 1573.45h13M1324.4 1572.43h13M1324.4 1571.75h13M1324.4 1557.10h13M1324.4 1547.90h13" stroke="#000" stroke-width="1.6" fill="none"/>
<rect x="1324.4" y="1547.90" width="13" height="340.70" fill="none" stroke="#000" stroke-width="2.2"/>
<rect x="1348.2" y="1676.34" width="13" height="212.26" fill="#072f4a"/>
<rect x="1348.2" y="1626.94" width="13" height="49.40" fill="#1a5276"/>
<rect x="1348.2" y="1619.45" width="13" height="7.50" fill="#2563c4"/>
<rect x="1348.2" y="1613.31" width="13" height="6.13" fill="#7a4fa6"/>
<rect x="1348.2" y="1609.91" width="13" height="3.41" fill="#964590"/>
<rect x="1348.2" y="1606.50" width="13" height="3.41" fill="#cc4586"/>
<rect x="1348.2" y="1603.09" width="13" height="3.41" fill="#dd5460"/>
<rect x="1348.2" y="1597.98" width="13" height="5.11" fill="#e63c50"/>
<rect x="1348.2" y="1564.25" width="13" height="33.73" fill="#e06a24"/>
<rect x="1348.2" y="1550.28" width="13" height="13.97" fill="#f8911a"/>
<rect x="1348.2" y="1548.92" width="13" height="1.36" fill="#93b04e"/>
<rect x="1348.2" y="1547.90" width="13" height="1.02" fill="#7aa22d"/>
<path d="M1348.2 1676.34h13M1348.2 1626.94h13M1348.2 1619.45h13M1348.2 1613.31h13M1348.2 1609.91h13M1348.2 1606.50h13M1348.2 1603.09h13M1348.2 1597.98h13M1348.2 1564.25h13M1348.2 1550.28h13M1348.2 1548.92h13M1348.2 1547.90h13" stroke="#000" stroke-width="1.6" fill="none"/>
<rect x="1348.2" y="1547.90" width="13" height="340.70" fill="none" stroke="#000" stroke-width="2.2"/>
<rect x="1372.1" y="1724.72" width="13" height="163.88" fill="#072f4a"/>
<rect x="1372.1" y="1653.18" width="13" height="71.55" fill="#1a5276"/>
<rect x="1372.1" y="1581.97" width="13" height="71.21" fill="#2563c4"/>
<rect x="1372.1" y="1563.23" width="13" height="18.74" fill="#7a4fa6"/>
<rect x="1372.1" y="1561.53" width="13" height="1.70" fill="#964590"/>
<rect x="1372.1" y="1559.82" width="13" height="1.70" fill="#cc4586"/>
<rect x="1372.1" y="1558.12" width="13" height="1.70" fill="#dd5460"/>
<rect x="1372.1" y="1556.76" width="13" height="1.36" fill="#e63c50"/>
<rect x="1372.1" y="1555.74" width="13" height="1.02" fill="#e06a24"/>
<rect x="1372.1" y="1554.71" width="13" height="1.02" fill="#f8911a"/>
<rect x="1372.1" y="1550.28" width="13" height="4.43" fill="#93b04e"/>
<rect x="1372.1" y="1547.90" width="13" height="2.38" fill="#7aa22d"/>
<path d="M1372.1 1724.72h13M1372.1 1653.18h13M1372.1 1581.97h13M1372.1 1563.23h13M1372.1 1561.53h13M1372.1 1559.82h13M1372.1 1558.12h13M1372.1 1556.76h13M1372.1 1555.74h13M1372.1 1554.71h13M1372.1 1550.28h13M1372.1 1547.90h13" stroke="#000" stroke-width="1.6" fill="none"/>
<rect x="1372.1" y="1547.90" width="13" height="340.70" fill="none" stroke="#000" stroke-width="2.2"/>
<rect x="1396" y="1556.08" width="13" height="332.52" fill="#072f4a"/>
<rect x="1396" y="1555.05" width="13" height="1.02" fill="#1a5276"/>
<rect x="1396" y="1549.94" width="13" height="5.11" fill="#2563c4"/>
<rect x="1396" y="1549.60" width="13" height="0.34" fill="#7a4fa6"/>
<rect x="1396" y="1549.26" width="13" height="0.34" fill="#964590"/>
<rect x="1396" y="1548.92" width="13" height="0.34" fill="#cc4586"/>
<rect x="1396" y="1548.58" width="13" height="0.34" fill="#dd5460"/>
<rect x="1396" y="1548.41" width="13" height="0.17" fill="#e63c50"/>
<rect x="1396" y="1548.24" width="13" height="0.17" fill="#e06a24"/>
<rect x="1396" y="1548.07" width="13" height="0.17" fill="#f8911a"/>
<rect x="1396" y="1547.97" width="13" height="0.10" fill="#93b04e"/>
<rect x="1396" y="1547.90" width="13" height="0.07" fill="#7aa22d"/>
<path d="M1396 1556.08h13M1396 1555.05h13M1396 1549.94h13M1396 1549.60h13M1396 1549.26h13M1396 1548.92h13M1396 1548.58h13M1396 1548.41h13M1396 1548.24h13M1396 1548.07h13M1396 1547.97h13M1396 1547.90h13" stroke="#000" stroke-width="1.6" fill="none"/>
<rect x="1396" y="1547.90" width="13" height="340.70" fill="none" stroke="#000" stroke-width="2.2"/>
<rect x="1419.8" y="1563.91" width="13" height="324.69" fill="#072f4a"/>
<rect x="1419.8" y="1562.21" width="13" height="1.70" fill="#1a5276"/>
<rect x="1419.8" y="1555.40" width="13" height="6.81" fill="#2563c4"/>
<rect x="1419.8" y="1553.69" width="13" height="1.70" fill="#7a4fa6"/>
<rect x="1419.8" y="1550.63" width="13" height="3.07" fill="#964590"/>
<rect x="1419.8" y="1549.60" width="13" height="1.02" fill="#cc4586"/>
<rect x="1419.8" y="1549.26" width="13" height="0.34" fill="#dd5460"/>
<rect x="1419.8" y="1548.92" width="13" height="0.34" fill="#e63c50"/>
<rect x="1419.8" y="1548.58" width="13" height="0.34" fill="#e06a24"/>
<rect x="1419.8" y="1548.24" width="13" height="0.34" fill="#f8911a"/>
<rect x="1419.8" y="1548.07" width="13" height="0.17" fill="#93b04e"/>
<rect x="1419.8" y="1547.90" width="13" height="0.17" fill="#7aa22d"/>
<path d="M1419.8 1563.91h13M1419.8 1562.21h13M1419.8 1555.40h13M1419.8 1553.69h13M1419.8 1550.63h13M1419.8 1549.60h13M1419.8 1549.26h13M1419.8 1548.92h13M1419.8 1548.58h13M1419.8 1548.24h13M1419.8 1548.07h13M1419.8 1547.90h13" stroke="#000" stroke-width="1.6" fill="none"/>
<rect x="1419.8" y="1547.90" width="13" height="340.70" fill="none" stroke="#000" stroke-width="2.2"/>
<rect x="1443.7" y="1636.48" width="13" height="252.12" fill="#072f4a"/>
<rect x="1443.7" y="1619.45" width="13" height="17.04" fill="#1a5276"/>
<rect x="1443.7" y="1609.91" width="13" height="9.54" fill="#2563c4"/>
<rect x="1443.7" y="1595.26" width="13" height="14.65" fill="#7a4fa6"/>
<rect x="1443.7" y="1590.15" width="13" height="5.11" fill="#964590"/>
<rect x="1443.7" y="1588.10" width="13" height="2.04" fill="#cc4586"/>
<rect x="1443.7" y="1550.63" width="13" height="37.48" fill="#dd5460"/>
<rect x="1443.7" y="1549.60" width="13" height="1.02" fill="#e63c50"/>
<rect x="1443.7" y="1548.92" width="13" height="0.68" fill="#e06a24"/>
<rect x="1443.7" y="1548.58" width="13" height="0.34" fill="#f8911a"/>
<rect x="1443.7" y="1548.24" width="13" height="0.34" fill="#93b04e"/>
<rect x="1443.7" y="1547.90" width="13" height="0.34" fill="#7aa22d"/>
<path d="M1443.7 1636.48h13M1443.7 1619.45h13M1443.7 1609.91h13M1443.7 1595.26h13M1443.7 1590.15h13M1443.7 1588.10h13M1443.7 1550.63h13M1443.7 1549.60h13M1443.7 1548.92h13M1443.7 1548.58h13M1443.7 1548.24h13M1443.7 1547.90h13" stroke="#000" stroke-width="1.6" fill="none"/>
<rect x="1443.7" y="1547.90" width="13" height="340.70" fill="none" stroke="#000" stroke-width="2.2"/>
<rect x="1467.6" y="1831.70" width="13" height="56.90" fill="#072f4a"/>
<rect x="1467.6" y="1812.28" width="13" height="19.42" fill="#1a5276"/>
<rect x="1467.6" y="1643.30" width="13" height="168.99" fill="#2563c4"/>
<rect x="1467.6" y="1570.39" width="13" height="72.91" fill="#7a4fa6"/>
<rect x="1467.6" y="1568.34" width="13" height="2.04" fill="#964590"/>
<rect x="1467.6" y="1566.98" width="13" height="1.36" fill="#cc4586"/>
<rect x="1467.6" y="1565.62" width="13" height="1.36" fill="#dd5460"/>
<rect x="1467.6" y="1562.21" width="13" height="3.41" fill="#e63c50"/>
<rect x="1467.6" y="1560.51" width="13" height="1.70" fill="#e06a24"/>
<rect x="1467.6" y="1559.48" width="13" height="1.02" fill="#f8911a"/>
<rect x="1467.6" y="1551.99" width="13" height="7.50" fill="#93b04e"/>
<rect x="1467.6" y="1547.90" width="13" height="4.09" fill="#7aa22d"/>
<path d="M1467.6 1831.70h13M1467.6 1812.28h13M1467.6 1643.30h13M1467.6 1570.39h13M1467.6 1568.34h13M1467.6 1566.98h13M1467.6 1565.62h13M1467.6 1562.21h13M1467.6 1560.51h13M1467.6 1559.48h13M1467.6 1551.99h13M1467.6 1547.90h13" stroke="#000" stroke-width="1.6" fill="none"/>
<rect x="1467.6" y="1547.90" width="13" height="340.70" fill="none" stroke="#000" stroke-width="2.2"/>
<rect x="1491.5" y="1801.38" width="13" height="87.22" fill="#072f4a"/>
<rect x="1491.5" y="1586.40" width="13" height="214.98" fill="#1a5276"/>
<rect x="1491.5" y="1570.39" width="13" height="16.01" fill="#2563c4"/>
<rect x="1491.5" y="1567.32" width="13" height="3.07" fill="#7a4fa6"/>
<rect x="1491.5" y="1557.10" width="13" height="10.22" fill="#964590"/>
<rect x="1491.5" y="1555.40" width="13" height="1.70" fill="#cc4586"/>
<rect x="1491.5" y="1553.69" width="13" height="1.70" fill="#dd5460"/>
<rect x="1491.5" y="1552.33" width="13" height="1.36" fill="#e63c50"/>
<rect x="1491.5" y="1550.97" width="13" height="1.36" fill="#e06a24"/>
<rect x="1491.5" y="1549.94" width="13" height="1.02" fill="#f8911a"/>
<rect x="1491.5" y="1548.92" width="13" height="1.02" fill="#93b04e"/>
<rect x="1491.5" y="1547.90" width="13" height="1.02" fill="#7aa22d"/>
<path d="M1491.5 1801.38h13M1491.5 1586.40h13M1491.5 1570.39h13M1491.5 1567.32h13M1491.5 1557.10h13M1491.5 1555.40h13M1491.5 1553.69h13M1491.5 1552.33h13M1491.5 1550.97h13M1491.5 1549.94h13M1491.5 1548.92h13M1491.5 1547.90h13" stroke="#000" stroke-width="1.6" fill="none"/>
<rect x="1491.5" y="1547.90" width="13" height="340.70" fill="none" stroke="#000" stroke-width="2.2"/>
<rect x="1515.3" y="1827.27" width="13" height="61.33" fill="#072f4a"/>
<rect x="1515.3" y="1631.71" width="13" height="195.56" fill="#1a5276"/>
<rect x="1515.3" y="1617.40" width="13" height="14.31" fill="#2563c4"/>
<rect x="1515.3" y="1614.00" width="13" height="3.41" fill="#7a4fa6"/>
<rect x="1515.3" y="1588.10" width="13" height="25.89" fill="#964590"/>
<rect x="1515.3" y="1556.76" width="13" height="31.34" fill="#cc4586"/>
<rect x="1515.3" y="1554.71" width="13" height="2.04" fill="#dd5460"/>
<rect x="1515.3" y="1552.67" width="13" height="2.04" fill="#e63c50"/>
<rect x="1515.3" y="1551.31" width="13" height="1.36" fill="#e06a24"/>
<rect x="1515.3" y="1549.94" width="13" height="1.36" fill="#f8911a"/>
<rect x="1515.3" y="1548.92" width="13" height="1.02" fill="#93b04e"/>
<rect x="1515.3" y="1547.90" width="13" height="1.02" fill="#7aa22d"/>
<path d="M1515.3 1827.27h13M1515.3 1631.71h13M1515.3 1617.40h13M1515.3 1614.00h13M1515.3 1588.10h13M1515.3 1556.76h13M1515.3 1554.71h13M1515.3 1552.67h13M1515.3 1551.31h13M1515.3 1549.94h13M1515.3 1548.92h13M1515.3 1547.90h13" stroke="#000" stroke-width="1.6" fill="none"/>
<rect x="1515.3" y="1547.90" width="13" height="340.70" fill="none" stroke="#000" stroke-width="2.2"/>
<rect x="1539.2" y="1782.98" width="13" height="105.62" fill="#072f4a"/>
<rect x="1539.2" y="1616.72" width="13" height="166.26" fill="#1a5276"/>
<rect x="1539.2" y="1583.33" width="13" height="33.39" fill="#2563c4"/>
<rect x="1539.2" y="1575.16" width="13" height="8.18" fill="#7a4fa6"/>
<rect x="1539.2" y="1570.73" width="13" height="4.43" fill="#964590"/>
<rect x="1539.2" y="1569.02" width="13" height="1.70" fill="#cc4586"/>
<rect x="1539.2" y="1555.74" width="13" height="13.29" fill="#dd5460"/>
<rect x="1539.2" y="1554.03" width="13" height="1.70" fill="#e63c50"/>
<rect x="1539.2" y="1552.67" width="13" height="1.36" fill="#e06a24"/>
<rect x="1539.2" y="1550.97" width="13" height="1.70" fill="#f8911a"/>
<rect x="1539.2" y="1549.60" width="13" height="1.36" fill="#93b04e"/>
<rect x="1539.2" y="1547.90" width="13" height="1.70" fill="#7aa22d"/>
<path d="M1539.2 1782.98h13M1539.2 1616.72h13M1539.2 1583.33h13M1539.2 1575.16h13M1539.2 1570.73h13M1539.2 1569.02h13M1539.2 1555.74h13M1539.2 1554.03h13M1539.2 1552.67h13M1539.2 1550.97h13M1539.2 1549.60h13M1539.2 1547.90h13" stroke="#000" stroke-width="1.6" fill="none"/>
<rect x="1539.2" y="1547.90" width="13" height="340.70" fill="none" stroke="#000" stroke-width="2.2"/>
<path d="M1115.4 1888.60H1123.7M1119 1854.53H1123.7M1115.4 1820.46H1123.7M1119 1786.39H1123.7M1115.4 1752.32H1123.7M1119 1718.25H1123.7M1115.4 1684.18H1123.7M1119 1650.11H1123.7M1115.4 1616.04H1123.7M1119 1581.97H1123.7M1115.4 1547.90H1123.7M1139.9 1888.6V1897M1163.8 1888.6V1897M1187.6 1888.6V1897M1211.5 1888.6V1897M1235.4 1888.6V1897M1259.2 1888.6V1897M1283.1 1888.6V1897M1307 1888.6V1897M1330.9 1888.6V1897M1354.7 1888.6V1897M1378.6 1888.6V1897M1402.5 1888.6V1897M1426.3 1888.6V1897M1450.2 1888.6V1897M1474.1 1888.6V1897M1498 1888.6V1897M1521.8 1888.6V1897M1545.7 1888.6V1897" stroke="#000" stroke-width="2.2" fill="none"/>
<path d="M1123.7 1546.8V1889.8H1560.7" stroke="#000" stroke-width="2.5" fill="none"/>
<text x="1113.3" y="1894.4" font-size="16" text-anchor="end" font-weight="bold">0</text>
<text x="1113.3" y="1826.3" font-size="16" text-anchor="end" font-weight="bold">20</text>
<text x="1113.3" y="1758.1" font-size="16" text-anchor="end" font-weight="bold">40</text>
<text x="1113.3" y="1690" font-size="16" text-anchor="end" font-weight="bold">60</text>
<text x="1113.3" y="1621.8" font-size="16" text-anchor="end" font-weight="bold">80</text>
<text x="1113.3" y="1553.7" font-size="16" text-anchor="end" font-weight="bold">100</text>
<text transform="translate(1081 1716.5) rotate(-90)" font-size="20.9" text-anchor="middle">Composition (percentage of cells)</text>
<text transform="translate(1144.9 1909) rotate(-45)" font-size="17" text-anchor="end">LGG-03</text>
<text transform="translate(1168.8 1909) rotate(-45)" font-size="17" text-anchor="end">LGG-04</text>
<text transform="translate(1192.6 1909) rotate(-45)" font-size="17" text-anchor="end">ndGBM-01</text>
<text transform="translate(1216.5 1909) rotate(-45)" font-size="17" text-anchor="end">ndGBM-02</text>
<text transform="translate(1240.4 1909) rotate(-45)" font-size="17" text-anchor="end">ndGBM-03</text>
<text transform="translate(1264.2 1909) rotate(-45)" font-size="17" text-anchor="end">ndGBM-04</text>
<text transform="translate(1288.1 1909) rotate(-45)" font-size="17" text-anchor="end">ndGBM-05</text>
<text transform="translate(1312 1909) rotate(-45)" font-size="17" text-anchor="end">ndGBM-06</text>
<text transform="translate(1335.9 1909) rotate(-45)" font-size="17" text-anchor="end">ndGBM-07</text>
<text transform="translate(1359.7 1909) rotate(-45)" font-size="17" text-anchor="end">ndGBM-08</text>
<text transform="translate(1383.6 1909) rotate(-45)" font-size="17" text-anchor="end">ndGBM-09</text>
<text transform="translate(1407.5 1909) rotate(-45)" font-size="17" text-anchor="end">ndGBM-10</text>
<text transform="translate(1431.3 1909) rotate(-45)" font-size="17" text-anchor="end">ndGBM-11</text>
<text transform="translate(1455.2 1909) rotate(-45)" font-size="17" text-anchor="end">rGBM-01</text>
<text transform="translate(1479.1 1909) rotate(-45)" font-size="17" text-anchor="end">rGBM-02</text>
<text transform="translate(1503 1909) rotate(-45)" font-size="17" text-anchor="end">rGBM-03</text>
<text transform="translate(1526.8 1909) rotate(-45)" font-size="17" text-anchor="end">rGBM-04</text>
<text transform="translate(1550.7 1909) rotate(-45)" font-size="17" text-anchor="end">rGBM-05</text>
<rect x="1652.5" y="1864.6" width="213.6" height="13.6" fill="#072f4a" stroke="#000" stroke-width="2"/>
<circle cx="1867.6" cy="1871.4" r="4.4" fill="#000"/>
<rect x="1581.4" y="1862" width="17.3" height="13.4" fill="#072f4a" stroke="#000" stroke-width="2"/>
<text x="1608.8" y="1875" font-size="17.5">C1</text>
<rect x="1652.5" y="1841.4" width="212.5" height="13.6" fill="#1a5276" stroke="#000" stroke-width="2"/>
<circle cx="1866.5" cy="1848.2" r="4.4" fill="#000"/>
<rect x="1581.4" y="1839.1" width="17.3" height="13.4" fill="#1a5276" stroke="#000" stroke-width="2"/>
<text x="1608.8" y="1852.1" font-size="17.5">C2</text>
<rect x="1652.5" y="1818.2" width="161.8" height="13.6" fill="#2563c4" stroke="#000" stroke-width="2"/>
<circle cx="1815.8" cy="1825" r="4.4" fill="#000"/>
<rect x="1581.4" y="1816.2" width="17.3" height="13.4" fill="#2563c4" stroke="#000" stroke-width="2"/>
<text x="1608.8" y="1829.2" font-size="17.5">C3</text>
<rect x="1652.5" y="1795.1" width="128.3" height="13.6" fill="#7a4fa6" stroke="#000" stroke-width="2"/>
<circle cx="1782.3" cy="1801.9" r="4.4" fill="#000"/>
<rect x="1581.4" y="1793.2" width="17.3" height="13.4" fill="#7a4fa6" stroke="#000" stroke-width="2"/>
<text x="1608.8" y="1806.2" font-size="17.5">C4</text>
<rect x="1652.5" y="1771.9" width="107.6" height="13.6" fill="#964590" stroke="#000" stroke-width="2"/>
<circle cx="1761.6" cy="1778.7" r="4.4" fill="#000"/>
<rect x="1581.4" y="1770.3" width="17.3" height="13.4" fill="#964590" stroke="#000" stroke-width="2"/>
<text x="1608.8" y="1783.3" font-size="17.5">C5</text>
<rect x="1652.5" y="1748.7" width="104.8" height="13.6" fill="#cc4586" stroke="#000" stroke-width="2"/>
<circle cx="1758.8" cy="1755.5" r="4.4" fill="#000"/>
<rect x="1581.4" y="1747.3" width="17.3" height="13.4" fill="#cc4586" stroke="#000" stroke-width="2"/>
<text x="1608.8" y="1760.3" font-size="17.5">C6</text>
<rect x="1652.5" y="1725.5" width="102" height="13.6" fill="#dd5460" stroke="#000" stroke-width="2"/>
<circle cx="1756" cy="1732.3" r="4.4" fill="#000"/>
<rect x="1581.4" y="1724.4" width="17.3" height="13.4" fill="#dd5460" stroke="#000" stroke-width="2"/>
<text x="1608.8" y="1737.4" font-size="17.5">C7</text>
<rect x="1652.5" y="1702.3" width="81.3" height="13.6" fill="#e63c50" stroke="#000" stroke-width="2"/>
<circle cx="1735.3" cy="1709.1" r="4.4" fill="#000"/>
<rect x="1581.4" y="1701.5" width="17.3" height="13.4" fill="#e63c50" stroke="#000" stroke-width="2"/>
<text x="1608.8" y="1714.5" font-size="17.5">C8</text>
<rect x="1652.5" y="1679.2" width="64" height="13.6" fill="#e06a24" stroke="#000" stroke-width="2"/>
<circle cx="1718" cy="1686" r="4.4" fill="#000"/>
<rect x="1581.4" y="1678.5" width="17.3" height="13.4" fill="#e06a24" stroke="#000" stroke-width="2"/>
<text x="1608.8" y="1691.5" font-size="17.5">C9</text>
<rect x="1652.5" y="1656" width="60.5" height="13.6" fill="#f8911a" stroke="#000" stroke-width="2"/>
<circle cx="1714.5" cy="1662.8" r="4.4" fill="#000"/>
<rect x="1581.4" y="1655.6" width="17.3" height="13.4" fill="#f8911a" stroke="#000" stroke-width="2"/>
<text x="1608.8" y="1668.6" font-size="17.5">C10</text>
<rect x="1652.5" y="1632.8" width="57.7" height="13.6" fill="#93b04e" stroke="#000" stroke-width="2"/>
<circle cx="1711.7" cy="1639.6" r="4.4" fill="#000"/>
<rect x="1581.4" y="1632.6" width="17.3" height="13.4" fill="#93b04e" stroke="#000" stroke-width="2"/>
<text x="1608.8" y="1645.6" font-size="17.5">C11</text>
<rect x="1652.5" y="1609.6" width="3.1" height="13.6" fill="#7aa22d" stroke="#000" stroke-width="2"/>
<circle cx="1657.1" cy="1616.4" r="4.4" fill="#000"/>
<rect x="1581.4" y="1609.7" width="17.3" height="13.4" fill="#7aa22d" stroke="#000" stroke-width="2"/>
<text x="1608.8" y="1622.7" font-size="17.5">C12</text>
<path d="M1651.3 1887.4H1887.5M1652.5 1887.4V1893.5M1678.4 1887.4V1893.5M1704.2 1887.4V1893.5M1730.1 1887.4V1893.5M1756 1887.4V1893.5M1781.8 1887.4V1893.5M1807.7 1887.4V1893.5M1833.6 1887.4V1893.5M1859.5 1887.4V1893.5M1885.3 1887.4V1893.5" stroke="#000" stroke-width="2.5" fill="none"/>
<text transform="translate(1655 1907) rotate(-45)" font-size="14.2" text-anchor="end">256</text>
<text transform="translate(1680.9 1907) rotate(-45)" font-size="14.2" text-anchor="end">512</text>
<text transform="translate(1706.7 1907) rotate(-45)" font-size="14.2" text-anchor="end">1024</text>
<text transform="translate(1732.6 1907) rotate(-45)" font-size="14.2" text-anchor="end">2048</text>
<text transform="translate(1758.5 1907) rotate(-45)" font-size="14.2" text-anchor="end">4096</text>
<text transform="translate(1784.3 1907) rotate(-45)" font-size="14.2" text-anchor="end">8192</text>
<text transform="translate(1810.2 1907) rotate(-45)" font-size="14.2" text-anchor="end">16384</text>
<text transform="translate(1836.1 1907) rotate(-45)" font-size="14.2" text-anchor="end">32768</text>
<text transform="translate(1862 1907) rotate(-45)" font-size="14.2" text-anchor="end">65536</text>
<text transform="translate(1887.8 1907) rotate(-45)" font-size="14.2" text-anchor="end">131072</text>
<text x="1769" y="1961.8" font-size="16" text-anchor="middle">Number of cells</text>
<text x="2" y="2072.4" font-size="40" fill="#1c1b2e">f</text>
<text x="125.5" y="2110" font-size="21.5" text-anchor="middle" font-weight="bold" fill="#161626" textLength="119" lengthAdjust="spacingAndGlyphs">Astrocytoma</text>
<path d="M126.2 2191.6L126.20 2126.30A65.3 65.3 0 0 1 129.07 2126.36Z" fill="#8db132" stroke="#fff" stroke-width="1.3" stroke-linejoin="round"/>
<path d="M126.2 2191.6L129.07 2126.36A65.3 65.3 0 0 1 129.89 2126.40Z" fill="#2b5fa5" stroke="#fff" stroke-width="1.3" stroke-linejoin="round"/>
<path d="M126.2 2191.6L129.89 2126.40A65.3 65.3 0 0 1 131.12 2126.49Z" fill="#e77b21" stroke="#fff" stroke-width="1.3" stroke-linejoin="round"/>
<path d="M126.2 2191.6L131.12 2126.49A65.3 65.3 0 0 1 166.22 2140.00Z" fill="#9b6cc2" stroke="#fff" stroke-width="1.3" stroke-linejoin="round"/>
<path d="M126.2 2191.6L166.22 2140.00A65.3 65.3 0 1 1 77.76 2235.40Z" fill="#cc4c53" stroke="#fff" stroke-width="1.3" stroke-linejoin="round"/>
<path d="M126.2 2191.6L77.76 2235.40A65.3 65.3 0 0 1 120.05 2126.59Z" fill="#033a59" stroke="#fff" stroke-width="1.3" stroke-linejoin="round"/>
<path d="M126.2 2191.6L120.05 2126.59A65.3 65.3 0 0 1 123.33 2126.36Z" fill="#de77b7" stroke="#fff" stroke-width="1.3" stroke-linejoin="round"/>
<path d="M126.2 2191.6L123.33 2126.36A65.3 65.3 0 0 1 126.20 2126.30Z" fill="#f6be2e" stroke="#fff" stroke-width="1.3" stroke-linejoin="round"/>
<text x="305.9" y="2110" font-size="21.5" text-anchor="middle" font-weight="bold" fill="#161626" textLength="179" lengthAdjust="spacingAndGlyphs">Oligodendroglioma</text>
<path d="M302.9 2191.6L302.90 2126.30A65.3 65.3 0 0 1 307.00 2126.43Z" fill="#8db132" stroke="#fff" stroke-width="1.3" stroke-linejoin="round"/>
<path d="M302.9 2191.6L307.00 2126.43A65.3 65.3 0 0 1 307.82 2126.49Z" fill="#2b5fa5" stroke="#fff" stroke-width="1.3" stroke-linejoin="round"/>
<path d="M302.9 2191.6L307.82 2126.49A65.3 65.3 0 0 1 309.05 2126.59Z" fill="#e77b21" stroke="#fff" stroke-width="1.3" stroke-linejoin="round"/>
<path d="M302.9 2191.6L309.05 2126.59A65.3 65.3 0 0 1 315.94 2127.62Z" fill="#9b6cc2" stroke="#fff" stroke-width="1.3" stroke-linejoin="round"/>
<path d="M302.9 2191.6L315.94 2127.62A65.3 65.3 0 0 1 365.72 2209.42Z" fill="#cc4c53" stroke="#fff" stroke-width="1.3" stroke-linejoin="round"/>
<path d="M302.9 2191.6L365.72 2209.42A65.3 65.3 0 1 1 298.39 2126.46Z" fill="#033a59" stroke="#fff" stroke-width="1.3" stroke-linejoin="round"/>
<path d="M302.9 2191.6L298.39 2126.46A65.3 65.3 0 0 1 300.85 2126.33Z" fill="#de77b7" stroke="#fff" stroke-width="1.3" stroke-linejoin="round"/>
<path d="M302.9 2191.6L300.85 2126.33A65.3 65.3 0 0 1 302.90 2126.30Z" fill="#f6be2e" stroke="#fff" stroke-width="1.3" stroke-linejoin="round"/>
<text x="479.6" y="2110" font-size="21.5" text-anchor="middle" font-weight="bold" fill="#161626" textLength="45" lengthAdjust="spacingAndGlyphs">GBM</text>
<path d="M479.4 2191.6L479.40 2126.30A65.3 65.3 0 0 1 500.75 2129.89Z" fill="#8db132" stroke="#fff" stroke-width="1.3" stroke-linejoin="round"/>
<path d="M479.4 2191.6L500.75 2129.89A65.3 65.3 0 0 1 507.94 2132.87Z" fill="#2b5fa5" stroke="#fff" stroke-width="1.3" stroke-linejoin="round"/>
<path d="M479.4 2191.6L507.94 2132.87A65.3 65.3 0 0 1 509.05 2133.42Z" fill="#e77b21" stroke="#fff" stroke-width="1.3" stroke-linejoin="round"/>
<path d="M479.4 2191.6L509.05 2133.42A65.3 65.3 0 0 1 511.93 2134.98Z" fill="#9b6cc2" stroke="#fff" stroke-width="1.3" stroke-linejoin="round"/>
<path d="M479.4 2191.6L511.93 2134.98A65.3 65.3 0 0 1 454.98 2252.16Z" fill="#cc4c53" stroke="#fff" stroke-width="1.3" stroke-linejoin="round"/>
<path d="M479.4 2191.6L454.98 2252.16A65.3 65.3 0 0 1 472.44 2126.67Z" fill="#033a59" stroke="#fff" stroke-width="1.3" stroke-linejoin="round"/>
<path d="M479.4 2191.6L472.44 2126.67A65.3 65.3 0 0 1 476.94 2126.35Z" fill="#de77b7" stroke="#fff" stroke-width="1.3" stroke-linejoin="round"/>
<path d="M479.4 2191.6L476.94 2126.35A65.3 65.3 0 0 1 479.40 2126.30Z" fill="#f6be2e" stroke="#fff" stroke-width="1.3" stroke-linejoin="round"/>
<text x="655.2" y="2110" font-size="21.5" text-anchor="middle" font-weight="bold" fill="#161626" textLength="136" lengthAdjust="spacingAndGlyphs">recurrent GBM</text>
<path d="M656 2191.6L656.00 2126.30A65.3 65.3 0 0 1 710.24 2155.24Z" fill="#8db132" stroke="#fff" stroke-width="1.3" stroke-linejoin="round"/>
<path d="M656 2191.6L710.24 2155.24A65.3 65.3 0 0 1 711.35 2156.96Z" fill="#2b5fa5" stroke="#fff" stroke-width="1.3" stroke-linejoin="round"/>
<path d="M656 2191.6L711.35 2156.96A65.3 65.3 0 0 1 712.62 2159.07Z" fill="#e77b21" stroke="#fff" stroke-width="1.3" stroke-linejoin="round"/>
<path d="M656 2191.6L712.62 2159.07A65.3 65.3 0 0 1 717.58 2169.87Z" fill="#9b6cc2" stroke="#fff" stroke-width="1.3" stroke-linejoin="round"/>
<path d="M656 2191.6L717.58 2169.87A65.3 65.3 0 0 1 604.15 2231.30Z" fill="#cc4c53" stroke="#fff" stroke-width="1.3" stroke-linejoin="round"/>
<path d="M656 2191.6L604.15 2231.30A65.3 65.3 0 0 1 652.72 2126.38Z" fill="#033a59" stroke="#fff" stroke-width="1.3" stroke-linejoin="round"/>
<path d="M656 2191.6L652.72 2126.38A65.3 65.3 0 0 1 653.95 2126.33Z" fill="#de77b7" stroke="#fff" stroke-width="1.3" stroke-linejoin="round"/>
<path d="M656 2191.6L653.95 2126.33A65.3 65.3 0 0 1 656.00 2126.30Z" fill="#f6be2e" stroke="#fff" stroke-width="1.3" stroke-linejoin="round"/>
<text x="961" y="2110" font-size="21.5" text-anchor="middle" font-weight="bold" fill="#161626" textLength="67" lengthAdjust="spacingAndGlyphs">Female</text>
<path d="M961.4 2192.9L961.40 2127.60A65.3 65.3 0 0 1 987.71 2133.13Z" fill="#8db132" stroke="#fff" stroke-width="1.3" stroke-linejoin="round"/>
<path d="M961.4 2192.9L987.71 2133.13A65.3 65.3 0 0 1 988.46 2133.47Z" fill="#2b5fa5" stroke="#fff" stroke-width="1.3" stroke-linejoin="round"/>
<path d="M961.4 2192.9L988.46 2133.47A65.3 65.3 0 0 1 989.57 2133.99Z" fill="#e77b21" stroke="#fff" stroke-width="1.3" stroke-linejoin="round"/>
<path d="M961.4 2192.9L989.57 2133.99A65.3 65.3 0 0 1 991.77 2135.09Z" fill="#9b6cc2" stroke="#fff" stroke-width="1.3" stroke-linejoin="round"/>
<path d="M961.4 2192.9L991.77 2135.09A65.3 65.3 0 1 1 896.61 2184.72Z" fill="#cc4c53" stroke="#fff" stroke-width="1.3" stroke-linejoin="round"/>
<path d="M961.4 2192.9L896.61 2184.72A65.3 65.3 0 0 1 958.12 2127.68Z" fill="#033a59" stroke="#fff" stroke-width="1.3" stroke-linejoin="round"/>
<path d="M961.4 2192.9L958.12 2127.68A65.3 65.3 0 0 1 959.35 2127.63Z" fill="#de77b7" stroke="#fff" stroke-width="1.3" stroke-linejoin="round"/>
<path d="M961.4 2192.9L959.35 2127.63A65.3 65.3 0 0 1 961.40 2127.60Z" fill="#f6be2e" stroke="#fff" stroke-width="1.3" stroke-linejoin="round"/>
<text x="1132.7" y="2107.7" font-size="21.5" text-anchor="middle" font-weight="bold" fill="#161626" textLength="42.4" lengthAdjust="spacingAndGlyphs">Male</text>
<path d="M1138.2 2192.9L1138.20 2127.60A65.3 65.3 0 0 1 1179.82 2142.59Z" fill="#8db132" stroke="#fff" stroke-width="1.3" stroke-linejoin="round"/>
<path d="M1138.2 2192.9L1179.82 2142.59A65.3 65.3 0 0 1 1184.08 2146.44Z" fill="#2b5fa5" stroke="#fff" stroke-width="1.3" stroke-linejoin="round"/>
<path d="M1138.2 2192.9L1184.08 2146.44A65.3 65.3 0 0 1 1184.95 2147.31Z" fill="#e77b21" stroke="#fff" stroke-width="1.3" stroke-linejoin="round"/>
<path d="M1138.2 2192.9L1184.95 2147.31A65.3 65.3 0 0 1 1191.98 2155.86Z" fill="#9b6cc2" stroke="#fff" stroke-width="1.3" stroke-linejoin="round"/>
<path d="M1138.2 2192.9L1191.98 2155.86A65.3 65.3 0 0 1 1146.38 2257.69Z" fill="#cc4c53" stroke="#fff" stroke-width="1.3" stroke-linejoin="round"/>
<path d="M1138.2 2192.9L1146.38 2257.69A65.3 65.3 0 1 1 1130.83 2128.02Z" fill="#033a59" stroke="#fff" stroke-width="1.3" stroke-linejoin="round"/>
<path d="M1138.2 2192.9L1130.83 2128.02A65.3 65.3 0 0 1 1134.92 2127.68Z" fill="#de77b7" stroke="#fff" stroke-width="1.3" stroke-linejoin="round"/>
<path d="M1138.2 2192.9L1134.92 2127.68A65.3 65.3 0 0 1 1138.20 2127.60Z" fill="#f6be2e" stroke="#fff" stroke-width="1.3" stroke-linejoin="round"/>
<text x="1417.9" y="2110" font-size="21.5" text-anchor="middle" font-weight="bold" fill="#161626" textLength="9.9" lengthAdjust="spacingAndGlyphs">II</text>
<path d="M1418.8 2191L1418.80 2125.70A65.3 65.3 0 0 1 1422.08 2125.78Z" fill="#8db132" stroke="#fff" stroke-width="1.3" stroke-linejoin="round"/>
<path d="M1418.8 2191L1422.08 2125.78A65.3 65.3 0 0 1 1422.90 2125.83Z" fill="#2b5fa5" stroke="#fff" stroke-width="1.3" stroke-linejoin="round"/>
<path d="M1418.8 2191L1422.90 2125.83A65.3 65.3 0 0 1 1424.13 2125.92Z" fill="#e77b21" stroke="#fff" stroke-width="1.3" stroke-linejoin="round"/>
<path d="M1418.8 2191L1424.13 2125.92A65.3 65.3 0 0 1 1442.07 2129.99Z" fill="#9b6cc2" stroke="#fff" stroke-width="1.3" stroke-linejoin="round"/>
<path d="M1418.8 2191L1442.07 2129.99A65.3 65.3 0 0 1 1448.08 2249.37Z" fill="#cc4c53" stroke="#fff" stroke-width="1.3" stroke-linejoin="round"/>
<path d="M1418.8 2191L1448.08 2249.37A65.3 65.3 0 1 1 1415.52 2125.78Z" fill="#033a59" stroke="#fff" stroke-width="1.3" stroke-linejoin="round"/>
<path d="M1418.8 2191L1415.52 2125.78A65.3 65.3 0 0 1 1417.57 2125.71Z" fill="#de77b7" stroke="#fff" stroke-width="1.3" stroke-linejoin="round"/>
<path d="M1418.8 2191L1417.57 2125.71A65.3 65.3 0 0 1 1418.80 2125.70Z" fill="#f6be2e" stroke="#fff" stroke-width="1.3" stroke-linejoin="round"/>
<text x="1596.8" y="2110" font-size="21.5" text-anchor="middle" font-weight="bold" fill="#161626" textLength="18.4" lengthAdjust="spacingAndGlyphs">IV</text>
<path d="M1597.9 2191L1597.90 2125.70A65.3 65.3 0 0 1 1636.94 2138.66Z" fill="#8db132" stroke="#fff" stroke-width="1.3" stroke-linejoin="round"/>
<path d="M1597.9 2191L1636.94 2138.66A65.3 65.3 0 0 1 1639.84 2140.95Z" fill="#2b5fa5" stroke="#fff" stroke-width="1.3" stroke-linejoin="round"/>
<path d="M1597.9 2191L1639.84 2140.95A65.3 65.3 0 0 1 1640.78 2141.75Z" fill="#e77b21" stroke="#fff" stroke-width="1.3" stroke-linejoin="round"/>
<path d="M1597.9 2191L1640.78 2141.75A65.3 65.3 0 0 1 1646.34 2147.20Z" fill="#9b6cc2" stroke="#fff" stroke-width="1.3" stroke-linejoin="round"/>
<path d="M1597.9 2191L1646.34 2147.20A65.3 65.3 0 0 1 1562.22 2245.69Z" fill="#cc4c53" stroke="#fff" stroke-width="1.3" stroke-linejoin="round"/>
<path d="M1597.9 2191L1562.22 2245.69A65.3 65.3 0 0 1 1589.72 2126.21Z" fill="#033a59" stroke="#fff" stroke-width="1.3" stroke-linejoin="round"/>
<path d="M1597.9 2191L1589.72 2126.21A65.3 65.3 0 0 1 1593.80 2125.83Z" fill="#de77b7" stroke="#fff" stroke-width="1.3" stroke-linejoin="round"/>
<path d="M1597.9 2191L1593.80 2125.83A65.3 65.3 0 0 1 1597.90 2125.70Z" fill="#f6be2e" stroke="#fff" stroke-width="1.3" stroke-linejoin="round"/>
<text x="1769" y="2059.7" font-size="18.6">Assignment</text>
<rect x="1771" y="2074.2" width="21.5" height="21.6" fill="#f6be2e"/>
<text x="1804.8" y="2091.2" font-size="17.5">BCells</text>
<rect x="1771" y="2101.4" width="21.5" height="21.6" fill="#de77b7"/>
<text x="1804.8" y="2118.4" font-size="17.5">Endo</text>
<rect x="1771" y="2128.6" width="21.5" height="21.6" fill="#033a59"/>
<text x="1804.8" y="2145.6" font-size="17.5">Glioma</text>
<rect x="1771" y="2155.8" width="21.5" height="21.6" fill="#cc4c53"/>
<text x="1804.8" y="2172.8" font-size="17.5">Myeloid</text>
<rect x="1771" y="2183" width="21.5" height="21.6" fill="#9b6cc2"/>
<text x="1804.8" y="2200" font-size="17.5">Oligo</text>
<rect x="1771" y="2210.2" width="21.5" height="21.6" fill="#e77b21"/>
<text x="1804.8" y="2227.2" font-size="17.5">Other</text>
<rect x="1771" y="2237.4" width="21.5" height="21.6" fill="#2b5fa5"/>
<text x="1804.8" y="2254.4" font-size="17.5">Pericytes</text>
<rect x="1771" y="2264.6" width="21.5" height="21.6" fill="#8db132"/>
<text x="1804.8" y="2281.6" font-size="17.5">TCells</text>
</svg>
</body></html>
